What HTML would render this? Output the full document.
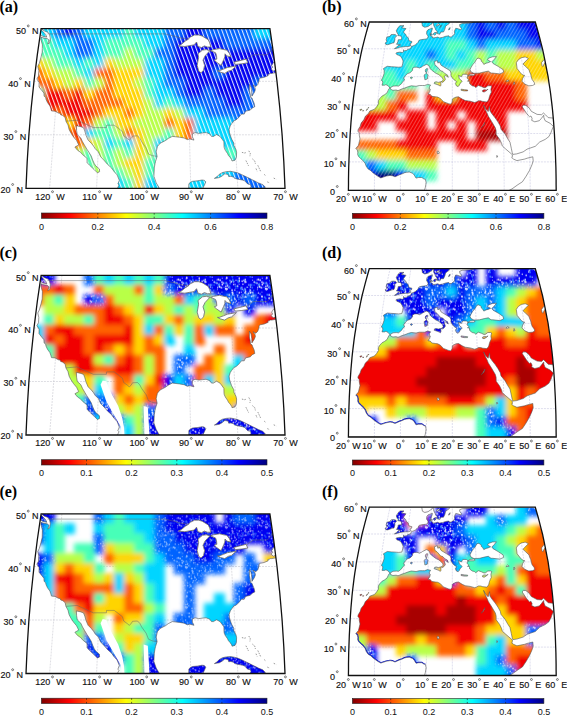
<!DOCTYPE html><html><head><meta charset="utf-8"><style>html,body{margin:0;padding:0;background:#fff;overflow:hidden}svg{display:block}</style></head><body><svg width="567" height="715" viewBox="0 0 567 715"><defs><mask id="mkA" maskUnits="userSpaceOnUse" x="0" y="0" width="567" height="240">
<polygon points="41.1,28.7 269.9,28.7 269.9,28.7 273.7,54.8 277.0,81.3 279.8,108.0 282.1,134.8 283.8,161.5 285.0,188.3 26.0,188.3 26.0,188.3 27.2,161.5 28.9,134.8 31.2,108.0 34.0,81.3 37.3,54.8 41.1,28.7" fill="#fff"/>
<polygon points="16.8,25.6 40.4,25.6 41.5,28.7 44.1,30.8 48.1,32.4 49.5,34.5 50.3,38.1 49.7,42.8 47.8,43.9 49.1,40.2 47.2,38.6 43.9,38.1 41.1,37.1 41.0,39.7 42.4,44.9 42.3,48.3 42.2,52.2 41.1,56.9 39.3,63.3 37.8,66.3 38.8,70.7 38.5,76.0 36.9,79.0 39.1,82.4 39.0,86.9 41.7,90.4 43.9,93.0 44.1,96.2 45.7,97.6 46.0,99.4 47.5,102.6 49.9,105.9 50.8,108.5 51.5,110.9 55.0,111.2 58.4,113.1 60.2,113.3 60.6,114.7 62.8,115.5 65.2,117.6 65.7,120.3 66.0,121.4 68.0,124.9 69.1,129.4 70.7,132.6 73.5,136.9 76.6,140.6 78.7,144.9 74.9,147.1 77.6,150.3 80.7,152.4 82.5,154.6 87.0,158.3 87.1,162.6 89.6,165.3 94.2,169.6 97.4,172.8 99.6,171.7 99.4,169.0 95.7,165.8 94.3,163.7 92.6,159.9 91.3,156.2 88.7,151.9 86.9,149.2 84.7,145.5 82.5,141.7 80.8,138.0 77.3,134.8 76.6,130.5 76.4,125.7 80.9,126.7 83.6,127.8 84.8,131.0 86.0,135.3 88.1,140.1 91.3,143.3 93.5,146.0 95.2,148.7 98.4,151.9 100.6,156.7 104.2,160.5 107.4,164.2 111.6,168.0 113.8,171.2 117.1,174.9 119.3,180.3 117.9,184.0 119.0,185.1 117.4,188.3 118.3,191.5 -2.4,191.5" fill="#000"/>
<polygon points="160.7,191.5 158.8,187.2 156.2,182.9 153.9,176.3 154.3,168.0 155.0,163.7 155.5,161.5 157.1,156.4 156.2,151.9 157.4,146.5 160.1,143.3 165.7,140.4 168.2,138.5 172.3,136.4 179.5,137.2 184.1,138.0 187.3,139.6 189.9,139.0 194.0,140.1 192.4,136.9 192.3,134.0 195.0,132.6 198.7,133.4 202.8,132.9 206.1,132.6 209.8,134.0 211.5,136.4 213.5,136.4 216.5,134.5 220.0,136.4 222.2,139.3 223.9,141.7 224.0,146.5 224.3,148.1 225.3,150.3 227.5,153.5 228.5,155.6 230.0,157.2 231.7,159.7 232.0,161.0 235.0,160.2 235.6,158.9 236.4,157.2 236.6,152.4 236.0,149.7 233.9,145.5 233.8,143.1 231.6,139.0 230.1,134.8 229.5,132.6 229.1,129.4 230.3,125.7 231.6,123.8 233.9,120.8 235.9,120.0 238.7,117.6 241.5,114.1 244.2,114.1 245.6,111.2 250.3,110.1 252.2,108.0 254.8,106.7 254.1,103.2 252.7,100.0 252.0,98.1 250.5,97.3 250.2,94.1 249.4,90.4 249.4,84.5 251.0,87.2 251.8,92.0 251.9,96.2 254.3,92.5 255.4,89.8 255.0,87.7 253.0,85.0 255.8,86.6 257.8,84.5 259.0,80.8 259.1,78.9 260.3,78.1 264.2,77.3 268.2,75.6 267.8,74.4 269.7,73.9 270.3,73.4 271.6,73.4 273.1,73.1 275.1,72.8 276.1,72.6 275.0,70.4 273.3,71.0 271.1,68.9 272.6,67.3 271.7,65.4 273.7,62.2 275.3,61.2 278.6,60.1 289.8,191.5" fill="#000"/>
<polygon points="29.4,24.6 39.3,24.6 40.2,28.7 43.1,31.8 45.7,34.5 46.8,37.1 42.9,36.3 39.1,33.9 34.5,30.8 30.6,26.7" fill="#fff"/>
<polygon points="188.0,191.5 188.7,188.3 188.9,183.7 190.7,182.1 192.6,181.3 197.8,180.8 202.0,180.0 204.3,180.3 205.8,181.9 204.4,185.1 202.8,188.3 202.6,191.5" fill="#fff"/>
<polygon points="214.4,178.4 216.9,176.8 219.2,174.4 222.5,172.5 226.2,171.7 230.4,171.3 234.2,172.0 237.5,172.8 241.2,174.4 244.6,176.0 248.9,178.1 252.7,180.0 256.5,181.9 258.4,182.9 262.7,184.6 265.4,187.2 263.8,188.0 260.5,188.8 254.4,188.8 248.8,189.2 251.0,186.7 250.5,184.6 247.7,184.0 244.7,180.8 242.4,180.0 238.1,179.2 234.8,178.4 233.4,177.1 231.0,176.3 228.7,176.5 228.1,174.4 224.8,173.8 222.1,176.0 219.3,177.6" fill="#fff"/>
<polygon points="178.5,45.9 181.4,44.4 185.1,41.2 187.6,39.7 190.4,37.1 194.5,35.0 198.7,35.0 202.1,36.0 208.2,39.7 209.7,42.8 210.8,47.0 207.4,47.0 204.4,45.9 201.5,47.5 198.0,46.5 197.0,43.3 196.5,42.0 194.1,44.9 189.1,45.7 184.8,46.5" fill="#000"/>
<polygon points="209.8,50.7 206.3,49.6 202.5,50.1 198.0,53.8 198.6,57.5 197.2,65.4 198.8,71.2 201.0,72.8 203.5,70.2 204.6,65.4 203.0,60.1 205.0,55.9 207.4,53.3" fill="#000"/>
<polygon points="210.6,50.7 213.6,49.6 219.5,48.6 223.8,49.6 226.8,50.1 229.3,53.3 230.9,56.9 226.9,55.9 225.0,53.8 224.8,56.9 223.7,59.6 221.1,65.4 216.6,62.2 214.3,60.1 216.8,59.1 216.5,55.4 215.5,52.7" fill="#000"/>
<polygon points="217.5,70.7 220.7,72.3 224.7,73.4 228.1,71.2 231.5,70.2 236.4,65.9 232.1,66.7 227.4,67.5 223.5,69.1 219.3,70.7" fill="#000"/>
<polygon points="235.4,64.4 233.9,62.2 239.8,60.7 246.1,59.1 247.8,62.8 241.8,63.8" fill="#000"/>
</mask><mask id="mkB" maskUnits="userSpaceOnUse" x="0" y="0" width="567" height="240">
<polygon points="369.3,22.0 535.3,22.0 535.3,22.0 536.8,27.3 538.3,32.6 539.7,37.9 541.1,43.4 542.5,48.8 543.7,54.4 544.8,59.9 545.9,65.5 547.0,71.1 548.1,76.7 548.9,82.4 549.8,88.0 550.6,93.7 551.3,99.4 552.0,105.1 552.6,110.8 553.1,116.4 553.6,122.1 554.0,127.8 554.4,133.5 554.7,139.2 555.0,144.8 555.3,150.5 555.5,156.2 555.7,161.9 555.9,167.6 556.0,173.3 556.1,178.9 556.1,184.6 556.2,190.3 348.4,190.3 348.4,190.3 348.5,184.6 348.5,178.9 348.6,173.3 348.7,167.6 348.9,161.9 349.1,156.2 349.3,150.5 349.6,144.8 349.9,139.2 350.2,133.5 350.6,127.8 351.0,122.1 351.5,116.4 352.0,110.8 352.6,105.1 353.3,99.4 354.0,93.7 354.8,88.0 355.7,82.4 356.5,76.7 357.6,71.1 358.7,65.5 359.8,59.9 360.9,54.4 362.1,48.8 363.5,43.4 364.9,37.9 366.3,32.6 367.8,27.3 369.3,22.0" fill="#fff"/>
<polygon points="335.4,190.3 359.9,19.5 421.3,19.5 421.3,21.0 421.8,22.5 422.2,24.6 422.4,26.0 424.8,27.3 428.1,26.5 430.3,24.9 432.1,23.6 433.0,22.3 433.5,24.1 433.8,25.7 435.1,28.1 435.7,29.9 437.1,31.3 437.2,33.6 439.8,34.3 440.2,33.4 440.9,32.0 443.5,32.0 444.9,29.1 445.6,26.2 447.3,24.9 449.2,23.6 449.4,22.0 449.0,20.5 447.2,19.5 455.0,19.5 455.4,20.7 456.4,22.0 459.6,21.7 462.7,21.5 466.7,20.7 470.9,21.5 473.5,22.3 470.0,23.1 465.8,23.3 462.1,23.6 459.6,24.6 459.9,26.5 461.4,28.3 461.0,29.9 457.6,28.6 455.7,28.3 454.4,31.3 454.7,33.4 453.6,35.2 452.3,36.0 451.4,36.9 449.5,36.9 448.8,35.8 445.6,36.3 442.5,37.4 439.6,37.9 437.7,37.1 435.0,37.7 432.4,37.9 432.7,36.9 430.6,35.8 430.2,33.9 431.5,32.0 431.6,31.0 432.1,29.9 432.4,28.1 428.0,29.7 426.8,31.3 426.6,33.9 427.6,35.5 428.1,36.6 427.6,38.2 426.2,39.0 423.8,39.3 421.6,39.6 419.3,40.1 418.7,40.9 418.1,42.3 417.0,43.4 415.5,44.7 414.4,45.3 412.9,46.0 411.6,46.2 410.6,48.5 407.6,49.6 406.4,50.5 404.5,50.7 403.5,49.8 403.4,52.0 402.3,52.6 400.0,52.1 396.6,52.7 395.9,53.2 396.8,54.6 398.5,55.2 400.7,56.3 402.0,58.5 403.1,61.0 402.7,63.8 401.8,66.9 398.5,67.2 396.4,67.0 391.5,66.7 387.3,66.3 385.6,67.2 383.4,68.6 384.2,70.5 384.1,73.6 383.1,76.7 381.3,80.4 382.6,81.0 382.7,82.7 382.0,85.2 384.6,85.2 385.9,84.6 388.2,85.8 389.9,88.0 389.6,88.3 389.1,88.6 388.2,90.3 387.0,92.9 384.4,94.8 382.1,96.0 379.8,98.5 378.4,100.8 378.5,103.9 376.6,106.8 374.4,109.3 369.8,111.0 368.3,113.6 365.4,116.2 363.8,119.8 361.2,123.0 360.1,126.4 358.1,129.8 357.9,131.2 359.2,132.9 359.3,135.2 360.0,138.9 358.9,143.4 358.4,145.4 355.8,148.4 357.3,150.0 357.8,152.2 357.7,154.5 358.6,156.5 360.9,158.8 362.9,160.5 365.1,163.3 366.2,166.2 368.1,169.0 371.0,170.7 372.5,172.4 377.6,176.1 380.8,177.9 386.2,176.1 390.1,175.4 392.6,175.8 395.0,176.8 399.7,174.7 402.3,173.8 404.6,172.7 406.7,172.3 409.3,172.0 412.6,173.3 414.2,175.0 416.0,178.1 418.6,177.5 421.9,177.5 423.8,178.9 425.3,179.2 426.1,182.3 425.8,184.6 425.3,187.5 424.8,189.2 424.2,190.3 424.0,190.3" fill="#000"/>
<polygon points="389.9,88.0 393.0,86.1 396.4,85.9 398.6,86.1 401.7,83.5 402.8,81.5 404.6,80.1 403.6,78.1 405.7,75.3 407.6,73.6 410.0,72.8 412.6,70.3 412.5,68.3 414.7,67.2 416.6,67.2 418.0,67.4 419.4,68.0 421.8,66.9 422.5,66.3 426.4,64.4 428.4,65.2 429.5,66.6 430.2,68.6 431.5,70.0 434.0,71.9 435.9,73.3 438.5,74.5 440.8,76.2 442.5,78.1 443.2,79.8 441.8,81.7 442.4,82.4 444.1,81.2 445.3,79.5 445.1,78.4 444.2,76.4 445.6,75.4 447.5,76.7 448.3,77.3 447.4,74.9 444.9,73.6 442.8,71.4 440.7,70.8 437.0,66.6 435.0,65.2 434.6,62.7 434.4,61.6 436.8,60.7 437.8,60.9 437.4,61.8 438.1,63.2 439.3,61.8 441.1,65.2 443.8,66.9 447.8,69.3 450.2,70.8 451.0,73.1 450.9,75.3 452.3,77.8 454.0,79.8 456.6,81.5 455.4,83.5 456.4,85.8 458.1,86.6 459.3,85.2 460.0,83.5 461.2,82.5 462.2,81.2 459.3,78.7 458.5,75.3 461.4,76.7 462.8,74.2 466.4,74.3 468.1,75.6 466.9,78.1 468.9,79.8 467.5,81.2 469.4,81.2 469.7,83.8 472.2,85.8 474.4,86.3 475.7,87.5 478.3,85.5 481.5,86.6 484.0,87.8 485.7,87.5 487.8,85.8 490.7,85.8 491.7,86.3 491.1,88.3 490.9,89.5 491.3,92.3 490.4,94.0 489.5,96.3 489.3,97.1 488.8,99.1 488.0,100.8 486.6,101.9 482.8,101.5 480.6,100.8 478.3,100.8 476.9,101.7 474.7,102.5 470.2,101.2 465.2,100.5 462.2,99.1 458.5,96.8 456.0,97.1 453.0,98.5 452.4,99.1 452.1,102.2 450.6,104.2 448.6,103.7 443.4,101.7 440.4,98.5 437.7,97.1 435.5,96.8 431.8,96.3 430.2,94.3 428.0,94.0 429.7,91.7 430.3,89.2 429.4,88.6 429.4,86.9 430.6,85.1 428.3,84.6 427.6,84.4 424.6,85.5 422.7,85.5 419.3,85.5 416.1,86.3 411.3,85.8 408.5,86.6 404.0,88.3 402.0,88.9 399.5,90.0 398.0,90.6 396.1,90.0 392.9,90.3 390.5,89.2 390.4,88.3" fill="#000"/>
<polygon points="473.9,73.3 471.0,71.9 470.0,69.7 470.9,67.7 472.5,64.9 474.9,62.1 477.0,58.5 478.8,58.2 481.2,59.6 481.3,61.3 482.5,62.1 483.8,64.4 486.1,63.2 488.1,62.7 490.6,61.6 487.5,59.9 488.5,58.2 492.5,56.8 496.4,56.6 494.3,59.3 491.8,61.8 493.1,63.5 498.5,66.6 503.1,69.7 503.6,72.2 499.9,73.9 492.7,73.1 491.0,73.1 488.3,71.1 484.3,71.9 479.6,73.1 476.1,73.3" fill="#000"/>
<polygon points="473.7,73.9 470.2,74.2 468.3,75.3 467.8,75.9 469.7,75.6 473.3,75.6 475.2,74.7" fill="#000"/>
<polygon points="524.7,57.1 521.3,57.7 518.2,59.9 516.3,62.7 516.9,66.9 517.1,68.6 521.3,73.9 524.0,75.6 524.6,75.3 522.6,78.4 522.0,81.2 524.7,84.1 528.8,85.8 532.4,85.5 534.7,84.4 534.2,82.4 532.1,79.5 531.3,77.0 530.7,74.2 529.6,71.9 529.0,69.7 525.7,66.6 523.0,64.1 524.8,62.1 528.4,58.5 525.6,57.1" fill="#000"/>
<polygon points="545.6,58.0 543.7,59.9 541.5,62.7 542.0,65.5 542.9,66.6 544.2,63.8 546.3,61.3" fill="#000"/>
<polygon points="483.6,105.2 485.1,109.3 487.0,113.0 488.3,116.2 491.8,121.8 495.3,127.8 496.1,130.6 496.2,134.6 499.6,139.2 501.6,143.4 502.3,146.0 505.8,149.1 510.8,153.4 512.4,154.8 512.2,157.3 511.7,157.6 513.5,159.1 516.9,160.6 524.6,159.1 527.2,158.2 532.8,156.8 533.2,160.8 532.0,164.7 529.5,170.4 526.2,176.1 522.4,181.8 518.0,184.6 512.0,188.9 509.4,190.3 509.2,190.3 571.8,190.3 568.5,118.4 557.1,118.4 553.3,118.1 548.2,117.6 545.4,114.7 543.5,113.0 541.6,114.7 537.1,114.4 531.3,111.3 529.3,108.2 525.9,105.4 523.4,105.1 522.2,106.8 523.9,109.3 526.7,113.6 528.4,115.6 529.5,116.7 530.9,116.0 532.1,118.4 531.7,120.4 534.8,121.8 539.3,120.7 541.4,118.4 543.7,115.3 543.9,117.6 545.1,120.7 550.1,123.3 553.4,126.4 551.6,130.6 551.2,132.1 548.9,136.6 545.2,139.4 539.7,142.0 535.3,146.3 527.2,149.1 523.1,151.9 516.7,153.9 512.8,154.4 512.2,152.5 511.3,148.3 510.0,142.3 507.6,138.6 504.9,133.8 501.0,129.2 500.3,126.1 497.9,121.8 495.2,117.9 492.0,113.9 489.9,110.8 489.6,106.5 488.4,110.8 488.1,111.6 485.6,109.1" fill="#000"/>
<polygon points="404.0,25.7 399.8,25.7 397.6,28.3 396.3,30.7 397.2,33.1 398.2,34.4 397.8,35.5 401.0,36.0 401.6,37.7 401.6,39.6 398.2,39.8 398.0,41.2 397.3,43.1 396.4,44.2 398.9,44.5 400.6,45.0 398.2,45.5 396.6,47.2 394.4,48.7 397.9,48.0 399.8,47.2 403.0,46.9 405.7,46.6 408.2,46.6 410.7,45.8 410.8,45.0 409.8,43.9 411.5,43.1 411.9,41.5 409.1,40.8 408.6,39.3 408.2,37.7 406.4,36.3 405.6,34.2 403.7,32.6 403.6,31.8 404.4,30.7 406.0,28.6 403.2,28.1 401.6,27.6 404.0,25.7" fill="#fff"/>
<polygon points="393.2,34.4 391.0,34.7 390.1,36.3 386.9,37.1 386.2,39.6 386.9,41.7 385.1,43.1 385.9,44.5 387.7,44.7 390.0,43.9 392.4,43.1 394.0,42.8 394.9,39.8 394.8,37.9 396.6,36.0 395.6,34.7" fill="#fff"/>
<polygon points="436.4,32.3 436.3,33.4 435.4,34.7 434.3,35.2 433.1,33.9 434.2,32.8" fill="#fff"/>
<polygon points="431.6,33.6 432.4,35.0 430.8,35.2 430.3,34.2" fill="#fff"/>
<polygon points="450.2,27.6 449.7,29.4 448.5,29.9 449.3,28.1" fill="#fff"/>
<polygon points="359.9,109.6 360.3,110.5 361.6,109.9 361.7,109.1" fill="#fff"/>
<polygon points="362.8,110.2 363.0,111.3 363.6,110.5" fill="#fff"/>
<polygon points="367.2,108.8 366.3,110.5 367.4,109.6" fill="#fff"/>
<polygon points="368.6,107.3 367.8,108.2 368.8,107.9" fill="#fff"/>
<polygon points="427.3,68.3 427.5,69.4 426.6,72.8 425.7,72.2 425.3,70.8 425.6,69.4" fill="#fff"/>
<polygon points="426.6,73.2 427.9,75.3 427.3,79.0 424.9,79.8 424.5,77.0 424.1,75.0 425.6,73.9" fill="#fff"/>
<polygon points="441.7,81.5 440.9,82.7 440.9,85.2 440.4,86.1 438.2,84.9 434.1,83.5 434.7,82.1 436.4,81.8 438.3,82.4" fill="#fff"/>
<polygon points="461.1,89.2 461.1,90.3 464.1,90.9 467.5,90.9 467.7,90.0 464.5,89.7" fill="#fff"/>
<polygon points="488.0,89.2 486.6,90.6 484.2,92.0 482.7,91.7 482.4,90.6 484.1,89.7 486.5,90.0" fill="#fff"/>
<polygon points="411.8,77.0 412.5,77.8 411.5,78.7 410.1,77.8" fill="#fff"/>
<polygon points="438.1,23.6 439.7,24.6 436.7,26.2 436.6,25.2" fill="#000"/>
<polygon points="441.4,24.9 439.8,27.8 440.7,27.0" fill="#000"/>
<polygon points="485.0,122.4 482.8,126.4 481.3,127.8 483.8,125.5" fill="#000"/>
<polygon points="507.6,79.8 505.9,81.5 509.2,81.0" fill="#000"/>
<polygon points="514.1,81.8 513.6,84.4 515.0,83.8" fill="#000"/>
<polygon points="496.9,155.4 496.7,157.3 497.7,156.8" fill="#000"/>
<polygon points="437.1,151.4 437.6,153.9 439.4,153.1 438.4,151.1" fill="#000"/>
<polygon points="473.9,20.0 475.1,22.0 478.2,21.2 476.9,19.5" fill="#000"/>
</mask><clipPath id="cfA"><polygon points="41.1,28.7 269.9,28.7 269.9,28.7 273.7,54.8 277.0,81.3 279.8,108.0 282.1,134.8 283.8,161.5 285.0,188.3 26.0,188.3 26.0,188.3 27.2,161.5 28.9,134.8 31.2,108.0 34.0,81.3 37.3,54.8 41.1,28.7"/></clipPath><clipPath id="cfB"><polygon points="369.3,22.0 535.3,22.0 535.3,22.0 536.8,27.3 538.3,32.6 539.7,37.9 541.1,43.4 542.5,48.8 543.7,54.4 544.8,59.9 545.9,65.5 547.0,71.1 548.1,76.7 548.9,82.4 549.8,88.0 550.6,93.7 551.3,99.4 552.0,105.1 552.6,110.8 553.1,116.4 553.6,122.1 554.0,127.8 554.4,133.5 554.7,139.2 555.0,144.8 555.3,150.5 555.5,156.2 555.7,161.9 555.9,167.6 556.0,173.3 556.1,178.9 556.1,184.6 556.2,190.3 348.4,190.3 348.4,190.3 348.5,184.6 348.5,178.9 348.6,173.3 348.7,167.6 348.9,161.9 349.1,156.2 349.3,150.5 349.6,144.8 349.9,139.2 350.2,133.5 350.6,127.8 351.0,122.1 351.5,116.4 352.0,110.8 352.6,105.1 353.3,99.4 354.0,93.7 354.8,88.0 355.7,82.4 356.5,76.7 357.6,71.1 358.7,65.5 359.8,59.9 360.9,54.4 362.1,48.8 363.5,43.4 364.9,37.9 366.3,32.6 367.8,27.3 369.3,22.0"/></clipPath><filter id="bl" x="-5%" y="-5%" width="110%" height="110%"><feGaussianBlur stdDeviation="2.5"/></filter><pattern id="stA" patternUnits="userSpaceOnUse" width="3.8" height="3.8" patternTransform="rotate(-20)"><rect x="0" y="0" width="1.1" height="3.8" fill="#fff"/></pattern><pattern id="stB" patternUnits="userSpaceOnUse" width="3" height="3" patternTransform="rotate(30)"><rect x="0" y="0" width="0.9" height="3" fill="#fff"/></pattern><pattern id="spk" patternUnits="userSpaceOnUse" width="40" height="40"><circle cx="12.95" cy="6.03" r="0.83" fill="#fff"/><circle cx="2.90" cy="21.44" r="0.68" fill="#fff"/><circle cx="2.32" cy="20.30" r="0.52" fill="#fff"/><circle cx="17.35" cy="2.79" r="0.55" fill="#fff"/><circle cx="16.98" cy="33.07" r="0.56" fill="#fff"/><circle cx="8.93" cy="25.10" r="0.97" fill="#fff"/><circle cx="23.08" cy="15.87" r="0.99" fill="#fff"/><circle cx="1.86" cy="34.34" r="0.64" fill="#fff"/><circle cx="5.77" cy="4.71" r="0.65" fill="#fff"/><circle cx="32.65" cy="7.23" r="0.79" fill="#fff"/><circle cx="25.56" cy="14.90" r="0.77" fill="#fff"/><circle cx="2.51" cy="2.38" r="0.60" fill="#fff"/><circle cx="27.22" cy="17.10" r="0.66" fill="#fff"/><circle cx="23.42" cy="18.13" r="0.65" fill="#fff"/><circle cx="31.78" cy="27.96" r="0.62" fill="#fff"/><circle cx="22.98" cy="21.01" r="0.94" fill="#fff"/><circle cx="29.18" cy="11.52" r="0.99" fill="#fff"/><circle cx="4.72" cy="16.72" r="0.88" fill="#fff"/><circle cx="6.08" cy="19.56" r="0.52" fill="#fff"/><circle cx="26.73" cy="30.58" r="0.79" fill="#fff"/><circle cx="35.02" cy="12.55" r="0.85" fill="#fff"/><circle cx="23.77" cy="23.20" r="0.73" fill="#fff"/><circle cx="33.60" cy="37.79" r="0.74" fill="#fff"/><circle cx="26.57" cy="2.43" r="0.85" fill="#fff"/><circle cx="25.89" cy="39.72" r="0.91" fill="#fff"/><circle cx="11.38" cy="15.43" r="0.83" fill="#fff"/><circle cx="0.90" cy="18.47" r="0.58" fill="#fff"/><circle cx="4.68" cy="2.36" r="0.88" fill="#fff"/><circle cx="5.17" cy="9.90" r="0.70" fill="#fff"/><circle cx="34.86" cy="3.22" r="0.72" fill="#fff"/><circle cx="21.98" cy="35.34" r="0.91" fill="#fff"/><circle cx="34.56" cy="11.14" r="0.71" fill="#fff"/><circle cx="14.35" cy="35.37" r="0.98" fill="#fff"/><circle cx="6.04" cy="7.05" r="0.62" fill="#fff"/><circle cx="9.33" cy="19.40" r="0.79" fill="#fff"/><circle cx="10.51" cy="0.16" r="0.71" fill="#fff"/><circle cx="14.77" cy="22.65" r="0.98" fill="#fff"/><circle cx="27.62" cy="20.62" r="0.81" fill="#fff"/><circle cx="27.05" cy="2.16" r="0.95" fill="#fff"/><circle cx="31.20" cy="34.98" r="0.90" fill="#fff"/><circle cx="15.70" cy="15.96" r="0.55" fill="#fff"/><circle cx="25.37" cy="2.49" r="0.53" fill="#fff"/><circle cx="8.35" cy="6.49" r="0.67" fill="#fff"/><circle cx="2.10" cy="0.01" r="0.58" fill="#fff"/><circle cx="4.06" cy="14.54" r="0.51" fill="#fff"/><circle cx="34.97" cy="24.56" r="0.57" fill="#fff"/><circle cx="10.09" cy="13.90" r="0.68" fill="#fff"/><circle cx="4.91" cy="33.96" r="1.00" fill="#fff"/><circle cx="18.64" cy="19.35" r="0.54" fill="#fff"/><circle cx="4.09" cy="13.71" r="0.63" fill="#fff"/><circle cx="33.15" cy="6.46" r="0.51" fill="#fff"/><circle cx="38.04" cy="21.13" r="0.57" fill="#fff"/><circle cx="21.73" cy="1.08" r="0.76" fill="#fff"/><circle cx="39.14" cy="34.53" r="0.85" fill="#fff"/><circle cx="10.44" cy="14.67" r="0.58" fill="#fff"/><circle cx="30.88" cy="21.30" r="0.89" fill="#fff"/><circle cx="13.19" cy="8.92" r="0.91" fill="#fff"/><circle cx="39.40" cy="34.11" r="0.90" fill="#fff"/><circle cx="32.73" cy="29.59" r="0.61" fill="#fff"/><circle cx="20.71" cy="14.22" r="0.51" fill="#fff"/><circle cx="1.12" cy="11.18" r="0.63" fill="#fff"/><circle cx="27.70" cy="38.26" r="0.72" fill="#fff"/><circle cx="37.48" cy="39.52" r="0.98" fill="#fff"/><circle cx="14.59" cy="8.82" r="0.61" fill="#fff"/><circle cx="7.87" cy="8.17" r="0.81" fill="#fff"/><circle cx="36.01" cy="33.62" r="0.74" fill="#fff"/><circle cx="26.12" cy="31.99" r="0.54" fill="#fff"/><circle cx="26.42" cy="36.39" r="0.89" fill="#fff"/><circle cx="30.01" cy="19.12" r="0.59" fill="#fff"/><circle cx="31.57" cy="13.30" r="0.90" fill="#fff"/><circle cx="38.87" cy="15.83" r="0.70" fill="#fff"/><circle cx="37.87" cy="28.99" r="0.59" fill="#fff"/><circle cx="5.08" cy="6.05" r="0.95" fill="#fff"/><circle cx="32.26" cy="5.85" r="0.91" fill="#fff"/><circle cx="39.21" cy="26.29" r="0.68" fill="#fff"/><circle cx="21.95" cy="5.24" r="0.51" fill="#fff"/><circle cx="38.84" cy="25.99" r="0.76" fill="#fff"/><circle cx="37.34" cy="17.35" r="0.94" fill="#fff"/><circle cx="33.05" cy="8.44" r="0.63" fill="#fff"/><circle cx="11.72" cy="9.62" r="0.79" fill="#fff"/><circle cx="10.37" cy="16.76" r="0.57" fill="#fff"/><circle cx="36.40" cy="14.15" r="0.73" fill="#fff"/><circle cx="23.33" cy="36.17" r="0.71" fill="#fff"/><circle cx="36.71" cy="20.07" r="0.77" fill="#fff"/><circle cx="20.94" cy="0.75" r="0.72" fill="#fff"/><circle cx="7.32" cy="0.16" r="0.90" fill="#fff"/><circle cx="6.89" cy="18.94" r="0.86" fill="#fff"/><circle cx="22.26" cy="13.04" r="0.76" fill="#fff"/><circle cx="22.22" cy="31.37" r="0.55" fill="#fff"/><circle cx="22.41" cy="9.94" r="0.64" fill="#fff"/><circle cx="30.89" cy="20.31" r="0.78" fill="#fff"/><circle cx="30.40" cy="36.50" r="0.72" fill="#fff"/><circle cx="24.50" cy="20.22" r="0.76" fill="#fff"/><circle cx="27.71" cy="18.09" r="0.77" fill="#fff"/><circle cx="19.12" cy="37.66" r="0.85" fill="#fff"/><circle cx="35.06" cy="37.69" r="0.63" fill="#fff"/><circle cx="22.38" cy="37.73" r="0.92" fill="#fff"/><circle cx="5.49" cy="4.86" r="0.72" fill="#fff"/><circle cx="2.90" cy="9.63" r="0.54" fill="#fff"/><circle cx="26.78" cy="31.36" r="0.95" fill="#fff"/><circle cx="6.18" cy="28.64" r="0.83" fill="#fff"/><circle cx="5.72" cy="35.31" r="0.98" fill="#fff"/><circle cx="8.78" cy="38.10" r="0.70" fill="#fff"/><circle cx="19.49" cy="39.59" r="0.92" fill="#fff"/><circle cx="6.46" cy="17.26" r="0.76" fill="#fff"/><circle cx="13.56" cy="7.83" r="0.66" fill="#fff"/><circle cx="28.89" cy="0.78" r="0.78" fill="#fff"/><circle cx="17.62" cy="0.72" r="0.67" fill="#fff"/><circle cx="24.96" cy="20.49" r="0.53" fill="#fff"/><circle cx="39.40" cy="31.53" r="0.99" fill="#fff"/><circle cx="4.19" cy="10.62" r="0.52" fill="#fff"/><circle cx="31.16" cy="10.82" r="0.56" fill="#fff"/><circle cx="16.89" cy="36.46" r="0.91" fill="#fff"/><circle cx="10.34" cy="5.97" r="0.96" fill="#fff"/><circle cx="22.82" cy="28.02" r="0.54" fill="#fff"/><circle cx="2.30" cy="27.53" r="0.71" fill="#fff"/><circle cx="2.90" cy="37.53" r="0.82" fill="#fff"/><circle cx="32.07" cy="3.35" r="0.93" fill="#fff"/><circle cx="2.66" cy="34.51" r="0.73" fill="#fff"/><circle cx="13.57" cy="22.12" r="0.96" fill="#fff"/><circle cx="10.71" cy="5.17" r="0.76" fill="#fff"/><circle cx="9.54" cy="4.38" r="0.58" fill="#fff"/><circle cx="2.02" cy="8.07" r="0.66" fill="#fff"/><circle cx="12.20" cy="30.38" r="0.64" fill="#fff"/><circle cx="20.00" cy="7.12" r="0.67" fill="#fff"/><circle cx="0.73" cy="10.02" r="0.51" fill="#fff"/><circle cx="29.32" cy="22.04" r="0.59" fill="#fff"/><circle cx="18.99" cy="37.39" r="0.55" fill="#fff"/><circle cx="32.76" cy="17.29" r="0.75" fill="#fff"/><circle cx="33.38" cy="15.72" r="0.75" fill="#fff"/><circle cx="27.51" cy="39.30" r="0.67" fill="#fff"/><circle cx="33.29" cy="28.27" r="0.82" fill="#fff"/><circle cx="16.19" cy="13.90" r="0.53" fill="#fff"/><circle cx="5.19" cy="2.83" r="0.87" fill="#fff"/><circle cx="10.22" cy="6.53" r="0.54" fill="#fff"/><circle cx="33.65" cy="34.82" r="0.84" fill="#fff"/><circle cx="11.28" cy="9.69" r="0.65" fill="#fff"/><circle cx="18.38" cy="6.30" r="0.72" fill="#fff"/><circle cx="10.53" cy="38.47" r="0.99" fill="#fff"/><circle cx="21.88" cy="9.78" r="0.98" fill="#fff"/><circle cx="12.38" cy="14.26" r="0.50" fill="#fff"/><circle cx="15.27" cy="18.99" r="0.75" fill="#fff"/><circle cx="8.04" cy="20.19" r="0.50" fill="#fff"/><circle cx="10.57" cy="3.59" r="0.70" fill="#fff"/><circle cx="1.67" cy="0.90" r="0.65" fill="#fff"/><circle cx="9.31" cy="23.42" r="0.76" fill="#fff"/><circle cx="30.02" cy="26.30" r="0.86" fill="#fff"/><circle cx="35.16" cy="15.58" r="0.66" fill="#fff"/><circle cx="39.39" cy="5.98" r="0.86" fill="#fff"/><circle cx="25.73" cy="1.75" r="0.92" fill="#fff"/><circle cx="35.68" cy="25.09" r="0.87" fill="#fff"/><circle cx="32.49" cy="5.57" r="0.76" fill="#fff"/><circle cx="20.17" cy="33.40" r="0.90" fill="#fff"/><circle cx="33.06" cy="23.36" r="0.95" fill="#fff"/><circle cx="27.32" cy="27.73" r="0.61" fill="#fff"/><circle cx="1.25" cy="5.32" r="0.68" fill="#fff"/><circle cx="4.20" cy="33.43" r="0.78" fill="#fff"/><circle cx="25.11" cy="25.05" r="0.84" fill="#fff"/><circle cx="19.57" cy="0.13" r="0.90" fill="#fff"/><circle cx="29.93" cy="20.12" r="0.77" fill="#fff"/><circle cx="26.37" cy="2.64" r="0.87" fill="#fff"/><circle cx="10.09" cy="2.98" r="0.63" fill="#fff"/><circle cx="29.17" cy="8.21" r="0.87" fill="#fff"/><circle cx="39.03" cy="19.76" r="0.69" fill="#fff"/><circle cx="19.16" cy="27.35" r="0.88" fill="#fff"/><circle cx="24.68" cy="25.71" r="0.54" fill="#fff"/><circle cx="5.90" cy="10.16" r="0.87" fill="#fff"/><circle cx="12.18" cy="22.71" r="0.51" fill="#fff"/><circle cx="2.43" cy="10.75" r="0.84" fill="#fff"/><circle cx="27.69" cy="27.03" r="0.65" fill="#fff"/><circle cx="20.66" cy="18.59" r="0.73" fill="#fff"/><circle cx="4.74" cy="35.75" r="0.60" fill="#fff"/><circle cx="39.13" cy="37.45" r="0.51" fill="#fff"/><circle cx="18.36" cy="32.80" r="0.98" fill="#fff"/><circle cx="17.98" cy="10.75" r="0.60" fill="#fff"/><circle cx="37.82" cy="8.43" r="0.79" fill="#fff"/><circle cx="5.67" cy="20.96" r="0.98" fill="#fff"/><circle cx="5.30" cy="32.81" r="0.75" fill="#fff"/><circle cx="35.47" cy="28.13" r="0.62" fill="#fff"/><circle cx="35.91" cy="19.45" r="0.51" fill="#fff"/><circle cx="0.14" cy="19.67" r="0.73" fill="#fff"/><circle cx="12.08" cy="5.63" r="0.67" fill="#fff"/><circle cx="12.64" cy="33.61" r="0.50" fill="#fff"/><circle cx="30.03" cy="33.56" r="0.56" fill="#fff"/><circle cx="37.06" cy="28.52" r="0.95" fill="#fff"/><circle cx="11.59" cy="14.89" r="0.70" fill="#fff"/><circle cx="39.95" cy="23.57" r="0.68" fill="#fff"/><circle cx="17.12" cy="11.01" r="0.52" fill="#fff"/><circle cx="4.07" cy="33.39" r="0.64" fill="#fff"/><circle cx="37.42" cy="9.97" r="0.63" fill="#fff"/><circle cx="20.44" cy="7.59" r="0.79" fill="#3a8cff"/><circle cx="38.25" cy="35.37" r="1.01" fill="#3a8cff"/><circle cx="25.24" cy="36.54" r="1.07" fill="#3a8cff"/><circle cx="21.97" cy="28.78" r="0.62" fill="#3a8cff"/><circle cx="29.29" cy="18.03" r="0.98" fill="#3a8cff"/><circle cx="25.78" cy="11.45" r="0.62" fill="#3a8cff"/><circle cx="37.07" cy="5.09" r="0.84" fill="#3a8cff"/><circle cx="13.75" cy="11.91" r="0.97" fill="#3a8cff"/><circle cx="39.05" cy="10.41" r="0.93" fill="#3a8cff"/><circle cx="12.03" cy="22.29" r="0.80" fill="#3a8cff"/><circle cx="6.69" cy="6.47" r="0.70" fill="#3a8cff"/><circle cx="36.24" cy="19.88" r="0.71" fill="#3a8cff"/><circle cx="36.25" cy="39.86" r="0.82" fill="#3a8cff"/><circle cx="5.58" cy="7.70" r="0.65" fill="#3a8cff"/><circle cx="13.68" cy="3.64" r="0.72" fill="#3a8cff"/><circle cx="10.33" cy="22.78" r="1.04" fill="#3a8cff"/><circle cx="29.99" cy="16.51" r="0.81" fill="#3a8cff"/><circle cx="20.97" cy="15.07" r="0.77" fill="#3a8cff"/><circle cx="2.48" cy="11.10" r="1.08" fill="#3a8cff"/><circle cx="5.03" cy="20.14" r="0.91" fill="#3a8cff"/><circle cx="34.51" cy="8.64" r="0.74" fill="#3a8cff"/><circle cx="9.94" cy="15.99" r="0.82" fill="#3a8cff"/><circle cx="38.16" cy="33.95" r="1.04" fill="#3a8cff"/><circle cx="0.87" cy="1.29" r="0.95" fill="#3a8cff"/><circle cx="35.83" cy="18.93" r="0.89" fill="#3a8cff"/><circle cx="0.01" cy="15.66" r="1.06" fill="#3a8cff"/><circle cx="33.02" cy="34.22" r="1.09" fill="#3a8cff"/><circle cx="9.94" cy="4.36" r="0.68" fill="#3a8cff"/><circle cx="20.89" cy="27.28" r="1.07" fill="#3a8cff"/><circle cx="28.87" cy="25.89" r="0.98" fill="#3a8cff"/><circle cx="18.29" cy="22.06" r="0.62" fill="#3a8cff"/><circle cx="31.29" cy="9.30" r="1.06" fill="#3a8cff"/><circle cx="25.82" cy="12.15" r="0.66" fill="#3a8cff"/><circle cx="10.07" cy="25.45" r="0.95" fill="#3a8cff"/><circle cx="4.49" cy="2.81" r="0.86" fill="#3a8cff"/><circle cx="23.32" cy="15.52" r="0.71" fill="#3a8cff"/><circle cx="24.04" cy="0.42" r="0.75" fill="#3a8cff"/><circle cx="18.43" cy="38.36" r="0.92" fill="#3a8cff"/><circle cx="35.35" cy="19.01" r="0.72" fill="#3a8cff"/><circle cx="9.88" cy="38.42" r="0.95" fill="#3a8cff"/><circle cx="12.30" cy="0.87" r="0.85" fill="#3a8cff"/><circle cx="26.98" cy="16.80" r="0.73" fill="#3a8cff"/><circle cx="26.69" cy="37.01" r="0.71" fill="#3a8cff"/><circle cx="1.36" cy="13.52" r="0.81" fill="#3a8cff"/><circle cx="27.30" cy="7.92" r="1.00" fill="#3a8cff"/><circle cx="29.57" cy="20.20" r="0.70" fill="#3a8cff"/><circle cx="38.79" cy="12.47" r="1.01" fill="#3a8cff"/><circle cx="9.23" cy="8.86" r="0.98" fill="#3a8cff"/><circle cx="11.80" cy="38.08" r="0.85" fill="#3a8cff"/><circle cx="7.49" cy="8.93" r="0.81" fill="#3a8cff"/><circle cx="26.61" cy="37.95" r="0.67" fill="#3a8cff"/><circle cx="15.74" cy="8.52" r="1.09" fill="#3a8cff"/><circle cx="5.68" cy="2.07" r="0.63" fill="#3a8cff"/><circle cx="15.73" cy="35.93" r="1.04" fill="#3a8cff"/><circle cx="29.31" cy="39.90" r="1.07" fill="#3a8cff"/><circle cx="13.17" cy="7.42" r="1.07" fill="#3a8cff"/><circle cx="29.85" cy="1.28" r="0.93" fill="#3a8cff"/><circle cx="15.14" cy="14.96" r="0.77" fill="#3a8cff"/><circle cx="6.77" cy="0.11" r="0.74" fill="#3a8cff"/><circle cx="14.06" cy="38.22" r="0.66" fill="#3a8cff"/><circle cx="38.57" cy="8.30" r="0.78" fill="#3a8cff"/><circle cx="32.86" cy="32.88" r="0.82" fill="#3a8cff"/><circle cx="1.97" cy="18.94" r="0.79" fill="#3a8cff"/><circle cx="36.78" cy="7.72" r="0.78" fill="#3a8cff"/><circle cx="35.88" cy="1.21" r="0.81" fill="#3a8cff"/><circle cx="32.47" cy="30.67" r="0.62" fill="#3a8cff"/><circle cx="1.39" cy="2.50" r="1.06" fill="#3a8cff"/><circle cx="10.28" cy="29.89" r="1.05" fill="#3a8cff"/><circle cx="13.56" cy="10.89" r="1.08" fill="#3a8cff"/><circle cx="24.68" cy="10.49" r="0.96" fill="#3a8cff"/><circle cx="12.66" cy="11.03" r="0.60" fill="#3a8cff"/><circle cx="30.23" cy="36.66" r="0.92" fill="#3a8cff"/><circle cx="37.73" cy="0.97" r="0.72" fill="#3a8cff"/><circle cx="19.01" cy="38.27" r="1.08" fill="#3a8cff"/><circle cx="15.46" cy="10.04" r="0.81" fill="#3a8cff"/><circle cx="19.74" cy="37.12" r="0.69" fill="#3a8cff"/><circle cx="32.10" cy="29.54" r="1.01" fill="#3a8cff"/><circle cx="30.91" cy="24.29" r="0.76" fill="#3a8cff"/><circle cx="12.78" cy="14.47" r="0.99" fill="#3a8cff"/><circle cx="3.16" cy="7.89" r="0.98" fill="#3a8cff"/><circle cx="9.89" cy="2.59" r="0.62" fill="#3a8cff"/><circle cx="22.10" cy="13.03" r="1.09" fill="#3a8cff"/><circle cx="35.34" cy="39.51" r="0.73" fill="#3a8cff"/><circle cx="3.36" cy="3.86" r="0.85" fill="#3a8cff"/><circle cx="28.39" cy="17.88" r="0.72" fill="#3a8cff"/><circle cx="16.67" cy="24.81" r="0.94" fill="#3a8cff"/><circle cx="29.92" cy="33.88" r="0.93" fill="#3a8cff"/><circle cx="4.85" cy="33.63" r="0.75" fill="#3a8cff"/><circle cx="22.68" cy="14.92" r="0.97" fill="#3a8cff"/><circle cx="7.97" cy="9.90" r="0.72" fill="#3a8cff"/></pattern><filter id="bl1" x="-20%" y="-20%" width="140%" height="140%"><feGaussianBlur stdDeviation="0.7"/></filter></defs><rect width="567" height="715" fill="#fff"/>
<g transform="translate(0,0.0)">
<text x="-0.6" y="11.6" font-size="16" font-weight="bold" font-family="Liberation Serif, serif" fill="#000">(a)</text>
<line x1="61.9" y1="28.7" x2="49.6" y2="188.3" stroke="#c8c8d0" stroke-width="0.6" stroke-dasharray="2,1"/>
<line x1="103.5" y1="28.7" x2="96.6" y2="188.3" stroke="#c8c8d0" stroke-width="0.6" stroke-dasharray="2,1"/>
<line x1="145.1" y1="28.7" x2="143.7" y2="188.3" stroke="#c8c8d0" stroke-width="0.6" stroke-dasharray="2,1"/>
<line x1="186.7" y1="28.7" x2="190.8" y2="188.3" stroke="#c8c8d0" stroke-width="0.6" stroke-dasharray="2,1"/>
<line x1="228.3" y1="28.7" x2="237.9" y2="188.3" stroke="#c8c8d0" stroke-width="0.6" stroke-dasharray="2,1"/>
<line x1="34.0" y1="81.3" x2="277.0" y2="81.3" stroke="#c8c8d0" stroke-width="0.6" stroke-dasharray="2,1"/>
<line x1="28.9" y1="134.8" x2="282.1" y2="134.8" stroke="#c8c8d0" stroke-width="0.6" stroke-dasharray="2,1"/>
<g clip-path="url(#cfA)"><g mask="url(#mkA)">
<g filter="url(#bl)"><rect x="4" y="8" width="11" height="11" fill="#00d5ff"/>
<rect x="14" y="8" width="11" height="11" fill="#00d5ff"/>
<rect x="24" y="8" width="11" height="11" fill="#00d5ff"/>
<rect x="34" y="8" width="11" height="11" fill="#00d5ff"/>
<rect x="44" y="8" width="11" height="11" fill="#00d5ff"/>
<rect x="54" y="8" width="11" height="11" fill="#0063ff"/>
<rect x="64" y="8" width="11" height="11" fill="#0000f1"/>
<rect x="74" y="8" width="11" height="11" fill="#0063ff"/>
<rect x="84" y="8" width="11" height="11" fill="#00d5ff"/>
<rect x="94" y="8" width="11" height="11" fill="#00d5ff"/>
<rect x="104" y="8" width="11" height="11" fill="#00d5ff"/>
<rect x="114" y="8" width="11" height="11" fill="#00d5ff"/>
<rect x="124" y="8" width="11" height="11" fill="#47ffb8"/>
<rect x="134" y="8" width="11" height="11" fill="#00d5ff"/>
<rect x="144" y="8" width="11" height="11" fill="#00d5ff"/>
<rect x="154" y="8" width="11" height="11" fill="#00d5ff"/>
<rect x="164" y="8" width="11" height="11" fill="#0063ff"/>
<rect x="174" y="8" width="11" height="11" fill="#0063ff"/>
<rect x="184" y="8" width="11" height="11" fill="#0000f1"/>
<rect x="194" y="8" width="11" height="11" fill="#0000f1"/>
<rect x="204" y="8" width="11" height="11" fill="#0063ff"/>
<rect x="214" y="8" width="11" height="11" fill="#0063ff"/>
<rect x="224" y="8" width="11" height="11" fill="#0063ff"/>
<rect x="234" y="8" width="11" height="11" fill="#0063ff"/>
<rect x="244" y="8" width="11" height="11" fill="#0063ff"/>
<rect x="254" y="8" width="11" height="11" fill="#00d5ff"/>
<rect x="264" y="8" width="11" height="11" fill="#00d5ff"/>
<rect x="274" y="8" width="11" height="11" fill="#00d5ff"/>
<rect x="284" y="8" width="11" height="11" fill="#00d5ff"/>
<rect x="294" y="8" width="11" height="11" fill="#00d5ff"/>
<rect x="304" y="8" width="11" height="11" fill="#00d5ff"/>
<rect x="4" y="18" width="11" height="11" fill="#00d5ff"/>
<rect x="14" y="18" width="11" height="11" fill="#00d5ff"/>
<rect x="24" y="18" width="11" height="11" fill="#00d5ff"/>
<rect x="34" y="18" width="11" height="11" fill="#00d5ff"/>
<rect x="44" y="18" width="11" height="11" fill="#00d5ff"/>
<rect x="54" y="18" width="11" height="11" fill="#0063ff"/>
<rect x="64" y="18" width="11" height="11" fill="#0000f1"/>
<rect x="74" y="18" width="11" height="11" fill="#0063ff"/>
<rect x="84" y="18" width="11" height="11" fill="#00d5ff"/>
<rect x="94" y="18" width="11" height="11" fill="#00d5ff"/>
<rect x="104" y="18" width="11" height="11" fill="#00d5ff"/>
<rect x="114" y="18" width="11" height="11" fill="#00d5ff"/>
<rect x="124" y="18" width="11" height="11" fill="#47ffb8"/>
<rect x="134" y="18" width="11" height="11" fill="#00d5ff"/>
<rect x="144" y="18" width="11" height="11" fill="#00d5ff"/>
<rect x="154" y="18" width="11" height="11" fill="#00d5ff"/>
<rect x="164" y="18" width="11" height="11" fill="#0063ff"/>
<rect x="174" y="18" width="11" height="11" fill="#0063ff"/>
<rect x="184" y="18" width="11" height="11" fill="#0000f1"/>
<rect x="194" y="18" width="11" height="11" fill="#0000f1"/>
<rect x="204" y="18" width="11" height="11" fill="#0063ff"/>
<rect x="214" y="18" width="11" height="11" fill="#0063ff"/>
<rect x="224" y="18" width="11" height="11" fill="#0063ff"/>
<rect x="234" y="18" width="11" height="11" fill="#0063ff"/>
<rect x="244" y="18" width="11" height="11" fill="#0063ff"/>
<rect x="254" y="18" width="11" height="11" fill="#00d5ff"/>
<rect x="264" y="18" width="11" height="11" fill="#00d5ff"/>
<rect x="274" y="18" width="11" height="11" fill="#00d5ff"/>
<rect x="284" y="18" width="11" height="11" fill="#00d5ff"/>
<rect x="294" y="18" width="11" height="11" fill="#00d5ff"/>
<rect x="304" y="18" width="11" height="11" fill="#00d5ff"/>
<rect x="4" y="28" width="11" height="11" fill="#00d5ff"/>
<rect x="14" y="28" width="11" height="11" fill="#00d5ff"/>
<rect x="24" y="28" width="11" height="11" fill="#00d5ff"/>
<rect x="34" y="28" width="11" height="11" fill="#00d5ff"/>
<rect x="44" y="28" width="11" height="11" fill="#00d5ff"/>
<rect x="54" y="28" width="11" height="11" fill="#0063ff"/>
<rect x="64" y="28" width="11" height="11" fill="#0000f1"/>
<rect x="74" y="28" width="11" height="11" fill="#0063ff"/>
<rect x="84" y="28" width="11" height="11" fill="#00d5ff"/>
<rect x="94" y="28" width="11" height="11" fill="#00d5ff"/>
<rect x="104" y="28" width="11" height="11" fill="#00d5ff"/>
<rect x="114" y="28" width="11" height="11" fill="#00d5ff"/>
<rect x="124" y="28" width="11" height="11" fill="#47ffb8"/>
<rect x="134" y="28" width="11" height="11" fill="#00d5ff"/>
<rect x="144" y="28" width="11" height="11" fill="#00d5ff"/>
<rect x="154" y="28" width="11" height="11" fill="#00d5ff"/>
<rect x="164" y="28" width="11" height="11" fill="#0063ff"/>
<rect x="174" y="28" width="11" height="11" fill="#0063ff"/>
<rect x="184" y="28" width="11" height="11" fill="#0000f1"/>
<rect x="194" y="28" width="11" height="11" fill="#0000f1"/>
<rect x="204" y="28" width="11" height="11" fill="#0063ff"/>
<rect x="214" y="28" width="11" height="11" fill="#0063ff"/>
<rect x="224" y="28" width="11" height="11" fill="#0063ff"/>
<rect x="234" y="28" width="11" height="11" fill="#0063ff"/>
<rect x="244" y="28" width="11" height="11" fill="#0063ff"/>
<rect x="254" y="28" width="11" height="11" fill="#00d5ff"/>
<rect x="264" y="28" width="11" height="11" fill="#00d5ff"/>
<rect x="274" y="28" width="11" height="11" fill="#00d5ff"/>
<rect x="284" y="28" width="11" height="11" fill="#00d5ff"/>
<rect x="294" y="28" width="11" height="11" fill="#00d5ff"/>
<rect x="304" y="28" width="11" height="11" fill="#00d5ff"/>
<rect x="4" y="38" width="11" height="11" fill="#47ffb8"/>
<rect x="14" y="38" width="11" height="11" fill="#47ffb8"/>
<rect x="24" y="38" width="11" height="11" fill="#47ffb8"/>
<rect x="34" y="38" width="11" height="11" fill="#47ffb8"/>
<rect x="44" y="38" width="11" height="11" fill="#47ffb8"/>
<rect x="54" y="38" width="11" height="11" fill="#00d5ff"/>
<rect x="64" y="38" width="11" height="11" fill="#00d5ff"/>
<rect x="74" y="38" width="11" height="11" fill="#0063ff"/>
<rect x="84" y="38" width="11" height="11" fill="#0063ff"/>
<rect x="94" y="38" width="11" height="11" fill="#00d5ff"/>
<rect x="104" y="38" width="11" height="11" fill="#47ffb8"/>
<rect x="114" y="38" width="11" height="11" fill="#47ffb8"/>
<rect x="124" y="38" width="11" height="11" fill="#47ffb8"/>
<rect x="134" y="38" width="11" height="11" fill="#47ffb8"/>
<rect x="144" y="38" width="11" height="11" fill="#00d5ff"/>
<rect x="154" y="38" width="11" height="11" fill="#00d5ff"/>
<rect x="164" y="38" width="11" height="11" fill="#0063ff"/>
<rect x="174" y="38" width="11" height="11" fill="#0000f1"/>
<rect x="184" y="38" width="11" height="11" fill="#0000f1"/>
<rect x="194" y="38" width="11" height="11" fill="#0000f1"/>
<rect x="204" y="38" width="11" height="11" fill="#0000f1"/>
<rect x="214" y="38" width="11" height="11" fill="#0000f1"/>
<rect x="224" y="38" width="11" height="11" fill="#0063ff"/>
<rect x="234" y="38" width="11" height="11" fill="#0063ff"/>
<rect x="244" y="38" width="11" height="11" fill="#0063ff"/>
<rect x="254" y="38" width="11" height="11" fill="#0063ff"/>
<rect x="264" y="38" width="11" height="11" fill="#0063ff"/>
<rect x="274" y="38" width="11" height="11" fill="#0063ff"/>
<rect x="284" y="38" width="11" height="11" fill="#0063ff"/>
<rect x="294" y="38" width="11" height="11" fill="#0063ff"/>
<rect x="304" y="38" width="11" height="11" fill="#0063ff"/>
<rect x="4" y="48" width="11" height="11" fill="#47ffb8"/>
<rect x="14" y="48" width="11" height="11" fill="#47ffb8"/>
<rect x="24" y="48" width="11" height="11" fill="#47ffb8"/>
<rect x="34" y="48" width="11" height="11" fill="#47ffb8"/>
<rect x="44" y="48" width="11" height="11" fill="#47ffb8"/>
<rect x="54" y="48" width="11" height="11" fill="#47ffb8"/>
<rect x="64" y="48" width="11" height="11" fill="#00d5ff"/>
<rect x="74" y="48" width="11" height="11" fill="#0063ff"/>
<rect x="84" y="48" width="11" height="11" fill="#0063ff"/>
<rect x="94" y="48" width="11" height="11" fill="#00d5ff"/>
<rect x="104" y="48" width="11" height="11" fill="#47ffb8"/>
<rect x="114" y="48" width="11" height="11" fill="#47ffb8"/>
<rect x="124" y="48" width="11" height="11" fill="#b8ff47"/>
<rect x="134" y="48" width="11" height="11" fill="#47ffb8"/>
<rect x="144" y="48" width="11" height="11" fill="#47ffb8"/>
<rect x="154" y="48" width="11" height="11" fill="#0063ff"/>
<rect x="164" y="48" width="11" height="11" fill="#0063ff"/>
<rect x="174" y="48" width="11" height="11" fill="#0000f1"/>
<rect x="184" y="48" width="11" height="11" fill="#0000f1"/>
<rect x="194" y="48" width="11" height="11" fill="#0000f1"/>
<rect x="204" y="48" width="11" height="11" fill="#0000f1"/>
<rect x="214" y="48" width="11" height="11" fill="#0000f1"/>
<rect x="224" y="48" width="11" height="11" fill="#0000f1"/>
<rect x="234" y="48" width="11" height="11" fill="#0000f1"/>
<rect x="244" y="48" width="11" height="11" fill="#0000f1"/>
<rect x="254" y="48" width="11" height="11" fill="#0000f1"/>
<rect x="264" y="48" width="11" height="11" fill="#0000f1"/>
<rect x="274" y="48" width="11" height="11" fill="#0000f1"/>
<rect x="284" y="48" width="11" height="11" fill="#0000f1"/>
<rect x="294" y="48" width="11" height="11" fill="#0000f1"/>
<rect x="304" y="48" width="11" height="11" fill="#0000f1"/>
<rect x="4" y="58" width="11" height="11" fill="#ffd400"/>
<rect x="14" y="58" width="11" height="11" fill="#ffd400"/>
<rect x="24" y="58" width="11" height="11" fill="#ffd400"/>
<rect x="34" y="58" width="11" height="11" fill="#ffd400"/>
<rect x="44" y="58" width="11" height="11" fill="#b8ff47"/>
<rect x="54" y="58" width="11" height="11" fill="#47ffb8"/>
<rect x="64" y="58" width="11" height="11" fill="#47ffb8"/>
<rect x="74" y="58" width="11" height="11" fill="#00d5ff"/>
<rect x="84" y="58" width="11" height="11" fill="#47ffb8"/>
<rect x="94" y="58" width="11" height="11" fill="#00d5ff"/>
<rect x="104" y="58" width="11" height="11" fill="#ffd400"/>
<rect x="114" y="58" width="11" height="11" fill="#b8ff47"/>
<rect x="124" y="58" width="11" height="11" fill="#b8ff47"/>
<rect x="134" y="58" width="11" height="11" fill="#b8ff47"/>
<rect x="144" y="58" width="11" height="11" fill="#00d5ff"/>
<rect x="154" y="58" width="11" height="11" fill="#00d5ff"/>
<rect x="164" y="58" width="11" height="11" fill="#0063ff"/>
<rect x="174" y="58" width="11" height="11" fill="#0000f1"/>
<rect x="184" y="58" width="11" height="11" fill="#0000f1"/>
<rect x="194" y="58" width="11" height="11" fill="#0000f1"/>
<rect x="204" y="58" width="11" height="11" fill="#0000f1"/>
<rect x="214" y="58" width="11" height="11" fill="#0000f1"/>
<rect x="224" y="58" width="11" height="11" fill="#0000f1"/>
<rect x="234" y="58" width="11" height="11" fill="#0000f1"/>
<rect x="244" y="58" width="11" height="11" fill="#0000f1"/>
<rect x="254" y="58" width="11" height="11" fill="#0000f1"/>
<rect x="264" y="58" width="11" height="11" fill="#0000f1"/>
<rect x="274" y="58" width="11" height="11" fill="#0000f1"/>
<rect x="284" y="58" width="11" height="11" fill="#0000f1"/>
<rect x="294" y="58" width="11" height="11" fill="#0000f1"/>
<rect x="304" y="58" width="11" height="11" fill="#0000f1"/>
<rect x="4" y="68" width="11" height="11" fill="#ff6300"/>
<rect x="14" y="68" width="11" height="11" fill="#ff6300"/>
<rect x="24" y="68" width="11" height="11" fill="#ff6300"/>
<rect x="34" y="68" width="11" height="11" fill="#ff6300"/>
<rect x="44" y="68" width="11" height="11" fill="#ffd400"/>
<rect x="54" y="68" width="11" height="11" fill="#b8ff47"/>
<rect x="64" y="68" width="11" height="11" fill="#b8ff47"/>
<rect x="74" y="68" width="11" height="11" fill="#47ffb8"/>
<rect x="84" y="68" width="11" height="11" fill="#00d5ff"/>
<rect x="94" y="68" width="11" height="11" fill="#ff6300"/>
<rect x="104" y="68" width="11" height="11" fill="#ff6300"/>
<rect x="114" y="68" width="11" height="11" fill="#ffd400"/>
<rect x="124" y="68" width="11" height="11" fill="#ffd400"/>
<rect x="134" y="68" width="11" height="11" fill="#ffd400"/>
<rect x="144" y="68" width="11" height="11" fill="#00d5ff"/>
<rect x="154" y="68" width="11" height="11" fill="#00d5ff"/>
<rect x="164" y="68" width="11" height="11" fill="#0063ff"/>
<rect x="174" y="68" width="11" height="11" fill="#0000f1"/>
<rect x="184" y="68" width="11" height="11" fill="#0000f1"/>
<rect x="194" y="68" width="11" height="11" fill="#0000f1"/>
<rect x="204" y="68" width="11" height="11" fill="#0000f1"/>
<rect x="214" y="68" width="11" height="11" fill="#0063ff"/>
<rect x="224" y="68" width="11" height="11" fill="#0000f1"/>
<rect x="234" y="68" width="11" height="11" fill="#0000f1"/>
<rect x="244" y="68" width="11" height="11" fill="#0000f1"/>
<rect x="254" y="68" width="11" height="11" fill="#0000f1"/>
<rect x="264" y="68" width="11" height="11" fill="#0000f1"/>
<rect x="274" y="68" width="11" height="11" fill="#0000f1"/>
<rect x="284" y="68" width="11" height="11" fill="#0000f1"/>
<rect x="294" y="68" width="11" height="11" fill="#0000f1"/>
<rect x="304" y="68" width="11" height="11" fill="#0000f1"/>
<rect x="4" y="78" width="11" height="11" fill="#ff6300"/>
<rect x="14" y="78" width="11" height="11" fill="#ff6300"/>
<rect x="24" y="78" width="11" height="11" fill="#ff6300"/>
<rect x="34" y="78" width="11" height="11" fill="#ff6300"/>
<rect x="44" y="78" width="11" height="11" fill="#ff6300"/>
<rect x="54" y="78" width="11" height="11" fill="#ffd400"/>
<rect x="64" y="78" width="11" height="11" fill="#b8ff47"/>
<rect x="74" y="78" width="11" height="11" fill="#ffd400"/>
<rect x="84" y="78" width="11" height="11" fill="#47ffb8"/>
<rect x="94" y="78" width="11" height="11" fill="#b8ff47"/>
<rect x="104" y="78" width="11" height="11" fill="#ff6300"/>
<rect x="114" y="78" width="11" height="11" fill="#ffd400"/>
<rect x="124" y="78" width="11" height="11" fill="#ffd400"/>
<rect x="134" y="78" width="11" height="11" fill="#b8ff47"/>
<rect x="144" y="78" width="11" height="11" fill="#47ffb8"/>
<rect x="154" y="78" width="11" height="11" fill="#00d5ff"/>
<rect x="164" y="78" width="11" height="11" fill="#0063ff"/>
<rect x="174" y="78" width="11" height="11" fill="#0063ff"/>
<rect x="184" y="78" width="11" height="11" fill="#0000f1"/>
<rect x="194" y="78" width="11" height="11" fill="#0000f1"/>
<rect x="204" y="78" width="11" height="11" fill="#0000f1"/>
<rect x="214" y="78" width="11" height="11" fill="#0000f1"/>
<rect x="224" y="78" width="11" height="11" fill="#0000f1"/>
<rect x="234" y="78" width="11" height="11" fill="#0000f1"/>
<rect x="244" y="78" width="11" height="11" fill="#0000f1"/>
<rect x="254" y="78" width="11" height="11" fill="#0063ff"/>
<rect x="264" y="78" width="11" height="11" fill="#0000f1"/>
<rect x="274" y="78" width="11" height="11" fill="#0000f1"/>
<rect x="284" y="78" width="11" height="11" fill="#0000f1"/>
<rect x="294" y="78" width="11" height="11" fill="#0000f1"/>
<rect x="304" y="78" width="11" height="11" fill="#0000f1"/>
<rect x="4" y="88" width="11" height="11" fill="#47ffb8"/>
<rect x="14" y="88" width="11" height="11" fill="#47ffb8"/>
<rect x="24" y="88" width="11" height="11" fill="#47ffb8"/>
<rect x="34" y="88" width="11" height="11" fill="#47ffb8"/>
<rect x="44" y="88" width="11" height="11" fill="#f10000"/>
<rect x="54" y="88" width="11" height="11" fill="#f10000"/>
<rect x="64" y="88" width="11" height="11" fill="#ff6300"/>
<rect x="74" y="88" width="11" height="11" fill="#f10000"/>
<rect x="84" y="88" width="11" height="11" fill="#ffd400"/>
<rect x="94" y="88" width="11" height="11" fill="#ff6300"/>
<rect x="104" y="88" width="11" height="11" fill="#ff6300"/>
<rect x="114" y="88" width="11" height="11" fill="#ffd400"/>
<rect x="124" y="88" width="11" height="11" fill="#ffd400"/>
<rect x="134" y="88" width="11" height="11" fill="#ffd400"/>
<rect x="144" y="88" width="11" height="11" fill="#47ffb8"/>
<rect x="154" y="88" width="11" height="11" fill="#00d5ff"/>
<rect x="164" y="88" width="11" height="11" fill="#00d5ff"/>
<rect x="174" y="88" width="11" height="11" fill="#0063ff"/>
<rect x="184" y="88" width="11" height="11" fill="#0000f1"/>
<rect x="194" y="88" width="11" height="11" fill="#0000f1"/>
<rect x="204" y="88" width="11" height="11" fill="#0063ff"/>
<rect x="214" y="88" width="11" height="11" fill="#0000f1"/>
<rect x="224" y="88" width="11" height="11" fill="#0000f1"/>
<rect x="234" y="88" width="11" height="11" fill="#0000f1"/>
<rect x="244" y="88" width="11" height="11" fill="#0063ff"/>
<rect x="254" y="88" width="11" height="11" fill="#0063ff"/>
<rect x="264" y="88" width="11" height="11" fill="#0000f1"/>
<rect x="274" y="88" width="11" height="11" fill="#0000f1"/>
<rect x="284" y="88" width="11" height="11" fill="#0000f1"/>
<rect x="294" y="88" width="11" height="11" fill="#0000f1"/>
<rect x="304" y="88" width="11" height="11" fill="#0000f1"/>
<rect x="4" y="98" width="11" height="11" fill="#b8ff47"/>
<rect x="14" y="98" width="11" height="11" fill="#b8ff47"/>
<rect x="24" y="98" width="11" height="11" fill="#b8ff47"/>
<rect x="34" y="98" width="11" height="11" fill="#b8ff47"/>
<rect x="44" y="98" width="11" height="11" fill="#f10000"/>
<rect x="54" y="98" width="11" height="11" fill="#f10000"/>
<rect x="64" y="98" width="11" height="11" fill="#f10000"/>
<rect x="74" y="98" width="11" height="11" fill="#f10000"/>
<rect x="84" y="98" width="11" height="11" fill="#ff6300"/>
<rect x="94" y="98" width="11" height="11" fill="#ff6300"/>
<rect x="104" y="98" width="11" height="11" fill="#ff6300"/>
<rect x="114" y="98" width="11" height="11" fill="#ff6300"/>
<rect x="124" y="98" width="11" height="11" fill="#ffd400"/>
<rect x="134" y="98" width="11" height="11" fill="#ffd400"/>
<rect x="144" y="98" width="11" height="11" fill="#b8ff47"/>
<rect x="154" y="98" width="11" height="11" fill="#00d5ff"/>
<rect x="164" y="98" width="11" height="11" fill="#47ffb8"/>
<rect x="174" y="98" width="11" height="11" fill="#00d5ff"/>
<rect x="184" y="98" width="11" height="11" fill="#0063ff"/>
<rect x="194" y="98" width="11" height="11" fill="#0063ff"/>
<rect x="204" y="98" width="11" height="11" fill="#0063ff"/>
<rect x="214" y="98" width="11" height="11" fill="#0063ff"/>
<rect x="224" y="98" width="11" height="11" fill="#0000f1"/>
<rect x="234" y="98" width="11" height="11" fill="#0000f1"/>
<rect x="244" y="98" width="11" height="11" fill="#0063ff"/>
<rect x="254" y="98" width="11" height="11" fill="#0063ff"/>
<rect x="264" y="98" width="11" height="11" fill="#0063ff"/>
<rect x="274" y="98" width="11" height="11" fill="#0063ff"/>
<rect x="284" y="98" width="11" height="11" fill="#0063ff"/>
<rect x="294" y="98" width="11" height="11" fill="#0063ff"/>
<rect x="304" y="98" width="11" height="11" fill="#0063ff"/>
<rect x="4" y="108" width="11" height="11" fill="#b8ff47"/>
<rect x="14" y="108" width="11" height="11" fill="#b8ff47"/>
<rect x="24" y="108" width="11" height="11" fill="#b8ff47"/>
<rect x="34" y="108" width="11" height="11" fill="#b8ff47"/>
<rect x="44" y="108" width="11" height="11" fill="#f10000"/>
<rect x="54" y="108" width="11" height="11" fill="#ff6300"/>
<rect x="64" y="108" width="11" height="11" fill="#f10000"/>
<rect x="74" y="108" width="11" height="11" fill="#f10000"/>
<rect x="84" y="108" width="11" height="11" fill="#f10000"/>
<rect x="94" y="108" width="11" height="11" fill="#ff6300"/>
<rect x="104" y="108" width="11" height="11" fill="#ffd400"/>
<rect x="114" y="108" width="11" height="11" fill="#ffd400"/>
<rect x="124" y="108" width="11" height="11" fill="#ff6300"/>
<rect x="134" y="108" width="11" height="11" fill="#ffd400"/>
<rect x="144" y="108" width="11" height="11" fill="#b8ff47"/>
<rect x="154" y="108" width="11" height="11" fill="#b8ff47"/>
<rect x="164" y="108" width="11" height="11" fill="#ffd400"/>
<rect x="174" y="108" width="11" height="11" fill="#b8ff47"/>
<rect x="184" y="108" width="11" height="11" fill="#00d5ff"/>
<rect x="194" y="108" width="11" height="11" fill="#00d5ff"/>
<rect x="204" y="108" width="11" height="11" fill="#0063ff"/>
<rect x="214" y="108" width="11" height="11" fill="#0063ff"/>
<rect x="224" y="108" width="11" height="11" fill="#0063ff"/>
<rect x="234" y="108" width="11" height="11" fill="#0063ff"/>
<rect x="244" y="108" width="11" height="11" fill="#0063ff"/>
<rect x="254" y="108" width="11" height="11" fill="#0063ff"/>
<rect x="264" y="108" width="11" height="11" fill="#0063ff"/>
<rect x="274" y="108" width="11" height="11" fill="#0063ff"/>
<rect x="284" y="108" width="11" height="11" fill="#0063ff"/>
<rect x="294" y="108" width="11" height="11" fill="#0063ff"/>
<rect x="304" y="108" width="11" height="11" fill="#0063ff"/>
<rect x="4" y="118" width="11" height="11" fill="#b8ff47"/>
<rect x="14" y="118" width="11" height="11" fill="#b8ff47"/>
<rect x="24" y="118" width="11" height="11" fill="#b8ff47"/>
<rect x="34" y="118" width="11" height="11" fill="#b8ff47"/>
<rect x="44" y="118" width="11" height="11" fill="#f10000"/>
<rect x="54" y="118" width="11" height="11" fill="#ff6300"/>
<rect x="64" y="118" width="11" height="11" fill="#ffd400"/>
<rect x="74" y="118" width="11" height="11" fill="#f10000"/>
<rect x="84" y="118" width="11" height="11" fill="#ff6300"/>
<rect x="94" y="118" width="11" height="11" fill="#b8ff47"/>
<rect x="104" y="118" width="11" height="11" fill="#47ffb8"/>
<rect x="114" y="118" width="11" height="11" fill="#ffd400"/>
<rect x="124" y="118" width="11" height="11" fill="#ffd400"/>
<rect x="134" y="118" width="11" height="11" fill="#b8ff47"/>
<rect x="144" y="118" width="11" height="11" fill="#b8ff47"/>
<rect x="154" y="118" width="11" height="11" fill="#b8ff47"/>
<rect x="164" y="118" width="11" height="11" fill="#ff6300"/>
<rect x="174" y="118" width="11" height="11" fill="#ffd400"/>
<rect x="184" y="118" width="11" height="11" fill="#ff6300"/>
<rect x="194" y="118" width="11" height="11" fill="#00d5ff"/>
<rect x="204" y="118" width="11" height="11" fill="#00d5ff"/>
<rect x="214" y="118" width="11" height="11" fill="#00d5ff"/>
<rect x="224" y="118" width="11" height="11" fill="#00d5ff"/>
<rect x="234" y="118" width="11" height="11" fill="#0063ff"/>
<rect x="244" y="118" width="11" height="11" fill="#0063ff"/>
<rect x="254" y="118" width="11" height="11" fill="#0063ff"/>
<rect x="264" y="118" width="11" height="11" fill="#0063ff"/>
<rect x="274" y="118" width="11" height="11" fill="#0063ff"/>
<rect x="284" y="118" width="11" height="11" fill="#0063ff"/>
<rect x="294" y="118" width="11" height="11" fill="#0063ff"/>
<rect x="304" y="118" width="11" height="11" fill="#0063ff"/>
<rect x="4" y="128" width="11" height="11" fill="#b8ff47"/>
<rect x="14" y="128" width="11" height="11" fill="#b8ff47"/>
<rect x="24" y="128" width="11" height="11" fill="#b8ff47"/>
<rect x="34" y="128" width="11" height="11" fill="#b8ff47"/>
<rect x="44" y="128" width="11" height="11" fill="#ff6300"/>
<rect x="54" y="128" width="11" height="11" fill="#ff6300"/>
<rect x="64" y="128" width="11" height="11" fill="#ff6300"/>
<rect x="74" y="128" width="11" height="11" fill="#f10000"/>
<rect x="84" y="128" width="11" height="11" fill="#00d5ff"/>
<rect x="94" y="128" width="11" height="11" fill="#47ffb8"/>
<rect x="104" y="128" width="11" height="11" fill="#47ffb8"/>
<rect x="114" y="128" width="11" height="11" fill="#b8ff47"/>
<rect x="124" y="128" width="11" height="11" fill="#ff6300"/>
<rect x="134" y="128" width="11" height="11" fill="#ffd400"/>
<rect x="144" y="128" width="11" height="11" fill="#b8ff47"/>
<rect x="154" y="128" width="11" height="11" fill="#b8ff47"/>
<rect x="164" y="128" width="11" height="11" fill="#47ffb8"/>
<rect x="174" y="128" width="11" height="11" fill="#ffd400"/>
<rect x="184" y="128" width="11" height="11" fill="#ff6300"/>
<rect x="194" y="128" width="11" height="11" fill="#00d5ff"/>
<rect x="204" y="128" width="11" height="11" fill="#00d5ff"/>
<rect x="214" y="128" width="11" height="11" fill="#00d5ff"/>
<rect x="224" y="128" width="11" height="11" fill="#00d5ff"/>
<rect x="234" y="128" width="11" height="11" fill="#00d5ff"/>
<rect x="244" y="128" width="11" height="11" fill="#00d5ff"/>
<rect x="254" y="128" width="11" height="11" fill="#00d5ff"/>
<rect x="264" y="128" width="11" height="11" fill="#00d5ff"/>
<rect x="274" y="128" width="11" height="11" fill="#00d5ff"/>
<rect x="284" y="128" width="11" height="11" fill="#00d5ff"/>
<rect x="294" y="128" width="11" height="11" fill="#00d5ff"/>
<rect x="304" y="128" width="11" height="11" fill="#00d5ff"/>
<rect x="4" y="138" width="11" height="11" fill="#ff6300"/>
<rect x="14" y="138" width="11" height="11" fill="#ff6300"/>
<rect x="24" y="138" width="11" height="11" fill="#ff6300"/>
<rect x="34" y="138" width="11" height="11" fill="#ff6300"/>
<rect x="44" y="138" width="11" height="11" fill="#ff6300"/>
<rect x="54" y="138" width="11" height="11" fill="#ff6300"/>
<rect x="64" y="138" width="11" height="11" fill="#ff6300"/>
<rect x="74" y="138" width="11" height="11" fill="#ff6300"/>
<rect x="84" y="138" width="11" height="11" fill="#ffd400"/>
<rect x="94" y="138" width="11" height="11" fill="#b8ff47"/>
<rect x="104" y="138" width="11" height="11" fill="#00d5ff"/>
<rect x="114" y="138" width="11" height="11" fill="#47ffb8"/>
<rect x="124" y="138" width="11" height="11" fill="#00d5ff"/>
<rect x="134" y="138" width="11" height="11" fill="#ffd400"/>
<rect x="144" y="138" width="11" height="11" fill="#b8ff47"/>
<rect x="154" y="138" width="11" height="11" fill="#00d5ff"/>
<rect x="164" y="138" width="11" height="11" fill="#47ffb8"/>
<rect x="174" y="138" width="11" height="11" fill="#ffd400"/>
<rect x="184" y="138" width="11" height="11" fill="#ff6300"/>
<rect x="194" y="138" width="11" height="11" fill="#00d5ff"/>
<rect x="204" y="138" width="11" height="11" fill="#00d5ff"/>
<rect x="214" y="138" width="11" height="11" fill="#00d5ff"/>
<rect x="224" y="138" width="11" height="11" fill="#00d5ff"/>
<rect x="234" y="138" width="11" height="11" fill="#00d5ff"/>
<rect x="244" y="138" width="11" height="11" fill="#00d5ff"/>
<rect x="254" y="138" width="11" height="11" fill="#00d5ff"/>
<rect x="264" y="138" width="11" height="11" fill="#00d5ff"/>
<rect x="274" y="138" width="11" height="11" fill="#00d5ff"/>
<rect x="284" y="138" width="11" height="11" fill="#00d5ff"/>
<rect x="294" y="138" width="11" height="11" fill="#00d5ff"/>
<rect x="304" y="138" width="11" height="11" fill="#00d5ff"/>
<rect x="4" y="148" width="11" height="11" fill="#ff6300"/>
<rect x="14" y="148" width="11" height="11" fill="#ff6300"/>
<rect x="24" y="148" width="11" height="11" fill="#ff6300"/>
<rect x="34" y="148" width="11" height="11" fill="#ff6300"/>
<rect x="44" y="148" width="11" height="11" fill="#ff6300"/>
<rect x="54" y="148" width="11" height="11" fill="#ff6300"/>
<rect x="64" y="148" width="11" height="11" fill="#ff6300"/>
<rect x="74" y="148" width="11" height="11" fill="#b8ff47"/>
<rect x="84" y="148" width="11" height="11" fill="#47ffb8"/>
<rect x="94" y="148" width="11" height="11" fill="#b8ff47"/>
<rect x="104" y="148" width="11" height="11" fill="#47ffb8"/>
<rect x="114" y="148" width="11" height="11" fill="#b8ff47"/>
<rect x="124" y="148" width="11" height="11" fill="#47ffb8"/>
<rect x="134" y="148" width="11" height="11" fill="#ffd400"/>
<rect x="144" y="148" width="11" height="11" fill="#b8ff47"/>
<rect x="154" y="148" width="11" height="11" fill="#00d5ff"/>
<rect x="164" y="148" width="11" height="11" fill="#47ffb8"/>
<rect x="174" y="148" width="11" height="11" fill="#ffd400"/>
<rect x="184" y="148" width="11" height="11" fill="#ff6300"/>
<rect x="194" y="148" width="11" height="11" fill="#00d5ff"/>
<rect x="204" y="148" width="11" height="11" fill="#00d5ff"/>
<rect x="214" y="148" width="11" height="11" fill="#00d5ff"/>
<rect x="224" y="148" width="11" height="11" fill="#47ffb8"/>
<rect x="234" y="148" width="11" height="11" fill="#47ffb8"/>
<rect x="244" y="148" width="11" height="11" fill="#47ffb8"/>
<rect x="254" y="148" width="11" height="11" fill="#47ffb8"/>
<rect x="264" y="148" width="11" height="11" fill="#47ffb8"/>
<rect x="274" y="148" width="11" height="11" fill="#47ffb8"/>
<rect x="284" y="148" width="11" height="11" fill="#47ffb8"/>
<rect x="294" y="148" width="11" height="11" fill="#47ffb8"/>
<rect x="304" y="148" width="11" height="11" fill="#47ffb8"/>
<rect x="4" y="158" width="11" height="11" fill="#ff6300"/>
<rect x="14" y="158" width="11" height="11" fill="#ff6300"/>
<rect x="24" y="158" width="11" height="11" fill="#ff6300"/>
<rect x="34" y="158" width="11" height="11" fill="#ff6300"/>
<rect x="44" y="158" width="11" height="11" fill="#ff6300"/>
<rect x="54" y="158" width="11" height="11" fill="#ff6300"/>
<rect x="64" y="158" width="11" height="11" fill="#ff6300"/>
<rect x="74" y="158" width="11" height="11" fill="#b8ff47"/>
<rect x="84" y="158" width="11" height="11" fill="#47ffb8"/>
<rect x="94" y="158" width="11" height="11" fill="#b8ff47"/>
<rect x="104" y="158" width="11" height="11" fill="#47ffb8"/>
<rect x="114" y="158" width="11" height="11" fill="#b8ff47"/>
<rect x="124" y="158" width="11" height="11" fill="#ffd400"/>
<rect x="134" y="158" width="11" height="11" fill="#ffd400"/>
<rect x="144" y="158" width="11" height="11" fill="#47ffb8"/>
<rect x="154" y="158" width="11" height="11" fill="#47ffb8"/>
<rect x="164" y="158" width="11" height="11" fill="#47ffb8"/>
<rect x="174" y="158" width="11" height="11" fill="#ffd400"/>
<rect x="184" y="158" width="11" height="11" fill="#00d5ff"/>
<rect x="194" y="158" width="11" height="11" fill="#00d5ff"/>
<rect x="204" y="158" width="11" height="11" fill="#00d5ff"/>
<rect x="214" y="158" width="11" height="11" fill="#00d5ff"/>
<rect x="224" y="158" width="11" height="11" fill="#47ffb8"/>
<rect x="234" y="158" width="11" height="11" fill="#0063ff"/>
<rect x="244" y="158" width="11" height="11" fill="#0063ff"/>
<rect x="254" y="158" width="11" height="11" fill="#0063ff"/>
<rect x="264" y="158" width="11" height="11" fill="#0063ff"/>
<rect x="274" y="158" width="11" height="11" fill="#0063ff"/>
<rect x="284" y="158" width="11" height="11" fill="#0063ff"/>
<rect x="294" y="158" width="11" height="11" fill="#0063ff"/>
<rect x="304" y="158" width="11" height="11" fill="#0063ff"/>
<rect x="4" y="168" width="11" height="11" fill="#ff6300"/>
<rect x="14" y="168" width="11" height="11" fill="#ff6300"/>
<rect x="24" y="168" width="11" height="11" fill="#ff6300"/>
<rect x="34" y="168" width="11" height="11" fill="#ff6300"/>
<rect x="44" y="168" width="11" height="11" fill="#ff6300"/>
<rect x="54" y="168" width="11" height="11" fill="#ff6300"/>
<rect x="64" y="168" width="11" height="11" fill="#ff6300"/>
<rect x="74" y="168" width="11" height="11" fill="#b8ff47"/>
<rect x="84" y="168" width="11" height="11" fill="#47ffb8"/>
<rect x="94" y="168" width="11" height="11" fill="#b8ff47"/>
<rect x="104" y="168" width="11" height="11" fill="#47ffb8"/>
<rect x="114" y="168" width="11" height="11" fill="#47ffb8"/>
<rect x="124" y="168" width="11" height="11" fill="#b8ff47"/>
<rect x="134" y="168" width="11" height="11" fill="#ffd400"/>
<rect x="144" y="168" width="11" height="11" fill="#47ffb8"/>
<rect x="154" y="168" width="11" height="11" fill="#47ffb8"/>
<rect x="164" y="168" width="11" height="11" fill="#47ffb8"/>
<rect x="174" y="168" width="11" height="11" fill="#00d5ff"/>
<rect x="184" y="168" width="11" height="11" fill="#00d5ff"/>
<rect x="194" y="168" width="11" height="11" fill="#00d5ff"/>
<rect x="204" y="168" width="11" height="11" fill="#00d5ff"/>
<rect x="214" y="168" width="11" height="11" fill="#00d5ff"/>
<rect x="224" y="168" width="11" height="11" fill="#00d5ff"/>
<rect x="234" y="168" width="11" height="11" fill="#0063ff"/>
<rect x="244" y="168" width="11" height="11" fill="#0063ff"/>
<rect x="254" y="168" width="11" height="11" fill="#0063ff"/>
<rect x="264" y="168" width="11" height="11" fill="#0063ff"/>
<rect x="274" y="168" width="11" height="11" fill="#0063ff"/>
<rect x="284" y="168" width="11" height="11" fill="#0063ff"/>
<rect x="294" y="168" width="11" height="11" fill="#0063ff"/>
<rect x="304" y="168" width="11" height="11" fill="#0063ff"/>
<rect x="4" y="178" width="11" height="11" fill="#ff6300"/>
<rect x="14" y="178" width="11" height="11" fill="#ff6300"/>
<rect x="24" y="178" width="11" height="11" fill="#ff6300"/>
<rect x="34" y="178" width="11" height="11" fill="#ff6300"/>
<rect x="44" y="178" width="11" height="11" fill="#ff6300"/>
<rect x="54" y="178" width="11" height="11" fill="#ff6300"/>
<rect x="64" y="178" width="11" height="11" fill="#ff6300"/>
<rect x="74" y="178" width="11" height="11" fill="#b8ff47"/>
<rect x="84" y="178" width="11" height="11" fill="#47ffb8"/>
<rect x="94" y="178" width="11" height="11" fill="#b8ff47"/>
<rect x="104" y="178" width="11" height="11" fill="#00d5ff"/>
<rect x="114" y="178" width="11" height="11" fill="#00d5ff"/>
<rect x="124" y="178" width="11" height="11" fill="#47ffb8"/>
<rect x="134" y="178" width="11" height="11" fill="#ffd400"/>
<rect x="144" y="178" width="11" height="11" fill="#00d5ff"/>
<rect x="154" y="178" width="11" height="11" fill="#00d5ff"/>
<rect x="164" y="178" width="11" height="11" fill="#00d5ff"/>
<rect x="174" y="178" width="11" height="11" fill="#00d5ff"/>
<rect x="184" y="178" width="11" height="11" fill="#00d5ff"/>
<rect x="194" y="178" width="11" height="11" fill="#00d5ff"/>
<rect x="204" y="178" width="11" height="11" fill="#00d5ff"/>
<rect x="214" y="178" width="11" height="11" fill="#00d5ff"/>
<rect x="224" y="178" width="11" height="11" fill="#0063ff"/>
<rect x="234" y="178" width="11" height="11" fill="#0063ff"/>
<rect x="244" y="178" width="11" height="11" fill="#0063ff"/>
<rect x="254" y="178" width="11" height="11" fill="#0063ff"/>
<rect x="264" y="178" width="11" height="11" fill="#0063ff"/>
<rect x="274" y="178" width="11" height="11" fill="#0063ff"/>
<rect x="284" y="178" width="11" height="11" fill="#0063ff"/>
<rect x="294" y="178" width="11" height="11" fill="#0063ff"/>
<rect x="304" y="178" width="11" height="11" fill="#0063ff"/>
<rect x="4" y="188" width="11" height="11" fill="#ff6300"/>
<rect x="14" y="188" width="11" height="11" fill="#ff6300"/>
<rect x="24" y="188" width="11" height="11" fill="#ff6300"/>
<rect x="34" y="188" width="11" height="11" fill="#ff6300"/>
<rect x="44" y="188" width="11" height="11" fill="#ff6300"/>
<rect x="54" y="188" width="11" height="11" fill="#ff6300"/>
<rect x="64" y="188" width="11" height="11" fill="#ff6300"/>
<rect x="74" y="188" width="11" height="11" fill="#b8ff47"/>
<rect x="84" y="188" width="11" height="11" fill="#47ffb8"/>
<rect x="94" y="188" width="11" height="11" fill="#b8ff47"/>
<rect x="104" y="188" width="11" height="11" fill="#00d5ff"/>
<rect x="114" y="188" width="11" height="11" fill="#00d5ff"/>
<rect x="124" y="188" width="11" height="11" fill="#47ffb8"/>
<rect x="134" y="188" width="11" height="11" fill="#ffd400"/>
<rect x="144" y="188" width="11" height="11" fill="#00d5ff"/>
<rect x="154" y="188" width="11" height="11" fill="#00d5ff"/>
<rect x="164" y="188" width="11" height="11" fill="#00d5ff"/>
<rect x="174" y="188" width="11" height="11" fill="#00d5ff"/>
<rect x="184" y="188" width="11" height="11" fill="#00d5ff"/>
<rect x="194" y="188" width="11" height="11" fill="#00d5ff"/>
<rect x="204" y="188" width="11" height="11" fill="#00d5ff"/>
<rect x="214" y="188" width="11" height="11" fill="#00d5ff"/>
<rect x="224" y="188" width="11" height="11" fill="#0063ff"/>
<rect x="234" y="188" width="11" height="11" fill="#0063ff"/>
<rect x="244" y="188" width="11" height="11" fill="#0063ff"/>
<rect x="254" y="188" width="11" height="11" fill="#0063ff"/>
<rect x="264" y="188" width="11" height="11" fill="#0063ff"/>
<rect x="274" y="188" width="11" height="11" fill="#0063ff"/>
<rect x="284" y="188" width="11" height="11" fill="#0063ff"/>
<rect x="294" y="188" width="11" height="11" fill="#0063ff"/>
<rect x="304" y="188" width="11" height="11" fill="#0063ff"/>
<rect x="4" y="198" width="11" height="11" fill="#ff6300"/>
<rect x="14" y="198" width="11" height="11" fill="#ff6300"/>
<rect x="24" y="198" width="11" height="11" fill="#ff6300"/>
<rect x="34" y="198" width="11" height="11" fill="#ff6300"/>
<rect x="44" y="198" width="11" height="11" fill="#ff6300"/>
<rect x="54" y="198" width="11" height="11" fill="#ff6300"/>
<rect x="64" y="198" width="11" height="11" fill="#ff6300"/>
<rect x="74" y="198" width="11" height="11" fill="#b8ff47"/>
<rect x="84" y="198" width="11" height="11" fill="#47ffb8"/>
<rect x="94" y="198" width="11" height="11" fill="#b8ff47"/>
<rect x="104" y="198" width="11" height="11" fill="#00d5ff"/>
<rect x="114" y="198" width="11" height="11" fill="#00d5ff"/>
<rect x="124" y="198" width="11" height="11" fill="#47ffb8"/>
<rect x="134" y="198" width="11" height="11" fill="#ffd400"/>
<rect x="144" y="198" width="11" height="11" fill="#00d5ff"/>
<rect x="154" y="198" width="11" height="11" fill="#00d5ff"/>
<rect x="164" y="198" width="11" height="11" fill="#00d5ff"/>
<rect x="174" y="198" width="11" height="11" fill="#00d5ff"/>
<rect x="184" y="198" width="11" height="11" fill="#00d5ff"/>
<rect x="194" y="198" width="11" height="11" fill="#00d5ff"/>
<rect x="204" y="198" width="11" height="11" fill="#00d5ff"/>
<rect x="214" y="198" width="11" height="11" fill="#00d5ff"/>
<rect x="224" y="198" width="11" height="11" fill="#0063ff"/>
<rect x="234" y="198" width="11" height="11" fill="#0063ff"/>
<rect x="244" y="198" width="11" height="11" fill="#0063ff"/>
<rect x="254" y="198" width="11" height="11" fill="#0063ff"/>
<rect x="264" y="198" width="11" height="11" fill="#0063ff"/>
<rect x="274" y="198" width="11" height="11" fill="#0063ff"/>
<rect x="284" y="198" width="11" height="11" fill="#0063ff"/>
<rect x="294" y="198" width="11" height="11" fill="#0063ff"/>
<rect x="304" y="198" width="11" height="11" fill="#0063ff"/>
<rect x="4" y="208" width="11" height="11" fill="#ff6300"/>
<rect x="14" y="208" width="11" height="11" fill="#ff6300"/>
<rect x="24" y="208" width="11" height="11" fill="#ff6300"/>
<rect x="34" y="208" width="11" height="11" fill="#ff6300"/>
<rect x="44" y="208" width="11" height="11" fill="#ff6300"/>
<rect x="54" y="208" width="11" height="11" fill="#ff6300"/>
<rect x="64" y="208" width="11" height="11" fill="#ff6300"/>
<rect x="74" y="208" width="11" height="11" fill="#b8ff47"/>
<rect x="84" y="208" width="11" height="11" fill="#47ffb8"/>
<rect x="94" y="208" width="11" height="11" fill="#b8ff47"/>
<rect x="104" y="208" width="11" height="11" fill="#00d5ff"/>
<rect x="114" y="208" width="11" height="11" fill="#00d5ff"/>
<rect x="124" y="208" width="11" height="11" fill="#47ffb8"/>
<rect x="134" y="208" width="11" height="11" fill="#ffd400"/>
<rect x="144" y="208" width="11" height="11" fill="#00d5ff"/>
<rect x="154" y="208" width="11" height="11" fill="#00d5ff"/>
<rect x="164" y="208" width="11" height="11" fill="#00d5ff"/>
<rect x="174" y="208" width="11" height="11" fill="#00d5ff"/>
<rect x="184" y="208" width="11" height="11" fill="#00d5ff"/>
<rect x="194" y="208" width="11" height="11" fill="#00d5ff"/>
<rect x="204" y="208" width="11" height="11" fill="#00d5ff"/>
<rect x="214" y="208" width="11" height="11" fill="#00d5ff"/>
<rect x="224" y="208" width="11" height="11" fill="#0063ff"/>
<rect x="234" y="208" width="11" height="11" fill="#0063ff"/>
<rect x="244" y="208" width="11" height="11" fill="#0063ff"/>
<rect x="254" y="208" width="11" height="11" fill="#0063ff"/>
<rect x="264" y="208" width="11" height="11" fill="#0063ff"/>
<rect x="274" y="208" width="11" height="11" fill="#0063ff"/>
<rect x="284" y="208" width="11" height="11" fill="#0063ff"/>
<rect x="294" y="208" width="11" height="11" fill="#0063ff"/>
<rect x="304" y="208" width="11" height="11" fill="#0063ff"/></g>
<rect x="20" y="20" width="280" height="180" fill="url(#stA)" opacity="0.85"/>
</g></g>
<g clip-path="url(#cfA)" fill="none" stroke="#555" stroke-width="0.6" stroke-linejoin="round">
<polygon points="16.8,25.6 40.4,25.6 41.5,28.7 44.1,30.8 48.1,32.4 49.5,34.5 50.3,38.1 49.7,42.8 47.8,43.9 49.1,40.2 47.2,38.6 43.9,38.1 41.1,37.1 41.0,39.7 42.4,44.9 42.3,48.3 42.2,52.2 41.1,56.9 39.3,63.3 37.8,66.3 38.8,70.7 38.5,76.0 36.9,79.0 39.1,82.4 39.0,86.9 41.7,90.4 43.9,93.0 44.1,96.2 45.7,97.6 46.0,99.4 47.5,102.6 49.9,105.9 50.8,108.5 51.5,110.9 55.0,111.2 58.4,113.1 60.2,113.3 60.6,114.7 62.8,115.5 65.2,117.6 65.7,120.3 66.0,121.4 68.0,124.9 69.1,129.4 70.7,132.6 73.5,136.9 76.6,140.6 78.7,144.9 74.9,147.1 77.6,150.3 80.7,152.4 82.5,154.6 87.0,158.3 87.1,162.6 89.6,165.3 94.2,169.6 97.4,172.8 99.6,171.7 99.4,169.0 95.7,165.8 94.3,163.7 92.6,159.9 91.3,156.2 88.7,151.9 86.9,149.2 84.7,145.5 82.5,141.7 80.8,138.0 77.3,134.8 76.6,130.5 76.4,125.7 80.9,126.7 83.6,127.8 84.8,131.0 86.0,135.3 88.1,140.1 91.3,143.3 93.5,146.0 95.2,148.7 98.4,151.9 100.6,156.7 104.2,160.5 107.4,164.2 111.6,168.0 113.8,171.2 117.1,174.9 119.3,180.3 117.9,184.0 119.0,185.1 117.4,188.3 118.3,191.5 -2.4,191.5"/>
<polygon points="160.7,191.5 158.8,187.2 156.2,182.9 153.9,176.3 154.3,168.0 155.0,163.7 155.5,161.5 157.1,156.4 156.2,151.9 157.4,146.5 160.1,143.3 165.7,140.4 168.2,138.5 172.3,136.4 179.5,137.2 184.1,138.0 187.3,139.6 189.9,139.0 194.0,140.1 192.4,136.9 192.3,134.0 195.0,132.6 198.7,133.4 202.8,132.9 206.1,132.6 209.8,134.0 211.5,136.4 213.5,136.4 216.5,134.5 220.0,136.4 222.2,139.3 223.9,141.7 224.0,146.5 224.3,148.1 225.3,150.3 227.5,153.5 228.5,155.6 230.0,157.2 231.7,159.7 232.0,161.0 235.0,160.2 235.6,158.9 236.4,157.2 236.6,152.4 236.0,149.7 233.9,145.5 233.8,143.1 231.6,139.0 230.1,134.8 229.5,132.6 229.1,129.4 230.3,125.7 231.6,123.8 233.9,120.8 235.9,120.0 238.7,117.6 241.5,114.1 244.2,114.1 245.6,111.2 250.3,110.1 252.2,108.0 254.8,106.7 254.1,103.2 252.7,100.0 252.0,98.1 250.5,97.3 250.2,94.1 249.4,90.4 249.4,84.5 251.0,87.2 251.8,92.0 251.9,96.2 254.3,92.5 255.4,89.8 255.0,87.7 253.0,85.0 255.8,86.6 257.8,84.5 259.0,80.8 259.1,78.9 260.3,78.1 264.2,77.3 268.2,75.6 267.8,74.4 269.7,73.9 270.3,73.4 271.6,73.4 273.1,73.1 275.1,72.8 276.1,72.6 275.0,70.4 273.3,71.0 271.1,68.9 272.6,67.3 271.7,65.4 273.7,62.2 275.3,61.2 278.6,60.1 289.8,191.5"/>
<polygon points="29.4,24.6 39.3,24.6 40.2,28.7 43.1,31.8 45.7,34.5 46.8,37.1 42.9,36.3 39.1,33.9 34.5,30.8 30.6,26.7"/>
<polygon points="188.0,191.5 188.7,188.3 188.9,183.7 190.7,182.1 192.6,181.3 197.8,180.8 202.0,180.0 204.3,180.3 205.8,181.9 204.4,185.1 202.8,188.3 202.6,191.5"/>
<polygon points="214.4,178.4 216.9,176.8 219.2,174.4 222.5,172.5 226.2,171.7 230.4,171.3 234.2,172.0 237.5,172.8 241.2,174.4 244.6,176.0 248.9,178.1 252.7,180.0 256.5,181.9 258.4,182.9 262.7,184.6 265.4,187.2 263.8,188.0 260.5,188.8 254.4,188.8 248.8,189.2 251.0,186.7 250.5,184.6 247.7,184.0 244.7,180.8 242.4,180.0 238.1,179.2 234.8,178.4 233.4,177.1 231.0,176.3 228.7,176.5 228.1,174.4 224.8,173.8 222.1,176.0 219.3,177.6"/>
<polygon points="178.5,45.9 181.4,44.4 185.1,41.2 187.6,39.7 190.4,37.1 194.5,35.0 198.7,35.0 202.1,36.0 208.2,39.7 209.7,42.8 210.8,47.0 207.4,47.0 204.4,45.9 201.5,47.5 198.0,46.5 197.0,43.3 196.5,42.0 194.1,44.9 189.1,45.7 184.8,46.5" fill="#fff" stroke="#666" stroke-width="0.8"/>
<polygon points="209.8,50.7 206.3,49.6 202.5,50.1 198.0,53.8 198.6,57.5 197.2,65.4 198.8,71.2 201.0,72.8 203.5,70.2 204.6,65.4 203.0,60.1 205.0,55.9 207.4,53.3" fill="#fff" stroke="#666" stroke-width="0.8"/>
<polygon points="210.6,50.7 213.6,49.6 219.5,48.6 223.8,49.6 226.8,50.1 229.3,53.3 230.9,56.9 226.9,55.9 225.0,53.8 224.8,56.9 223.7,59.6 221.1,65.4 216.6,62.2 214.3,60.1 216.8,59.1 216.5,55.4 215.5,52.7" fill="#fff" stroke="#666" stroke-width="0.8"/>
<polygon points="217.5,70.7 220.7,72.3 224.7,73.4 228.1,71.2 231.5,70.2 236.4,65.9 232.1,66.7 227.4,67.5 223.5,69.1 219.3,70.7" fill="#fff" stroke="#666" stroke-width="0.8"/>
<polygon points="235.4,64.4 233.9,62.2 239.8,60.7 246.1,59.1 247.8,62.8 241.8,63.8" fill="#fff" stroke="#666" stroke-width="0.8"/>
<polyline points="66.0,121.2 77.0,120.2 93.3,127.6 106.4,127.6 106.5,125.2 114.2,125.2 118.4,128.3 122.4,131.5 123.7,135.8 127.4,138.5 129.2,140.1 131.1,138.5 132.5,136.1 137.5,135.8 139.8,138.2 141.6,141.7 146.2,148.1 148.5,154.0 152.2,155.6 157.1,156.4" stroke="#666" stroke-width="0.5"/>
<polyline points="47.5,33.9 165.3,33.9 171.0,35.5 174.4,36.0 178.6,37.6 188.8,39.2" stroke="#666" stroke-width="0.5"/>
<polyline points="246.6,59.6 250.2,56.9 253.5,54.8 267.2,54.8 268.7,53.3 271.3,50.7 272.2,47.5 275.2,42.3" stroke="#666" stroke-width="0.5"/>
<polyline points="241.9,152.4 244.7,153.0 246.5,152.4" stroke-dasharray="1.5,1"/>
<polyline points="248.8,150.8 250.3,153.5 249.9,156.2" stroke-dasharray="1.5,1"/>
<polyline points="245.9,160.5 247.5,163.7 248.5,165.8" stroke-dasharray="1.5,1"/>
<polyline points="252.4,158.9 254.8,161.0 255.4,163.7" stroke-dasharray="1.5,1"/>
<polyline points="257.8,165.3 259.3,168.5 260.8,171.7" stroke-dasharray="1.5,1"/>
<polyline points="256.0,168.5 257.1,171.2" stroke-dasharray="1.5,1"/>
<polyline points="264.2,174.4 266.1,176.0" stroke-dasharray="1.5,1"/>
<polyline points="267.3,181.9 269.7,182.9" stroke-dasharray="1.5,1"/>
<polyline points="273.7,178.1 276.1,179.2" stroke-dasharray="1.5,1"/>
<polyline points="228.6,194.7 231.9,192.0" stroke-dasharray="1.5,1"/>
</g>
<polygon points="41.1,28.7 269.9,28.7 269.9,28.7 273.7,54.8 277.0,81.3 279.8,108.0 282.1,134.8 283.8,161.5 285.0,188.3 26.0,188.3 26.0,188.3 27.2,161.5 28.9,134.8 31.2,108.0 34.0,81.3 37.3,54.8 41.1,28.7" fill="none" stroke="#111" stroke-width="1.3"/>
<text x="15.99" y="34.01" font-size="9" font-family="Liberation Sans, sans-serif" fill="#111" stroke="#111" stroke-width="0.15">50</text><circle cx="28.25" cy="25.91" r="0.95" fill="none" stroke="#444" stroke-width="0.7"/><text x="32.10" y="34.01" font-size="9" font-family="Liberation Sans, sans-serif" fill="#111" stroke="#111" stroke-width="0.15">N</text>
<text x="8.19" y="86.70" font-size="9" font-family="Liberation Sans, sans-serif" fill="#111" stroke="#111" stroke-width="0.15">40</text><circle cx="20.45" cy="78.60" r="0.95" fill="none" stroke="#444" stroke-width="0.7"/><text x="24.30" y="86.70" font-size="9" font-family="Liberation Sans, sans-serif" fill="#111" stroke="#111" stroke-width="0.15">N</text>
<text x="3.59" y="139.66" font-size="9" font-family="Liberation Sans, sans-serif" fill="#111" stroke="#111" stroke-width="0.15">30</text><circle cx="15.85" cy="131.56" r="0.95" fill="none" stroke="#444" stroke-width="0.7"/><text x="19.70" y="139.66" font-size="9" font-family="Liberation Sans, sans-serif" fill="#111" stroke="#111" stroke-width="0.15">N</text>
<text x="0.39" y="192.60" font-size="9" font-family="Liberation Sans, sans-serif" fill="#111" stroke="#111" stroke-width="0.15">20</text><circle cx="12.65" cy="184.50" r="0.95" fill="none" stroke="#444" stroke-width="0.7"/><text x="16.50" y="192.60" font-size="9" font-family="Liberation Sans, sans-serif" fill="#111" stroke="#111" stroke-width="0.15">N</text>
<text x="35.25" y="199.80" font-size="9" font-family="Liberation Sans, sans-serif" fill="#111" stroke="#111" stroke-width="0.15">120</text><circle cx="52.51" cy="191.70" r="0.95" fill="none" stroke="#444" stroke-width="0.7"/><text x="56.36" y="199.80" font-size="9" font-family="Liberation Sans, sans-serif" fill="#111" stroke="#111" stroke-width="0.15">W</text>
<text x="82.34" y="199.80" font-size="9" font-family="Liberation Sans, sans-serif" fill="#111" stroke="#111" stroke-width="0.15">110</text><circle cx="99.60" cy="191.70" r="0.95" fill="none" stroke="#444" stroke-width="0.7"/><text x="103.45" y="199.80" font-size="9" font-family="Liberation Sans, sans-serif" fill="#111" stroke="#111" stroke-width="0.15">W</text>
<text x="129.42" y="199.80" font-size="9" font-family="Liberation Sans, sans-serif" fill="#111" stroke="#111" stroke-width="0.15">100</text><circle cx="146.69" cy="191.70" r="0.95" fill="none" stroke="#444" stroke-width="0.7"/><text x="150.54" y="199.80" font-size="9" font-family="Liberation Sans, sans-serif" fill="#111" stroke="#111" stroke-width="0.15">W</text>
<text x="179.01" y="199.80" font-size="9" font-family="Liberation Sans, sans-serif" fill="#111" stroke="#111" stroke-width="0.15">90</text><circle cx="191.27" cy="191.70" r="0.95" fill="none" stroke="#444" stroke-width="0.7"/><text x="195.12" y="199.80" font-size="9" font-family="Liberation Sans, sans-serif" fill="#111" stroke="#111" stroke-width="0.15">W</text>
<text x="226.10" y="199.80" font-size="9" font-family="Liberation Sans, sans-serif" fill="#111" stroke="#111" stroke-width="0.15">80</text><circle cx="238.36" cy="191.70" r="0.95" fill="none" stroke="#444" stroke-width="0.7"/><text x="242.21" y="199.80" font-size="9" font-family="Liberation Sans, sans-serif" fill="#111" stroke="#111" stroke-width="0.15">W</text>
<text x="273.19" y="199.80" font-size="9" font-family="Liberation Sans, sans-serif" fill="#111" stroke="#111" stroke-width="0.15">70</text><circle cx="285.44" cy="191.70" r="0.95" fill="none" stroke="#444" stroke-width="0.7"/><text x="289.30" y="199.80" font-size="9" font-family="Liberation Sans, sans-serif" fill="#111" stroke="#111" stroke-width="0.15">W</text>
<defs><linearGradient id="cbA0" x1="0" x2="1" y1="0" y2="0"><stop offset="0.000" stop-color="#800000"/><stop offset="0.031" stop-color="#9f0000"/><stop offset="0.062" stop-color="#bf0000"/><stop offset="0.094" stop-color="#df0000"/><stop offset="0.125" stop-color="#ff0000"/><stop offset="0.156" stop-color="#ff2000"/><stop offset="0.188" stop-color="#ff4000"/><stop offset="0.219" stop-color="#ff6000"/><stop offset="0.250" stop-color="#ff8000"/><stop offset="0.281" stop-color="#ff9f00"/><stop offset="0.312" stop-color="#ffbf00"/><stop offset="0.344" stop-color="#ffdf00"/><stop offset="0.375" stop-color="#ffff00"/><stop offset="0.406" stop-color="#dfff20"/><stop offset="0.438" stop-color="#bfff40"/><stop offset="0.469" stop-color="#9fff60"/><stop offset="0.500" stop-color="#80ff80"/><stop offset="0.531" stop-color="#60ff9f"/><stop offset="0.562" stop-color="#40ffbf"/><stop offset="0.594" stop-color="#20ffdf"/><stop offset="0.625" stop-color="#00ffff"/><stop offset="0.656" stop-color="#00dfff"/><stop offset="0.688" stop-color="#00bfff"/><stop offset="0.719" stop-color="#009fff"/><stop offset="0.750" stop-color="#0080ff"/><stop offset="0.781" stop-color="#0060ff"/><stop offset="0.812" stop-color="#0040ff"/><stop offset="0.844" stop-color="#0020ff"/><stop offset="0.875" stop-color="#0000ff"/><stop offset="0.906" stop-color="#0000df"/><stop offset="0.938" stop-color="#0000bf"/><stop offset="0.969" stop-color="#00009f"/><stop offset="1.000" stop-color="#000080"/></linearGradient></defs>
<rect x="41.4" y="213.0" width="225.6" height="5.3" fill="url(#cbA0)" stroke="#222" stroke-width="0.6"/>
<text x="41.4" y="229.5" text-anchor="middle" font-size="9" font-family="Liberation Sans, sans-serif" fill="#111">0</text>
<line x1="97.8" x2="97.8" y1="213.0" y2="214.6" stroke="#222" stroke-width="0.7"/>
<line x1="97.8" x2="97.8" y1="216.7" y2="218.3" stroke="#222" stroke-width="0.7"/>
<text x="97.8" y="229.5" text-anchor="middle" font-size="9" font-family="Liberation Sans, sans-serif" fill="#111">0.2</text>
<line x1="154.2" x2="154.2" y1="213.0" y2="214.6" stroke="#222" stroke-width="0.7"/>
<line x1="154.2" x2="154.2" y1="216.7" y2="218.3" stroke="#222" stroke-width="0.7"/>
<text x="154.2" y="229.5" text-anchor="middle" font-size="9" font-family="Liberation Sans, sans-serif" fill="#111">0.4</text>
<line x1="210.6" x2="210.6" y1="213.0" y2="214.6" stroke="#222" stroke-width="0.7"/>
<line x1="210.6" x2="210.6" y1="216.7" y2="218.3" stroke="#222" stroke-width="0.7"/>
<text x="210.6" y="229.5" text-anchor="middle" font-size="9" font-family="Liberation Sans, sans-serif" fill="#111">0.6</text>
<text x="267.0" y="229.5" text-anchor="middle" font-size="9" font-family="Liberation Sans, sans-serif" fill="#111">0.8</text>
</g>
<g transform="translate(0,0.0)">
<text x="322.0" y="11.6" font-size="16" font-weight="bold" font-family="Liberation Serif, serif" fill="#000">(b)</text>
<polyline points="374.4,190.3 374.4,184.6 374.5,178.9 374.5,173.3 374.6,167.6 374.7,161.9 374.9,156.2 375.1,150.5 375.3,144.8 375.5,139.2 375.8,133.5 376.0,127.8 376.3,122.1 376.7,116.4 377.1,110.8 377.5,105.1 378.0,99.4 378.6,93.7 379.2,88.0 379.8,82.4 380.5,76.7 381.3,71.1 382.1,65.5 382.9,59.9 383.8,54.4 384.7,48.8 385.7,43.4 386.7,37.9 387.8,32.6 388.9,27.3 390.1,22.0" fill="none" stroke="#c8c8e0" stroke-width="0.6" stroke-dasharray="2,1"/>
<polyline points="400.4,190.3 400.4,184.6 400.4,178.9 400.5,173.3 400.5,167.6 400.6,161.9 400.7,156.2 400.8,150.5 401.0,144.8 401.1,139.2 401.3,133.5 401.5,127.8 401.7,122.1 401.9,116.4 402.2,110.8 402.4,105.1 402.8,99.4 403.1,93.7 403.5,88.0 404.0,82.4 404.4,76.7 405.0,71.1 405.5,65.5 406.0,59.9 406.6,54.4 407.2,48.8 407.9,43.4 408.6,37.9 409.3,32.6 410.1,27.3 410.8,22.0" fill="none" stroke="#c8c8e0" stroke-width="0.6" stroke-dasharray="2,1"/>
<polyline points="426.3,190.3 426.3,184.6 426.4,178.9 426.4,173.3 426.4,167.6 426.4,161.9 426.5,156.2 426.6,150.5 426.6,144.8 426.7,139.2 426.8,133.5 426.9,127.8 427.0,122.1 427.1,116.4 427.2,110.8 427.4,105.1 427.5,99.4 427.7,93.7 427.9,88.0 428.1,82.4 428.4,76.7 428.6,71.1 428.9,65.5 429.2,59.9 429.5,54.4 429.8,48.8 430.1,43.4 430.4,37.9 430.8,32.6 431.2,27.3 431.6,22.0" fill="none" stroke="#c8c8e0" stroke-width="0.6" stroke-dasharray="2,1"/>
<polyline points="452.3,190.3 452.3,184.6 452.3,178.9 452.3,173.3 452.3,167.6 452.3,161.9 452.3,156.2 452.3,150.5 452.3,144.8 452.3,139.2 452.3,133.5 452.3,127.8 452.3,122.1 452.3,116.4 452.3,110.8 452.3,105.1 452.3,99.4 452.3,93.7 452.3,88.0 452.3,82.4 452.3,76.7 452.3,71.1 452.3,65.5 452.3,59.9 452.3,54.4 452.3,48.8 452.3,43.4 452.3,37.9 452.3,32.6 452.3,27.3 452.3,22.0" fill="none" stroke="#c8c8e0" stroke-width="0.6" stroke-dasharray="2,1"/>
<polyline points="478.3,190.3 478.3,184.6 478.2,178.9 478.2,173.3 478.2,167.6 478.2,161.9 478.1,156.2 478.0,150.5 478.0,144.8 477.9,139.2 477.8,133.5 477.7,127.8 477.6,122.1 477.5,116.4 477.4,110.8 477.2,105.1 477.1,99.4 476.9,93.7 476.7,88.0 476.5,82.4 476.2,76.7 476.0,71.1 475.7,65.5 475.4,59.9 475.1,54.4 474.8,48.8 474.5,43.4 474.2,37.9 473.8,32.6 473.4,27.3 473.0,22.0" fill="none" stroke="#c8c8e0" stroke-width="0.6" stroke-dasharray="2,1"/>
<polyline points="504.2,190.3 504.2,184.6 504.2,178.9 504.1,173.3 504.1,167.6 504.0,161.9 503.9,156.2 503.8,150.5 503.6,144.8 503.5,139.2 503.3,133.5 503.1,127.8 502.9,122.1 502.7,116.4 502.4,110.8 502.2,105.1 501.8,99.4 501.5,93.7 501.1,88.0 500.6,82.4 500.2,76.7 499.6,71.1 499.1,65.5 498.6,59.9 498.0,54.4 497.4,48.8 496.7,43.4 496.0,37.9 495.3,32.6 494.5,27.3 493.8,22.0" fill="none" stroke="#c8c8e0" stroke-width="0.6" stroke-dasharray="2,1"/>
<polyline points="530.2,190.3 530.2,184.6 530.1,178.9 530.1,173.3 530.0,167.6 529.9,161.9 529.7,156.2 529.5,150.5 529.3,144.8 529.1,139.2 528.8,133.5 528.6,127.8 528.3,122.1 527.9,116.4 527.5,110.8 527.1,105.1 526.6,99.4 526.0,93.7 525.4,88.0 524.8,82.4 524.1,76.7 523.3,71.1 522.5,65.5 521.7,59.9 520.8,54.4 519.9,48.8 518.9,43.4 517.9,37.9 516.8,32.6 515.7,27.3 514.5,22.0" fill="none" stroke="#c8c8e0" stroke-width="0.6" stroke-dasharray="2,1"/>
<line x1="348.9" y1="161.9" x2="555.7" y2="161.9" stroke="#c8c8e0" stroke-width="0.6" stroke-dasharray="2,1"/>
<line x1="350.2" y1="133.5" x2="554.4" y2="133.5" stroke="#c8c8e0" stroke-width="0.6" stroke-dasharray="2,1"/>
<line x1="352.6" y1="105.1" x2="552.0" y2="105.1" stroke="#c8c8e0" stroke-width="0.6" stroke-dasharray="2,1"/>
<line x1="356.5" y1="76.7" x2="548.1" y2="76.7" stroke="#c8c8e0" stroke-width="0.6" stroke-dasharray="2,1"/>
<line x1="362.1" y1="48.8" x2="542.5" y2="48.8" stroke="#c8c8e0" stroke-width="0.6" stroke-dasharray="2,1"/>
<g clip-path="url(#cfB)"><g mask="url(#mkB)">
<g filter="url(#bl)"><rect x="326" y="0" width="11" height="11" fill="#00d5ff"/>
<rect x="336" y="0" width="11" height="11" fill="#00d5ff"/>
<rect x="346" y="0" width="11" height="11" fill="#00d5ff"/>
<rect x="356" y="0" width="11" height="11" fill="#00d5ff"/>
<rect x="366" y="0" width="11" height="11" fill="#00d5ff"/>
<rect x="376" y="0" width="11" height="11" fill="#00d5ff"/>
<rect x="386" y="0" width="11" height="11" fill="#00d5ff"/>
<rect x="396" y="0" width="11" height="11" fill="#00d5ff"/>
<rect x="406" y="0" width="11" height="11" fill="#00d5ff"/>
<rect x="416" y="0" width="11" height="11" fill="#00d5ff"/>
<rect x="426" y="0" width="11" height="11" fill="#00d5ff"/>
<rect x="436" y="0" width="11" height="11" fill="#00d5ff"/>
<rect x="446" y="0" width="11" height="11" fill="#00d5ff"/>
<rect x="456" y="0" width="11" height="11" fill="#00d5ff"/>
<rect x="466" y="0" width="11" height="11" fill="#0063ff"/>
<rect x="476" y="0" width="11" height="11" fill="#0000f1"/>
<rect x="486" y="0" width="11" height="11" fill="#0063ff"/>
<rect x="496" y="0" width="11" height="11" fill="#0000f1"/>
<rect x="506" y="0" width="11" height="11" fill="#0063ff"/>
<rect x="516" y="0" width="11" height="11" fill="#0000f1"/>
<rect x="526" y="0" width="11" height="11" fill="#0000f1"/>
<rect x="536" y="0" width="11" height="11" fill="#0000f1"/>
<rect x="546" y="0" width="11" height="11" fill="#0000f1"/>
<rect x="556" y="0" width="11" height="11" fill="#0000f1"/>
<rect x="566" y="0" width="11" height="11" fill="#0000f1"/>
<rect x="576" y="0" width="11" height="11" fill="#0000f1"/>
<rect x="326" y="10" width="11" height="11" fill="#00d5ff"/>
<rect x="336" y="10" width="11" height="11" fill="#00d5ff"/>
<rect x="346" y="10" width="11" height="11" fill="#00d5ff"/>
<rect x="356" y="10" width="11" height="11" fill="#00d5ff"/>
<rect x="366" y="10" width="11" height="11" fill="#00d5ff"/>
<rect x="376" y="10" width="11" height="11" fill="#00d5ff"/>
<rect x="386" y="10" width="11" height="11" fill="#00d5ff"/>
<rect x="396" y="10" width="11" height="11" fill="#00d5ff"/>
<rect x="406" y="10" width="11" height="11" fill="#00d5ff"/>
<rect x="416" y="10" width="11" height="11" fill="#00d5ff"/>
<rect x="426" y="10" width="11" height="11" fill="#00d5ff"/>
<rect x="436" y="10" width="11" height="11" fill="#00d5ff"/>
<rect x="446" y="10" width="11" height="11" fill="#00d5ff"/>
<rect x="456" y="10" width="11" height="11" fill="#00d5ff"/>
<rect x="466" y="10" width="11" height="11" fill="#0063ff"/>
<rect x="476" y="10" width="11" height="11" fill="#0000f1"/>
<rect x="486" y="10" width="11" height="11" fill="#0063ff"/>
<rect x="496" y="10" width="11" height="11" fill="#0000f1"/>
<rect x="506" y="10" width="11" height="11" fill="#0063ff"/>
<rect x="516" y="10" width="11" height="11" fill="#0000f1"/>
<rect x="526" y="10" width="11" height="11" fill="#0000f1"/>
<rect x="536" y="10" width="11" height="11" fill="#0000f1"/>
<rect x="546" y="10" width="11" height="11" fill="#0000f1"/>
<rect x="556" y="10" width="11" height="11" fill="#0000f1"/>
<rect x="566" y="10" width="11" height="11" fill="#0000f1"/>
<rect x="576" y="10" width="11" height="11" fill="#0000f1"/>
<rect x="326" y="20" width="11" height="11" fill="#00d5ff"/>
<rect x="336" y="20" width="11" height="11" fill="#00d5ff"/>
<rect x="346" y="20" width="11" height="11" fill="#00d5ff"/>
<rect x="356" y="20" width="11" height="11" fill="#00d5ff"/>
<rect x="366" y="20" width="11" height="11" fill="#00d5ff"/>
<rect x="376" y="20" width="11" height="11" fill="#00d5ff"/>
<rect x="386" y="20" width="11" height="11" fill="#00d5ff"/>
<rect x="396" y="20" width="11" height="11" fill="#00d5ff"/>
<rect x="406" y="20" width="11" height="11" fill="#00d5ff"/>
<rect x="416" y="20" width="11" height="11" fill="#00d5ff"/>
<rect x="426" y="20" width="11" height="11" fill="#00d5ff"/>
<rect x="436" y="20" width="11" height="11" fill="#00d5ff"/>
<rect x="446" y="20" width="11" height="11" fill="#00d5ff"/>
<rect x="456" y="20" width="11" height="11" fill="#00d5ff"/>
<rect x="466" y="20" width="11" height="11" fill="#0063ff"/>
<rect x="476" y="20" width="11" height="11" fill="#0000f1"/>
<rect x="486" y="20" width="11" height="11" fill="#0063ff"/>
<rect x="496" y="20" width="11" height="11" fill="#0000f1"/>
<rect x="506" y="20" width="11" height="11" fill="#0063ff"/>
<rect x="516" y="20" width="11" height="11" fill="#0000f1"/>
<rect x="526" y="20" width="11" height="11" fill="#0000f1"/>
<rect x="536" y="20" width="11" height="11" fill="#0000f1"/>
<rect x="546" y="20" width="11" height="11" fill="#0000f1"/>
<rect x="556" y="20" width="11" height="11" fill="#0000f1"/>
<rect x="566" y="20" width="11" height="11" fill="#0000f1"/>
<rect x="576" y="20" width="11" height="11" fill="#0000f1"/>
<rect x="326" y="30" width="11" height="11" fill="#00d5ff"/>
<rect x="336" y="30" width="11" height="11" fill="#00d5ff"/>
<rect x="346" y="30" width="11" height="11" fill="#00d5ff"/>
<rect x="356" y="30" width="11" height="11" fill="#00d5ff"/>
<rect x="366" y="30" width="11" height="11" fill="#00d5ff"/>
<rect x="376" y="30" width="11" height="11" fill="#00d5ff"/>
<rect x="386" y="30" width="11" height="11" fill="#00d5ff"/>
<rect x="396" y="30" width="11" height="11" fill="#00d5ff"/>
<rect x="406" y="30" width="11" height="11" fill="#00d5ff"/>
<rect x="416" y="30" width="11" height="11" fill="#00d5ff"/>
<rect x="426" y="30" width="11" height="11" fill="#00d5ff"/>
<rect x="436" y="30" width="11" height="11" fill="#00d5ff"/>
<rect x="446" y="30" width="11" height="11" fill="#00d5ff"/>
<rect x="456" y="30" width="11" height="11" fill="#00d5ff"/>
<rect x="466" y="30" width="11" height="11" fill="#0063ff"/>
<rect x="476" y="30" width="11" height="11" fill="#0000f1"/>
<rect x="486" y="30" width="11" height="11" fill="#0000f1"/>
<rect x="496" y="30" width="11" height="11" fill="#0063ff"/>
<rect x="506" y="30" width="11" height="11" fill="#0063ff"/>
<rect x="516" y="30" width="11" height="11" fill="#0063ff"/>
<rect x="526" y="30" width="11" height="11" fill="#0000f1"/>
<rect x="536" y="30" width="11" height="11" fill="#0000f1"/>
<rect x="546" y="30" width="11" height="11" fill="#0000f1"/>
<rect x="556" y="30" width="11" height="11" fill="#0000f1"/>
<rect x="566" y="30" width="11" height="11" fill="#0000f1"/>
<rect x="576" y="30" width="11" height="11" fill="#0000f1"/>
<rect x="326" y="40" width="11" height="11" fill="#00d5ff"/>
<rect x="336" y="40" width="11" height="11" fill="#00d5ff"/>
<rect x="346" y="40" width="11" height="11" fill="#00d5ff"/>
<rect x="356" y="40" width="11" height="11" fill="#00d5ff"/>
<rect x="366" y="40" width="11" height="11" fill="#00d5ff"/>
<rect x="376" y="40" width="11" height="11" fill="#00d5ff"/>
<rect x="386" y="40" width="11" height="11" fill="#00d5ff"/>
<rect x="396" y="40" width="11" height="11" fill="#00d5ff"/>
<rect x="406" y="40" width="11" height="11" fill="#00d5ff"/>
<rect x="416" y="40" width="11" height="11" fill="#00d5ff"/>
<rect x="426" y="40" width="11" height="11" fill="#00d5ff"/>
<rect x="436" y="40" width="11" height="11" fill="#00d5ff"/>
<rect x="446" y="40" width="11" height="11" fill="#47ffb8"/>
<rect x="456" y="40" width="11" height="11" fill="#47ffb8"/>
<rect x="466" y="40" width="11" height="11" fill="#00d5ff"/>
<rect x="476" y="40" width="11" height="11" fill="#0063ff"/>
<rect x="486" y="40" width="11" height="11" fill="#00d5ff"/>
<rect x="496" y="40" width="11" height="11" fill="#00d5ff"/>
<rect x="506" y="40" width="11" height="11" fill="#00d5ff"/>
<rect x="516" y="40" width="11" height="11" fill="#0063ff"/>
<rect x="526" y="40" width="11" height="11" fill="#0063ff"/>
<rect x="536" y="40" width="11" height="11" fill="#0000f1"/>
<rect x="546" y="40" width="11" height="11" fill="#0000f1"/>
<rect x="556" y="40" width="11" height="11" fill="#0000f1"/>
<rect x="566" y="40" width="11" height="11" fill="#0000f1"/>
<rect x="576" y="40" width="11" height="11" fill="#0000f1"/>
<rect x="326" y="50" width="11" height="11" fill="#00d5ff"/>
<rect x="336" y="50" width="11" height="11" fill="#00d5ff"/>
<rect x="346" y="50" width="11" height="11" fill="#00d5ff"/>
<rect x="356" y="50" width="11" height="11" fill="#00d5ff"/>
<rect x="366" y="50" width="11" height="11" fill="#00d5ff"/>
<rect x="376" y="50" width="11" height="11" fill="#00d5ff"/>
<rect x="386" y="50" width="11" height="11" fill="#00d5ff"/>
<rect x="396" y="50" width="11" height="11" fill="#00d5ff"/>
<rect x="406" y="50" width="11" height="11" fill="#00d5ff"/>
<rect x="416" y="50" width="11" height="11" fill="#00d5ff"/>
<rect x="426" y="50" width="11" height="11" fill="#0063ff"/>
<rect x="436" y="50" width="11" height="11" fill="#00d5ff"/>
<rect x="446" y="50" width="11" height="11" fill="#47ffb8"/>
<rect x="456" y="50" width="11" height="11" fill="#00d5ff"/>
<rect x="466" y="50" width="11" height="11" fill="#47ffb8"/>
<rect x="476" y="50" width="11" height="11" fill="#b8ff47"/>
<rect x="486" y="50" width="11" height="11" fill="#47ffb8"/>
<rect x="496" y="50" width="11" height="11" fill="#b8ff47"/>
<rect x="506" y="50" width="11" height="11" fill="#b8ff47"/>
<rect x="516" y="50" width="11" height="11" fill="#ffd400"/>
<rect x="526" y="50" width="11" height="11" fill="#ffd400"/>
<rect x="536" y="50" width="11" height="11" fill="#b8ff47"/>
<rect x="546" y="50" width="11" height="11" fill="#b8ff47"/>
<rect x="556" y="50" width="11" height="11" fill="#b8ff47"/>
<rect x="566" y="50" width="11" height="11" fill="#b8ff47"/>
<rect x="576" y="50" width="11" height="11" fill="#b8ff47"/>
<rect x="326" y="60" width="11" height="11" fill="#00d5ff"/>
<rect x="336" y="60" width="11" height="11" fill="#00d5ff"/>
<rect x="346" y="60" width="11" height="11" fill="#00d5ff"/>
<rect x="356" y="60" width="11" height="11" fill="#00d5ff"/>
<rect x="366" y="60" width="11" height="11" fill="#00d5ff"/>
<rect x="376" y="60" width="11" height="11" fill="#00d5ff"/>
<rect x="386" y="60" width="11" height="11" fill="#00d5ff"/>
<rect x="396" y="60" width="11" height="11" fill="#00d5ff"/>
<rect x="406" y="60" width="11" height="11" fill="#47ffb8"/>
<rect x="416" y="60" width="11" height="11" fill="#00d5ff"/>
<rect x="426" y="60" width="11" height="11" fill="#47ffb8"/>
<rect x="436" y="60" width="11" height="11" fill="#00d5ff"/>
<rect x="446" y="60" width="11" height="11" fill="#00d5ff"/>
<rect x="456" y="60" width="11" height="11" fill="#47ffb8"/>
<rect x="466" y="60" width="11" height="11" fill="#47ffb8"/>
<rect x="476" y="60" width="11" height="11" fill="#b8ff47"/>
<rect x="486" y="60" width="11" height="11" fill="#47ffb8"/>
<rect x="496" y="60" width="11" height="11" fill="#b8ff47"/>
<rect x="506" y="60" width="11" height="11" fill="#b8ff47"/>
<rect x="516" y="60" width="11" height="11" fill="#ffd400"/>
<rect x="526" y="60" width="11" height="11" fill="#ffd400"/>
<rect x="536" y="60" width="11" height="11" fill="#ffd400"/>
<rect x="546" y="60" width="11" height="11" fill="#ffd400"/>
<rect x="556" y="60" width="11" height="11" fill="#ffd400"/>
<rect x="566" y="60" width="11" height="11" fill="#ffd400"/>
<rect x="576" y="60" width="11" height="11" fill="#ffd400"/>
<rect x="326" y="70" width="11" height="11" fill="#47ffb8"/>
<rect x="336" y="70" width="11" height="11" fill="#47ffb8"/>
<rect x="346" y="70" width="11" height="11" fill="#47ffb8"/>
<rect x="356" y="70" width="11" height="11" fill="#47ffb8"/>
<rect x="366" y="70" width="11" height="11" fill="#47ffb8"/>
<rect x="376" y="70" width="11" height="11" fill="#47ffb8"/>
<rect x="386" y="70" width="11" height="11" fill="#47ffb8"/>
<rect x="396" y="70" width="11" height="11" fill="#00d5ff"/>
<rect x="406" y="70" width="11" height="11" fill="#47ffb8"/>
<rect x="416" y="70" width="11" height="11" fill="#00d5ff"/>
<rect x="426" y="70" width="11" height="11" fill="#47ffb8"/>
<rect x="436" y="70" width="11" height="11" fill="#b8ff47"/>
<rect x="446" y="70" width="11" height="11" fill="#b8ff47"/>
<rect x="456" y="70" width="11" height="11" fill="#b8ff47"/>
<rect x="466" y="70" width="11" height="11" fill="#f10000"/>
<rect x="476" y="70" width="11" height="11" fill="#f10000"/>
<rect x="486" y="70" width="11" height="11" fill="#ff6300"/>
<rect x="496" y="70" width="11" height="11" fill="#ff6300"/>
<rect x="506" y="70" width="11" height="11" fill="#ffd400"/>
<rect x="516" y="70" width="11" height="11" fill="#ffd400"/>
<rect x="526" y="70" width="11" height="11" fill="#ffd400"/>
<rect x="536" y="70" width="11" height="11" fill="#ffd400"/>
<rect x="546" y="70" width="11" height="11" fill="#ffd400"/>
<rect x="556" y="70" width="11" height="11" fill="#ffd400"/>
<rect x="566" y="70" width="11" height="11" fill="#ffd400"/>
<rect x="576" y="70" width="11" height="11" fill="#ffd400"/>
<rect x="326" y="80" width="11" height="11" fill="#47ffb8"/>
<rect x="336" y="80" width="11" height="11" fill="#47ffb8"/>
<rect x="346" y="80" width="11" height="11" fill="#47ffb8"/>
<rect x="356" y="80" width="11" height="11" fill="#47ffb8"/>
<rect x="366" y="80" width="11" height="11" fill="#47ffb8"/>
<rect x="376" y="80" width="11" height="11" fill="#47ffb8"/>
<rect x="386" y="80" width="11" height="11" fill="#47ffb8"/>
<rect x="396" y="80" width="11" height="11" fill="#47ffb8"/>
<rect x="406" y="80" width="11" height="11" fill="#47ffb8"/>
<rect x="416" y="80" width="11" height="11" fill="none"/>
<rect x="426" y="80" width="11" height="11" fill="#47ffb8"/>
<rect x="436" y="80" width="11" height="11" fill="#ffd400"/>
<rect x="446" y="80" width="11" height="11" fill="#b8ff47"/>
<rect x="456" y="80" width="11" height="11" fill="#b8ff47"/>
<rect x="466" y="80" width="11" height="11" fill="#f10000"/>
<rect x="476" y="80" width="11" height="11" fill="#f10000"/>
<rect x="486" y="80" width="11" height="11" fill="#f10000"/>
<rect x="496" y="80" width="11" height="11" fill="#f10000"/>
<rect x="506" y="80" width="11" height="11" fill="#f10000"/>
<rect x="516" y="80" width="11" height="11" fill="#ff6300"/>
<rect x="526" y="80" width="11" height="11" fill="none"/>
<rect x="536" y="80" width="11" height="11" fill="none"/>
<rect x="546" y="80" width="11" height="11" fill="none"/>
<rect x="556" y="80" width="11" height="11" fill="none"/>
<rect x="566" y="80" width="11" height="11" fill="none"/>
<rect x="576" y="80" width="11" height="11" fill="none"/>
<rect x="326" y="90" width="11" height="11" fill="#b8ff47"/>
<rect x="336" y="90" width="11" height="11" fill="#b8ff47"/>
<rect x="346" y="90" width="11" height="11" fill="#b8ff47"/>
<rect x="356" y="90" width="11" height="11" fill="#b8ff47"/>
<rect x="366" y="90" width="11" height="11" fill="#b8ff47"/>
<rect x="376" y="90" width="11" height="11" fill="#b8ff47"/>
<rect x="386" y="90" width="11" height="11" fill="#47ffb8"/>
<rect x="396" y="90" width="11" height="11" fill="#ff6300"/>
<rect x="406" y="90" width="11" height="11" fill="#ff6300"/>
<rect x="416" y="90" width="11" height="11" fill="none"/>
<rect x="426" y="90" width="11" height="11" fill="#f10000"/>
<rect x="436" y="90" width="11" height="11" fill="#ffd400"/>
<rect x="446" y="90" width="11" height="11" fill="#b8ff47"/>
<rect x="456" y="90" width="11" height="11" fill="#f10000"/>
<rect x="466" y="90" width="11" height="11" fill="#f10000"/>
<rect x="476" y="90" width="11" height="11" fill="#f10000"/>
<rect x="486" y="90" width="11" height="11" fill="#f10000"/>
<rect x="496" y="90" width="11" height="11" fill="#f10000"/>
<rect x="506" y="90" width="11" height="11" fill="#f10000"/>
<rect x="516" y="90" width="11" height="11" fill="#ff6300"/>
<rect x="526" y="90" width="11" height="11" fill="none"/>
<rect x="536" y="90" width="11" height="11" fill="none"/>
<rect x="546" y="90" width="11" height="11" fill="none"/>
<rect x="556" y="90" width="11" height="11" fill="none"/>
<rect x="566" y="90" width="11" height="11" fill="none"/>
<rect x="576" y="90" width="11" height="11" fill="none"/>
<rect x="326" y="100" width="11" height="11" fill="#b8ff47"/>
<rect x="336" y="100" width="11" height="11" fill="#b8ff47"/>
<rect x="346" y="100" width="11" height="11" fill="#b8ff47"/>
<rect x="356" y="100" width="11" height="11" fill="#b8ff47"/>
<rect x="366" y="100" width="11" height="11" fill="#b8ff47"/>
<rect x="376" y="100" width="11" height="11" fill="#b8ff47"/>
<rect x="386" y="100" width="11" height="11" fill="#ff6300"/>
<rect x="396" y="100" width="11" height="11" fill="#f10000"/>
<rect x="406" y="100" width="11" height="11" fill="none"/>
<rect x="416" y="100" width="11" height="11" fill="none"/>
<rect x="426" y="100" width="11" height="11" fill="#f10000"/>
<rect x="436" y="100" width="11" height="11" fill="#f10000"/>
<rect x="446" y="100" width="11" height="11" fill="#f10000"/>
<rect x="456" y="100" width="11" height="11" fill="#f10000"/>
<rect x="466" y="100" width="11" height="11" fill="#f10000"/>
<rect x="476" y="100" width="11" height="11" fill="#f10000"/>
<rect x="486" y="100" width="11" height="11" fill="#f10000"/>
<rect x="496" y="100" width="11" height="11" fill="#f10000"/>
<rect x="506" y="100" width="11" height="11" fill="#f10000"/>
<rect x="516" y="100" width="11" height="11" fill="#f10000"/>
<rect x="526" y="100" width="11" height="11" fill="none"/>
<rect x="536" y="100" width="11" height="11" fill="none"/>
<rect x="546" y="100" width="11" height="11" fill="none"/>
<rect x="556" y="100" width="11" height="11" fill="none"/>
<rect x="566" y="100" width="11" height="11" fill="none"/>
<rect x="576" y="100" width="11" height="11" fill="none"/>
<rect x="326" y="110" width="11" height="11" fill="#f10000"/>
<rect x="336" y="110" width="11" height="11" fill="#f10000"/>
<rect x="346" y="110" width="11" height="11" fill="#f10000"/>
<rect x="356" y="110" width="11" height="11" fill="#f10000"/>
<rect x="366" y="110" width="11" height="11" fill="#f10000"/>
<rect x="376" y="110" width="11" height="11" fill="#f10000"/>
<rect x="386" y="110" width="11" height="11" fill="#f10000"/>
<rect x="396" y="110" width="11" height="11" fill="none"/>
<rect x="406" y="110" width="11" height="11" fill="#f10000"/>
<rect x="416" y="110" width="11" height="11" fill="#f10000"/>
<rect x="426" y="110" width="11" height="11" fill="none"/>
<rect x="436" y="110" width="11" height="11" fill="#f10000"/>
<rect x="446" y="110" width="11" height="11" fill="#f10000"/>
<rect x="456" y="110" width="11" height="11" fill="none"/>
<rect x="466" y="110" width="11" height="11" fill="#f10000"/>
<rect x="476" y="110" width="11" height="11" fill="#f10000"/>
<rect x="486" y="110" width="11" height="11" fill="#f10000"/>
<rect x="496" y="110" width="11" height="11" fill="#f10000"/>
<rect x="506" y="110" width="11" height="11" fill="none"/>
<rect x="516" y="110" width="11" height="11" fill="none"/>
<rect x="526" y="110" width="11" height="11" fill="none"/>
<rect x="536" y="110" width="11" height="11" fill="none"/>
<rect x="546" y="110" width="11" height="11" fill="none"/>
<rect x="556" y="110" width="11" height="11" fill="none"/>
<rect x="566" y="110" width="11" height="11" fill="none"/>
<rect x="576" y="110" width="11" height="11" fill="none"/>
<rect x="326" y="120" width="11" height="11" fill="#f10000"/>
<rect x="336" y="120" width="11" height="11" fill="#f10000"/>
<rect x="346" y="120" width="11" height="11" fill="#f10000"/>
<rect x="356" y="120" width="11" height="11" fill="#f10000"/>
<rect x="366" y="120" width="11" height="11" fill="#f10000"/>
<rect x="376" y="120" width="11" height="11" fill="none"/>
<rect x="386" y="120" width="11" height="11" fill="none"/>
<rect x="396" y="120" width="11" height="11" fill="#f10000"/>
<rect x="406" y="120" width="11" height="11" fill="#f10000"/>
<rect x="416" y="120" width="11" height="11" fill="#f10000"/>
<rect x="426" y="120" width="11" height="11" fill="none"/>
<rect x="436" y="120" width="11" height="11" fill="#f10000"/>
<rect x="446" y="120" width="11" height="11" fill="none"/>
<rect x="456" y="120" width="11" height="11" fill="#f10000"/>
<rect x="466" y="120" width="11" height="11" fill="none"/>
<rect x="476" y="120" width="11" height="11" fill="#f10000"/>
<rect x="486" y="120" width="11" height="11" fill="#f10000"/>
<rect x="496" y="120" width="11" height="11" fill="#f10000"/>
<rect x="506" y="120" width="11" height="11" fill="none"/>
<rect x="516" y="120" width="11" height="11" fill="none"/>
<rect x="526" y="120" width="11" height="11" fill="none"/>
<rect x="536" y="120" width="11" height="11" fill="none"/>
<rect x="546" y="120" width="11" height="11" fill="none"/>
<rect x="556" y="120" width="11" height="11" fill="none"/>
<rect x="566" y="120" width="11" height="11" fill="none"/>
<rect x="576" y="120" width="11" height="11" fill="none"/>
<rect x="326" y="130" width="11" height="11" fill="none"/>
<rect x="336" y="130" width="11" height="11" fill="none"/>
<rect x="346" y="130" width="11" height="11" fill="none"/>
<rect x="356" y="130" width="11" height="11" fill="none"/>
<rect x="366" y="130" width="11" height="11" fill="none"/>
<rect x="376" y="130" width="11" height="11" fill="none"/>
<rect x="386" y="130" width="11" height="11" fill="none"/>
<rect x="396" y="130" width="11" height="11" fill="none"/>
<rect x="406" y="130" width="11" height="11" fill="#f10000"/>
<rect x="416" y="130" width="11" height="11" fill="#f10000"/>
<rect x="426" y="130" width="11" height="11" fill="#f10000"/>
<rect x="436" y="130" width="11" height="11" fill="#f10000"/>
<rect x="446" y="130" width="11" height="11" fill="#f10000"/>
<rect x="456" y="130" width="11" height="11" fill="#f10000"/>
<rect x="466" y="130" width="11" height="11" fill="none"/>
<rect x="476" y="130" width="11" height="11" fill="#a80000"/>
<rect x="486" y="130" width="11" height="11" fill="#a80000"/>
<rect x="496" y="130" width="11" height="11" fill="#a80000"/>
<rect x="506" y="130" width="11" height="11" fill="none"/>
<rect x="516" y="130" width="11" height="11" fill="none"/>
<rect x="526" y="130" width="11" height="11" fill="none"/>
<rect x="536" y="130" width="11" height="11" fill="none"/>
<rect x="546" y="130" width="11" height="11" fill="none"/>
<rect x="556" y="130" width="11" height="11" fill="none"/>
<rect x="566" y="130" width="11" height="11" fill="none"/>
<rect x="576" y="130" width="11" height="11" fill="none"/>
<rect x="326" y="140" width="11" height="11" fill="#ff6300"/>
<rect x="336" y="140" width="11" height="11" fill="#ff6300"/>
<rect x="346" y="140" width="11" height="11" fill="#ff6300"/>
<rect x="356" y="140" width="11" height="11" fill="#ff6300"/>
<rect x="366" y="140" width="11" height="11" fill="#ff6300"/>
<rect x="376" y="140" width="11" height="11" fill="#ff6300"/>
<rect x="386" y="140" width="11" height="11" fill="#ff6300"/>
<rect x="396" y="140" width="11" height="11" fill="#f10000"/>
<rect x="406" y="140" width="11" height="11" fill="#f10000"/>
<rect x="416" y="140" width="11" height="11" fill="#f10000"/>
<rect x="426" y="140" width="11" height="11" fill="#f10000"/>
<rect x="436" y="140" width="11" height="11" fill="none"/>
<rect x="446" y="140" width="11" height="11" fill="none"/>
<rect x="456" y="140" width="11" height="11" fill="#f10000"/>
<rect x="466" y="140" width="11" height="11" fill="#f10000"/>
<rect x="476" y="140" width="11" height="11" fill="#f10000"/>
<rect x="486" y="140" width="11" height="11" fill="none"/>
<rect x="496" y="140" width="11" height="11" fill="none"/>
<rect x="506" y="140" width="11" height="11" fill="none"/>
<rect x="516" y="140" width="11" height="11" fill="none"/>
<rect x="526" y="140" width="11" height="11" fill="none"/>
<rect x="536" y="140" width="11" height="11" fill="none"/>
<rect x="546" y="140" width="11" height="11" fill="none"/>
<rect x="556" y="140" width="11" height="11" fill="none"/>
<rect x="566" y="140" width="11" height="11" fill="none"/>
<rect x="576" y="140" width="11" height="11" fill="none"/>
<rect x="326" y="150" width="11" height="11" fill="#47ffb8"/>
<rect x="336" y="150" width="11" height="11" fill="#47ffb8"/>
<rect x="346" y="150" width="11" height="11" fill="#47ffb8"/>
<rect x="356" y="150" width="11" height="11" fill="#47ffb8"/>
<rect x="366" y="150" width="11" height="11" fill="#b8ff47"/>
<rect x="376" y="150" width="11" height="11" fill="#ffd400"/>
<rect x="386" y="150" width="11" height="11" fill="#ffd400"/>
<rect x="396" y="150" width="11" height="11" fill="#ffd400"/>
<rect x="406" y="150" width="11" height="11" fill="#ff6300"/>
<rect x="416" y="150" width="11" height="11" fill="#ff6300"/>
<rect x="426" y="150" width="11" height="11" fill="#ff6300"/>
<rect x="436" y="150" width="11" height="11" fill="none"/>
<rect x="446" y="150" width="11" height="11" fill="none"/>
<rect x="456" y="150" width="11" height="11" fill="none"/>
<rect x="466" y="150" width="11" height="11" fill="none"/>
<rect x="476" y="150" width="11" height="11" fill="none"/>
<rect x="486" y="150" width="11" height="11" fill="none"/>
<rect x="496" y="150" width="11" height="11" fill="none"/>
<rect x="506" y="150" width="11" height="11" fill="none"/>
<rect x="516" y="150" width="11" height="11" fill="none"/>
<rect x="526" y="150" width="11" height="11" fill="none"/>
<rect x="536" y="150" width="11" height="11" fill="none"/>
<rect x="546" y="150" width="11" height="11" fill="none"/>
<rect x="556" y="150" width="11" height="11" fill="none"/>
<rect x="566" y="150" width="11" height="11" fill="none"/>
<rect x="576" y="150" width="11" height="11" fill="none"/>
<rect x="326" y="160" width="11" height="11" fill="#00d5ff"/>
<rect x="336" y="160" width="11" height="11" fill="#00d5ff"/>
<rect x="346" y="160" width="11" height="11" fill="#00d5ff"/>
<rect x="356" y="160" width="11" height="11" fill="#00d5ff"/>
<rect x="366" y="160" width="11" height="11" fill="#0063ff"/>
<rect x="376" y="160" width="11" height="11" fill="#00d5ff"/>
<rect x="386" y="160" width="11" height="11" fill="#47ffb8"/>
<rect x="396" y="160" width="11" height="11" fill="#47ffb8"/>
<rect x="406" y="160" width="11" height="11" fill="#b8ff47"/>
<rect x="416" y="160" width="11" height="11" fill="#b8ff47"/>
<rect x="426" y="160" width="11" height="11" fill="#b8ff47"/>
<rect x="436" y="160" width="11" height="11" fill="none"/>
<rect x="446" y="160" width="11" height="11" fill="none"/>
<rect x="456" y="160" width="11" height="11" fill="none"/>
<rect x="466" y="160" width="11" height="11" fill="none"/>
<rect x="476" y="160" width="11" height="11" fill="none"/>
<rect x="486" y="160" width="11" height="11" fill="none"/>
<rect x="496" y="160" width="11" height="11" fill="none"/>
<rect x="506" y="160" width="11" height="11" fill="none"/>
<rect x="516" y="160" width="11" height="11" fill="none"/>
<rect x="526" y="160" width="11" height="11" fill="none"/>
<rect x="536" y="160" width="11" height="11" fill="none"/>
<rect x="546" y="160" width="11" height="11" fill="none"/>
<rect x="556" y="160" width="11" height="11" fill="none"/>
<rect x="566" y="160" width="11" height="11" fill="none"/>
<rect x="576" y="160" width="11" height="11" fill="none"/>
<rect x="326" y="170" width="11" height="11" fill="#00d5ff"/>
<rect x="336" y="170" width="11" height="11" fill="#00d5ff"/>
<rect x="346" y="170" width="11" height="11" fill="#00d5ff"/>
<rect x="356" y="170" width="11" height="11" fill="#00d5ff"/>
<rect x="366" y="170" width="11" height="11" fill="#0000f1"/>
<rect x="376" y="170" width="11" height="11" fill="#000080"/>
<rect x="386" y="170" width="11" height="11" fill="#000080"/>
<rect x="396" y="170" width="11" height="11" fill="#0000f1"/>
<rect x="406" y="170" width="11" height="11" fill="#00d5ff"/>
<rect x="416" y="170" width="11" height="11" fill="#00d5ff"/>
<rect x="426" y="170" width="11" height="11" fill="#47ffb8"/>
<rect x="436" y="170" width="11" height="11" fill="none"/>
<rect x="446" y="170" width="11" height="11" fill="none"/>
<rect x="456" y="170" width="11" height="11" fill="none"/>
<rect x="466" y="170" width="11" height="11" fill="none"/>
<rect x="476" y="170" width="11" height="11" fill="none"/>
<rect x="486" y="170" width="11" height="11" fill="none"/>
<rect x="496" y="170" width="11" height="11" fill="none"/>
<rect x="506" y="170" width="11" height="11" fill="none"/>
<rect x="516" y="170" width="11" height="11" fill="none"/>
<rect x="526" y="170" width="11" height="11" fill="none"/>
<rect x="536" y="170" width="11" height="11" fill="none"/>
<rect x="546" y="170" width="11" height="11" fill="none"/>
<rect x="556" y="170" width="11" height="11" fill="none"/>
<rect x="566" y="170" width="11" height="11" fill="none"/>
<rect x="576" y="170" width="11" height="11" fill="none"/>
<rect x="326" y="180" width="11" height="11" fill="#00d5ff"/>
<rect x="336" y="180" width="11" height="11" fill="#00d5ff"/>
<rect x="346" y="180" width="11" height="11" fill="#00d5ff"/>
<rect x="356" y="180" width="11" height="11" fill="#00d5ff"/>
<rect x="366" y="180" width="11" height="11" fill="#0000f1"/>
<rect x="376" y="180" width="11" height="11" fill="#000080"/>
<rect x="386" y="180" width="11" height="11" fill="#000080"/>
<rect x="396" y="180" width="11" height="11" fill="#0000f1"/>
<rect x="406" y="180" width="11" height="11" fill="none"/>
<rect x="416" y="180" width="11" height="11" fill="none"/>
<rect x="426" y="180" width="11" height="11" fill="none"/>
<rect x="436" y="180" width="11" height="11" fill="none"/>
<rect x="446" y="180" width="11" height="11" fill="none"/>
<rect x="456" y="180" width="11" height="11" fill="none"/>
<rect x="466" y="180" width="11" height="11" fill="none"/>
<rect x="476" y="180" width="11" height="11" fill="none"/>
<rect x="486" y="180" width="11" height="11" fill="none"/>
<rect x="496" y="180" width="11" height="11" fill="none"/>
<rect x="506" y="180" width="11" height="11" fill="none"/>
<rect x="516" y="180" width="11" height="11" fill="none"/>
<rect x="526" y="180" width="11" height="11" fill="none"/>
<rect x="536" y="180" width="11" height="11" fill="none"/>
<rect x="546" y="180" width="11" height="11" fill="none"/>
<rect x="556" y="180" width="11" height="11" fill="none"/>
<rect x="566" y="180" width="11" height="11" fill="none"/>
<rect x="576" y="180" width="11" height="11" fill="none"/>
<rect x="326" y="190" width="11" height="11" fill="#00d5ff"/>
<rect x="336" y="190" width="11" height="11" fill="#00d5ff"/>
<rect x="346" y="190" width="11" height="11" fill="#00d5ff"/>
<rect x="356" y="190" width="11" height="11" fill="#00d5ff"/>
<rect x="366" y="190" width="11" height="11" fill="#0000f1"/>
<rect x="376" y="190" width="11" height="11" fill="#000080"/>
<rect x="386" y="190" width="11" height="11" fill="#000080"/>
<rect x="396" y="190" width="11" height="11" fill="none"/>
<rect x="406" y="190" width="11" height="11" fill="none"/>
<rect x="416" y="190" width="11" height="11" fill="none"/>
<rect x="426" y="190" width="11" height="11" fill="none"/>
<rect x="436" y="190" width="11" height="11" fill="none"/>
<rect x="446" y="190" width="11" height="11" fill="none"/>
<rect x="456" y="190" width="11" height="11" fill="none"/>
<rect x="466" y="190" width="11" height="11" fill="none"/>
<rect x="476" y="190" width="11" height="11" fill="none"/>
<rect x="486" y="190" width="11" height="11" fill="none"/>
<rect x="496" y="190" width="11" height="11" fill="none"/>
<rect x="506" y="190" width="11" height="11" fill="none"/>
<rect x="516" y="190" width="11" height="11" fill="none"/>
<rect x="526" y="190" width="11" height="11" fill="none"/>
<rect x="536" y="190" width="11" height="11" fill="none"/>
<rect x="546" y="190" width="11" height="11" fill="none"/>
<rect x="556" y="190" width="11" height="11" fill="none"/>
<rect x="566" y="190" width="11" height="11" fill="none"/>
<rect x="576" y="190" width="11" height="11" fill="none"/>
<rect x="326" y="200" width="11" height="11" fill="#00d5ff"/>
<rect x="336" y="200" width="11" height="11" fill="#00d5ff"/>
<rect x="346" y="200" width="11" height="11" fill="#00d5ff"/>
<rect x="356" y="200" width="11" height="11" fill="#00d5ff"/>
<rect x="366" y="200" width="11" height="11" fill="#0000f1"/>
<rect x="376" y="200" width="11" height="11" fill="#000080"/>
<rect x="386" y="200" width="11" height="11" fill="#000080"/>
<rect x="396" y="200" width="11" height="11" fill="none"/>
<rect x="406" y="200" width="11" height="11" fill="none"/>
<rect x="416" y="200" width="11" height="11" fill="none"/>
<rect x="426" y="200" width="11" height="11" fill="none"/>
<rect x="436" y="200" width="11" height="11" fill="none"/>
<rect x="446" y="200" width="11" height="11" fill="none"/>
<rect x="456" y="200" width="11" height="11" fill="none"/>
<rect x="466" y="200" width="11" height="11" fill="none"/>
<rect x="476" y="200" width="11" height="11" fill="none"/>
<rect x="486" y="200" width="11" height="11" fill="none"/>
<rect x="496" y="200" width="11" height="11" fill="none"/>
<rect x="506" y="200" width="11" height="11" fill="none"/>
<rect x="516" y="200" width="11" height="11" fill="none"/>
<rect x="526" y="200" width="11" height="11" fill="none"/>
<rect x="536" y="200" width="11" height="11" fill="none"/>
<rect x="546" y="200" width="11" height="11" fill="none"/>
<rect x="556" y="200" width="11" height="11" fill="none"/>
<rect x="566" y="200" width="11" height="11" fill="none"/>
<rect x="576" y="200" width="11" height="11" fill="none"/>
<rect x="326" y="210" width="11" height="11" fill="#00d5ff"/>
<rect x="336" y="210" width="11" height="11" fill="#00d5ff"/>
<rect x="346" y="210" width="11" height="11" fill="#00d5ff"/>
<rect x="356" y="210" width="11" height="11" fill="#00d5ff"/>
<rect x="366" y="210" width="11" height="11" fill="#0000f1"/>
<rect x="376" y="210" width="11" height="11" fill="#000080"/>
<rect x="386" y="210" width="11" height="11" fill="#000080"/>
<rect x="396" y="210" width="11" height="11" fill="none"/>
<rect x="406" y="210" width="11" height="11" fill="none"/>
<rect x="416" y="210" width="11" height="11" fill="none"/>
<rect x="426" y="210" width="11" height="11" fill="none"/>
<rect x="436" y="210" width="11" height="11" fill="none"/>
<rect x="446" y="210" width="11" height="11" fill="none"/>
<rect x="456" y="210" width="11" height="11" fill="none"/>
<rect x="466" y="210" width="11" height="11" fill="none"/>
<rect x="476" y="210" width="11" height="11" fill="none"/>
<rect x="486" y="210" width="11" height="11" fill="none"/>
<rect x="496" y="210" width="11" height="11" fill="none"/>
<rect x="506" y="210" width="11" height="11" fill="none"/>
<rect x="516" y="210" width="11" height="11" fill="none"/>
<rect x="526" y="210" width="11" height="11" fill="none"/>
<rect x="536" y="210" width="11" height="11" fill="none"/>
<rect x="546" y="210" width="11" height="11" fill="none"/>
<rect x="556" y="210" width="11" height="11" fill="none"/>
<rect x="566" y="210" width="11" height="11" fill="none"/>
<rect x="576" y="210" width="11" height="11" fill="none"/></g>
<rect x="340" y="15" width="227" height="185" fill="url(#stB)" opacity="0.30"/>
</g></g>
<g clip-path="url(#cfB)" fill="none" stroke="#555" stroke-width="0.6" stroke-linejoin="round">
<polygon points="335.4,190.3 359.9,19.5 421.3,19.5 421.3,21.0 421.8,22.5 422.2,24.6 422.4,26.0 424.8,27.3 428.1,26.5 430.3,24.9 432.1,23.6 433.0,22.3 433.5,24.1 433.8,25.7 435.1,28.1 435.7,29.9 437.1,31.3 437.2,33.6 439.8,34.3 440.2,33.4 440.9,32.0 443.5,32.0 444.9,29.1 445.6,26.2 447.3,24.9 449.2,23.6 449.4,22.0 449.0,20.5 447.2,19.5 455.0,19.5 455.4,20.7 456.4,22.0 459.6,21.7 462.7,21.5 466.7,20.7 470.9,21.5 473.5,22.3 470.0,23.1 465.8,23.3 462.1,23.6 459.6,24.6 459.9,26.5 461.4,28.3 461.0,29.9 457.6,28.6 455.7,28.3 454.4,31.3 454.7,33.4 453.6,35.2 452.3,36.0 451.4,36.9 449.5,36.9 448.8,35.8 445.6,36.3 442.5,37.4 439.6,37.9 437.7,37.1 435.0,37.7 432.4,37.9 432.7,36.9 430.6,35.8 430.2,33.9 431.5,32.0 431.6,31.0 432.1,29.9 432.4,28.1 428.0,29.7 426.8,31.3 426.6,33.9 427.6,35.5 428.1,36.6 427.6,38.2 426.2,39.0 423.8,39.3 421.6,39.6 419.3,40.1 418.7,40.9 418.1,42.3 417.0,43.4 415.5,44.7 414.4,45.3 412.9,46.0 411.6,46.2 410.6,48.5 407.6,49.6 406.4,50.5 404.5,50.7 403.5,49.8 403.4,52.0 402.3,52.6 400.0,52.1 396.6,52.7 395.9,53.2 396.8,54.6 398.5,55.2 400.7,56.3 402.0,58.5 403.1,61.0 402.7,63.8 401.8,66.9 398.5,67.2 396.4,67.0 391.5,66.7 387.3,66.3 385.6,67.2 383.4,68.6 384.2,70.5 384.1,73.6 383.1,76.7 381.3,80.4 382.6,81.0 382.7,82.7 382.0,85.2 384.6,85.2 385.9,84.6 388.2,85.8 389.9,88.0 389.6,88.3 389.1,88.6 388.2,90.3 387.0,92.9 384.4,94.8 382.1,96.0 379.8,98.5 378.4,100.8 378.5,103.9 376.6,106.8 374.4,109.3 369.8,111.0 368.3,113.6 365.4,116.2 363.8,119.8 361.2,123.0 360.1,126.4 358.1,129.8 357.9,131.2 359.2,132.9 359.3,135.2 360.0,138.9 358.9,143.4 358.4,145.4 355.8,148.4 357.3,150.0 357.8,152.2 357.7,154.5 358.6,156.5 360.9,158.8 362.9,160.5 365.1,163.3 366.2,166.2 368.1,169.0 371.0,170.7 372.5,172.4 377.6,176.1 380.8,177.9 386.2,176.1 390.1,175.4 392.6,175.8 395.0,176.8 399.7,174.7 402.3,173.8 404.6,172.7 406.7,172.3 409.3,172.0 412.6,173.3 414.2,175.0 416.0,178.1 418.6,177.5 421.9,177.5 423.8,178.9 425.3,179.2 426.1,182.3 425.8,184.6 425.3,187.5 424.8,189.2 424.2,190.3 424.0,190.3"/>
<polygon points="389.9,88.0 393.0,86.1 396.4,85.9 398.6,86.1 401.7,83.5 402.8,81.5 404.6,80.1 403.6,78.1 405.7,75.3 407.6,73.6 410.0,72.8 412.6,70.3 412.5,68.3 414.7,67.2 416.6,67.2 418.0,67.4 419.4,68.0 421.8,66.9 422.5,66.3 426.4,64.4 428.4,65.2 429.5,66.6 430.2,68.6 431.5,70.0 434.0,71.9 435.9,73.3 438.5,74.5 440.8,76.2 442.5,78.1 443.2,79.8 441.8,81.7 442.4,82.4 444.1,81.2 445.3,79.5 445.1,78.4 444.2,76.4 445.6,75.4 447.5,76.7 448.3,77.3 447.4,74.9 444.9,73.6 442.8,71.4 440.7,70.8 437.0,66.6 435.0,65.2 434.6,62.7 434.4,61.6 436.8,60.7 437.8,60.9 437.4,61.8 438.1,63.2 439.3,61.8 441.1,65.2 443.8,66.9 447.8,69.3 450.2,70.8 451.0,73.1 450.9,75.3 452.3,77.8 454.0,79.8 456.6,81.5 455.4,83.5 456.4,85.8 458.1,86.6 459.3,85.2 460.0,83.5 461.2,82.5 462.2,81.2 459.3,78.7 458.5,75.3 461.4,76.7 462.8,74.2 466.4,74.3 468.1,75.6 466.9,78.1 468.9,79.8 467.5,81.2 469.4,81.2 469.7,83.8 472.2,85.8 474.4,86.3 475.7,87.5 478.3,85.5 481.5,86.6 484.0,87.8 485.7,87.5 487.8,85.8 490.7,85.8 491.7,86.3 491.1,88.3 490.9,89.5 491.3,92.3 490.4,94.0 489.5,96.3 489.3,97.1 488.8,99.1 488.0,100.8 486.6,101.9 482.8,101.5 480.6,100.8 478.3,100.8 476.9,101.7 474.7,102.5 470.2,101.2 465.2,100.5 462.2,99.1 458.5,96.8 456.0,97.1 453.0,98.5 452.4,99.1 452.1,102.2 450.6,104.2 448.6,103.7 443.4,101.7 440.4,98.5 437.7,97.1 435.5,96.8 431.8,96.3 430.2,94.3 428.0,94.0 429.7,91.7 430.3,89.2 429.4,88.6 429.4,86.9 430.6,85.1 428.3,84.6 427.6,84.4 424.6,85.5 422.7,85.5 419.3,85.5 416.1,86.3 411.3,85.8 408.5,86.6 404.0,88.3 402.0,88.9 399.5,90.0 398.0,90.6 396.1,90.0 392.9,90.3 390.5,89.2 390.4,88.3"/>
<polygon points="473.9,73.3 471.0,71.9 470.0,69.7 470.9,67.7 472.5,64.9 474.9,62.1 477.0,58.5 478.8,58.2 481.2,59.6 481.3,61.3 482.5,62.1 483.8,64.4 486.1,63.2 488.1,62.7 490.6,61.6 487.5,59.9 488.5,58.2 492.5,56.8 496.4,56.6 494.3,59.3 491.8,61.8 493.1,63.5 498.5,66.6 503.1,69.7 503.6,72.2 499.9,73.9 492.7,73.1 491.0,73.1 488.3,71.1 484.3,71.9 479.6,73.1 476.1,73.3"/>
<polygon points="473.7,73.9 470.2,74.2 468.3,75.3 467.8,75.9 469.7,75.6 473.3,75.6 475.2,74.7"/>
<polygon points="524.7,57.1 521.3,57.7 518.2,59.9 516.3,62.7 516.9,66.9 517.1,68.6 521.3,73.9 524.0,75.6 524.6,75.3 522.6,78.4 522.0,81.2 524.7,84.1 528.8,85.8 532.4,85.5 534.7,84.4 534.2,82.4 532.1,79.5 531.3,77.0 530.7,74.2 529.6,71.9 529.0,69.7 525.7,66.6 523.0,64.1 524.8,62.1 528.4,58.5 525.6,57.1"/>
<polygon points="545.6,58.0 543.7,59.9 541.5,62.7 542.0,65.5 542.9,66.6 544.2,63.8 546.3,61.3"/>
<polygon points="483.6,105.2 485.1,109.3 487.0,113.0 488.3,116.2 491.8,121.8 495.3,127.8 496.1,130.6 496.2,134.6 499.6,139.2 501.6,143.4 502.3,146.0 505.8,149.1 510.8,153.4 512.4,154.8 512.2,157.3 511.7,157.6 513.5,159.1 516.9,160.6 524.6,159.1 527.2,158.2 532.8,156.8 533.2,160.8 532.0,164.7 529.5,170.4 526.2,176.1 522.4,181.8 518.0,184.6 512.0,188.9 509.4,190.3 509.2,190.3 571.8,190.3 568.5,118.4 557.1,118.4 553.3,118.1 548.2,117.6 545.4,114.7 543.5,113.0 541.6,114.7 537.1,114.4 531.3,111.3 529.3,108.2 525.9,105.4 523.4,105.1 522.2,106.8 523.9,109.3 526.7,113.6 528.4,115.6 529.5,116.7 530.9,116.0 532.1,118.4 531.7,120.4 534.8,121.8 539.3,120.7 541.4,118.4 543.7,115.3 543.9,117.6 545.1,120.7 550.1,123.3 553.4,126.4 551.6,130.6 551.2,132.1 548.9,136.6 545.2,139.4 539.7,142.0 535.3,146.3 527.2,149.1 523.1,151.9 516.7,153.9 512.8,154.4 512.2,152.5 511.3,148.3 510.0,142.3 507.6,138.6 504.9,133.8 501.0,129.2 500.3,126.1 497.9,121.8 495.2,117.9 492.0,113.9 489.9,110.8 489.6,106.5 488.4,110.8 488.1,111.6 485.6,109.1"/>
<polygon points="404.0,25.7 399.8,25.7 397.6,28.3 396.3,30.7 397.2,33.1 398.2,34.4 397.8,35.5 401.0,36.0 401.6,37.7 401.6,39.6 398.2,39.8 398.0,41.2 397.3,43.1 396.4,44.2 398.9,44.5 400.6,45.0 398.2,45.5 396.6,47.2 394.4,48.7 397.9,48.0 399.8,47.2 403.0,46.9 405.7,46.6 408.2,46.6 410.7,45.8 410.8,45.0 409.8,43.9 411.5,43.1 411.9,41.5 409.1,40.8 408.6,39.3 408.2,37.7 406.4,36.3 405.6,34.2 403.7,32.6 403.6,31.8 404.4,30.7 406.0,28.6 403.2,28.1 401.6,27.6 404.0,25.7"/>
<polygon points="393.2,34.4 391.0,34.7 390.1,36.3 386.9,37.1 386.2,39.6 386.9,41.7 385.1,43.1 385.9,44.5 387.7,44.7 390.0,43.9 392.4,43.1 394.0,42.8 394.9,39.8 394.8,37.9 396.6,36.0 395.6,34.7"/>
<polygon points="436.4,32.3 436.3,33.4 435.4,34.7 434.3,35.2 433.1,33.9 434.2,32.8"/>
<polygon points="431.6,33.6 432.4,35.0 430.8,35.2 430.3,34.2"/>
<polygon points="450.2,27.6 449.7,29.4 448.5,29.9 449.3,28.1"/>
<polygon points="359.9,109.6 360.3,110.5 361.6,109.9 361.7,109.1"/>
<polygon points="362.8,110.2 363.0,111.3 363.6,110.5"/>
<polygon points="367.2,108.8 366.3,110.5 367.4,109.6"/>
<polygon points="368.6,107.3 367.8,108.2 368.8,107.9"/>
<polygon points="427.3,68.3 427.5,69.4 426.6,72.8 425.7,72.2 425.3,70.8 425.6,69.4"/>
<polygon points="426.6,73.2 427.9,75.3 427.3,79.0 424.9,79.8 424.5,77.0 424.1,75.0 425.6,73.9"/>
<polygon points="441.7,81.5 440.9,82.7 440.9,85.2 440.4,86.1 438.2,84.9 434.1,83.5 434.7,82.1 436.4,81.8 438.3,82.4"/>
<polygon points="461.1,89.2 461.1,90.3 464.1,90.9 467.5,90.9 467.7,90.0 464.5,89.7"/>
<polygon points="488.0,89.2 486.6,90.6 484.2,92.0 482.7,91.7 482.4,90.6 484.1,89.7 486.5,90.0"/>
<polygon points="411.8,77.0 412.5,77.8 411.5,78.7 410.1,77.8"/>
<polygon points="438.1,23.6 439.7,24.6 436.7,26.2 436.6,25.2"/>
<polygon points="441.4,24.9 439.8,27.8 440.7,27.0"/>
<polygon points="485.0,122.4 482.8,126.4 481.3,127.8 483.8,125.5"/>
<polygon points="507.6,79.8 505.9,81.5 509.2,81.0"/>
<polygon points="514.1,81.8 513.6,84.4 515.0,83.8"/>
<polygon points="496.9,155.4 496.7,157.3 497.7,156.8"/>
<polygon points="437.1,151.4 437.6,153.9 439.4,153.1 438.4,151.1"/>
<polygon points="473.9,20.0 475.1,22.0 478.2,21.2 476.9,19.5"/>
</g>
<polygon points="369.3,22.0 535.3,22.0 535.3,22.0 536.8,27.3 538.3,32.6 539.7,37.9 541.1,43.4 542.5,48.8 543.7,54.4 544.8,59.9 545.9,65.5 547.0,71.1 548.1,76.7 548.9,82.4 549.8,88.0 550.6,93.7 551.3,99.4 552.0,105.1 552.6,110.8 553.1,116.4 553.6,122.1 554.0,127.8 554.4,133.5 554.7,139.2 555.0,144.8 555.3,150.5 555.5,156.2 555.7,161.9 555.9,167.6 556.0,173.3 556.1,178.9 556.1,184.6 556.2,190.3 348.4,190.3 348.4,190.3 348.5,184.6 348.5,178.9 348.6,173.3 348.7,167.6 348.9,161.9 349.1,156.2 349.3,150.5 349.6,144.8 349.9,139.2 350.2,133.5 350.6,127.8 351.0,122.1 351.5,116.4 352.0,110.8 352.6,105.1 353.3,99.4 354.0,93.7 354.8,88.0 355.7,82.4 356.5,76.7 357.6,71.1 358.7,65.5 359.8,59.9 360.9,54.4 362.1,48.8 363.5,43.4 364.9,37.9 366.3,32.6 367.8,27.3 369.3,22.0" fill="none" stroke="#111" stroke-width="1.3"/>
<text x="344.12" y="27.00" font-size="9" font-family="Liberation Sans, sans-serif" fill="#111" stroke="#111" stroke-width="0.15">60</text><circle cx="356.38" cy="18.90" r="0.95" fill="none" stroke="#444" stroke-width="0.7"/><text x="360.23" y="27.00" font-size="9" font-family="Liberation Sans, sans-serif" fill="#111" stroke="#111" stroke-width="0.15">N</text>
<text x="336.92" y="53.81" font-size="9" font-family="Liberation Sans, sans-serif" fill="#111" stroke="#111" stroke-width="0.15">50</text><circle cx="349.18" cy="45.71" r="0.95" fill="none" stroke="#444" stroke-width="0.7"/><text x="353.03" y="53.81" font-size="9" font-family="Liberation Sans, sans-serif" fill="#111" stroke="#111" stroke-width="0.15">N</text>
<text x="331.34" y="81.71" font-size="9" font-family="Liberation Sans, sans-serif" fill="#111" stroke="#111" stroke-width="0.15">40</text><circle cx="343.60" cy="73.61" r="0.95" fill="none" stroke="#444" stroke-width="0.7"/><text x="347.45" y="81.71" font-size="9" font-family="Liberation Sans, sans-serif" fill="#111" stroke="#111" stroke-width="0.15">N</text>
<text x="327.35" y="110.07" font-size="9" font-family="Liberation Sans, sans-serif" fill="#111" stroke="#111" stroke-width="0.15">30</text><circle cx="339.61" cy="101.97" r="0.95" fill="none" stroke="#444" stroke-width="0.7"/><text x="343.46" y="110.07" font-size="9" font-family="Liberation Sans, sans-serif" fill="#111" stroke="#111" stroke-width="0.15">N</text>
<text x="325.04" y="138.48" font-size="9" font-family="Liberation Sans, sans-serif" fill="#111" stroke="#111" stroke-width="0.15">20</text><circle cx="337.30" cy="130.38" r="0.95" fill="none" stroke="#444" stroke-width="0.7"/><text x="341.15" y="138.48" font-size="9" font-family="Liberation Sans, sans-serif" fill="#111" stroke="#111" stroke-width="0.15">N</text>
<text x="323.67" y="166.89" font-size="9" font-family="Liberation Sans, sans-serif" fill="#111" stroke="#111" stroke-width="0.15">10</text><circle cx="335.93" cy="158.79" r="0.95" fill="none" stroke="#444" stroke-width="0.7"/><text x="339.78" y="166.89" font-size="9" font-family="Liberation Sans, sans-serif" fill="#111" stroke="#111" stroke-width="0.15">N</text>
<text x="330.00" y="194.60" font-size="9" font-family="Liberation Sans, sans-serif" fill="#111" stroke="#111" stroke-width="0.15">0</text><circle cx="337.25" cy="186.50" r="0.95" fill="none" stroke="#444" stroke-width="0.7"/>
<text x="336.10" y="202.40" font-size="9" font-family="Liberation Sans, sans-serif" fill="#111" stroke="#111" stroke-width="0.15">20</text><circle cx="348.35" cy="194.30" r="0.95" fill="none" stroke="#444" stroke-width="0.7"/><text x="352.21" y="202.40" font-size="9" font-family="Liberation Sans, sans-serif" fill="#111" stroke="#111" stroke-width="0.15">W</text>
<text x="362.07" y="202.40" font-size="9" font-family="Liberation Sans, sans-serif" fill="#111" stroke="#111" stroke-width="0.15">10</text><circle cx="374.33" cy="194.30" r="0.95" fill="none" stroke="#444" stroke-width="0.7"/><text x="378.18" y="202.40" font-size="9" font-family="Liberation Sans, sans-serif" fill="#111" stroke="#111" stroke-width="0.15">W</text>
<text x="396.05" y="202.40" font-size="9" font-family="Liberation Sans, sans-serif" fill="#111" stroke="#111" stroke-width="0.15">0</text><circle cx="403.30" cy="194.30" r="0.95" fill="none" stroke="#444" stroke-width="0.7"/>
<text x="415.27" y="202.40" font-size="9" font-family="Liberation Sans, sans-serif" fill="#111" stroke="#111" stroke-width="0.15">10</text><circle cx="427.53" cy="194.30" r="0.95" fill="none" stroke="#444" stroke-width="0.7"/><text x="431.38" y="202.40" font-size="9" font-family="Liberation Sans, sans-serif" fill="#111" stroke="#111" stroke-width="0.15">E</text>
<text x="441.24" y="202.40" font-size="9" font-family="Liberation Sans, sans-serif" fill="#111" stroke="#111" stroke-width="0.15">20</text><circle cx="453.50" cy="194.30" r="0.95" fill="none" stroke="#444" stroke-width="0.7"/><text x="457.35" y="202.40" font-size="9" font-family="Liberation Sans, sans-serif" fill="#111" stroke="#111" stroke-width="0.15">E</text>
<text x="467.22" y="202.40" font-size="9" font-family="Liberation Sans, sans-serif" fill="#111" stroke="#111" stroke-width="0.15">30</text><circle cx="479.48" cy="194.30" r="0.95" fill="none" stroke="#444" stroke-width="0.7"/><text x="483.33" y="202.40" font-size="9" font-family="Liberation Sans, sans-serif" fill="#111" stroke="#111" stroke-width="0.15">E</text>
<text x="493.19" y="202.40" font-size="9" font-family="Liberation Sans, sans-serif" fill="#111" stroke="#111" stroke-width="0.15">40</text><circle cx="505.45" cy="194.30" r="0.95" fill="none" stroke="#444" stroke-width="0.7"/><text x="509.30" y="202.40" font-size="9" font-family="Liberation Sans, sans-serif" fill="#111" stroke="#111" stroke-width="0.15">E</text>
<text x="519.17" y="202.40" font-size="9" font-family="Liberation Sans, sans-serif" fill="#111" stroke="#111" stroke-width="0.15">50</text><circle cx="531.43" cy="194.30" r="0.95" fill="none" stroke="#444" stroke-width="0.7"/><text x="535.28" y="202.40" font-size="9" font-family="Liberation Sans, sans-serif" fill="#111" stroke="#111" stroke-width="0.15">E</text>
<text x="545.14" y="202.40" font-size="9" font-family="Liberation Sans, sans-serif" fill="#111" stroke="#111" stroke-width="0.15">60</text><circle cx="557.40" cy="194.30" r="0.95" fill="none" stroke="#444" stroke-width="0.7"/><text x="561.25" y="202.40" font-size="9" font-family="Liberation Sans, sans-serif" fill="#111" stroke="#111" stroke-width="0.15">E</text>
<defs><linearGradient id="cbB0" x1="0" x2="1" y1="0" y2="0"><stop offset="0.000" stop-color="#800000"/><stop offset="0.031" stop-color="#9f0000"/><stop offset="0.062" stop-color="#bf0000"/><stop offset="0.094" stop-color="#df0000"/><stop offset="0.125" stop-color="#ff0000"/><stop offset="0.156" stop-color="#ff2000"/><stop offset="0.188" stop-color="#ff4000"/><stop offset="0.219" stop-color="#ff6000"/><stop offset="0.250" stop-color="#ff8000"/><stop offset="0.281" stop-color="#ff9f00"/><stop offset="0.312" stop-color="#ffbf00"/><stop offset="0.344" stop-color="#ffdf00"/><stop offset="0.375" stop-color="#ffff00"/><stop offset="0.406" stop-color="#dfff20"/><stop offset="0.438" stop-color="#bfff40"/><stop offset="0.469" stop-color="#9fff60"/><stop offset="0.500" stop-color="#80ff80"/><stop offset="0.531" stop-color="#60ff9f"/><stop offset="0.562" stop-color="#40ffbf"/><stop offset="0.594" stop-color="#20ffdf"/><stop offset="0.625" stop-color="#00ffff"/><stop offset="0.656" stop-color="#00dfff"/><stop offset="0.688" stop-color="#00bfff"/><stop offset="0.719" stop-color="#009fff"/><stop offset="0.750" stop-color="#0080ff"/><stop offset="0.781" stop-color="#0060ff"/><stop offset="0.812" stop-color="#0040ff"/><stop offset="0.844" stop-color="#0020ff"/><stop offset="0.875" stop-color="#0000ff"/><stop offset="0.906" stop-color="#0000df"/><stop offset="0.938" stop-color="#0000bf"/><stop offset="0.969" stop-color="#00009f"/><stop offset="1.000" stop-color="#000080"/></linearGradient></defs>
<rect x="352.4" y="213.3" width="191.5" height="5.0" fill="url(#cbB0)" stroke="#222" stroke-width="0.6"/>
<text x="352.4" y="229.5" text-anchor="middle" font-size="9" font-family="Liberation Sans, sans-serif" fill="#111">0</text>
<line x1="400.3" x2="400.3" y1="213.3" y2="214.9" stroke="#222" stroke-width="0.7"/>
<line x1="400.3" x2="400.3" y1="216.7" y2="218.3" stroke="#222" stroke-width="0.7"/>
<text x="400.3" y="229.5" text-anchor="middle" font-size="9" font-family="Liberation Sans, sans-serif" fill="#111">0.2</text>
<line x1="448.1" x2="448.1" y1="213.3" y2="214.9" stroke="#222" stroke-width="0.7"/>
<line x1="448.1" x2="448.1" y1="216.7" y2="218.3" stroke="#222" stroke-width="0.7"/>
<text x="448.1" y="229.5" text-anchor="middle" font-size="9" font-family="Liberation Sans, sans-serif" fill="#111">0.4</text>
<line x1="496.0" x2="496.0" y1="213.3" y2="214.9" stroke="#222" stroke-width="0.7"/>
<line x1="496.0" x2="496.0" y1="216.7" y2="218.3" stroke="#222" stroke-width="0.7"/>
<text x="496.0" y="229.5" text-anchor="middle" font-size="9" font-family="Liberation Sans, sans-serif" fill="#111">0.6</text>
<text x="543.9" y="229.5" text-anchor="middle" font-size="9" font-family="Liberation Sans, sans-serif" fill="#111">0.8</text>
</g>
<g transform="translate(0,246.7)">
<text x="-0.6" y="11.6" font-size="16" font-weight="bold" font-family="Liberation Serif, serif" fill="#000">(c)</text>
<line x1="61.9" y1="28.7" x2="49.6" y2="188.3" stroke="#c8c8d0" stroke-width="0.6" stroke-dasharray="2,1"/>
<line x1="103.5" y1="28.7" x2="96.6" y2="188.3" stroke="#c8c8d0" stroke-width="0.6" stroke-dasharray="2,1"/>
<line x1="145.1" y1="28.7" x2="143.7" y2="188.3" stroke="#c8c8d0" stroke-width="0.6" stroke-dasharray="2,1"/>
<line x1="186.7" y1="28.7" x2="190.8" y2="188.3" stroke="#c8c8d0" stroke-width="0.6" stroke-dasharray="2,1"/>
<line x1="228.3" y1="28.7" x2="237.9" y2="188.3" stroke="#c8c8d0" stroke-width="0.6" stroke-dasharray="2,1"/>
<line x1="34.0" y1="81.3" x2="277.0" y2="81.3" stroke="#c8c8d0" stroke-width="0.6" stroke-dasharray="2,1"/>
<line x1="28.9" y1="134.8" x2="282.1" y2="134.8" stroke="#c8c8d0" stroke-width="0.6" stroke-dasharray="2,1"/>
<g clip-path="url(#cfA)"><g mask="url(#mkA)">
<g filter="url(#bl)"><rect x="4" y="8" width="11" height="11" fill="#0000f1"/>
<rect x="14" y="8" width="11" height="11" fill="#0000f1"/>
<rect x="24" y="8" width="11" height="11" fill="#0000f1"/>
<rect x="34" y="8" width="11" height="11" fill="#0000f1"/>
<rect x="44" y="8" width="11" height="11" fill="#0000f1"/>
<rect x="54" y="8" width="11" height="11" fill="none"/>
<rect x="64" y="8" width="11" height="11" fill="none"/>
<rect x="74" y="8" width="11" height="11" fill="none"/>
<rect x="84" y="8" width="11" height="11" fill="#0063ff"/>
<rect x="94" y="8" width="11" height="11" fill="#47ffb8"/>
<rect x="104" y="8" width="11" height="11" fill="#00d5ff"/>
<rect x="114" y="8" width="11" height="11" fill="#47ffb8"/>
<rect x="124" y="8" width="11" height="11" fill="#00d5ff"/>
<rect x="134" y="8" width="11" height="11" fill="#47ffb8"/>
<rect x="144" y="8" width="11" height="11" fill="#00d5ff"/>
<rect x="154" y="8" width="11" height="11" fill="#47ffb8"/>
<rect x="164" y="8" width="11" height="11" fill="#0000f1"/>
<rect x="174" y="8" width="11" height="11" fill="#0000f1"/>
<rect x="184" y="8" width="11" height="11" fill="#0000f1"/>
<rect x="194" y="8" width="11" height="11" fill="#0000f1"/>
<rect x="204" y="8" width="11" height="11" fill="#0000f1"/>
<rect x="214" y="8" width="11" height="11" fill="#0000f1"/>
<rect x="224" y="8" width="11" height="11" fill="#0000f1"/>
<rect x="234" y="8" width="11" height="11" fill="#0000f1"/>
<rect x="244" y="8" width="11" height="11" fill="#0000f1"/>
<rect x="254" y="8" width="11" height="11" fill="#0000f1"/>
<rect x="264" y="8" width="11" height="11" fill="#0000f1"/>
<rect x="274" y="8" width="11" height="11" fill="#0000f1"/>
<rect x="284" y="8" width="11" height="11" fill="#0000f1"/>
<rect x="294" y="8" width="11" height="11" fill="#0000f1"/>
<rect x="304" y="8" width="11" height="11" fill="#0000f1"/>
<rect x="4" y="18" width="11" height="11" fill="#0000f1"/>
<rect x="14" y="18" width="11" height="11" fill="#0000f1"/>
<rect x="24" y="18" width="11" height="11" fill="#0000f1"/>
<rect x="34" y="18" width="11" height="11" fill="#0000f1"/>
<rect x="44" y="18" width="11" height="11" fill="#0000f1"/>
<rect x="54" y="18" width="11" height="11" fill="none"/>
<rect x="64" y="18" width="11" height="11" fill="none"/>
<rect x="74" y="18" width="11" height="11" fill="none"/>
<rect x="84" y="18" width="11" height="11" fill="#0063ff"/>
<rect x="94" y="18" width="11" height="11" fill="#47ffb8"/>
<rect x="104" y="18" width="11" height="11" fill="#00d5ff"/>
<rect x="114" y="18" width="11" height="11" fill="#47ffb8"/>
<rect x="124" y="18" width="11" height="11" fill="#00d5ff"/>
<rect x="134" y="18" width="11" height="11" fill="#47ffb8"/>
<rect x="144" y="18" width="11" height="11" fill="#00d5ff"/>
<rect x="154" y="18" width="11" height="11" fill="#47ffb8"/>
<rect x="164" y="18" width="11" height="11" fill="#0000f1"/>
<rect x="174" y="18" width="11" height="11" fill="#0000f1"/>
<rect x="184" y="18" width="11" height="11" fill="#0000f1"/>
<rect x="194" y="18" width="11" height="11" fill="#0000f1"/>
<rect x="204" y="18" width="11" height="11" fill="#0000f1"/>
<rect x="214" y="18" width="11" height="11" fill="#0000f1"/>
<rect x="224" y="18" width="11" height="11" fill="#0000f1"/>
<rect x="234" y="18" width="11" height="11" fill="#0000f1"/>
<rect x="244" y="18" width="11" height="11" fill="#0000f1"/>
<rect x="254" y="18" width="11" height="11" fill="#0000f1"/>
<rect x="264" y="18" width="11" height="11" fill="#0000f1"/>
<rect x="274" y="18" width="11" height="11" fill="#0000f1"/>
<rect x="284" y="18" width="11" height="11" fill="#0000f1"/>
<rect x="294" y="18" width="11" height="11" fill="#0000f1"/>
<rect x="304" y="18" width="11" height="11" fill="#0000f1"/>
<rect x="4" y="28" width="11" height="11" fill="#0000f1"/>
<rect x="14" y="28" width="11" height="11" fill="#0000f1"/>
<rect x="24" y="28" width="11" height="11" fill="#0000f1"/>
<rect x="34" y="28" width="11" height="11" fill="#0000f1"/>
<rect x="44" y="28" width="11" height="11" fill="#0000f1"/>
<rect x="54" y="28" width="11" height="11" fill="none"/>
<rect x="64" y="28" width="11" height="11" fill="none"/>
<rect x="74" y="28" width="11" height="11" fill="none"/>
<rect x="84" y="28" width="11" height="11" fill="#0063ff"/>
<rect x="94" y="28" width="11" height="11" fill="#47ffb8"/>
<rect x="104" y="28" width="11" height="11" fill="#00d5ff"/>
<rect x="114" y="28" width="11" height="11" fill="#47ffb8"/>
<rect x="124" y="28" width="11" height="11" fill="#00d5ff"/>
<rect x="134" y="28" width="11" height="11" fill="#47ffb8"/>
<rect x="144" y="28" width="11" height="11" fill="#00d5ff"/>
<rect x="154" y="28" width="11" height="11" fill="#47ffb8"/>
<rect x="164" y="28" width="11" height="11" fill="#0000f1"/>
<rect x="174" y="28" width="11" height="11" fill="#0000f1"/>
<rect x="184" y="28" width="11" height="11" fill="#0000f1"/>
<rect x="194" y="28" width="11" height="11" fill="#0000f1"/>
<rect x="204" y="28" width="11" height="11" fill="#0000f1"/>
<rect x="214" y="28" width="11" height="11" fill="#0000f1"/>
<rect x="224" y="28" width="11" height="11" fill="#0000f1"/>
<rect x="234" y="28" width="11" height="11" fill="#0000f1"/>
<rect x="244" y="28" width="11" height="11" fill="#0000f1"/>
<rect x="254" y="28" width="11" height="11" fill="#0000f1"/>
<rect x="264" y="28" width="11" height="11" fill="#0000f1"/>
<rect x="274" y="28" width="11" height="11" fill="#0000f1"/>
<rect x="284" y="28" width="11" height="11" fill="#0000f1"/>
<rect x="294" y="28" width="11" height="11" fill="#0000f1"/>
<rect x="304" y="28" width="11" height="11" fill="#0000f1"/>
<rect x="4" y="38" width="11" height="11" fill="#ff6300"/>
<rect x="14" y="38" width="11" height="11" fill="#ff6300"/>
<rect x="24" y="38" width="11" height="11" fill="#ff6300"/>
<rect x="34" y="38" width="11" height="11" fill="#ff6300"/>
<rect x="44" y="38" width="11" height="11" fill="#ff6300"/>
<rect x="54" y="38" width="11" height="11" fill="#f10000"/>
<rect x="64" y="38" width="11" height="11" fill="#ff6300"/>
<rect x="74" y="38" width="11" height="11" fill="none"/>
<rect x="84" y="38" width="11" height="11" fill="none"/>
<rect x="94" y="38" width="11" height="11" fill="#ff6300"/>
<rect x="104" y="38" width="11" height="11" fill="#b8ff47"/>
<rect x="114" y="38" width="11" height="11" fill="#b8ff47"/>
<rect x="124" y="38" width="11" height="11" fill="#b8ff47"/>
<rect x="134" y="38" width="11" height="11" fill="#ff6300"/>
<rect x="144" y="38" width="11" height="11" fill="#47ffb8"/>
<rect x="154" y="38" width="11" height="11" fill="#ffd400"/>
<rect x="164" y="38" width="11" height="11" fill="#0063ff"/>
<rect x="174" y="38" width="11" height="11" fill="#0000f1"/>
<rect x="184" y="38" width="11" height="11" fill="#0000f1"/>
<rect x="194" y="38" width="11" height="11" fill="#0000f1"/>
<rect x="204" y="38" width="11" height="11" fill="#0000f1"/>
<rect x="214" y="38" width="11" height="11" fill="#0000f1"/>
<rect x="224" y="38" width="11" height="11" fill="#0000f1"/>
<rect x="234" y="38" width="11" height="11" fill="#0000f1"/>
<rect x="244" y="38" width="11" height="11" fill="#0000f1"/>
<rect x="254" y="38" width="11" height="11" fill="#0000f1"/>
<rect x="264" y="38" width="11" height="11" fill="#0000f1"/>
<rect x="274" y="38" width="11" height="11" fill="#0000f1"/>
<rect x="284" y="38" width="11" height="11" fill="#0000f1"/>
<rect x="294" y="38" width="11" height="11" fill="#0000f1"/>
<rect x="304" y="38" width="11" height="11" fill="#0000f1"/>
<rect x="4" y="48" width="11" height="11" fill="#ff6300"/>
<rect x="14" y="48" width="11" height="11" fill="#ff6300"/>
<rect x="24" y="48" width="11" height="11" fill="#ff6300"/>
<rect x="34" y="48" width="11" height="11" fill="#ff6300"/>
<rect x="44" y="48" width="11" height="11" fill="#b8ff47"/>
<rect x="54" y="48" width="11" height="11" fill="#47ffb8"/>
<rect x="64" y="48" width="11" height="11" fill="#ffd400"/>
<rect x="74" y="48" width="11" height="11" fill="none"/>
<rect x="84" y="48" width="11" height="11" fill="#0000f1"/>
<rect x="94" y="48" width="11" height="11" fill="#0063ff"/>
<rect x="104" y="48" width="11" height="11" fill="#ff6300"/>
<rect x="114" y="48" width="11" height="11" fill="#b8ff47"/>
<rect x="124" y="48" width="11" height="11" fill="#b8ff47"/>
<rect x="134" y="48" width="11" height="11" fill="#b8ff47"/>
<rect x="144" y="48" width="11" height="11" fill="#47ffb8"/>
<rect x="154" y="48" width="11" height="11" fill="#b8ff47"/>
<rect x="164" y="48" width="11" height="11" fill="#b8ff47"/>
<rect x="174" y="48" width="11" height="11" fill="#ff6300"/>
<rect x="184" y="48" width="11" height="11" fill="#00d5ff"/>
<rect x="194" y="48" width="11" height="11" fill="#47ffb8"/>
<rect x="204" y="48" width="11" height="11" fill="#b8ff47"/>
<rect x="214" y="48" width="11" height="11" fill="#0000f1"/>
<rect x="224" y="48" width="11" height="11" fill="#0063ff"/>
<rect x="234" y="48" width="11" height="11" fill="#0000f1"/>
<rect x="244" y="48" width="11" height="11" fill="#0063ff"/>
<rect x="254" y="48" width="11" height="11" fill="#0000f1"/>
<rect x="264" y="48" width="11" height="11" fill="#0000f1"/>
<rect x="274" y="48" width="11" height="11" fill="#0000f1"/>
<rect x="284" y="48" width="11" height="11" fill="#0000f1"/>
<rect x="294" y="48" width="11" height="11" fill="#0000f1"/>
<rect x="304" y="48" width="11" height="11" fill="#0000f1"/>
<rect x="4" y="58" width="11" height="11" fill="none"/>
<rect x="14" y="58" width="11" height="11" fill="none"/>
<rect x="24" y="58" width="11" height="11" fill="none"/>
<rect x="34" y="58" width="11" height="11" fill="none"/>
<rect x="44" y="58" width="11" height="11" fill="#b8ff47"/>
<rect x="54" y="58" width="11" height="11" fill="#b8ff47"/>
<rect x="64" y="58" width="11" height="11" fill="#ffd400"/>
<rect x="74" y="58" width="11" height="11" fill="#ff6300"/>
<rect x="84" y="58" width="11" height="11" fill="#ff6300"/>
<rect x="94" y="58" width="11" height="11" fill="#ff6300"/>
<rect x="104" y="58" width="11" height="11" fill="#f10000"/>
<rect x="114" y="58" width="11" height="11" fill="#ff6300"/>
<rect x="124" y="58" width="11" height="11" fill="#ffd400"/>
<rect x="134" y="58" width="11" height="11" fill="#b8ff47"/>
<rect x="144" y="58" width="11" height="11" fill="#f10000"/>
<rect x="154" y="58" width="11" height="11" fill="#ffd400"/>
<rect x="164" y="58" width="11" height="11" fill="#b8ff47"/>
<rect x="174" y="58" width="11" height="11" fill="#47ffb8"/>
<rect x="184" y="58" width="11" height="11" fill="#b8ff47"/>
<rect x="194" y="58" width="11" height="11" fill="#47ffb8"/>
<rect x="204" y="58" width="11" height="11" fill="#b8ff47"/>
<rect x="214" y="58" width="11" height="11" fill="#b8ff47"/>
<rect x="224" y="58" width="11" height="11" fill="#0000f1"/>
<rect x="234" y="58" width="11" height="11" fill="none"/>
<rect x="244" y="58" width="11" height="11" fill="#0000f1"/>
<rect x="254" y="58" width="11" height="11" fill="none"/>
<rect x="264" y="58" width="11" height="11" fill="none"/>
<rect x="274" y="58" width="11" height="11" fill="none"/>
<rect x="284" y="58" width="11" height="11" fill="none"/>
<rect x="294" y="58" width="11" height="11" fill="none"/>
<rect x="304" y="58" width="11" height="11" fill="none"/>
<rect x="4" y="68" width="11" height="11" fill="none"/>
<rect x="14" y="68" width="11" height="11" fill="none"/>
<rect x="24" y="68" width="11" height="11" fill="none"/>
<rect x="34" y="68" width="11" height="11" fill="none"/>
<rect x="44" y="68" width="11" height="11" fill="#47ffb8"/>
<rect x="54" y="68" width="11" height="11" fill="#ffd400"/>
<rect x="64" y="68" width="11" height="11" fill="#b8ff47"/>
<rect x="74" y="68" width="11" height="11" fill="#b8ff47"/>
<rect x="84" y="68" width="11" height="11" fill="#47ffb8"/>
<rect x="94" y="68" width="11" height="11" fill="#ff6300"/>
<rect x="104" y="68" width="11" height="11" fill="#f10000"/>
<rect x="114" y="68" width="11" height="11" fill="#f10000"/>
<rect x="124" y="68" width="11" height="11" fill="#ff6300"/>
<rect x="134" y="68" width="11" height="11" fill="#ffd400"/>
<rect x="144" y="68" width="11" height="11" fill="#47ffb8"/>
<rect x="154" y="68" width="11" height="11" fill="#47ffb8"/>
<rect x="164" y="68" width="11" height="11" fill="#ffd400"/>
<rect x="174" y="68" width="11" height="11" fill="#ff6300"/>
<rect x="184" y="68" width="11" height="11" fill="#b8ff47"/>
<rect x="194" y="68" width="11" height="11" fill="#ffd400"/>
<rect x="204" y="68" width="11" height="11" fill="#ffd400"/>
<rect x="214" y="68" width="11" height="11" fill="#b8ff47"/>
<rect x="224" y="68" width="11" height="11" fill="#ffd400"/>
<rect x="234" y="68" width="11" height="11" fill="none"/>
<rect x="244" y="68" width="11" height="11" fill="none"/>
<rect x="254" y="68" width="11" height="11" fill="#ff6300"/>
<rect x="264" y="68" width="11" height="11" fill="#f10000"/>
<rect x="274" y="68" width="11" height="11" fill="#f10000"/>
<rect x="284" y="68" width="11" height="11" fill="#f10000"/>
<rect x="294" y="68" width="11" height="11" fill="#f10000"/>
<rect x="304" y="68" width="11" height="11" fill="#f10000"/>
<rect x="4" y="78" width="11" height="11" fill="#00d5ff"/>
<rect x="14" y="78" width="11" height="11" fill="#00d5ff"/>
<rect x="24" y="78" width="11" height="11" fill="#00d5ff"/>
<rect x="34" y="78" width="11" height="11" fill="#00d5ff"/>
<rect x="44" y="78" width="11" height="11" fill="#ff6300"/>
<rect x="54" y="78" width="11" height="11" fill="#f10000"/>
<rect x="64" y="78" width="11" height="11" fill="#f10000"/>
<rect x="74" y="78" width="11" height="11" fill="#ff6300"/>
<rect x="84" y="78" width="11" height="11" fill="#ff6300"/>
<rect x="94" y="78" width="11" height="11" fill="#ff6300"/>
<rect x="104" y="78" width="11" height="11" fill="#ff6300"/>
<rect x="114" y="78" width="11" height="11" fill="#ff6300"/>
<rect x="124" y="78" width="11" height="11" fill="#f10000"/>
<rect x="134" y="78" width="11" height="11" fill="#ffd400"/>
<rect x="144" y="78" width="11" height="11" fill="#00d5ff"/>
<rect x="154" y="78" width="11" height="11" fill="#ff6300"/>
<rect x="164" y="78" width="11" height="11" fill="#47ffb8"/>
<rect x="174" y="78" width="11" height="11" fill="#ffd400"/>
<rect x="184" y="78" width="11" height="11" fill="#47ffb8"/>
<rect x="194" y="78" width="11" height="11" fill="#ff6300"/>
<rect x="204" y="78" width="11" height="11" fill="#00d5ff"/>
<rect x="214" y="78" width="11" height="11" fill="#ff6300"/>
<rect x="224" y="78" width="11" height="11" fill="#ff6300"/>
<rect x="234" y="78" width="11" height="11" fill="none"/>
<rect x="244" y="78" width="11" height="11" fill="#ff6300"/>
<rect x="254" y="78" width="11" height="11" fill="#ff6300"/>
<rect x="264" y="78" width="11" height="11" fill="#f10000"/>
<rect x="274" y="78" width="11" height="11" fill="#f10000"/>
<rect x="284" y="78" width="11" height="11" fill="#f10000"/>
<rect x="294" y="78" width="11" height="11" fill="#f10000"/>
<rect x="304" y="78" width="11" height="11" fill="#f10000"/>
<rect x="4" y="88" width="11" height="11" fill="#00d5ff"/>
<rect x="14" y="88" width="11" height="11" fill="#00d5ff"/>
<rect x="24" y="88" width="11" height="11" fill="#00d5ff"/>
<rect x="34" y="88" width="11" height="11" fill="#00d5ff"/>
<rect x="44" y="88" width="11" height="11" fill="#f10000"/>
<rect x="54" y="88" width="11" height="11" fill="#ff6300"/>
<rect x="64" y="88" width="11" height="11" fill="#f10000"/>
<rect x="74" y="88" width="11" height="11" fill="#f10000"/>
<rect x="84" y="88" width="11" height="11" fill="#ff6300"/>
<rect x="94" y="88" width="11" height="11" fill="#f10000"/>
<rect x="104" y="88" width="11" height="11" fill="#f10000"/>
<rect x="114" y="88" width="11" height="11" fill="#f10000"/>
<rect x="124" y="88" width="11" height="11" fill="#f10000"/>
<rect x="134" y="88" width="11" height="11" fill="#ffd400"/>
<rect x="144" y="88" width="11" height="11" fill="#ff6300"/>
<rect x="154" y="88" width="11" height="11" fill="#ffd400"/>
<rect x="164" y="88" width="11" height="11" fill="#00d5ff"/>
<rect x="174" y="88" width="11" height="11" fill="none"/>
<rect x="184" y="88" width="11" height="11" fill="#47ffb8"/>
<rect x="194" y="88" width="11" height="11" fill="#ff6300"/>
<rect x="204" y="88" width="11" height="11" fill="none"/>
<rect x="214" y="88" width="11" height="11" fill="none"/>
<rect x="224" y="88" width="11" height="11" fill="none"/>
<rect x="234" y="88" width="11" height="11" fill="#ff6300"/>
<rect x="244" y="88" width="11" height="11" fill="#f10000"/>
<rect x="254" y="88" width="11" height="11" fill="#ff6300"/>
<rect x="264" y="88" width="11" height="11" fill="#f10000"/>
<rect x="274" y="88" width="11" height="11" fill="#f10000"/>
<rect x="284" y="88" width="11" height="11" fill="#f10000"/>
<rect x="294" y="88" width="11" height="11" fill="#f10000"/>
<rect x="304" y="88" width="11" height="11" fill="#f10000"/>
<rect x="4" y="98" width="11" height="11" fill="#47ffb8"/>
<rect x="14" y="98" width="11" height="11" fill="#47ffb8"/>
<rect x="24" y="98" width="11" height="11" fill="#47ffb8"/>
<rect x="34" y="98" width="11" height="11" fill="#47ffb8"/>
<rect x="44" y="98" width="11" height="11" fill="#47ffb8"/>
<rect x="54" y="98" width="11" height="11" fill="#f10000"/>
<rect x="64" y="98" width="11" height="11" fill="#f10000"/>
<rect x="74" y="98" width="11" height="11" fill="#f10000"/>
<rect x="84" y="98" width="11" height="11" fill="#ff6300"/>
<rect x="94" y="98" width="11" height="11" fill="#f10000"/>
<rect x="104" y="98" width="11" height="11" fill="#ff6300"/>
<rect x="114" y="98" width="11" height="11" fill="#ffd400"/>
<rect x="124" y="98" width="11" height="11" fill="#ff6300"/>
<rect x="134" y="98" width="11" height="11" fill="#ffd400"/>
<rect x="144" y="98" width="11" height="11" fill="#ff6300"/>
<rect x="154" y="98" width="11" height="11" fill="#ff6300"/>
<rect x="164" y="98" width="11" height="11" fill="none"/>
<rect x="174" y="98" width="11" height="11" fill="none"/>
<rect x="184" y="98" width="11" height="11" fill="#00d5ff"/>
<rect x="194" y="98" width="11" height="11" fill="none"/>
<rect x="204" y="98" width="11" height="11" fill="none"/>
<rect x="214" y="98" width="11" height="11" fill="#ff6300"/>
<rect x="224" y="98" width="11" height="11" fill="none"/>
<rect x="234" y="98" width="11" height="11" fill="#ff6300"/>
<rect x="244" y="98" width="11" height="11" fill="#ff6300"/>
<rect x="254" y="98" width="11" height="11" fill="#ff6300"/>
<rect x="264" y="98" width="11" height="11" fill="#ff6300"/>
<rect x="274" y="98" width="11" height="11" fill="#ff6300"/>
<rect x="284" y="98" width="11" height="11" fill="#ff6300"/>
<rect x="294" y="98" width="11" height="11" fill="#ff6300"/>
<rect x="304" y="98" width="11" height="11" fill="#ff6300"/>
<rect x="4" y="108" width="11" height="11" fill="#47ffb8"/>
<rect x="14" y="108" width="11" height="11" fill="#47ffb8"/>
<rect x="24" y="108" width="11" height="11" fill="#47ffb8"/>
<rect x="34" y="108" width="11" height="11" fill="#47ffb8"/>
<rect x="44" y="108" width="11" height="11" fill="#47ffb8"/>
<rect x="54" y="108" width="11" height="11" fill="#f10000"/>
<rect x="64" y="108" width="11" height="11" fill="#f10000"/>
<rect x="74" y="108" width="11" height="11" fill="#f10000"/>
<rect x="84" y="108" width="11" height="11" fill="#f10000"/>
<rect x="94" y="108" width="11" height="11" fill="#b8ff47"/>
<rect x="104" y="108" width="11" height="11" fill="#47ffb8"/>
<rect x="114" y="108" width="11" height="11" fill="#ff6300"/>
<rect x="124" y="108" width="11" height="11" fill="#f10000"/>
<rect x="134" y="108" width="11" height="11" fill="#ff6300"/>
<rect x="144" y="108" width="11" height="11" fill="#b8ff47"/>
<rect x="154" y="108" width="11" height="11" fill="#ff6300"/>
<rect x="164" y="108" width="11" height="11" fill="none"/>
<rect x="174" y="108" width="11" height="11" fill="#0063ff"/>
<rect x="184" y="108" width="11" height="11" fill="#0063ff"/>
<rect x="194" y="108" width="11" height="11" fill="none"/>
<rect x="204" y="108" width="11" height="11" fill="#ff6300"/>
<rect x="214" y="108" width="11" height="11" fill="#ffd400"/>
<rect x="224" y="108" width="11" height="11" fill="none"/>
<rect x="234" y="108" width="11" height="11" fill="#00d5ff"/>
<rect x="244" y="108" width="11" height="11" fill="#ff6300"/>
<rect x="254" y="108" width="11" height="11" fill="#ff6300"/>
<rect x="264" y="108" width="11" height="11" fill="#ff6300"/>
<rect x="274" y="108" width="11" height="11" fill="#ff6300"/>
<rect x="284" y="108" width="11" height="11" fill="#ff6300"/>
<rect x="294" y="108" width="11" height="11" fill="#ff6300"/>
<rect x="304" y="108" width="11" height="11" fill="#ff6300"/>
<rect x="4" y="118" width="11" height="11" fill="#47ffb8"/>
<rect x="14" y="118" width="11" height="11" fill="#47ffb8"/>
<rect x="24" y="118" width="11" height="11" fill="#47ffb8"/>
<rect x="34" y="118" width="11" height="11" fill="#47ffb8"/>
<rect x="44" y="118" width="11" height="11" fill="#47ffb8"/>
<rect x="54" y="118" width="11" height="11" fill="#f10000"/>
<rect x="64" y="118" width="11" height="11" fill="#b8ff47"/>
<rect x="74" y="118" width="11" height="11" fill="#f10000"/>
<rect x="84" y="118" width="11" height="11" fill="#f10000"/>
<rect x="94" y="118" width="11" height="11" fill="#ff6300"/>
<rect x="104" y="118" width="11" height="11" fill="#ff6300"/>
<rect x="114" y="118" width="11" height="11" fill="#f10000"/>
<rect x="124" y="118" width="11" height="11" fill="#f10000"/>
<rect x="134" y="118" width="11" height="11" fill="#ff6300"/>
<rect x="144" y="118" width="11" height="11" fill="#b8ff47"/>
<rect x="154" y="118" width="11" height="11" fill="#ff6300"/>
<rect x="164" y="118" width="11" height="11" fill="none"/>
<rect x="174" y="118" width="11" height="11" fill="#0063ff"/>
<rect x="184" y="118" width="11" height="11" fill="none"/>
<rect x="194" y="118" width="11" height="11" fill="#ff6300"/>
<rect x="204" y="118" width="11" height="11" fill="#ff6300"/>
<rect x="214" y="118" width="11" height="11" fill="#ffd400"/>
<rect x="224" y="118" width="11" height="11" fill="#47ffb8"/>
<rect x="234" y="118" width="11" height="11" fill="#00d5ff"/>
<rect x="244" y="118" width="11" height="11" fill="#ff6300"/>
<rect x="254" y="118" width="11" height="11" fill="#ff6300"/>
<rect x="264" y="118" width="11" height="11" fill="#ff6300"/>
<rect x="274" y="118" width="11" height="11" fill="#ff6300"/>
<rect x="284" y="118" width="11" height="11" fill="#ff6300"/>
<rect x="294" y="118" width="11" height="11" fill="#ff6300"/>
<rect x="304" y="118" width="11" height="11" fill="#ff6300"/>
<rect x="4" y="128" width="11" height="11" fill="#b8ff47"/>
<rect x="14" y="128" width="11" height="11" fill="#b8ff47"/>
<rect x="24" y="128" width="11" height="11" fill="#b8ff47"/>
<rect x="34" y="128" width="11" height="11" fill="#b8ff47"/>
<rect x="44" y="128" width="11" height="11" fill="#b8ff47"/>
<rect x="54" y="128" width="11" height="11" fill="#b8ff47"/>
<rect x="64" y="128" width="11" height="11" fill="#b8ff47"/>
<rect x="74" y="128" width="11" height="11" fill="#b8ff47"/>
<rect x="84" y="128" width="11" height="11" fill="#ffd400"/>
<rect x="94" y="128" width="11" height="11" fill="#47ffb8"/>
<rect x="104" y="128" width="11" height="11" fill="none"/>
<rect x="114" y="128" width="11" height="11" fill="#ff6300"/>
<rect x="124" y="128" width="11" height="11" fill="#ff6300"/>
<rect x="134" y="128" width="11" height="11" fill="#47ffb8"/>
<rect x="144" y="128" width="11" height="11" fill="#ffd400"/>
<rect x="154" y="128" width="11" height="11" fill="#f10000"/>
<rect x="164" y="128" width="11" height="11" fill="#0000f1"/>
<rect x="174" y="128" width="11" height="11" fill="#00d5ff"/>
<rect x="184" y="128" width="11" height="11" fill="#0063ff"/>
<rect x="194" y="128" width="11" height="11" fill="#ff6300"/>
<rect x="204" y="128" width="11" height="11" fill="#00d5ff"/>
<rect x="214" y="128" width="11" height="11" fill="#ffd400"/>
<rect x="224" y="128" width="11" height="11" fill="#00d5ff"/>
<rect x="234" y="128" width="11" height="11" fill="#00d5ff"/>
<rect x="244" y="128" width="11" height="11" fill="#00d5ff"/>
<rect x="254" y="128" width="11" height="11" fill="#00d5ff"/>
<rect x="264" y="128" width="11" height="11" fill="#00d5ff"/>
<rect x="274" y="128" width="11" height="11" fill="#00d5ff"/>
<rect x="284" y="128" width="11" height="11" fill="#00d5ff"/>
<rect x="294" y="128" width="11" height="11" fill="#00d5ff"/>
<rect x="304" y="128" width="11" height="11" fill="#00d5ff"/>
<rect x="4" y="138" width="11" height="11" fill="#b8ff47"/>
<rect x="14" y="138" width="11" height="11" fill="#b8ff47"/>
<rect x="24" y="138" width="11" height="11" fill="#b8ff47"/>
<rect x="34" y="138" width="11" height="11" fill="#b8ff47"/>
<rect x="44" y="138" width="11" height="11" fill="#b8ff47"/>
<rect x="54" y="138" width="11" height="11" fill="#b8ff47"/>
<rect x="64" y="138" width="11" height="11" fill="#b8ff47"/>
<rect x="74" y="138" width="11" height="11" fill="#b8ff47"/>
<rect x="84" y="138" width="11" height="11" fill="#ffd400"/>
<rect x="94" y="138" width="11" height="11" fill="#00d5ff"/>
<rect x="104" y="138" width="11" height="11" fill="none"/>
<rect x="114" y="138" width="11" height="11" fill="#ff6300"/>
<rect x="124" y="138" width="11" height="11" fill="#ffd400"/>
<rect x="134" y="138" width="11" height="11" fill="#b8ff47"/>
<rect x="144" y="138" width="11" height="11" fill="#ff6300"/>
<rect x="154" y="138" width="11" height="11" fill="#ff6300"/>
<rect x="164" y="138" width="11" height="11" fill="#0000f1"/>
<rect x="174" y="138" width="11" height="11" fill="#00d5ff"/>
<rect x="184" y="138" width="11" height="11" fill="#0063ff"/>
<rect x="194" y="138" width="11" height="11" fill="#ff6300"/>
<rect x="204" y="138" width="11" height="11" fill="#00d5ff"/>
<rect x="214" y="138" width="11" height="11" fill="#ffd400"/>
<rect x="224" y="138" width="11" height="11" fill="#b8ff47"/>
<rect x="234" y="138" width="11" height="11" fill="#b8ff47"/>
<rect x="244" y="138" width="11" height="11" fill="#b8ff47"/>
<rect x="254" y="138" width="11" height="11" fill="#b8ff47"/>
<rect x="264" y="138" width="11" height="11" fill="#b8ff47"/>
<rect x="274" y="138" width="11" height="11" fill="#b8ff47"/>
<rect x="284" y="138" width="11" height="11" fill="#b8ff47"/>
<rect x="294" y="138" width="11" height="11" fill="#b8ff47"/>
<rect x="304" y="138" width="11" height="11" fill="#b8ff47"/>
<rect x="4" y="148" width="11" height="11" fill="#47ffb8"/>
<rect x="14" y="148" width="11" height="11" fill="#47ffb8"/>
<rect x="24" y="148" width="11" height="11" fill="#47ffb8"/>
<rect x="34" y="148" width="11" height="11" fill="#47ffb8"/>
<rect x="44" y="148" width="11" height="11" fill="#47ffb8"/>
<rect x="54" y="148" width="11" height="11" fill="#47ffb8"/>
<rect x="64" y="148" width="11" height="11" fill="#47ffb8"/>
<rect x="74" y="148" width="11" height="11" fill="#47ffb8"/>
<rect x="84" y="148" width="11" height="11" fill="#0063ff"/>
<rect x="94" y="148" width="11" height="11" fill="#0063ff"/>
<rect x="104" y="148" width="11" height="11" fill="#0063ff"/>
<rect x="114" y="148" width="11" height="11" fill="#ffd400"/>
<rect x="124" y="148" width="11" height="11" fill="#ff6300"/>
<rect x="134" y="148" width="11" height="11" fill="#ffd400"/>
<rect x="144" y="148" width="11" height="11" fill="#ff6300"/>
<rect x="154" y="148" width="11" height="11" fill="#ff6300"/>
<rect x="164" y="148" width="11" height="11" fill="#0000f1"/>
<rect x="174" y="148" width="11" height="11" fill="#00d5ff"/>
<rect x="184" y="148" width="11" height="11" fill="#0063ff"/>
<rect x="194" y="148" width="11" height="11" fill="#47ffb8"/>
<rect x="204" y="148" width="11" height="11" fill="#47ffb8"/>
<rect x="214" y="148" width="11" height="11" fill="#47ffb8"/>
<rect x="224" y="148" width="11" height="11" fill="#ffd400"/>
<rect x="234" y="148" width="11" height="11" fill="#ffd400"/>
<rect x="244" y="148" width="11" height="11" fill="#ffd400"/>
<rect x="254" y="148" width="11" height="11" fill="#ffd400"/>
<rect x="264" y="148" width="11" height="11" fill="#ffd400"/>
<rect x="274" y="148" width="11" height="11" fill="#ffd400"/>
<rect x="284" y="148" width="11" height="11" fill="#ffd400"/>
<rect x="294" y="148" width="11" height="11" fill="#ffd400"/>
<rect x="304" y="148" width="11" height="11" fill="#ffd400"/>
<rect x="4" y="158" width="11" height="11" fill="#47ffb8"/>
<rect x="14" y="158" width="11" height="11" fill="#47ffb8"/>
<rect x="24" y="158" width="11" height="11" fill="#47ffb8"/>
<rect x="34" y="158" width="11" height="11" fill="#47ffb8"/>
<rect x="44" y="158" width="11" height="11" fill="#47ffb8"/>
<rect x="54" y="158" width="11" height="11" fill="#47ffb8"/>
<rect x="64" y="158" width="11" height="11" fill="#47ffb8"/>
<rect x="74" y="158" width="11" height="11" fill="#47ffb8"/>
<rect x="84" y="158" width="11" height="11" fill="#0000f1"/>
<rect x="94" y="158" width="11" height="11" fill="#0063ff"/>
<rect x="104" y="158" width="11" height="11" fill="#0000f1"/>
<rect x="114" y="158" width="11" height="11" fill="#b8ff47"/>
<rect x="124" y="158" width="11" height="11" fill="#ffd400"/>
<rect x="134" y="158" width="11" height="11" fill="#b8ff47"/>
<rect x="144" y="158" width="11" height="11" fill="#0063ff"/>
<rect x="154" y="158" width="11" height="11" fill="#0063ff"/>
<rect x="164" y="158" width="11" height="11" fill="#0063ff"/>
<rect x="174" y="158" width="11" height="11" fill="#00d5ff"/>
<rect x="184" y="158" width="11" height="11" fill="#0000f1"/>
<rect x="194" y="158" width="11" height="11" fill="#0000f1"/>
<rect x="204" y="158" width="11" height="11" fill="#47ffb8"/>
<rect x="214" y="158" width="11" height="11" fill="#47ffb8"/>
<rect x="224" y="158" width="11" height="11" fill="#ffd400"/>
<rect x="234" y="158" width="11" height="11" fill="#0000f1"/>
<rect x="244" y="158" width="11" height="11" fill="#0000f1"/>
<rect x="254" y="158" width="11" height="11" fill="#0000f1"/>
<rect x="264" y="158" width="11" height="11" fill="#0000f1"/>
<rect x="274" y="158" width="11" height="11" fill="#0000f1"/>
<rect x="284" y="158" width="11" height="11" fill="#0000f1"/>
<rect x="294" y="158" width="11" height="11" fill="#0000f1"/>
<rect x="304" y="158" width="11" height="11" fill="#0000f1"/>
<rect x="4" y="168" width="11" height="11" fill="#47ffb8"/>
<rect x="14" y="168" width="11" height="11" fill="#47ffb8"/>
<rect x="24" y="168" width="11" height="11" fill="#47ffb8"/>
<rect x="34" y="168" width="11" height="11" fill="#47ffb8"/>
<rect x="44" y="168" width="11" height="11" fill="#47ffb8"/>
<rect x="54" y="168" width="11" height="11" fill="#47ffb8"/>
<rect x="64" y="168" width="11" height="11" fill="#47ffb8"/>
<rect x="74" y="168" width="11" height="11" fill="#47ffb8"/>
<rect x="84" y="168" width="11" height="11" fill="#0000f1"/>
<rect x="94" y="168" width="11" height="11" fill="#00d5ff"/>
<rect x="104" y="168" width="11" height="11" fill="#0000f1"/>
<rect x="114" y="168" width="11" height="11" fill="#0000f1"/>
<rect x="124" y="168" width="11" height="11" fill="#47ffb8"/>
<rect x="134" y="168" width="11" height="11" fill="#b8ff47"/>
<rect x="144" y="168" width="11" height="11" fill="#0000f1"/>
<rect x="154" y="168" width="11" height="11" fill="#0000f1"/>
<rect x="164" y="168" width="11" height="11" fill="#0000f1"/>
<rect x="174" y="168" width="11" height="11" fill="#0000f1"/>
<rect x="184" y="168" width="11" height="11" fill="#0000f1"/>
<rect x="194" y="168" width="11" height="11" fill="#0000f1"/>
<rect x="204" y="168" width="11" height="11" fill="#0000f1"/>
<rect x="214" y="168" width="11" height="11" fill="#0000f1"/>
<rect x="224" y="168" width="11" height="11" fill="#0000f1"/>
<rect x="234" y="168" width="11" height="11" fill="#0000f1"/>
<rect x="244" y="168" width="11" height="11" fill="#0000f1"/>
<rect x="254" y="168" width="11" height="11" fill="#0000f1"/>
<rect x="264" y="168" width="11" height="11" fill="#0000f1"/>
<rect x="274" y="168" width="11" height="11" fill="#0000f1"/>
<rect x="284" y="168" width="11" height="11" fill="#0000f1"/>
<rect x="294" y="168" width="11" height="11" fill="#0000f1"/>
<rect x="304" y="168" width="11" height="11" fill="#0000f1"/>
<rect x="4" y="178" width="11" height="11" fill="#47ffb8"/>
<rect x="14" y="178" width="11" height="11" fill="#47ffb8"/>
<rect x="24" y="178" width="11" height="11" fill="#47ffb8"/>
<rect x="34" y="178" width="11" height="11" fill="#47ffb8"/>
<rect x="44" y="178" width="11" height="11" fill="#47ffb8"/>
<rect x="54" y="178" width="11" height="11" fill="#47ffb8"/>
<rect x="64" y="178" width="11" height="11" fill="#47ffb8"/>
<rect x="74" y="178" width="11" height="11" fill="#47ffb8"/>
<rect x="84" y="178" width="11" height="11" fill="#0000f1"/>
<rect x="94" y="178" width="11" height="11" fill="#00d5ff"/>
<rect x="104" y="178" width="11" height="11" fill="none"/>
<rect x="114" y="178" width="11" height="11" fill="none"/>
<rect x="124" y="178" width="11" height="11" fill="#00d5ff"/>
<rect x="134" y="178" width="11" height="11" fill="#b8ff47"/>
<rect x="144" y="178" width="11" height="11" fill="#0000f1"/>
<rect x="154" y="178" width="11" height="11" fill="#0000f1"/>
<rect x="164" y="178" width="11" height="11" fill="#0000f1"/>
<rect x="174" y="178" width="11" height="11" fill="#0000f1"/>
<rect x="184" y="178" width="11" height="11" fill="#0000f1"/>
<rect x="194" y="178" width="11" height="11" fill="#0000f1"/>
<rect x="204" y="178" width="11" height="11" fill="#0000f1"/>
<rect x="214" y="178" width="11" height="11" fill="#0000f1"/>
<rect x="224" y="178" width="11" height="11" fill="#0000f1"/>
<rect x="234" y="178" width="11" height="11" fill="#0000f1"/>
<rect x="244" y="178" width="11" height="11" fill="#0000f1"/>
<rect x="254" y="178" width="11" height="11" fill="#0000f1"/>
<rect x="264" y="178" width="11" height="11" fill="#0000f1"/>
<rect x="274" y="178" width="11" height="11" fill="#0000f1"/>
<rect x="284" y="178" width="11" height="11" fill="#0000f1"/>
<rect x="294" y="178" width="11" height="11" fill="#0000f1"/>
<rect x="304" y="178" width="11" height="11" fill="#0000f1"/>
<rect x="4" y="188" width="11" height="11" fill="#47ffb8"/>
<rect x="14" y="188" width="11" height="11" fill="#47ffb8"/>
<rect x="24" y="188" width="11" height="11" fill="#47ffb8"/>
<rect x="34" y="188" width="11" height="11" fill="#47ffb8"/>
<rect x="44" y="188" width="11" height="11" fill="#47ffb8"/>
<rect x="54" y="188" width="11" height="11" fill="#47ffb8"/>
<rect x="64" y="188" width="11" height="11" fill="#47ffb8"/>
<rect x="74" y="188" width="11" height="11" fill="#47ffb8"/>
<rect x="84" y="188" width="11" height="11" fill="#0000f1"/>
<rect x="94" y="188" width="11" height="11" fill="#00d5ff"/>
<rect x="104" y="188" width="11" height="11" fill="none"/>
<rect x="114" y="188" width="11" height="11" fill="none"/>
<rect x="124" y="188" width="11" height="11" fill="#00d5ff"/>
<rect x="134" y="188" width="11" height="11" fill="#b8ff47"/>
<rect x="144" y="188" width="11" height="11" fill="#0000f1"/>
<rect x="154" y="188" width="11" height="11" fill="#0000f1"/>
<rect x="164" y="188" width="11" height="11" fill="#0000f1"/>
<rect x="174" y="188" width="11" height="11" fill="#0000f1"/>
<rect x="184" y="188" width="11" height="11" fill="#0000f1"/>
<rect x="194" y="188" width="11" height="11" fill="#0000f1"/>
<rect x="204" y="188" width="11" height="11" fill="#0000f1"/>
<rect x="214" y="188" width="11" height="11" fill="#0000f1"/>
<rect x="224" y="188" width="11" height="11" fill="#0000f1"/>
<rect x="234" y="188" width="11" height="11" fill="#0000f1"/>
<rect x="244" y="188" width="11" height="11" fill="#0000f1"/>
<rect x="254" y="188" width="11" height="11" fill="#0000f1"/>
<rect x="264" y="188" width="11" height="11" fill="#0000f1"/>
<rect x="274" y="188" width="11" height="11" fill="#0000f1"/>
<rect x="284" y="188" width="11" height="11" fill="#0000f1"/>
<rect x="294" y="188" width="11" height="11" fill="#0000f1"/>
<rect x="304" y="188" width="11" height="11" fill="#0000f1"/>
<rect x="4" y="198" width="11" height="11" fill="#47ffb8"/>
<rect x="14" y="198" width="11" height="11" fill="#47ffb8"/>
<rect x="24" y="198" width="11" height="11" fill="#47ffb8"/>
<rect x="34" y="198" width="11" height="11" fill="#47ffb8"/>
<rect x="44" y="198" width="11" height="11" fill="#47ffb8"/>
<rect x="54" y="198" width="11" height="11" fill="#47ffb8"/>
<rect x="64" y="198" width="11" height="11" fill="#47ffb8"/>
<rect x="74" y="198" width="11" height="11" fill="#47ffb8"/>
<rect x="84" y="198" width="11" height="11" fill="#0000f1"/>
<rect x="94" y="198" width="11" height="11" fill="#00d5ff"/>
<rect x="104" y="198" width="11" height="11" fill="none"/>
<rect x="114" y="198" width="11" height="11" fill="none"/>
<rect x="124" y="198" width="11" height="11" fill="#00d5ff"/>
<rect x="134" y="198" width="11" height="11" fill="#b8ff47"/>
<rect x="144" y="198" width="11" height="11" fill="#0000f1"/>
<rect x="154" y="198" width="11" height="11" fill="#0000f1"/>
<rect x="164" y="198" width="11" height="11" fill="#0000f1"/>
<rect x="174" y="198" width="11" height="11" fill="#0000f1"/>
<rect x="184" y="198" width="11" height="11" fill="#0000f1"/>
<rect x="194" y="198" width="11" height="11" fill="#0000f1"/>
<rect x="204" y="198" width="11" height="11" fill="#0000f1"/>
<rect x="214" y="198" width="11" height="11" fill="#0000f1"/>
<rect x="224" y="198" width="11" height="11" fill="#0000f1"/>
<rect x="234" y="198" width="11" height="11" fill="#0000f1"/>
<rect x="244" y="198" width="11" height="11" fill="#0000f1"/>
<rect x="254" y="198" width="11" height="11" fill="#0000f1"/>
<rect x="264" y="198" width="11" height="11" fill="#0000f1"/>
<rect x="274" y="198" width="11" height="11" fill="#0000f1"/>
<rect x="284" y="198" width="11" height="11" fill="#0000f1"/>
<rect x="294" y="198" width="11" height="11" fill="#0000f1"/>
<rect x="304" y="198" width="11" height="11" fill="#0000f1"/>
<rect x="4" y="208" width="11" height="11" fill="#47ffb8"/>
<rect x="14" y="208" width="11" height="11" fill="#47ffb8"/>
<rect x="24" y="208" width="11" height="11" fill="#47ffb8"/>
<rect x="34" y="208" width="11" height="11" fill="#47ffb8"/>
<rect x="44" y="208" width="11" height="11" fill="#47ffb8"/>
<rect x="54" y="208" width="11" height="11" fill="#47ffb8"/>
<rect x="64" y="208" width="11" height="11" fill="#47ffb8"/>
<rect x="74" y="208" width="11" height="11" fill="#47ffb8"/>
<rect x="84" y="208" width="11" height="11" fill="#0000f1"/>
<rect x="94" y="208" width="11" height="11" fill="#00d5ff"/>
<rect x="104" y="208" width="11" height="11" fill="none"/>
<rect x="114" y="208" width="11" height="11" fill="none"/>
<rect x="124" y="208" width="11" height="11" fill="#00d5ff"/>
<rect x="134" y="208" width="11" height="11" fill="#b8ff47"/>
<rect x="144" y="208" width="11" height="11" fill="#0000f1"/>
<rect x="154" y="208" width="11" height="11" fill="#0000f1"/>
<rect x="164" y="208" width="11" height="11" fill="#0000f1"/>
<rect x="174" y="208" width="11" height="11" fill="#0000f1"/>
<rect x="184" y="208" width="11" height="11" fill="#0000f1"/>
<rect x="194" y="208" width="11" height="11" fill="#0000f1"/>
<rect x="204" y="208" width="11" height="11" fill="#0000f1"/>
<rect x="214" y="208" width="11" height="11" fill="#0000f1"/>
<rect x="224" y="208" width="11" height="11" fill="#0000f1"/>
<rect x="234" y="208" width="11" height="11" fill="#0000f1"/>
<rect x="244" y="208" width="11" height="11" fill="#0000f1"/>
<rect x="254" y="208" width="11" height="11" fill="#0000f1"/>
<rect x="264" y="208" width="11" height="11" fill="#0000f1"/>
<rect x="274" y="208" width="11" height="11" fill="#0000f1"/>
<rect x="284" y="208" width="11" height="11" fill="#0000f1"/>
<rect x="294" y="208" width="11" height="11" fill="#0000f1"/>
<rect x="304" y="208" width="11" height="11" fill="#0000f1"/></g>
<mask id="spA1" maskUnits="userSpaceOnUse" x="0" y="0" width="567" height="240"><g filter="url(#bl)"><rect x="24" y="28" width="10" height="10" fill="#fff"/><rect x="34" y="28" width="10" height="10" fill="#fff"/><rect x="44" y="28" width="10" height="10" fill="#fff"/><rect x="84" y="28" width="10" height="10" fill="#fff"/><rect x="164" y="28" width="10" height="10" fill="#fff"/><rect x="174" y="28" width="10" height="10" fill="#fff"/><rect x="184" y="28" width="10" height="10" fill="#fff"/><rect x="194" y="28" width="10" height="10" fill="#fff"/><rect x="204" y="28" width="10" height="10" fill="#fff"/><rect x="214" y="28" width="10" height="10" fill="#fff"/><rect x="224" y="28" width="10" height="10" fill="#fff"/><rect x="234" y="28" width="10" height="10" fill="#fff"/><rect x="244" y="28" width="10" height="10" fill="#fff"/><rect x="254" y="28" width="10" height="10" fill="#fff"/><rect x="264" y="28" width="10" height="10" fill="#fff"/><rect x="274" y="28" width="10" height="10" fill="#fff"/><rect x="284" y="28" width="10" height="10" fill="#fff"/><rect x="164" y="38" width="10" height="10" fill="#fff"/><rect x="174" y="38" width="10" height="10" fill="#fff"/><rect x="184" y="38" width="10" height="10" fill="#fff"/><rect x="194" y="38" width="10" height="10" fill="#fff"/><rect x="204" y="38" width="10" height="10" fill="#fff"/><rect x="214" y="38" width="10" height="10" fill="#fff"/><rect x="224" y="38" width="10" height="10" fill="#fff"/><rect x="234" y="38" width="10" height="10" fill="#fff"/><rect x="244" y="38" width="10" height="10" fill="#fff"/><rect x="254" y="38" width="10" height="10" fill="#fff"/><rect x="264" y="38" width="10" height="10" fill="#fff"/><rect x="274" y="38" width="10" height="10" fill="#fff"/><rect x="284" y="38" width="10" height="10" fill="#fff"/><rect x="84" y="48" width="10" height="10" fill="#fff"/><rect x="94" y="48" width="10" height="10" fill="#fff"/><rect x="214" y="48" width="10" height="10" fill="#fff"/><rect x="224" y="48" width="10" height="10" fill="#fff"/><rect x="234" y="48" width="10" height="10" fill="#fff"/><rect x="244" y="48" width="10" height="10" fill="#fff"/><rect x="254" y="48" width="10" height="10" fill="#fff"/><rect x="264" y="48" width="10" height="10" fill="#fff"/><rect x="274" y="48" width="10" height="10" fill="#fff"/><rect x="284" y="48" width="10" height="10" fill="#fff"/><rect x="224" y="58" width="10" height="10" fill="#fff"/><rect x="244" y="58" width="10" height="10" fill="#fff"/><rect x="174" y="108" width="10" height="10" fill="#fff"/><rect x="184" y="108" width="10" height="10" fill="#fff"/><rect x="174" y="118" width="10" height="10" fill="#fff"/><rect x="164" y="128" width="10" height="10" fill="#fff"/><rect x="184" y="128" width="10" height="10" fill="#fff"/><rect x="164" y="138" width="10" height="10" fill="#fff"/><rect x="184" y="138" width="10" height="10" fill="#fff"/><rect x="84" y="148" width="10" height="10" fill="#fff"/><rect x="94" y="148" width="10" height="10" fill="#fff"/><rect x="104" y="148" width="10" height="10" fill="#fff"/><rect x="164" y="148" width="10" height="10" fill="#fff"/><rect x="184" y="148" width="10" height="10" fill="#fff"/><rect x="84" y="158" width="10" height="10" fill="#fff"/><rect x="94" y="158" width="10" height="10" fill="#fff"/><rect x="104" y="158" width="10" height="10" fill="#fff"/><rect x="144" y="158" width="10" height="10" fill="#fff"/><rect x="154" y="158" width="10" height="10" fill="#fff"/><rect x="164" y="158" width="10" height="10" fill="#fff"/><rect x="184" y="158" width="10" height="10" fill="#fff"/><rect x="194" y="158" width="10" height="10" fill="#fff"/><rect x="234" y="158" width="10" height="10" fill="#fff"/><rect x="244" y="158" width="10" height="10" fill="#fff"/><rect x="254" y="158" width="10" height="10" fill="#fff"/><rect x="264" y="158" width="10" height="10" fill="#fff"/><rect x="274" y="158" width="10" height="10" fill="#fff"/><rect x="284" y="158" width="10" height="10" fill="#fff"/><rect x="84" y="168" width="10" height="10" fill="#fff"/><rect x="104" y="168" width="10" height="10" fill="#fff"/><rect x="114" y="168" width="10" height="10" fill="#fff"/><rect x="144" y="168" width="10" height="10" fill="#fff"/><rect x="154" y="168" width="10" height="10" fill="#fff"/><rect x="164" y="168" width="10" height="10" fill="#fff"/><rect x="174" y="168" width="10" height="10" fill="#fff"/><rect x="184" y="168" width="10" height="10" fill="#fff"/><rect x="194" y="168" width="10" height="10" fill="#fff"/><rect x="204" y="168" width="10" height="10" fill="#fff"/><rect x="214" y="168" width="10" height="10" fill="#fff"/><rect x="224" y="168" width="10" height="10" fill="#fff"/><rect x="234" y="168" width="10" height="10" fill="#fff"/><rect x="244" y="168" width="10" height="10" fill="#fff"/><rect x="254" y="168" width="10" height="10" fill="#fff"/><rect x="264" y="168" width="10" height="10" fill="#fff"/><rect x="274" y="168" width="10" height="10" fill="#fff"/><rect x="284" y="168" width="10" height="10" fill="#fff"/><rect x="84" y="178" width="10" height="10" fill="#fff"/><rect x="144" y="178" width="10" height="10" fill="#fff"/><rect x="154" y="178" width="10" height="10" fill="#fff"/><rect x="164" y="178" width="10" height="10" fill="#fff"/><rect x="174" y="178" width="10" height="10" fill="#fff"/><rect x="184" y="178" width="10" height="10" fill="#fff"/><rect x="194" y="178" width="10" height="10" fill="#fff"/><rect x="204" y="178" width="10" height="10" fill="#fff"/><rect x="214" y="178" width="10" height="10" fill="#fff"/><rect x="224" y="178" width="10" height="10" fill="#fff"/><rect x="234" y="178" width="10" height="10" fill="#fff"/><rect x="244" y="178" width="10" height="10" fill="#fff"/><rect x="254" y="178" width="10" height="10" fill="#fff"/><rect x="264" y="178" width="10" height="10" fill="#fff"/><rect x="274" y="178" width="10" height="10" fill="#fff"/><rect x="284" y="178" width="10" height="10" fill="#fff"/><rect x="84" y="188" width="10" height="10" fill="#fff"/><rect x="144" y="188" width="10" height="10" fill="#fff"/><rect x="154" y="188" width="10" height="10" fill="#fff"/><rect x="164" y="188" width="10" height="10" fill="#fff"/><rect x="174" y="188" width="10" height="10" fill="#fff"/><rect x="184" y="188" width="10" height="10" fill="#fff"/><rect x="194" y="188" width="10" height="10" fill="#fff"/><rect x="204" y="188" width="10" height="10" fill="#fff"/><rect x="214" y="188" width="10" height="10" fill="#fff"/><rect x="224" y="188" width="10" height="10" fill="#fff"/><rect x="234" y="188" width="10" height="10" fill="#fff"/><rect x="244" y="188" width="10" height="10" fill="#fff"/><rect x="254" y="188" width="10" height="10" fill="#fff"/><rect x="264" y="188" width="10" height="10" fill="#fff"/><rect x="274" y="188" width="10" height="10" fill="#fff"/><rect x="284" y="188" width="10" height="10" fill="#fff"/></g></mask><rect x="4" y="8" width="310" height="210" fill="url(#spk)" mask="url(#spA1)" opacity="0.90"/>
<polygon points="102.7,133.8 106.2,134.5 111.2,146.5 118.2,159.2 122.4,171.9 123.9,180.4 124.5,190.0 121.5,190.0 121.0,180.4 116.0,171.9 106.5,155.0 100.6,138.0" fill="#fff" filter="url(#bl1)"/>
<polygon points="143.6,159.2 147.8,160.6 149.2,183.2 149.5,190.0 144.5,190.0 144.3,183.2" fill="#fff" filter="url(#bl1)"/>
</g></g>
<g clip-path="url(#cfA)" fill="none" stroke="#555" stroke-width="0.6" stroke-linejoin="round">
<polygon points="16.8,25.6 40.4,25.6 41.5,28.7 44.1,30.8 48.1,32.4 49.5,34.5 50.3,38.1 49.7,42.8 47.8,43.9 49.1,40.2 47.2,38.6 43.9,38.1 41.1,37.1 41.0,39.7 42.4,44.9 42.3,48.3 42.2,52.2 41.1,56.9 39.3,63.3 37.8,66.3 38.8,70.7 38.5,76.0 36.9,79.0 39.1,82.4 39.0,86.9 41.7,90.4 43.9,93.0 44.1,96.2 45.7,97.6 46.0,99.4 47.5,102.6 49.9,105.9 50.8,108.5 51.5,110.9 55.0,111.2 58.4,113.1 60.2,113.3 60.6,114.7 62.8,115.5 65.2,117.6 65.7,120.3 66.0,121.4 68.0,124.9 69.1,129.4 70.7,132.6 73.5,136.9 76.6,140.6 78.7,144.9 74.9,147.1 77.6,150.3 80.7,152.4 82.5,154.6 87.0,158.3 87.1,162.6 89.6,165.3 94.2,169.6 97.4,172.8 99.6,171.7 99.4,169.0 95.7,165.8 94.3,163.7 92.6,159.9 91.3,156.2 88.7,151.9 86.9,149.2 84.7,145.5 82.5,141.7 80.8,138.0 77.3,134.8 76.6,130.5 76.4,125.7 80.9,126.7 83.6,127.8 84.8,131.0 86.0,135.3 88.1,140.1 91.3,143.3 93.5,146.0 95.2,148.7 98.4,151.9 100.6,156.7 104.2,160.5 107.4,164.2 111.6,168.0 113.8,171.2 117.1,174.9 119.3,180.3 117.9,184.0 119.0,185.1 117.4,188.3 118.3,191.5 -2.4,191.5"/>
<polygon points="160.7,191.5 158.8,187.2 156.2,182.9 153.9,176.3 154.3,168.0 155.0,163.7 155.5,161.5 157.1,156.4 156.2,151.9 157.4,146.5 160.1,143.3 165.7,140.4 168.2,138.5 172.3,136.4 179.5,137.2 184.1,138.0 187.3,139.6 189.9,139.0 194.0,140.1 192.4,136.9 192.3,134.0 195.0,132.6 198.7,133.4 202.8,132.9 206.1,132.6 209.8,134.0 211.5,136.4 213.5,136.4 216.5,134.5 220.0,136.4 222.2,139.3 223.9,141.7 224.0,146.5 224.3,148.1 225.3,150.3 227.5,153.5 228.5,155.6 230.0,157.2 231.7,159.7 232.0,161.0 235.0,160.2 235.6,158.9 236.4,157.2 236.6,152.4 236.0,149.7 233.9,145.5 233.8,143.1 231.6,139.0 230.1,134.8 229.5,132.6 229.1,129.4 230.3,125.7 231.6,123.8 233.9,120.8 235.9,120.0 238.7,117.6 241.5,114.1 244.2,114.1 245.6,111.2 250.3,110.1 252.2,108.0 254.8,106.7 254.1,103.2 252.7,100.0 252.0,98.1 250.5,97.3 250.2,94.1 249.4,90.4 249.4,84.5 251.0,87.2 251.8,92.0 251.9,96.2 254.3,92.5 255.4,89.8 255.0,87.7 253.0,85.0 255.8,86.6 257.8,84.5 259.0,80.8 259.1,78.9 260.3,78.1 264.2,77.3 268.2,75.6 267.8,74.4 269.7,73.9 270.3,73.4 271.6,73.4 273.1,73.1 275.1,72.8 276.1,72.6 275.0,70.4 273.3,71.0 271.1,68.9 272.6,67.3 271.7,65.4 273.7,62.2 275.3,61.2 278.6,60.1 289.8,191.5"/>
<polygon points="29.4,24.6 39.3,24.6 40.2,28.7 43.1,31.8 45.7,34.5 46.8,37.1 42.9,36.3 39.1,33.9 34.5,30.8 30.6,26.7"/>
<polygon points="188.0,191.5 188.7,188.3 188.9,183.7 190.7,182.1 192.6,181.3 197.8,180.8 202.0,180.0 204.3,180.3 205.8,181.9 204.4,185.1 202.8,188.3 202.6,191.5"/>
<polygon points="214.4,178.4 216.9,176.8 219.2,174.4 222.5,172.5 226.2,171.7 230.4,171.3 234.2,172.0 237.5,172.8 241.2,174.4 244.6,176.0 248.9,178.1 252.7,180.0 256.5,181.9 258.4,182.9 262.7,184.6 265.4,187.2 263.8,188.0 260.5,188.8 254.4,188.8 248.8,189.2 251.0,186.7 250.5,184.6 247.7,184.0 244.7,180.8 242.4,180.0 238.1,179.2 234.8,178.4 233.4,177.1 231.0,176.3 228.7,176.5 228.1,174.4 224.8,173.8 222.1,176.0 219.3,177.6"/>
<polygon points="178.5,45.9 181.4,44.4 185.1,41.2 187.6,39.7 190.4,37.1 194.5,35.0 198.7,35.0 202.1,36.0 208.2,39.7 209.7,42.8 210.8,47.0 207.4,47.0 204.4,45.9 201.5,47.5 198.0,46.5 197.0,43.3 196.5,42.0 194.1,44.9 189.1,45.7 184.8,46.5" fill="#fff" stroke="#666" stroke-width="0.8"/>
<polygon points="209.8,50.7 206.3,49.6 202.5,50.1 198.0,53.8 198.6,57.5 197.2,65.4 198.8,71.2 201.0,72.8 203.5,70.2 204.6,65.4 203.0,60.1 205.0,55.9 207.4,53.3" fill="#fff" stroke="#666" stroke-width="0.8"/>
<polygon points="210.6,50.7 213.6,49.6 219.5,48.6 223.8,49.6 226.8,50.1 229.3,53.3 230.9,56.9 226.9,55.9 225.0,53.8 224.8,56.9 223.7,59.6 221.1,65.4 216.6,62.2 214.3,60.1 216.8,59.1 216.5,55.4 215.5,52.7" fill="#fff" stroke="#666" stroke-width="0.8"/>
<polygon points="217.5,70.7 220.7,72.3 224.7,73.4 228.1,71.2 231.5,70.2 236.4,65.9 232.1,66.7 227.4,67.5 223.5,69.1 219.3,70.7" fill="#fff" stroke="#666" stroke-width="0.8"/>
<polygon points="235.4,64.4 233.9,62.2 239.8,60.7 246.1,59.1 247.8,62.8 241.8,63.8" fill="#fff" stroke="#666" stroke-width="0.8"/>
<polyline points="66.0,121.2 77.0,120.2 93.3,127.6 106.4,127.6 106.5,125.2 114.2,125.2 118.4,128.3 122.4,131.5 123.7,135.8 127.4,138.5 129.2,140.1 131.1,138.5 132.5,136.1 137.5,135.8 139.8,138.2 141.6,141.7 146.2,148.1 148.5,154.0 152.2,155.6 157.1,156.4" stroke="#666" stroke-width="0.5"/>
<polyline points="47.5,33.9 165.3,33.9 171.0,35.5 174.4,36.0 178.6,37.6 188.8,39.2" stroke="#666" stroke-width="0.5"/>
<polyline points="246.6,59.6 250.2,56.9 253.5,54.8 267.2,54.8 268.7,53.3 271.3,50.7 272.2,47.5 275.2,42.3" stroke="#666" stroke-width="0.5"/>
<polyline points="241.9,152.4 244.7,153.0 246.5,152.4" stroke-dasharray="1.5,1"/>
<polyline points="248.8,150.8 250.3,153.5 249.9,156.2" stroke-dasharray="1.5,1"/>
<polyline points="245.9,160.5 247.5,163.7 248.5,165.8" stroke-dasharray="1.5,1"/>
<polyline points="252.4,158.9 254.8,161.0 255.4,163.7" stroke-dasharray="1.5,1"/>
<polyline points="257.8,165.3 259.3,168.5 260.8,171.7" stroke-dasharray="1.5,1"/>
<polyline points="256.0,168.5 257.1,171.2" stroke-dasharray="1.5,1"/>
<polyline points="264.2,174.4 266.1,176.0" stroke-dasharray="1.5,1"/>
<polyline points="267.3,181.9 269.7,182.9" stroke-dasharray="1.5,1"/>
<polyline points="273.7,178.1 276.1,179.2" stroke-dasharray="1.5,1"/>
<polyline points="228.6,194.7 231.9,192.0" stroke-dasharray="1.5,1"/>
</g>
<polygon points="41.1,28.7 269.9,28.7 269.9,28.7 273.7,54.8 277.0,81.3 279.8,108.0 282.1,134.8 283.8,161.5 285.0,188.3 26.0,188.3 26.0,188.3 27.2,161.5 28.9,134.8 31.2,108.0 34.0,81.3 37.3,54.8 41.1,28.7" fill="none" stroke="#111" stroke-width="1.3"/>
<text x="15.99" y="34.01" font-size="9" font-family="Liberation Sans, sans-serif" fill="#111" stroke="#111" stroke-width="0.15">50</text><circle cx="28.25" cy="25.91" r="0.95" fill="none" stroke="#444" stroke-width="0.7"/><text x="32.10" y="34.01" font-size="9" font-family="Liberation Sans, sans-serif" fill="#111" stroke="#111" stroke-width="0.15">N</text>
<text x="8.19" y="86.70" font-size="9" font-family="Liberation Sans, sans-serif" fill="#111" stroke="#111" stroke-width="0.15">40</text><circle cx="20.45" cy="78.60" r="0.95" fill="none" stroke="#444" stroke-width="0.7"/><text x="24.30" y="86.70" font-size="9" font-family="Liberation Sans, sans-serif" fill="#111" stroke="#111" stroke-width="0.15">N</text>
<text x="3.59" y="139.66" font-size="9" font-family="Liberation Sans, sans-serif" fill="#111" stroke="#111" stroke-width="0.15">30</text><circle cx="15.85" cy="131.56" r="0.95" fill="none" stroke="#444" stroke-width="0.7"/><text x="19.70" y="139.66" font-size="9" font-family="Liberation Sans, sans-serif" fill="#111" stroke="#111" stroke-width="0.15">N</text>
<text x="0.39" y="192.60" font-size="9" font-family="Liberation Sans, sans-serif" fill="#111" stroke="#111" stroke-width="0.15">20</text><circle cx="12.65" cy="184.50" r="0.95" fill="none" stroke="#444" stroke-width="0.7"/><text x="16.50" y="192.60" font-size="9" font-family="Liberation Sans, sans-serif" fill="#111" stroke="#111" stroke-width="0.15">N</text>
<text x="35.25" y="199.80" font-size="9" font-family="Liberation Sans, sans-serif" fill="#111" stroke="#111" stroke-width="0.15">120</text><circle cx="52.51" cy="191.70" r="0.95" fill="none" stroke="#444" stroke-width="0.7"/><text x="56.36" y="199.80" font-size="9" font-family="Liberation Sans, sans-serif" fill="#111" stroke="#111" stroke-width="0.15">W</text>
<text x="82.34" y="199.80" font-size="9" font-family="Liberation Sans, sans-serif" fill="#111" stroke="#111" stroke-width="0.15">110</text><circle cx="99.60" cy="191.70" r="0.95" fill="none" stroke="#444" stroke-width="0.7"/><text x="103.45" y="199.80" font-size="9" font-family="Liberation Sans, sans-serif" fill="#111" stroke="#111" stroke-width="0.15">W</text>
<text x="129.42" y="199.80" font-size="9" font-family="Liberation Sans, sans-serif" fill="#111" stroke="#111" stroke-width="0.15">100</text><circle cx="146.69" cy="191.70" r="0.95" fill="none" stroke="#444" stroke-width="0.7"/><text x="150.54" y="199.80" font-size="9" font-family="Liberation Sans, sans-serif" fill="#111" stroke="#111" stroke-width="0.15">W</text>
<text x="179.01" y="199.80" font-size="9" font-family="Liberation Sans, sans-serif" fill="#111" stroke="#111" stroke-width="0.15">90</text><circle cx="191.27" cy="191.70" r="0.95" fill="none" stroke="#444" stroke-width="0.7"/><text x="195.12" y="199.80" font-size="9" font-family="Liberation Sans, sans-serif" fill="#111" stroke="#111" stroke-width="0.15">W</text>
<text x="226.10" y="199.80" font-size="9" font-family="Liberation Sans, sans-serif" fill="#111" stroke="#111" stroke-width="0.15">80</text><circle cx="238.36" cy="191.70" r="0.95" fill="none" stroke="#444" stroke-width="0.7"/><text x="242.21" y="199.80" font-size="9" font-family="Liberation Sans, sans-serif" fill="#111" stroke="#111" stroke-width="0.15">W</text>
<text x="273.19" y="199.80" font-size="9" font-family="Liberation Sans, sans-serif" fill="#111" stroke="#111" stroke-width="0.15">70</text><circle cx="285.44" cy="191.70" r="0.95" fill="none" stroke="#444" stroke-width="0.7"/><text x="289.30" y="199.80" font-size="9" font-family="Liberation Sans, sans-serif" fill="#111" stroke="#111" stroke-width="0.15">W</text>
<defs><linearGradient id="cbA1" x1="0" x2="1" y1="0" y2="0"><stop offset="0.000" stop-color="#800000"/><stop offset="0.031" stop-color="#9f0000"/><stop offset="0.062" stop-color="#bf0000"/><stop offset="0.094" stop-color="#df0000"/><stop offset="0.125" stop-color="#ff0000"/><stop offset="0.156" stop-color="#ff2000"/><stop offset="0.188" stop-color="#ff4000"/><stop offset="0.219" stop-color="#ff6000"/><stop offset="0.250" stop-color="#ff8000"/><stop offset="0.281" stop-color="#ff9f00"/><stop offset="0.312" stop-color="#ffbf00"/><stop offset="0.344" stop-color="#ffdf00"/><stop offset="0.375" stop-color="#ffff00"/><stop offset="0.406" stop-color="#dfff20"/><stop offset="0.438" stop-color="#bfff40"/><stop offset="0.469" stop-color="#9fff60"/><stop offset="0.500" stop-color="#80ff80"/><stop offset="0.531" stop-color="#60ff9f"/><stop offset="0.562" stop-color="#40ffbf"/><stop offset="0.594" stop-color="#20ffdf"/><stop offset="0.625" stop-color="#00ffff"/><stop offset="0.656" stop-color="#00dfff"/><stop offset="0.688" stop-color="#00bfff"/><stop offset="0.719" stop-color="#009fff"/><stop offset="0.750" stop-color="#0080ff"/><stop offset="0.781" stop-color="#0060ff"/><stop offset="0.812" stop-color="#0040ff"/><stop offset="0.844" stop-color="#0020ff"/><stop offset="0.875" stop-color="#0000ff"/><stop offset="0.906" stop-color="#0000df"/><stop offset="0.938" stop-color="#0000bf"/><stop offset="0.969" stop-color="#00009f"/><stop offset="1.000" stop-color="#000080"/></linearGradient></defs>
<rect x="41.4" y="213.0" width="225.6" height="5.3" fill="url(#cbA1)" stroke="#222" stroke-width="0.6"/>
<text x="41.4" y="229.5" text-anchor="middle" font-size="9" font-family="Liberation Sans, sans-serif" fill="#111">0</text>
<line x1="86.5" x2="86.5" y1="213.0" y2="214.6" stroke="#222" stroke-width="0.7"/>
<line x1="86.5" x2="86.5" y1="216.7" y2="218.3" stroke="#222" stroke-width="0.7"/>
<text x="86.5" y="229.5" text-anchor="middle" font-size="9" font-family="Liberation Sans, sans-serif" fill="#111">0.1</text>
<line x1="131.6" x2="131.6" y1="213.0" y2="214.6" stroke="#222" stroke-width="0.7"/>
<line x1="131.6" x2="131.6" y1="216.7" y2="218.3" stroke="#222" stroke-width="0.7"/>
<text x="131.6" y="229.5" text-anchor="middle" font-size="9" font-family="Liberation Sans, sans-serif" fill="#111">0.2</text>
<line x1="176.8" x2="176.8" y1="213.0" y2="214.6" stroke="#222" stroke-width="0.7"/>
<line x1="176.8" x2="176.8" y1="216.7" y2="218.3" stroke="#222" stroke-width="0.7"/>
<text x="176.8" y="229.5" text-anchor="middle" font-size="9" font-family="Liberation Sans, sans-serif" fill="#111">0.3</text>
<line x1="221.9" x2="221.9" y1="213.0" y2="214.6" stroke="#222" stroke-width="0.7"/>
<line x1="221.9" x2="221.9" y1="216.7" y2="218.3" stroke="#222" stroke-width="0.7"/>
<text x="221.9" y="229.5" text-anchor="middle" font-size="9" font-family="Liberation Sans, sans-serif" fill="#111">0.4</text>
<text x="267.0" y="229.5" text-anchor="middle" font-size="9" font-family="Liberation Sans, sans-serif" fill="#111">0.5</text>
</g>
<g transform="translate(0,246.7)">
<text x="322.0" y="11.6" font-size="16" font-weight="bold" font-family="Liberation Serif, serif" fill="#000">(d)</text>
<polyline points="374.4,190.3 374.4,184.6 374.5,178.9 374.5,173.3 374.6,167.6 374.7,161.9 374.9,156.2 375.1,150.5 375.3,144.8 375.5,139.2 375.8,133.5 376.0,127.8 376.3,122.1 376.7,116.4 377.1,110.8 377.5,105.1 378.0,99.4 378.6,93.7 379.2,88.0 379.8,82.4 380.5,76.7 381.3,71.1 382.1,65.5 382.9,59.9 383.8,54.4 384.7,48.8 385.7,43.4 386.7,37.9 387.8,32.6 388.9,27.3 390.1,22.0" fill="none" stroke="#c8c8e0" stroke-width="0.6" stroke-dasharray="2,1"/>
<polyline points="400.4,190.3 400.4,184.6 400.4,178.9 400.5,173.3 400.5,167.6 400.6,161.9 400.7,156.2 400.8,150.5 401.0,144.8 401.1,139.2 401.3,133.5 401.5,127.8 401.7,122.1 401.9,116.4 402.2,110.8 402.4,105.1 402.8,99.4 403.1,93.7 403.5,88.0 404.0,82.4 404.4,76.7 405.0,71.1 405.5,65.5 406.0,59.9 406.6,54.4 407.2,48.8 407.9,43.4 408.6,37.9 409.3,32.6 410.1,27.3 410.8,22.0" fill="none" stroke="#c8c8e0" stroke-width="0.6" stroke-dasharray="2,1"/>
<polyline points="426.3,190.3 426.3,184.6 426.4,178.9 426.4,173.3 426.4,167.6 426.4,161.9 426.5,156.2 426.6,150.5 426.6,144.8 426.7,139.2 426.8,133.5 426.9,127.8 427.0,122.1 427.1,116.4 427.2,110.8 427.4,105.1 427.5,99.4 427.7,93.7 427.9,88.0 428.1,82.4 428.4,76.7 428.6,71.1 428.9,65.5 429.2,59.9 429.5,54.4 429.8,48.8 430.1,43.4 430.4,37.9 430.8,32.6 431.2,27.3 431.6,22.0" fill="none" stroke="#c8c8e0" stroke-width="0.6" stroke-dasharray="2,1"/>
<polyline points="452.3,190.3 452.3,184.6 452.3,178.9 452.3,173.3 452.3,167.6 452.3,161.9 452.3,156.2 452.3,150.5 452.3,144.8 452.3,139.2 452.3,133.5 452.3,127.8 452.3,122.1 452.3,116.4 452.3,110.8 452.3,105.1 452.3,99.4 452.3,93.7 452.3,88.0 452.3,82.4 452.3,76.7 452.3,71.1 452.3,65.5 452.3,59.9 452.3,54.4 452.3,48.8 452.3,43.4 452.3,37.9 452.3,32.6 452.3,27.3 452.3,22.0" fill="none" stroke="#c8c8e0" stroke-width="0.6" stroke-dasharray="2,1"/>
<polyline points="478.3,190.3 478.3,184.6 478.2,178.9 478.2,173.3 478.2,167.6 478.2,161.9 478.1,156.2 478.0,150.5 478.0,144.8 477.9,139.2 477.8,133.5 477.7,127.8 477.6,122.1 477.5,116.4 477.4,110.8 477.2,105.1 477.1,99.4 476.9,93.7 476.7,88.0 476.5,82.4 476.2,76.7 476.0,71.1 475.7,65.5 475.4,59.9 475.1,54.4 474.8,48.8 474.5,43.4 474.2,37.9 473.8,32.6 473.4,27.3 473.0,22.0" fill="none" stroke="#c8c8e0" stroke-width="0.6" stroke-dasharray="2,1"/>
<polyline points="504.2,190.3 504.2,184.6 504.2,178.9 504.1,173.3 504.1,167.6 504.0,161.9 503.9,156.2 503.8,150.5 503.6,144.8 503.5,139.2 503.3,133.5 503.1,127.8 502.9,122.1 502.7,116.4 502.4,110.8 502.2,105.1 501.8,99.4 501.5,93.7 501.1,88.0 500.6,82.4 500.2,76.7 499.6,71.1 499.1,65.5 498.6,59.9 498.0,54.4 497.4,48.8 496.7,43.4 496.0,37.9 495.3,32.6 494.5,27.3 493.8,22.0" fill="none" stroke="#c8c8e0" stroke-width="0.6" stroke-dasharray="2,1"/>
<polyline points="530.2,190.3 530.2,184.6 530.1,178.9 530.1,173.3 530.0,167.6 529.9,161.9 529.7,156.2 529.5,150.5 529.3,144.8 529.1,139.2 528.8,133.5 528.6,127.8 528.3,122.1 527.9,116.4 527.5,110.8 527.1,105.1 526.6,99.4 526.0,93.7 525.4,88.0 524.8,82.4 524.1,76.7 523.3,71.1 522.5,65.5 521.7,59.9 520.8,54.4 519.9,48.8 518.9,43.4 517.9,37.9 516.8,32.6 515.7,27.3 514.5,22.0" fill="none" stroke="#c8c8e0" stroke-width="0.6" stroke-dasharray="2,1"/>
<line x1="348.9" y1="161.9" x2="555.7" y2="161.9" stroke="#c8c8e0" stroke-width="0.6" stroke-dasharray="2,1"/>
<line x1="350.2" y1="133.5" x2="554.4" y2="133.5" stroke="#c8c8e0" stroke-width="0.6" stroke-dasharray="2,1"/>
<line x1="352.6" y1="105.1" x2="552.0" y2="105.1" stroke="#c8c8e0" stroke-width="0.6" stroke-dasharray="2,1"/>
<line x1="356.5" y1="76.7" x2="548.1" y2="76.7" stroke="#c8c8e0" stroke-width="0.6" stroke-dasharray="2,1"/>
<line x1="362.1" y1="48.8" x2="542.5" y2="48.8" stroke="#c8c8e0" stroke-width="0.6" stroke-dasharray="2,1"/>
<g clip-path="url(#cfB)"><g mask="url(#mkB)">
<g filter="url(#bl)"><rect x="326" y="0" width="11" height="11" fill="#0000f1"/>
<rect x="336" y="0" width="11" height="11" fill="#0000f1"/>
<rect x="346" y="0" width="11" height="11" fill="#0000f1"/>
<rect x="356" y="0" width="11" height="11" fill="#0000f1"/>
<rect x="366" y="0" width="11" height="11" fill="#0000f1"/>
<rect x="376" y="0" width="11" height="11" fill="#0000f1"/>
<rect x="386" y="0" width="11" height="11" fill="#0000f1"/>
<rect x="396" y="0" width="11" height="11" fill="#0000f1"/>
<rect x="406" y="0" width="11" height="11" fill="#0000f1"/>
<rect x="416" y="0" width="11" height="11" fill="#0000f1"/>
<rect x="426" y="0" width="11" height="11" fill="#0000f1"/>
<rect x="436" y="0" width="11" height="11" fill="#0000f1"/>
<rect x="446" y="0" width="11" height="11" fill="#0000f1"/>
<rect x="456" y="0" width="11" height="11" fill="none"/>
<rect x="466" y="0" width="11" height="11" fill="#0000f1"/>
<rect x="476" y="0" width="11" height="11" fill="none"/>
<rect x="486" y="0" width="11" height="11" fill="#0000f1"/>
<rect x="496" y="0" width="11" height="11" fill="none"/>
<rect x="506" y="0" width="11" height="11" fill="none"/>
<rect x="516" y="0" width="11" height="11" fill="#0000f1"/>
<rect x="526" y="0" width="11" height="11" fill="#0000f1"/>
<rect x="536" y="0" width="11" height="11" fill="#0000f1"/>
<rect x="546" y="0" width="11" height="11" fill="#0000f1"/>
<rect x="556" y="0" width="11" height="11" fill="#0000f1"/>
<rect x="566" y="0" width="11" height="11" fill="#0000f1"/>
<rect x="576" y="0" width="11" height="11" fill="#0000f1"/>
<rect x="326" y="10" width="11" height="11" fill="#0000f1"/>
<rect x="336" y="10" width="11" height="11" fill="#0000f1"/>
<rect x="346" y="10" width="11" height="11" fill="#0000f1"/>
<rect x="356" y="10" width="11" height="11" fill="#0000f1"/>
<rect x="366" y="10" width="11" height="11" fill="#0000f1"/>
<rect x="376" y="10" width="11" height="11" fill="#0000f1"/>
<rect x="386" y="10" width="11" height="11" fill="#0000f1"/>
<rect x="396" y="10" width="11" height="11" fill="#0000f1"/>
<rect x="406" y="10" width="11" height="11" fill="#0000f1"/>
<rect x="416" y="10" width="11" height="11" fill="#0000f1"/>
<rect x="426" y="10" width="11" height="11" fill="#0000f1"/>
<rect x="436" y="10" width="11" height="11" fill="#0000f1"/>
<rect x="446" y="10" width="11" height="11" fill="#0000f1"/>
<rect x="456" y="10" width="11" height="11" fill="none"/>
<rect x="466" y="10" width="11" height="11" fill="#0000f1"/>
<rect x="476" y="10" width="11" height="11" fill="none"/>
<rect x="486" y="10" width="11" height="11" fill="#0000f1"/>
<rect x="496" y="10" width="11" height="11" fill="none"/>
<rect x="506" y="10" width="11" height="11" fill="none"/>
<rect x="516" y="10" width="11" height="11" fill="#0000f1"/>
<rect x="526" y="10" width="11" height="11" fill="#0000f1"/>
<rect x="536" y="10" width="11" height="11" fill="#0000f1"/>
<rect x="546" y="10" width="11" height="11" fill="#0000f1"/>
<rect x="556" y="10" width="11" height="11" fill="#0000f1"/>
<rect x="566" y="10" width="11" height="11" fill="#0000f1"/>
<rect x="576" y="10" width="11" height="11" fill="#0000f1"/>
<rect x="326" y="20" width="11" height="11" fill="#0000f1"/>
<rect x="336" y="20" width="11" height="11" fill="#0000f1"/>
<rect x="346" y="20" width="11" height="11" fill="#0000f1"/>
<rect x="356" y="20" width="11" height="11" fill="#0000f1"/>
<rect x="366" y="20" width="11" height="11" fill="#0000f1"/>
<rect x="376" y="20" width="11" height="11" fill="#0000f1"/>
<rect x="386" y="20" width="11" height="11" fill="#0000f1"/>
<rect x="396" y="20" width="11" height="11" fill="#0000f1"/>
<rect x="406" y="20" width="11" height="11" fill="#0000f1"/>
<rect x="416" y="20" width="11" height="11" fill="#0000f1"/>
<rect x="426" y="20" width="11" height="11" fill="#0000f1"/>
<rect x="436" y="20" width="11" height="11" fill="#0000f1"/>
<rect x="446" y="20" width="11" height="11" fill="#0000f1"/>
<rect x="456" y="20" width="11" height="11" fill="none"/>
<rect x="466" y="20" width="11" height="11" fill="#0000f1"/>
<rect x="476" y="20" width="11" height="11" fill="none"/>
<rect x="486" y="20" width="11" height="11" fill="#0000f1"/>
<rect x="496" y="20" width="11" height="11" fill="none"/>
<rect x="506" y="20" width="11" height="11" fill="none"/>
<rect x="516" y="20" width="11" height="11" fill="#0000f1"/>
<rect x="526" y="20" width="11" height="11" fill="#0000f1"/>
<rect x="536" y="20" width="11" height="11" fill="#0000f1"/>
<rect x="546" y="20" width="11" height="11" fill="#0000f1"/>
<rect x="556" y="20" width="11" height="11" fill="#0000f1"/>
<rect x="566" y="20" width="11" height="11" fill="#0000f1"/>
<rect x="576" y="20" width="11" height="11" fill="#0000f1"/>
<rect x="326" y="30" width="11" height="11" fill="#0000f1"/>
<rect x="336" y="30" width="11" height="11" fill="#0000f1"/>
<rect x="346" y="30" width="11" height="11" fill="#0000f1"/>
<rect x="356" y="30" width="11" height="11" fill="#0000f1"/>
<rect x="366" y="30" width="11" height="11" fill="#0000f1"/>
<rect x="376" y="30" width="11" height="11" fill="#0000f1"/>
<rect x="386" y="30" width="11" height="11" fill="#0000f1"/>
<rect x="396" y="30" width="11" height="11" fill="#0000f1"/>
<rect x="406" y="30" width="11" height="11" fill="#0063ff"/>
<rect x="416" y="30" width="11" height="11" fill="#0063ff"/>
<rect x="426" y="30" width="11" height="11" fill="#0000f1"/>
<rect x="436" y="30" width="11" height="11" fill="#0000f1"/>
<rect x="446" y="30" width="11" height="11" fill="#0063ff"/>
<rect x="456" y="30" width="11" height="11" fill="#0000f1"/>
<rect x="466" y="30" width="11" height="11" fill="#0000f1"/>
<rect x="476" y="30" width="11" height="11" fill="none"/>
<rect x="486" y="30" width="11" height="11" fill="#0000f1"/>
<rect x="496" y="30" width="11" height="11" fill="#0000f1"/>
<rect x="506" y="30" width="11" height="11" fill="#0000f1"/>
<rect x="516" y="30" width="11" height="11" fill="#0000f1"/>
<rect x="526" y="30" width="11" height="11" fill="#0000f1"/>
<rect x="536" y="30" width="11" height="11" fill="none"/>
<rect x="546" y="30" width="11" height="11" fill="none"/>
<rect x="556" y="30" width="11" height="11" fill="none"/>
<rect x="566" y="30" width="11" height="11" fill="none"/>
<rect x="576" y="30" width="11" height="11" fill="none"/>
<rect x="326" y="40" width="11" height="11" fill="#0000f1"/>
<rect x="336" y="40" width="11" height="11" fill="#0000f1"/>
<rect x="346" y="40" width="11" height="11" fill="#0000f1"/>
<rect x="356" y="40" width="11" height="11" fill="#0000f1"/>
<rect x="366" y="40" width="11" height="11" fill="#0000f1"/>
<rect x="376" y="40" width="11" height="11" fill="#0000f1"/>
<rect x="386" y="40" width="11" height="11" fill="#0000f1"/>
<rect x="396" y="40" width="11" height="11" fill="#0000f1"/>
<rect x="406" y="40" width="11" height="11" fill="#0000f1"/>
<rect x="416" y="40" width="11" height="11" fill="#0000f1"/>
<rect x="426" y="40" width="11" height="11" fill="#0063ff"/>
<rect x="436" y="40" width="11" height="11" fill="#0063ff"/>
<rect x="446" y="40" width="11" height="11" fill="#00d5ff"/>
<rect x="456" y="40" width="11" height="11" fill="#0000f1"/>
<rect x="466" y="40" width="11" height="11" fill="#0063ff"/>
<rect x="476" y="40" width="11" height="11" fill="#0063ff"/>
<rect x="486" y="40" width="11" height="11" fill="#0063ff"/>
<rect x="496" y="40" width="11" height="11" fill="#00d5ff"/>
<rect x="506" y="40" width="11" height="11" fill="#47ffb8"/>
<rect x="516" y="40" width="11" height="11" fill="#b8ff47"/>
<rect x="526" y="40" width="11" height="11" fill="#ffd400"/>
<rect x="536" y="40" width="11" height="11" fill="#ff6300"/>
<rect x="546" y="40" width="11" height="11" fill="#ff6300"/>
<rect x="556" y="40" width="11" height="11" fill="#ff6300"/>
<rect x="566" y="40" width="11" height="11" fill="#ff6300"/>
<rect x="576" y="40" width="11" height="11" fill="#ff6300"/>
<rect x="326" y="50" width="11" height="11" fill="#0000f1"/>
<rect x="336" y="50" width="11" height="11" fill="#0000f1"/>
<rect x="346" y="50" width="11" height="11" fill="#0000f1"/>
<rect x="356" y="50" width="11" height="11" fill="#0000f1"/>
<rect x="366" y="50" width="11" height="11" fill="#0000f1"/>
<rect x="376" y="50" width="11" height="11" fill="#0000f1"/>
<rect x="386" y="50" width="11" height="11" fill="#0000f1"/>
<rect x="396" y="50" width="11" height="11" fill="#0000f1"/>
<rect x="406" y="50" width="11" height="11" fill="#0000f1"/>
<rect x="416" y="50" width="11" height="11" fill="#0000f1"/>
<rect x="426" y="50" width="11" height="11" fill="#0063ff"/>
<rect x="436" y="50" width="11" height="11" fill="#0000f1"/>
<rect x="446" y="50" width="11" height="11" fill="#0000f1"/>
<rect x="456" y="50" width="11" height="11" fill="#0000f1"/>
<rect x="466" y="50" width="11" height="11" fill="#0063ff"/>
<rect x="476" y="50" width="11" height="11" fill="#00d5ff"/>
<rect x="486" y="50" width="11" height="11" fill="#0063ff"/>
<rect x="496" y="50" width="11" height="11" fill="#00d5ff"/>
<rect x="506" y="50" width="11" height="11" fill="#b8ff47"/>
<rect x="516" y="50" width="11" height="11" fill="#ffd400"/>
<rect x="526" y="50" width="11" height="11" fill="#ff6300"/>
<rect x="536" y="50" width="11" height="11" fill="#ff6300"/>
<rect x="546" y="50" width="11" height="11" fill="#ff6300"/>
<rect x="556" y="50" width="11" height="11" fill="#ff6300"/>
<rect x="566" y="50" width="11" height="11" fill="#ff6300"/>
<rect x="576" y="50" width="11" height="11" fill="#ff6300"/>
<rect x="326" y="60" width="11" height="11" fill="#0063ff"/>
<rect x="336" y="60" width="11" height="11" fill="#0063ff"/>
<rect x="346" y="60" width="11" height="11" fill="#0063ff"/>
<rect x="356" y="60" width="11" height="11" fill="#0063ff"/>
<rect x="366" y="60" width="11" height="11" fill="#0063ff"/>
<rect x="376" y="60" width="11" height="11" fill="#0063ff"/>
<rect x="386" y="60" width="11" height="11" fill="#0063ff"/>
<rect x="396" y="60" width="11" height="11" fill="none"/>
<rect x="406" y="60" width="11" height="11" fill="#0000f1"/>
<rect x="416" y="60" width="11" height="11" fill="#0000f1"/>
<rect x="426" y="60" width="11" height="11" fill="#0000f1"/>
<rect x="436" y="60" width="11" height="11" fill="none"/>
<rect x="446" y="60" width="11" height="11" fill="#0000f1"/>
<rect x="456" y="60" width="11" height="11" fill="#0000f1"/>
<rect x="466" y="60" width="11" height="11" fill="#0063ff"/>
<rect x="476" y="60" width="11" height="11" fill="#00d5ff"/>
<rect x="486" y="60" width="11" height="11" fill="#0063ff"/>
<rect x="496" y="60" width="11" height="11" fill="#00d5ff"/>
<rect x="506" y="60" width="11" height="11" fill="#b8ff47"/>
<rect x="516" y="60" width="11" height="11" fill="#ffd400"/>
<rect x="526" y="60" width="11" height="11" fill="#ff6300"/>
<rect x="536" y="60" width="11" height="11" fill="#ff6300"/>
<rect x="546" y="60" width="11" height="11" fill="#ff6300"/>
<rect x="556" y="60" width="11" height="11" fill="#ff6300"/>
<rect x="566" y="60" width="11" height="11" fill="#ff6300"/>
<rect x="576" y="60" width="11" height="11" fill="#ff6300"/>
<rect x="326" y="70" width="11" height="11" fill="#00d5ff"/>
<rect x="336" y="70" width="11" height="11" fill="#00d5ff"/>
<rect x="346" y="70" width="11" height="11" fill="#00d5ff"/>
<rect x="356" y="70" width="11" height="11" fill="#00d5ff"/>
<rect x="366" y="70" width="11" height="11" fill="#00d5ff"/>
<rect x="376" y="70" width="11" height="11" fill="#00d5ff"/>
<rect x="386" y="70" width="11" height="11" fill="#00d5ff"/>
<rect x="396" y="70" width="11" height="11" fill="#47ffb8"/>
<rect x="406" y="70" width="11" height="11" fill="#0000f1"/>
<rect x="416" y="70" width="11" height="11" fill="#0000f1"/>
<rect x="426" y="70" width="11" height="11" fill="#0000f1"/>
<rect x="436" y="70" width="11" height="11" fill="#0000f1"/>
<rect x="446" y="70" width="11" height="11" fill="#0000f1"/>
<rect x="456" y="70" width="11" height="11" fill="#0063ff"/>
<rect x="466" y="70" width="11" height="11" fill="#00d5ff"/>
<rect x="476" y="70" width="11" height="11" fill="#47ffb8"/>
<rect x="486" y="70" width="11" height="11" fill="#47ffb8"/>
<rect x="496" y="70" width="11" height="11" fill="#00d5ff"/>
<rect x="506" y="70" width="11" height="11" fill="#00d5ff"/>
<rect x="516" y="70" width="11" height="11" fill="#00d5ff"/>
<rect x="526" y="70" width="11" height="11" fill="#ff6300"/>
<rect x="536" y="70" width="11" height="11" fill="#ff6300"/>
<rect x="546" y="70" width="11" height="11" fill="#ff6300"/>
<rect x="556" y="70" width="11" height="11" fill="#ff6300"/>
<rect x="566" y="70" width="11" height="11" fill="#ff6300"/>
<rect x="576" y="70" width="11" height="11" fill="#ff6300"/>
<rect x="326" y="80" width="11" height="11" fill="#00d5ff"/>
<rect x="336" y="80" width="11" height="11" fill="#00d5ff"/>
<rect x="346" y="80" width="11" height="11" fill="#00d5ff"/>
<rect x="356" y="80" width="11" height="11" fill="#00d5ff"/>
<rect x="366" y="80" width="11" height="11" fill="#00d5ff"/>
<rect x="376" y="80" width="11" height="11" fill="#00d5ff"/>
<rect x="386" y="80" width="11" height="11" fill="#00d5ff"/>
<rect x="396" y="80" width="11" height="11" fill="#00d5ff"/>
<rect x="406" y="80" width="11" height="11" fill="#00d5ff"/>
<rect x="416" y="80" width="11" height="11" fill="#ff6300"/>
<rect x="426" y="80" width="11" height="11" fill="#0000f1"/>
<rect x="436" y="80" width="11" height="11" fill="#0000f1"/>
<rect x="446" y="80" width="11" height="11" fill="none"/>
<rect x="456" y="80" width="11" height="11" fill="#0063ff"/>
<rect x="466" y="80" width="11" height="11" fill="#47ffb8"/>
<rect x="476" y="80" width="11" height="11" fill="#47ffb8"/>
<rect x="486" y="80" width="11" height="11" fill="#ffd400"/>
<rect x="496" y="80" width="11" height="11" fill="#ff6300"/>
<rect x="506" y="80" width="11" height="11" fill="#ffd400"/>
<rect x="516" y="80" width="11" height="11" fill="#b8ff47"/>
<rect x="526" y="80" width="11" height="11" fill="#f10000"/>
<rect x="536" y="80" width="11" height="11" fill="#ff6300"/>
<rect x="546" y="80" width="11" height="11" fill="#ff6300"/>
<rect x="556" y="80" width="11" height="11" fill="#ff6300"/>
<rect x="566" y="80" width="11" height="11" fill="#ff6300"/>
<rect x="576" y="80" width="11" height="11" fill="#ff6300"/>
<rect x="326" y="90" width="11" height="11" fill="#b8ff47"/>
<rect x="336" y="90" width="11" height="11" fill="#b8ff47"/>
<rect x="346" y="90" width="11" height="11" fill="#b8ff47"/>
<rect x="356" y="90" width="11" height="11" fill="#b8ff47"/>
<rect x="366" y="90" width="11" height="11" fill="#b8ff47"/>
<rect x="376" y="90" width="11" height="11" fill="#b8ff47"/>
<rect x="386" y="90" width="11" height="11" fill="#b8ff47"/>
<rect x="396" y="90" width="11" height="11" fill="#ff6300"/>
<rect x="406" y="90" width="11" height="11" fill="#ff6300"/>
<rect x="416" y="90" width="11" height="11" fill="#ff6300"/>
<rect x="426" y="90" width="11" height="11" fill="#ffd400"/>
<rect x="436" y="90" width="11" height="11" fill="#ff6300"/>
<rect x="446" y="90" width="11" height="11" fill="none"/>
<rect x="456" y="90" width="11" height="11" fill="#f10000"/>
<rect x="466" y="90" width="11" height="11" fill="#47ffb8"/>
<rect x="476" y="90" width="11" height="11" fill="#ff6300"/>
<rect x="486" y="90" width="11" height="11" fill="#f10000"/>
<rect x="496" y="90" width="11" height="11" fill="#f10000"/>
<rect x="506" y="90" width="11" height="11" fill="#ff6300"/>
<rect x="516" y="90" width="11" height="11" fill="#ff6300"/>
<rect x="526" y="90" width="11" height="11" fill="#f10000"/>
<rect x="536" y="90" width="11" height="11" fill="#f10000"/>
<rect x="546" y="90" width="11" height="11" fill="#f10000"/>
<rect x="556" y="90" width="11" height="11" fill="#f10000"/>
<rect x="566" y="90" width="11" height="11" fill="#f10000"/>
<rect x="576" y="90" width="11" height="11" fill="#f10000"/>
<rect x="326" y="100" width="11" height="11" fill="#f10000"/>
<rect x="336" y="100" width="11" height="11" fill="#f10000"/>
<rect x="346" y="100" width="11" height="11" fill="#f10000"/>
<rect x="356" y="100" width="11" height="11" fill="#f10000"/>
<rect x="366" y="100" width="11" height="11" fill="#ffd400"/>
<rect x="376" y="100" width="11" height="11" fill="#ffd400"/>
<rect x="386" y="100" width="11" height="11" fill="#f10000"/>
<rect x="396" y="100" width="11" height="11" fill="#f10000"/>
<rect x="406" y="100" width="11" height="11" fill="#f10000"/>
<rect x="416" y="100" width="11" height="11" fill="#f10000"/>
<rect x="426" y="100" width="11" height="11" fill="#f10000"/>
<rect x="436" y="100" width="11" height="11" fill="#f10000"/>
<rect x="446" y="100" width="11" height="11" fill="#f10000"/>
<rect x="456" y="100" width="11" height="11" fill="#f10000"/>
<rect x="466" y="100" width="11" height="11" fill="#f10000"/>
<rect x="476" y="100" width="11" height="11" fill="#f10000"/>
<rect x="486" y="100" width="11" height="11" fill="#f10000"/>
<rect x="496" y="100" width="11" height="11" fill="#f10000"/>
<rect x="506" y="100" width="11" height="11" fill="#f10000"/>
<rect x="516" y="100" width="11" height="11" fill="#f10000"/>
<rect x="526" y="100" width="11" height="11" fill="#f10000"/>
<rect x="536" y="100" width="11" height="11" fill="#f10000"/>
<rect x="546" y="100" width="11" height="11" fill="#f10000"/>
<rect x="556" y="100" width="11" height="11" fill="#f10000"/>
<rect x="566" y="100" width="11" height="11" fill="#f10000"/>
<rect x="576" y="100" width="11" height="11" fill="#f10000"/>
<rect x="326" y="110" width="11" height="11" fill="#f10000"/>
<rect x="336" y="110" width="11" height="11" fill="#f10000"/>
<rect x="346" y="110" width="11" height="11" fill="#f10000"/>
<rect x="356" y="110" width="11" height="11" fill="#f10000"/>
<rect x="366" y="110" width="11" height="11" fill="#f10000"/>
<rect x="376" y="110" width="11" height="11" fill="#f10000"/>
<rect x="386" y="110" width="11" height="11" fill="#f10000"/>
<rect x="396" y="110" width="11" height="11" fill="#f10000"/>
<rect x="406" y="110" width="11" height="11" fill="#f10000"/>
<rect x="416" y="110" width="11" height="11" fill="#f10000"/>
<rect x="426" y="110" width="11" height="11" fill="#f10000"/>
<rect x="436" y="110" width="11" height="11" fill="#a80000"/>
<rect x="446" y="110" width="11" height="11" fill="#a80000"/>
<rect x="456" y="110" width="11" height="11" fill="#a80000"/>
<rect x="466" y="110" width="11" height="11" fill="#a80000"/>
<rect x="476" y="110" width="11" height="11" fill="#f10000"/>
<rect x="486" y="110" width="11" height="11" fill="#f10000"/>
<rect x="496" y="110" width="11" height="11" fill="#f10000"/>
<rect x="506" y="110" width="11" height="11" fill="#f10000"/>
<rect x="516" y="110" width="11" height="11" fill="#a80000"/>
<rect x="526" y="110" width="11" height="11" fill="#f10000"/>
<rect x="536" y="110" width="11" height="11" fill="#f10000"/>
<rect x="546" y="110" width="11" height="11" fill="#f10000"/>
<rect x="556" y="110" width="11" height="11" fill="#f10000"/>
<rect x="566" y="110" width="11" height="11" fill="#f10000"/>
<rect x="576" y="110" width="11" height="11" fill="#f10000"/>
<rect x="326" y="120" width="11" height="11" fill="#f10000"/>
<rect x="336" y="120" width="11" height="11" fill="#f10000"/>
<rect x="346" y="120" width="11" height="11" fill="#f10000"/>
<rect x="356" y="120" width="11" height="11" fill="#f10000"/>
<rect x="366" y="120" width="11" height="11" fill="#f10000"/>
<rect x="376" y="120" width="11" height="11" fill="#f10000"/>
<rect x="386" y="120" width="11" height="11" fill="#f10000"/>
<rect x="396" y="120" width="11" height="11" fill="#f10000"/>
<rect x="406" y="120" width="11" height="11" fill="#f10000"/>
<rect x="416" y="120" width="11" height="11" fill="#f10000"/>
<rect x="426" y="120" width="11" height="11" fill="#a80000"/>
<rect x="436" y="120" width="11" height="11" fill="#a80000"/>
<rect x="446" y="120" width="11" height="11" fill="#a80000"/>
<rect x="456" y="120" width="11" height="11" fill="#a80000"/>
<rect x="466" y="120" width="11" height="11" fill="#a80000"/>
<rect x="476" y="120" width="11" height="11" fill="#a80000"/>
<rect x="486" y="120" width="11" height="11" fill="#f10000"/>
<rect x="496" y="120" width="11" height="11" fill="#f10000"/>
<rect x="506" y="120" width="11" height="11" fill="#f10000"/>
<rect x="516" y="120" width="11" height="11" fill="#a80000"/>
<rect x="526" y="120" width="11" height="11" fill="#a80000"/>
<rect x="536" y="120" width="11" height="11" fill="#f10000"/>
<rect x="546" y="120" width="11" height="11" fill="#f10000"/>
<rect x="556" y="120" width="11" height="11" fill="#f10000"/>
<rect x="566" y="120" width="11" height="11" fill="#f10000"/>
<rect x="576" y="120" width="11" height="11" fill="#f10000"/>
<rect x="326" y="130" width="11" height="11" fill="#f10000"/>
<rect x="336" y="130" width="11" height="11" fill="#f10000"/>
<rect x="346" y="130" width="11" height="11" fill="#f10000"/>
<rect x="356" y="130" width="11" height="11" fill="#f10000"/>
<rect x="366" y="130" width="11" height="11" fill="#f10000"/>
<rect x="376" y="130" width="11" height="11" fill="#f10000"/>
<rect x="386" y="130" width="11" height="11" fill="#f10000"/>
<rect x="396" y="130" width="11" height="11" fill="#f10000"/>
<rect x="406" y="130" width="11" height="11" fill="#f10000"/>
<rect x="416" y="130" width="11" height="11" fill="#a80000"/>
<rect x="426" y="130" width="11" height="11" fill="#a80000"/>
<rect x="436" y="130" width="11" height="11" fill="#a80000"/>
<rect x="446" y="130" width="11" height="11" fill="#a80000"/>
<rect x="456" y="130" width="11" height="11" fill="#a80000"/>
<rect x="466" y="130" width="11" height="11" fill="#a80000"/>
<rect x="476" y="130" width="11" height="11" fill="#a80000"/>
<rect x="486" y="130" width="11" height="11" fill="#f10000"/>
<rect x="496" y="130" width="11" height="11" fill="#f10000"/>
<rect x="506" y="130" width="11" height="11" fill="#ff6300"/>
<rect x="516" y="130" width="11" height="11" fill="#a80000"/>
<rect x="526" y="130" width="11" height="11" fill="#a80000"/>
<rect x="536" y="130" width="11" height="11" fill="#f10000"/>
<rect x="546" y="130" width="11" height="11" fill="#f10000"/>
<rect x="556" y="130" width="11" height="11" fill="#f10000"/>
<rect x="566" y="130" width="11" height="11" fill="#f10000"/>
<rect x="576" y="130" width="11" height="11" fill="#f10000"/>
<rect x="326" y="140" width="11" height="11" fill="#ff6300"/>
<rect x="336" y="140" width="11" height="11" fill="#ff6300"/>
<rect x="346" y="140" width="11" height="11" fill="#ff6300"/>
<rect x="356" y="140" width="11" height="11" fill="#ff6300"/>
<rect x="366" y="140" width="11" height="11" fill="#f10000"/>
<rect x="376" y="140" width="11" height="11" fill="#f10000"/>
<rect x="386" y="140" width="11" height="11" fill="#f10000"/>
<rect x="396" y="140" width="11" height="11" fill="#f10000"/>
<rect x="406" y="140" width="11" height="11" fill="#f10000"/>
<rect x="416" y="140" width="11" height="11" fill="#f10000"/>
<rect x="426" y="140" width="11" height="11" fill="#a80000"/>
<rect x="436" y="140" width="11" height="11" fill="#a80000"/>
<rect x="446" y="140" width="11" height="11" fill="#a80000"/>
<rect x="456" y="140" width="11" height="11" fill="#a80000"/>
<rect x="466" y="140" width="11" height="11" fill="#a80000"/>
<rect x="476" y="140" width="11" height="11" fill="#f10000"/>
<rect x="486" y="140" width="11" height="11" fill="#f10000"/>
<rect x="496" y="140" width="11" height="11" fill="#f10000"/>
<rect x="506" y="140" width="11" height="11" fill="#ffd400"/>
<rect x="516" y="140" width="11" height="11" fill="#f10000"/>
<rect x="526" y="140" width="11" height="11" fill="#ff6300"/>
<rect x="536" y="140" width="11" height="11" fill="#f10000"/>
<rect x="546" y="140" width="11" height="11" fill="#f10000"/>
<rect x="556" y="140" width="11" height="11" fill="#f10000"/>
<rect x="566" y="140" width="11" height="11" fill="#f10000"/>
<rect x="576" y="140" width="11" height="11" fill="#f10000"/>
<rect x="326" y="150" width="11" height="11" fill="#ffd400"/>
<rect x="336" y="150" width="11" height="11" fill="#ffd400"/>
<rect x="346" y="150" width="11" height="11" fill="#ffd400"/>
<rect x="356" y="150" width="11" height="11" fill="#ffd400"/>
<rect x="366" y="150" width="11" height="11" fill="#ffd400"/>
<rect x="376" y="150" width="11" height="11" fill="#ffd400"/>
<rect x="386" y="150" width="11" height="11" fill="#ff6300"/>
<rect x="396" y="150" width="11" height="11" fill="#ffd400"/>
<rect x="406" y="150" width="11" height="11" fill="#ff6300"/>
<rect x="416" y="150" width="11" height="11" fill="#ff6300"/>
<rect x="426" y="150" width="11" height="11" fill="#ff6300"/>
<rect x="436" y="150" width="11" height="11" fill="#ff6300"/>
<rect x="446" y="150" width="11" height="11" fill="#f10000"/>
<rect x="456" y="150" width="11" height="11" fill="#f10000"/>
<rect x="466" y="150" width="11" height="11" fill="#f10000"/>
<rect x="476" y="150" width="11" height="11" fill="#ff6300"/>
<rect x="486" y="150" width="11" height="11" fill="#b8ff47"/>
<rect x="496" y="150" width="11" height="11" fill="#00d5ff"/>
<rect x="506" y="150" width="11" height="11" fill="#ffd400"/>
<rect x="516" y="150" width="11" height="11" fill="#f10000"/>
<rect x="526" y="150" width="11" height="11" fill="#ff6300"/>
<rect x="536" y="150" width="11" height="11" fill="#f10000"/>
<rect x="546" y="150" width="11" height="11" fill="#f10000"/>
<rect x="556" y="150" width="11" height="11" fill="#f10000"/>
<rect x="566" y="150" width="11" height="11" fill="#f10000"/>
<rect x="576" y="150" width="11" height="11" fill="#f10000"/>
<rect x="326" y="160" width="11" height="11" fill="#ffd400"/>
<rect x="336" y="160" width="11" height="11" fill="#ffd400"/>
<rect x="346" y="160" width="11" height="11" fill="#ffd400"/>
<rect x="356" y="160" width="11" height="11" fill="#ffd400"/>
<rect x="366" y="160" width="11" height="11" fill="none"/>
<rect x="376" y="160" width="11" height="11" fill="none"/>
<rect x="386" y="160" width="11" height="11" fill="#ffd400"/>
<rect x="396" y="160" width="11" height="11" fill="#b8ff47"/>
<rect x="406" y="160" width="11" height="11" fill="#b8ff47"/>
<rect x="416" y="160" width="11" height="11" fill="#b8ff47"/>
<rect x="426" y="160" width="11" height="11" fill="#ffd400"/>
<rect x="436" y="160" width="11" height="11" fill="#ffd400"/>
<rect x="446" y="160" width="11" height="11" fill="#ffd400"/>
<rect x="456" y="160" width="11" height="11" fill="#b8ff47"/>
<rect x="466" y="160" width="11" height="11" fill="#b8ff47"/>
<rect x="476" y="160" width="11" height="11" fill="#47ffb8"/>
<rect x="486" y="160" width="11" height="11" fill="#0063ff"/>
<rect x="496" y="160" width="11" height="11" fill="#00d5ff"/>
<rect x="506" y="160" width="11" height="11" fill="#ffd400"/>
<rect x="516" y="160" width="11" height="11" fill="#ff6300"/>
<rect x="526" y="160" width="11" height="11" fill="#f10000"/>
<rect x="536" y="160" width="11" height="11" fill="#f10000"/>
<rect x="546" y="160" width="11" height="11" fill="#f10000"/>
<rect x="556" y="160" width="11" height="11" fill="#f10000"/>
<rect x="566" y="160" width="11" height="11" fill="#f10000"/>
<rect x="576" y="160" width="11" height="11" fill="#f10000"/>
<rect x="326" y="170" width="11" height="11" fill="#0000f1"/>
<rect x="336" y="170" width="11" height="11" fill="#0000f1"/>
<rect x="346" y="170" width="11" height="11" fill="#0000f1"/>
<rect x="356" y="170" width="11" height="11" fill="#0000f1"/>
<rect x="366" y="170" width="11" height="11" fill="#0000f1"/>
<rect x="376" y="170" width="11" height="11" fill="none"/>
<rect x="386" y="170" width="11" height="11" fill="none"/>
<rect x="396" y="170" width="11" height="11" fill="none"/>
<rect x="406" y="170" width="11" height="11" fill="#0063ff"/>
<rect x="416" y="170" width="11" height="11" fill="none"/>
<rect x="426" y="170" width="11" height="11" fill="none"/>
<rect x="436" y="170" width="11" height="11" fill="none"/>
<rect x="446" y="170" width="11" height="11" fill="none"/>
<rect x="456" y="170" width="11" height="11" fill="none"/>
<rect x="466" y="170" width="11" height="11" fill="none"/>
<rect x="476" y="170" width="11" height="11" fill="#47ffb8"/>
<rect x="486" y="170" width="11" height="11" fill="#0063ff"/>
<rect x="496" y="170" width="11" height="11" fill="#0000f1"/>
<rect x="506" y="170" width="11" height="11" fill="#ff6300"/>
<rect x="516" y="170" width="11" height="11" fill="#ff6300"/>
<rect x="526" y="170" width="11" height="11" fill="#f10000"/>
<rect x="536" y="170" width="11" height="11" fill="#f10000"/>
<rect x="546" y="170" width="11" height="11" fill="#f10000"/>
<rect x="556" y="170" width="11" height="11" fill="#f10000"/>
<rect x="566" y="170" width="11" height="11" fill="#f10000"/>
<rect x="576" y="170" width="11" height="11" fill="#f10000"/>
<rect x="326" y="180" width="11" height="11" fill="#0000f1"/>
<rect x="336" y="180" width="11" height="11" fill="#0000f1"/>
<rect x="346" y="180" width="11" height="11" fill="#0000f1"/>
<rect x="356" y="180" width="11" height="11" fill="#0000f1"/>
<rect x="366" y="180" width="11" height="11" fill="#0000f1"/>
<rect x="376" y="180" width="11" height="11" fill="none"/>
<rect x="386" y="180" width="11" height="11" fill="none"/>
<rect x="396" y="180" width="11" height="11" fill="none"/>
<rect x="406" y="180" width="11" height="11" fill="none"/>
<rect x="416" y="180" width="11" height="11" fill="none"/>
<rect x="426" y="180" width="11" height="11" fill="none"/>
<rect x="436" y="180" width="11" height="11" fill="none"/>
<rect x="446" y="180" width="11" height="11" fill="none"/>
<rect x="456" y="180" width="11" height="11" fill="none"/>
<rect x="466" y="180" width="11" height="11" fill="none"/>
<rect x="476" y="180" width="11" height="11" fill="#47ffb8"/>
<rect x="486" y="180" width="11" height="11" fill="#00d5ff"/>
<rect x="496" y="180" width="11" height="11" fill="#00d5ff"/>
<rect x="506" y="180" width="11" height="11" fill="#0000f1"/>
<rect x="516" y="180" width="11" height="11" fill="#ff6300"/>
<rect x="526" y="180" width="11" height="11" fill="#f10000"/>
<rect x="536" y="180" width="11" height="11" fill="#f10000"/>
<rect x="546" y="180" width="11" height="11" fill="#f10000"/>
<rect x="556" y="180" width="11" height="11" fill="#f10000"/>
<rect x="566" y="180" width="11" height="11" fill="#f10000"/>
<rect x="576" y="180" width="11" height="11" fill="#f10000"/>
<rect x="326" y="190" width="11" height="11" fill="#0000f1"/>
<rect x="336" y="190" width="11" height="11" fill="#0000f1"/>
<rect x="346" y="190" width="11" height="11" fill="#0000f1"/>
<rect x="356" y="190" width="11" height="11" fill="#0000f1"/>
<rect x="366" y="190" width="11" height="11" fill="#0000f1"/>
<rect x="376" y="190" width="11" height="11" fill="none"/>
<rect x="386" y="190" width="11" height="11" fill="none"/>
<rect x="396" y="190" width="11" height="11" fill="none"/>
<rect x="406" y="190" width="11" height="11" fill="none"/>
<rect x="416" y="190" width="11" height="11" fill="none"/>
<rect x="426" y="190" width="11" height="11" fill="none"/>
<rect x="436" y="190" width="11" height="11" fill="none"/>
<rect x="446" y="190" width="11" height="11" fill="none"/>
<rect x="456" y="190" width="11" height="11" fill="none"/>
<rect x="466" y="190" width="11" height="11" fill="none"/>
<rect x="476" y="190" width="11" height="11" fill="#47ffb8"/>
<rect x="486" y="190" width="11" height="11" fill="#00d5ff"/>
<rect x="496" y="190" width="11" height="11" fill="#00d5ff"/>
<rect x="506" y="190" width="11" height="11" fill="#0000f1"/>
<rect x="516" y="190" width="11" height="11" fill="#0000f1"/>
<rect x="526" y="190" width="11" height="11" fill="#0000f1"/>
<rect x="536" y="190" width="11" height="11" fill="#0000f1"/>
<rect x="546" y="190" width="11" height="11" fill="#0000f1"/>
<rect x="556" y="190" width="11" height="11" fill="#0000f1"/>
<rect x="566" y="190" width="11" height="11" fill="#0000f1"/>
<rect x="576" y="190" width="11" height="11" fill="#0000f1"/>
<rect x="326" y="200" width="11" height="11" fill="#0000f1"/>
<rect x="336" y="200" width="11" height="11" fill="#0000f1"/>
<rect x="346" y="200" width="11" height="11" fill="#0000f1"/>
<rect x="356" y="200" width="11" height="11" fill="#0000f1"/>
<rect x="366" y="200" width="11" height="11" fill="#0000f1"/>
<rect x="376" y="200" width="11" height="11" fill="none"/>
<rect x="386" y="200" width="11" height="11" fill="none"/>
<rect x="396" y="200" width="11" height="11" fill="none"/>
<rect x="406" y="200" width="11" height="11" fill="none"/>
<rect x="416" y="200" width="11" height="11" fill="none"/>
<rect x="426" y="200" width="11" height="11" fill="none"/>
<rect x="436" y="200" width="11" height="11" fill="none"/>
<rect x="446" y="200" width="11" height="11" fill="none"/>
<rect x="456" y="200" width="11" height="11" fill="none"/>
<rect x="466" y="200" width="11" height="11" fill="none"/>
<rect x="476" y="200" width="11" height="11" fill="#47ffb8"/>
<rect x="486" y="200" width="11" height="11" fill="#00d5ff"/>
<rect x="496" y="200" width="11" height="11" fill="#00d5ff"/>
<rect x="506" y="200" width="11" height="11" fill="#0000f1"/>
<rect x="516" y="200" width="11" height="11" fill="#0000f1"/>
<rect x="526" y="200" width="11" height="11" fill="#0000f1"/>
<rect x="536" y="200" width="11" height="11" fill="#0000f1"/>
<rect x="546" y="200" width="11" height="11" fill="#0000f1"/>
<rect x="556" y="200" width="11" height="11" fill="#0000f1"/>
<rect x="566" y="200" width="11" height="11" fill="#0000f1"/>
<rect x="576" y="200" width="11" height="11" fill="#0000f1"/>
<rect x="326" y="210" width="11" height="11" fill="#0000f1"/>
<rect x="336" y="210" width="11" height="11" fill="#0000f1"/>
<rect x="346" y="210" width="11" height="11" fill="#0000f1"/>
<rect x="356" y="210" width="11" height="11" fill="#0000f1"/>
<rect x="366" y="210" width="11" height="11" fill="#0000f1"/>
<rect x="376" y="210" width="11" height="11" fill="none"/>
<rect x="386" y="210" width="11" height="11" fill="none"/>
<rect x="396" y="210" width="11" height="11" fill="none"/>
<rect x="406" y="210" width="11" height="11" fill="none"/>
<rect x="416" y="210" width="11" height="11" fill="none"/>
<rect x="426" y="210" width="11" height="11" fill="none"/>
<rect x="436" y="210" width="11" height="11" fill="none"/>
<rect x="446" y="210" width="11" height="11" fill="none"/>
<rect x="456" y="210" width="11" height="11" fill="none"/>
<rect x="466" y="210" width="11" height="11" fill="none"/>
<rect x="476" y="210" width="11" height="11" fill="#47ffb8"/>
<rect x="486" y="210" width="11" height="11" fill="#00d5ff"/>
<rect x="496" y="210" width="11" height="11" fill="#00d5ff"/>
<rect x="506" y="210" width="11" height="11" fill="#0000f1"/>
<rect x="516" y="210" width="11" height="11" fill="#0000f1"/>
<rect x="526" y="210" width="11" height="11" fill="#0000f1"/>
<rect x="536" y="210" width="11" height="11" fill="#0000f1"/>
<rect x="546" y="210" width="11" height="11" fill="#0000f1"/>
<rect x="556" y="210" width="11" height="11" fill="#0000f1"/>
<rect x="566" y="210" width="11" height="11" fill="#0000f1"/>
<rect x="576" y="210" width="11" height="11" fill="#0000f1"/></g>
<mask id="spB1" maskUnits="userSpaceOnUse" x="0" y="0" width="567" height="240"><g filter="url(#bl)"><rect x="346" y="20" width="10" height="10" fill="#fff"/><rect x="356" y="20" width="10" height="10" fill="#fff"/><rect x="366" y="20" width="10" height="10" fill="#fff"/><rect x="376" y="20" width="10" height="10" fill="#fff"/><rect x="386" y="20" width="10" height="10" fill="#fff"/><rect x="396" y="20" width="10" height="10" fill="#fff"/><rect x="406" y="20" width="10" height="10" fill="#fff"/><rect x="416" y="20" width="10" height="10" fill="#fff"/><rect x="426" y="20" width="10" height="10" fill="#fff"/><rect x="436" y="20" width="10" height="10" fill="#fff"/><rect x="446" y="20" width="10" height="10" fill="#fff"/><rect x="466" y="20" width="10" height="10" fill="#fff"/><rect x="486" y="20" width="10" height="10" fill="#fff"/><rect x="516" y="20" width="10" height="10" fill="#fff"/><rect x="526" y="20" width="10" height="10" fill="#fff"/><rect x="536" y="20" width="10" height="10" fill="#fff"/><rect x="546" y="20" width="10" height="10" fill="#fff"/><rect x="556" y="20" width="10" height="10" fill="#fff"/><rect x="346" y="30" width="10" height="10" fill="#fff"/><rect x="356" y="30" width="10" height="10" fill="#fff"/><rect x="366" y="30" width="10" height="10" fill="#fff"/><rect x="376" y="30" width="10" height="10" fill="#fff"/><rect x="386" y="30" width="10" height="10" fill="#fff"/><rect x="396" y="30" width="10" height="10" fill="#fff"/><rect x="406" y="30" width="10" height="10" fill="#fff"/><rect x="416" y="30" width="10" height="10" fill="#fff"/><rect x="426" y="30" width="10" height="10" fill="#fff"/><rect x="436" y="30" width="10" height="10" fill="#fff"/><rect x="446" y="30" width="10" height="10" fill="#fff"/><rect x="456" y="30" width="10" height="10" fill="#fff"/><rect x="466" y="30" width="10" height="10" fill="#fff"/><rect x="486" y="30" width="10" height="10" fill="#fff"/><rect x="496" y="30" width="10" height="10" fill="#fff"/><rect x="506" y="30" width="10" height="10" fill="#fff"/><rect x="516" y="30" width="10" height="10" fill="#fff"/><rect x="526" y="30" width="10" height="10" fill="#fff"/><rect x="346" y="40" width="10" height="10" fill="#fff"/><rect x="356" y="40" width="10" height="10" fill="#fff"/><rect x="366" y="40" width="10" height="10" fill="#fff"/><rect x="376" y="40" width="10" height="10" fill="#fff"/><rect x="386" y="40" width="10" height="10" fill="#fff"/><rect x="396" y="40" width="10" height="10" fill="#fff"/><rect x="406" y="40" width="10" height="10" fill="#fff"/><rect x="416" y="40" width="10" height="10" fill="#fff"/><rect x="426" y="40" width="10" height="10" fill="#fff"/><rect x="436" y="40" width="10" height="10" fill="#fff"/><rect x="456" y="40" width="10" height="10" fill="#fff"/><rect x="466" y="40" width="10" height="10" fill="#fff"/><rect x="476" y="40" width="10" height="10" fill="#fff"/><rect x="486" y="40" width="10" height="10" fill="#fff"/><rect x="346" y="50" width="10" height="10" fill="#fff"/><rect x="356" y="50" width="10" height="10" fill="#fff"/><rect x="366" y="50" width="10" height="10" fill="#fff"/><rect x="376" y="50" width="10" height="10" fill="#fff"/><rect x="386" y="50" width="10" height="10" fill="#fff"/><rect x="396" y="50" width="10" height="10" fill="#fff"/><rect x="406" y="50" width="10" height="10" fill="#fff"/><rect x="416" y="50" width="10" height="10" fill="#fff"/><rect x="426" y="50" width="10" height="10" fill="#fff"/><rect x="436" y="50" width="10" height="10" fill="#fff"/><rect x="446" y="50" width="10" height="10" fill="#fff"/><rect x="456" y="50" width="10" height="10" fill="#fff"/><rect x="466" y="50" width="10" height="10" fill="#fff"/><rect x="486" y="50" width="10" height="10" fill="#fff"/><rect x="346" y="60" width="10" height="10" fill="#fff"/><rect x="356" y="60" width="10" height="10" fill="#fff"/><rect x="366" y="60" width="10" height="10" fill="#fff"/><rect x="376" y="60" width="10" height="10" fill="#fff"/><rect x="386" y="60" width="10" height="10" fill="#fff"/><rect x="406" y="60" width="10" height="10" fill="#fff"/><rect x="416" y="60" width="10" height="10" fill="#fff"/><rect x="426" y="60" width="10" height="10" fill="#fff"/><rect x="446" y="60" width="10" height="10" fill="#fff"/><rect x="456" y="60" width="10" height="10" fill="#fff"/><rect x="466" y="60" width="10" height="10" fill="#fff"/><rect x="486" y="60" width="10" height="10" fill="#fff"/><rect x="406" y="70" width="10" height="10" fill="#fff"/><rect x="416" y="70" width="10" height="10" fill="#fff"/><rect x="426" y="70" width="10" height="10" fill="#fff"/><rect x="436" y="70" width="10" height="10" fill="#fff"/><rect x="446" y="70" width="10" height="10" fill="#fff"/><rect x="456" y="70" width="10" height="10" fill="#fff"/><rect x="426" y="80" width="10" height="10" fill="#fff"/><rect x="436" y="80" width="10" height="10" fill="#fff"/><rect x="456" y="80" width="10" height="10" fill="#fff"/><rect x="486" y="160" width="10" height="10" fill="#fff"/><rect x="346" y="170" width="10" height="10" fill="#fff"/><rect x="356" y="170" width="10" height="10" fill="#fff"/><rect x="366" y="170" width="10" height="10" fill="#fff"/><rect x="406" y="170" width="10" height="10" fill="#fff"/><rect x="486" y="170" width="10" height="10" fill="#fff"/><rect x="496" y="170" width="10" height="10" fill="#fff"/><rect x="346" y="180" width="10" height="10" fill="#fff"/><rect x="356" y="180" width="10" height="10" fill="#fff"/><rect x="366" y="180" width="10" height="10" fill="#fff"/><rect x="506" y="180" width="10" height="10" fill="#fff"/><rect x="346" y="190" width="10" height="10" fill="#fff"/><rect x="356" y="190" width="10" height="10" fill="#fff"/><rect x="366" y="190" width="10" height="10" fill="#fff"/><rect x="506" y="190" width="10" height="10" fill="#fff"/><rect x="516" y="190" width="10" height="10" fill="#fff"/><rect x="526" y="190" width="10" height="10" fill="#fff"/><rect x="536" y="190" width="10" height="10" fill="#fff"/><rect x="546" y="190" width="10" height="10" fill="#fff"/><rect x="556" y="190" width="10" height="10" fill="#fff"/></g></mask><rect x="326" y="0" width="260" height="220" fill="url(#spk)" mask="url(#spB1)" opacity="0.90"/>
<polyline points="355.8,148.4 357.3,150.0 357.8,152.2 357.7,154.5 358.6,156.5 360.9,158.8 362.9,160.5 365.1,163.3 366.2,166.2 368.1,169.0 371.0,170.7 372.5,172.4 377.6,176.1 380.8,177.9 386.2,176.1 390.1,175.4 392.6,175.8 395.0,176.8 399.7,174.7 402.3,173.8 404.6,172.7 406.7,172.3 409.3,172.0 412.6,173.3 414.2,175.0 416.0,178.1 418.6,177.5 421.9,177.5 423.8,178.9 425.3,179.2" fill="none" stroke="#0010e0" stroke-width="1.8" stroke-linejoin="round"/>
</g></g>
<g clip-path="url(#cfB)" fill="none" stroke="#555" stroke-width="0.6" stroke-linejoin="round">
<polygon points="335.4,190.3 359.9,19.5 421.3,19.5 421.3,21.0 421.8,22.5 422.2,24.6 422.4,26.0 424.8,27.3 428.1,26.5 430.3,24.9 432.1,23.6 433.0,22.3 433.5,24.1 433.8,25.7 435.1,28.1 435.7,29.9 437.1,31.3 437.2,33.6 439.8,34.3 440.2,33.4 440.9,32.0 443.5,32.0 444.9,29.1 445.6,26.2 447.3,24.9 449.2,23.6 449.4,22.0 449.0,20.5 447.2,19.5 455.0,19.5 455.4,20.7 456.4,22.0 459.6,21.7 462.7,21.5 466.7,20.7 470.9,21.5 473.5,22.3 470.0,23.1 465.8,23.3 462.1,23.6 459.6,24.6 459.9,26.5 461.4,28.3 461.0,29.9 457.6,28.6 455.7,28.3 454.4,31.3 454.7,33.4 453.6,35.2 452.3,36.0 451.4,36.9 449.5,36.9 448.8,35.8 445.6,36.3 442.5,37.4 439.6,37.9 437.7,37.1 435.0,37.7 432.4,37.9 432.7,36.9 430.6,35.8 430.2,33.9 431.5,32.0 431.6,31.0 432.1,29.9 432.4,28.1 428.0,29.7 426.8,31.3 426.6,33.9 427.6,35.5 428.1,36.6 427.6,38.2 426.2,39.0 423.8,39.3 421.6,39.6 419.3,40.1 418.7,40.9 418.1,42.3 417.0,43.4 415.5,44.7 414.4,45.3 412.9,46.0 411.6,46.2 410.6,48.5 407.6,49.6 406.4,50.5 404.5,50.7 403.5,49.8 403.4,52.0 402.3,52.6 400.0,52.1 396.6,52.7 395.9,53.2 396.8,54.6 398.5,55.2 400.7,56.3 402.0,58.5 403.1,61.0 402.7,63.8 401.8,66.9 398.5,67.2 396.4,67.0 391.5,66.7 387.3,66.3 385.6,67.2 383.4,68.6 384.2,70.5 384.1,73.6 383.1,76.7 381.3,80.4 382.6,81.0 382.7,82.7 382.0,85.2 384.6,85.2 385.9,84.6 388.2,85.8 389.9,88.0 389.6,88.3 389.1,88.6 388.2,90.3 387.0,92.9 384.4,94.8 382.1,96.0 379.8,98.5 378.4,100.8 378.5,103.9 376.6,106.8 374.4,109.3 369.8,111.0 368.3,113.6 365.4,116.2 363.8,119.8 361.2,123.0 360.1,126.4 358.1,129.8 357.9,131.2 359.2,132.9 359.3,135.2 360.0,138.9 358.9,143.4 358.4,145.4 355.8,148.4 357.3,150.0 357.8,152.2 357.7,154.5 358.6,156.5 360.9,158.8 362.9,160.5 365.1,163.3 366.2,166.2 368.1,169.0 371.0,170.7 372.5,172.4 377.6,176.1 380.8,177.9 386.2,176.1 390.1,175.4 392.6,175.8 395.0,176.8 399.7,174.7 402.3,173.8 404.6,172.7 406.7,172.3 409.3,172.0 412.6,173.3 414.2,175.0 416.0,178.1 418.6,177.5 421.9,177.5 423.8,178.9 425.3,179.2 426.1,182.3 425.8,184.6 425.3,187.5 424.8,189.2 424.2,190.3 424.0,190.3"/>
<polygon points="389.9,88.0 393.0,86.1 396.4,85.9 398.6,86.1 401.7,83.5 402.8,81.5 404.6,80.1 403.6,78.1 405.7,75.3 407.6,73.6 410.0,72.8 412.6,70.3 412.5,68.3 414.7,67.2 416.6,67.2 418.0,67.4 419.4,68.0 421.8,66.9 422.5,66.3 426.4,64.4 428.4,65.2 429.5,66.6 430.2,68.6 431.5,70.0 434.0,71.9 435.9,73.3 438.5,74.5 440.8,76.2 442.5,78.1 443.2,79.8 441.8,81.7 442.4,82.4 444.1,81.2 445.3,79.5 445.1,78.4 444.2,76.4 445.6,75.4 447.5,76.7 448.3,77.3 447.4,74.9 444.9,73.6 442.8,71.4 440.7,70.8 437.0,66.6 435.0,65.2 434.6,62.7 434.4,61.6 436.8,60.7 437.8,60.9 437.4,61.8 438.1,63.2 439.3,61.8 441.1,65.2 443.8,66.9 447.8,69.3 450.2,70.8 451.0,73.1 450.9,75.3 452.3,77.8 454.0,79.8 456.6,81.5 455.4,83.5 456.4,85.8 458.1,86.6 459.3,85.2 460.0,83.5 461.2,82.5 462.2,81.2 459.3,78.7 458.5,75.3 461.4,76.7 462.8,74.2 466.4,74.3 468.1,75.6 466.9,78.1 468.9,79.8 467.5,81.2 469.4,81.2 469.7,83.8 472.2,85.8 474.4,86.3 475.7,87.5 478.3,85.5 481.5,86.6 484.0,87.8 485.7,87.5 487.8,85.8 490.7,85.8 491.7,86.3 491.1,88.3 490.9,89.5 491.3,92.3 490.4,94.0 489.5,96.3 489.3,97.1 488.8,99.1 488.0,100.8 486.6,101.9 482.8,101.5 480.6,100.8 478.3,100.8 476.9,101.7 474.7,102.5 470.2,101.2 465.2,100.5 462.2,99.1 458.5,96.8 456.0,97.1 453.0,98.5 452.4,99.1 452.1,102.2 450.6,104.2 448.6,103.7 443.4,101.7 440.4,98.5 437.7,97.1 435.5,96.8 431.8,96.3 430.2,94.3 428.0,94.0 429.7,91.7 430.3,89.2 429.4,88.6 429.4,86.9 430.6,85.1 428.3,84.6 427.6,84.4 424.6,85.5 422.7,85.5 419.3,85.5 416.1,86.3 411.3,85.8 408.5,86.6 404.0,88.3 402.0,88.9 399.5,90.0 398.0,90.6 396.1,90.0 392.9,90.3 390.5,89.2 390.4,88.3"/>
<polygon points="473.9,73.3 471.0,71.9 470.0,69.7 470.9,67.7 472.5,64.9 474.9,62.1 477.0,58.5 478.8,58.2 481.2,59.6 481.3,61.3 482.5,62.1 483.8,64.4 486.1,63.2 488.1,62.7 490.6,61.6 487.5,59.9 488.5,58.2 492.5,56.8 496.4,56.6 494.3,59.3 491.8,61.8 493.1,63.5 498.5,66.6 503.1,69.7 503.6,72.2 499.9,73.9 492.7,73.1 491.0,73.1 488.3,71.1 484.3,71.9 479.6,73.1 476.1,73.3"/>
<polygon points="473.7,73.9 470.2,74.2 468.3,75.3 467.8,75.9 469.7,75.6 473.3,75.6 475.2,74.7"/>
<polygon points="524.7,57.1 521.3,57.7 518.2,59.9 516.3,62.7 516.9,66.9 517.1,68.6 521.3,73.9 524.0,75.6 524.6,75.3 522.6,78.4 522.0,81.2 524.7,84.1 528.8,85.8 532.4,85.5 534.7,84.4 534.2,82.4 532.1,79.5 531.3,77.0 530.7,74.2 529.6,71.9 529.0,69.7 525.7,66.6 523.0,64.1 524.8,62.1 528.4,58.5 525.6,57.1"/>
<polygon points="545.6,58.0 543.7,59.9 541.5,62.7 542.0,65.5 542.9,66.6 544.2,63.8 546.3,61.3"/>
<polygon points="483.6,105.2 485.1,109.3 487.0,113.0 488.3,116.2 491.8,121.8 495.3,127.8 496.1,130.6 496.2,134.6 499.6,139.2 501.6,143.4 502.3,146.0 505.8,149.1 510.8,153.4 512.4,154.8 512.2,157.3 511.7,157.6 513.5,159.1 516.9,160.6 524.6,159.1 527.2,158.2 532.8,156.8 533.2,160.8 532.0,164.7 529.5,170.4 526.2,176.1 522.4,181.8 518.0,184.6 512.0,188.9 509.4,190.3 509.2,190.3 571.8,190.3 568.5,118.4 557.1,118.4 553.3,118.1 548.2,117.6 545.4,114.7 543.5,113.0 541.6,114.7 537.1,114.4 531.3,111.3 529.3,108.2 525.9,105.4 523.4,105.1 522.2,106.8 523.9,109.3 526.7,113.6 528.4,115.6 529.5,116.7 530.9,116.0 532.1,118.4 531.7,120.4 534.8,121.8 539.3,120.7 541.4,118.4 543.7,115.3 543.9,117.6 545.1,120.7 550.1,123.3 553.4,126.4 551.6,130.6 551.2,132.1 548.9,136.6 545.2,139.4 539.7,142.0 535.3,146.3 527.2,149.1 523.1,151.9 516.7,153.9 512.8,154.4 512.2,152.5 511.3,148.3 510.0,142.3 507.6,138.6 504.9,133.8 501.0,129.2 500.3,126.1 497.9,121.8 495.2,117.9 492.0,113.9 489.9,110.8 489.6,106.5 488.4,110.8 488.1,111.6 485.6,109.1"/>
<polygon points="404.0,25.7 399.8,25.7 397.6,28.3 396.3,30.7 397.2,33.1 398.2,34.4 397.8,35.5 401.0,36.0 401.6,37.7 401.6,39.6 398.2,39.8 398.0,41.2 397.3,43.1 396.4,44.2 398.9,44.5 400.6,45.0 398.2,45.5 396.6,47.2 394.4,48.7 397.9,48.0 399.8,47.2 403.0,46.9 405.7,46.6 408.2,46.6 410.7,45.8 410.8,45.0 409.8,43.9 411.5,43.1 411.9,41.5 409.1,40.8 408.6,39.3 408.2,37.7 406.4,36.3 405.6,34.2 403.7,32.6 403.6,31.8 404.4,30.7 406.0,28.6 403.2,28.1 401.6,27.6 404.0,25.7"/>
<polygon points="393.2,34.4 391.0,34.7 390.1,36.3 386.9,37.1 386.2,39.6 386.9,41.7 385.1,43.1 385.9,44.5 387.7,44.7 390.0,43.9 392.4,43.1 394.0,42.8 394.9,39.8 394.8,37.9 396.6,36.0 395.6,34.7"/>
<polygon points="436.4,32.3 436.3,33.4 435.4,34.7 434.3,35.2 433.1,33.9 434.2,32.8"/>
<polygon points="431.6,33.6 432.4,35.0 430.8,35.2 430.3,34.2"/>
<polygon points="450.2,27.6 449.7,29.4 448.5,29.9 449.3,28.1"/>
<polygon points="359.9,109.6 360.3,110.5 361.6,109.9 361.7,109.1"/>
<polygon points="362.8,110.2 363.0,111.3 363.6,110.5"/>
<polygon points="367.2,108.8 366.3,110.5 367.4,109.6"/>
<polygon points="368.6,107.3 367.8,108.2 368.8,107.9"/>
<polygon points="427.3,68.3 427.5,69.4 426.6,72.8 425.7,72.2 425.3,70.8 425.6,69.4"/>
<polygon points="426.6,73.2 427.9,75.3 427.3,79.0 424.9,79.8 424.5,77.0 424.1,75.0 425.6,73.9"/>
<polygon points="441.7,81.5 440.9,82.7 440.9,85.2 440.4,86.1 438.2,84.9 434.1,83.5 434.7,82.1 436.4,81.8 438.3,82.4"/>
<polygon points="461.1,89.2 461.1,90.3 464.1,90.9 467.5,90.9 467.7,90.0 464.5,89.7"/>
<polygon points="488.0,89.2 486.6,90.6 484.2,92.0 482.7,91.7 482.4,90.6 484.1,89.7 486.5,90.0"/>
<polygon points="411.8,77.0 412.5,77.8 411.5,78.7 410.1,77.8"/>
<polygon points="438.1,23.6 439.7,24.6 436.7,26.2 436.6,25.2"/>
<polygon points="441.4,24.9 439.8,27.8 440.7,27.0"/>
<polygon points="485.0,122.4 482.8,126.4 481.3,127.8 483.8,125.5"/>
<polygon points="507.6,79.8 505.9,81.5 509.2,81.0"/>
<polygon points="514.1,81.8 513.6,84.4 515.0,83.8"/>
<polygon points="496.9,155.4 496.7,157.3 497.7,156.8"/>
<polygon points="437.1,151.4 437.6,153.9 439.4,153.1 438.4,151.1"/>
<polygon points="473.9,20.0 475.1,22.0 478.2,21.2 476.9,19.5"/>
</g>
<polygon points="369.3,22.0 535.3,22.0 535.3,22.0 536.8,27.3 538.3,32.6 539.7,37.9 541.1,43.4 542.5,48.8 543.7,54.4 544.8,59.9 545.9,65.5 547.0,71.1 548.1,76.7 548.9,82.4 549.8,88.0 550.6,93.7 551.3,99.4 552.0,105.1 552.6,110.8 553.1,116.4 553.6,122.1 554.0,127.8 554.4,133.5 554.7,139.2 555.0,144.8 555.3,150.5 555.5,156.2 555.7,161.9 555.9,167.6 556.0,173.3 556.1,178.9 556.1,184.6 556.2,190.3 348.4,190.3 348.4,190.3 348.5,184.6 348.5,178.9 348.6,173.3 348.7,167.6 348.9,161.9 349.1,156.2 349.3,150.5 349.6,144.8 349.9,139.2 350.2,133.5 350.6,127.8 351.0,122.1 351.5,116.4 352.0,110.8 352.6,105.1 353.3,99.4 354.0,93.7 354.8,88.0 355.7,82.4 356.5,76.7 357.6,71.1 358.7,65.5 359.8,59.9 360.9,54.4 362.1,48.8 363.5,43.4 364.9,37.9 366.3,32.6 367.8,27.3 369.3,22.0" fill="none" stroke="#111" stroke-width="1.3"/>
<text x="344.12" y="27.00" font-size="9" font-family="Liberation Sans, sans-serif" fill="#111" stroke="#111" stroke-width="0.15">60</text><circle cx="356.38" cy="18.90" r="0.95" fill="none" stroke="#444" stroke-width="0.7"/><text x="360.23" y="27.00" font-size="9" font-family="Liberation Sans, sans-serif" fill="#111" stroke="#111" stroke-width="0.15">N</text>
<text x="336.92" y="53.81" font-size="9" font-family="Liberation Sans, sans-serif" fill="#111" stroke="#111" stroke-width="0.15">50</text><circle cx="349.18" cy="45.71" r="0.95" fill="none" stroke="#444" stroke-width="0.7"/><text x="353.03" y="53.81" font-size="9" font-family="Liberation Sans, sans-serif" fill="#111" stroke="#111" stroke-width="0.15">N</text>
<text x="331.34" y="81.71" font-size="9" font-family="Liberation Sans, sans-serif" fill="#111" stroke="#111" stroke-width="0.15">40</text><circle cx="343.60" cy="73.61" r="0.95" fill="none" stroke="#444" stroke-width="0.7"/><text x="347.45" y="81.71" font-size="9" font-family="Liberation Sans, sans-serif" fill="#111" stroke="#111" stroke-width="0.15">N</text>
<text x="327.35" y="110.07" font-size="9" font-family="Liberation Sans, sans-serif" fill="#111" stroke="#111" stroke-width="0.15">30</text><circle cx="339.61" cy="101.97" r="0.95" fill="none" stroke="#444" stroke-width="0.7"/><text x="343.46" y="110.07" font-size="9" font-family="Liberation Sans, sans-serif" fill="#111" stroke="#111" stroke-width="0.15">N</text>
<text x="325.04" y="138.48" font-size="9" font-family="Liberation Sans, sans-serif" fill="#111" stroke="#111" stroke-width="0.15">20</text><circle cx="337.30" cy="130.38" r="0.95" fill="none" stroke="#444" stroke-width="0.7"/><text x="341.15" y="138.48" font-size="9" font-family="Liberation Sans, sans-serif" fill="#111" stroke="#111" stroke-width="0.15">N</text>
<text x="323.67" y="166.89" font-size="9" font-family="Liberation Sans, sans-serif" fill="#111" stroke="#111" stroke-width="0.15">10</text><circle cx="335.93" cy="158.79" r="0.95" fill="none" stroke="#444" stroke-width="0.7"/><text x="339.78" y="166.89" font-size="9" font-family="Liberation Sans, sans-serif" fill="#111" stroke="#111" stroke-width="0.15">N</text>
<text x="330.00" y="194.60" font-size="9" font-family="Liberation Sans, sans-serif" fill="#111" stroke="#111" stroke-width="0.15">0</text><circle cx="337.25" cy="186.50" r="0.95" fill="none" stroke="#444" stroke-width="0.7"/>
<text x="336.10" y="202.40" font-size="9" font-family="Liberation Sans, sans-serif" fill="#111" stroke="#111" stroke-width="0.15">20</text><circle cx="348.35" cy="194.30" r="0.95" fill="none" stroke="#444" stroke-width="0.7"/><text x="352.21" y="202.40" font-size="9" font-family="Liberation Sans, sans-serif" fill="#111" stroke="#111" stroke-width="0.15">W</text>
<text x="362.07" y="202.40" font-size="9" font-family="Liberation Sans, sans-serif" fill="#111" stroke="#111" stroke-width="0.15">10</text><circle cx="374.33" cy="194.30" r="0.95" fill="none" stroke="#444" stroke-width="0.7"/><text x="378.18" y="202.40" font-size="9" font-family="Liberation Sans, sans-serif" fill="#111" stroke="#111" stroke-width="0.15">W</text>
<text x="396.05" y="202.40" font-size="9" font-family="Liberation Sans, sans-serif" fill="#111" stroke="#111" stroke-width="0.15">0</text><circle cx="403.30" cy="194.30" r="0.95" fill="none" stroke="#444" stroke-width="0.7"/>
<text x="415.27" y="202.40" font-size="9" font-family="Liberation Sans, sans-serif" fill="#111" stroke="#111" stroke-width="0.15">10</text><circle cx="427.53" cy="194.30" r="0.95" fill="none" stroke="#444" stroke-width="0.7"/><text x="431.38" y="202.40" font-size="9" font-family="Liberation Sans, sans-serif" fill="#111" stroke="#111" stroke-width="0.15">E</text>
<text x="441.24" y="202.40" font-size="9" font-family="Liberation Sans, sans-serif" fill="#111" stroke="#111" stroke-width="0.15">20</text><circle cx="453.50" cy="194.30" r="0.95" fill="none" stroke="#444" stroke-width="0.7"/><text x="457.35" y="202.40" font-size="9" font-family="Liberation Sans, sans-serif" fill="#111" stroke="#111" stroke-width="0.15">E</text>
<text x="467.22" y="202.40" font-size="9" font-family="Liberation Sans, sans-serif" fill="#111" stroke="#111" stroke-width="0.15">30</text><circle cx="479.48" cy="194.30" r="0.95" fill="none" stroke="#444" stroke-width="0.7"/><text x="483.33" y="202.40" font-size="9" font-family="Liberation Sans, sans-serif" fill="#111" stroke="#111" stroke-width="0.15">E</text>
<text x="493.19" y="202.40" font-size="9" font-family="Liberation Sans, sans-serif" fill="#111" stroke="#111" stroke-width="0.15">40</text><circle cx="505.45" cy="194.30" r="0.95" fill="none" stroke="#444" stroke-width="0.7"/><text x="509.30" y="202.40" font-size="9" font-family="Liberation Sans, sans-serif" fill="#111" stroke="#111" stroke-width="0.15">E</text>
<text x="519.17" y="202.40" font-size="9" font-family="Liberation Sans, sans-serif" fill="#111" stroke="#111" stroke-width="0.15">50</text><circle cx="531.43" cy="194.30" r="0.95" fill="none" stroke="#444" stroke-width="0.7"/><text x="535.28" y="202.40" font-size="9" font-family="Liberation Sans, sans-serif" fill="#111" stroke="#111" stroke-width="0.15">E</text>
<text x="545.14" y="202.40" font-size="9" font-family="Liberation Sans, sans-serif" fill="#111" stroke="#111" stroke-width="0.15">60</text><circle cx="557.40" cy="194.30" r="0.95" fill="none" stroke="#444" stroke-width="0.7"/><text x="561.25" y="202.40" font-size="9" font-family="Liberation Sans, sans-serif" fill="#111" stroke="#111" stroke-width="0.15">E</text>
<defs><linearGradient id="cbB1" x1="0" x2="1" y1="0" y2="0"><stop offset="0.000" stop-color="#800000"/><stop offset="0.031" stop-color="#9f0000"/><stop offset="0.062" stop-color="#bf0000"/><stop offset="0.094" stop-color="#df0000"/><stop offset="0.125" stop-color="#ff0000"/><stop offset="0.156" stop-color="#ff2000"/><stop offset="0.188" stop-color="#ff4000"/><stop offset="0.219" stop-color="#ff6000"/><stop offset="0.250" stop-color="#ff8000"/><stop offset="0.281" stop-color="#ff9f00"/><stop offset="0.312" stop-color="#ffbf00"/><stop offset="0.344" stop-color="#ffdf00"/><stop offset="0.375" stop-color="#ffff00"/><stop offset="0.406" stop-color="#dfff20"/><stop offset="0.438" stop-color="#bfff40"/><stop offset="0.469" stop-color="#9fff60"/><stop offset="0.500" stop-color="#80ff80"/><stop offset="0.531" stop-color="#60ff9f"/><stop offset="0.562" stop-color="#40ffbf"/><stop offset="0.594" stop-color="#20ffdf"/><stop offset="0.625" stop-color="#00ffff"/><stop offset="0.656" stop-color="#00dfff"/><stop offset="0.688" stop-color="#00bfff"/><stop offset="0.719" stop-color="#009fff"/><stop offset="0.750" stop-color="#0080ff"/><stop offset="0.781" stop-color="#0060ff"/><stop offset="0.812" stop-color="#0040ff"/><stop offset="0.844" stop-color="#0020ff"/><stop offset="0.875" stop-color="#0000ff"/><stop offset="0.906" stop-color="#0000df"/><stop offset="0.938" stop-color="#0000bf"/><stop offset="0.969" stop-color="#00009f"/><stop offset="1.000" stop-color="#000080"/></linearGradient></defs>
<rect x="352.4" y="213.3" width="191.5" height="5.0" fill="url(#cbB1)" stroke="#222" stroke-width="0.6"/>
<text x="352.4" y="229.5" text-anchor="middle" font-size="9" font-family="Liberation Sans, sans-serif" fill="#111">0</text>
<line x1="390.7" x2="390.7" y1="213.3" y2="214.9" stroke="#222" stroke-width="0.7"/>
<line x1="390.7" x2="390.7" y1="216.7" y2="218.3" stroke="#222" stroke-width="0.7"/>
<text x="390.7" y="229.5" text-anchor="middle" font-size="9" font-family="Liberation Sans, sans-serif" fill="#111">0.1</text>
<line x1="429.0" x2="429.0" y1="213.3" y2="214.9" stroke="#222" stroke-width="0.7"/>
<line x1="429.0" x2="429.0" y1="216.7" y2="218.3" stroke="#222" stroke-width="0.7"/>
<text x="429.0" y="229.5" text-anchor="middle" font-size="9" font-family="Liberation Sans, sans-serif" fill="#111">0.2</text>
<line x1="467.3" x2="467.3" y1="213.3" y2="214.9" stroke="#222" stroke-width="0.7"/>
<line x1="467.3" x2="467.3" y1="216.7" y2="218.3" stroke="#222" stroke-width="0.7"/>
<text x="467.3" y="229.5" text-anchor="middle" font-size="9" font-family="Liberation Sans, sans-serif" fill="#111">0.3</text>
<line x1="505.6" x2="505.6" y1="213.3" y2="214.9" stroke="#222" stroke-width="0.7"/>
<line x1="505.6" x2="505.6" y1="216.7" y2="218.3" stroke="#222" stroke-width="0.7"/>
<text x="505.6" y="229.5" text-anchor="middle" font-size="9" font-family="Liberation Sans, sans-serif" fill="#111">0.4</text>
<text x="543.9" y="229.5" text-anchor="middle" font-size="9" font-family="Liberation Sans, sans-serif" fill="#111">0.5</text>
</g>
<g transform="translate(0,485.2)">
<text x="-0.6" y="11.6" font-size="16" font-weight="bold" font-family="Liberation Serif, serif" fill="#000">(e)</text>
<line x1="61.9" y1="28.7" x2="49.6" y2="188.3" stroke="#c8c8d0" stroke-width="0.6" stroke-dasharray="2,1"/>
<line x1="103.5" y1="28.7" x2="96.6" y2="188.3" stroke="#c8c8d0" stroke-width="0.6" stroke-dasharray="2,1"/>
<line x1="145.1" y1="28.7" x2="143.7" y2="188.3" stroke="#c8c8d0" stroke-width="0.6" stroke-dasharray="2,1"/>
<line x1="186.7" y1="28.7" x2="190.8" y2="188.3" stroke="#c8c8d0" stroke-width="0.6" stroke-dasharray="2,1"/>
<line x1="228.3" y1="28.7" x2="237.9" y2="188.3" stroke="#c8c8d0" stroke-width="0.6" stroke-dasharray="2,1"/>
<line x1="34.0" y1="81.3" x2="277.0" y2="81.3" stroke="#c8c8d0" stroke-width="0.6" stroke-dasharray="2,1"/>
<line x1="28.9" y1="134.8" x2="282.1" y2="134.8" stroke="#c8c8d0" stroke-width="0.6" stroke-dasharray="2,1"/>
<g clip-path="url(#cfA)"><g mask="url(#mkA)">
<g filter="url(#bl)"><rect x="4" y="8" width="11" height="11" fill="#0000f1"/>
<rect x="14" y="8" width="11" height="11" fill="#0000f1"/>
<rect x="24" y="8" width="11" height="11" fill="#0000f1"/>
<rect x="34" y="8" width="11" height="11" fill="#0000f1"/>
<rect x="44" y="8" width="11" height="11" fill="#0000f1"/>
<rect x="54" y="8" width="11" height="11" fill="none"/>
<rect x="64" y="8" width="11" height="11" fill="none"/>
<rect x="74" y="8" width="11" height="11" fill="none"/>
<rect x="84" y="8" width="11" height="11" fill="none"/>
<rect x="94" y="8" width="11" height="11" fill="#0063ff"/>
<rect x="104" y="8" width="11" height="11" fill="#00d5ff"/>
<rect x="114" y="8" width="11" height="11" fill="#47ffb8"/>
<rect x="124" y="8" width="11" height="11" fill="#00d5ff"/>
<rect x="134" y="8" width="11" height="11" fill="#00d5ff"/>
<rect x="144" y="8" width="11" height="11" fill="#00d5ff"/>
<rect x="154" y="8" width="11" height="11" fill="#0063ff"/>
<rect x="164" y="8" width="11" height="11" fill="#0000f1"/>
<rect x="174" y="8" width="11" height="11" fill="#0000f1"/>
<rect x="184" y="8" width="11" height="11" fill="#0000f1"/>
<rect x="194" y="8" width="11" height="11" fill="#0000f1"/>
<rect x="204" y="8" width="11" height="11" fill="#0000f1"/>
<rect x="214" y="8" width="11" height="11" fill="none"/>
<rect x="224" y="8" width="11" height="11" fill="#0000f1"/>
<rect x="234" y="8" width="11" height="11" fill="#0063ff"/>
<rect x="244" y="8" width="11" height="11" fill="#0063ff"/>
<rect x="254" y="8" width="11" height="11" fill="#0000f1"/>
<rect x="264" y="8" width="11" height="11" fill="#0000f1"/>
<rect x="274" y="8" width="11" height="11" fill="#0000f1"/>
<rect x="284" y="8" width="11" height="11" fill="#0000f1"/>
<rect x="294" y="8" width="11" height="11" fill="#0000f1"/>
<rect x="304" y="8" width="11" height="11" fill="#0000f1"/>
<rect x="4" y="18" width="11" height="11" fill="#0000f1"/>
<rect x="14" y="18" width="11" height="11" fill="#0000f1"/>
<rect x="24" y="18" width="11" height="11" fill="#0000f1"/>
<rect x="34" y="18" width="11" height="11" fill="#0000f1"/>
<rect x="44" y="18" width="11" height="11" fill="#0000f1"/>
<rect x="54" y="18" width="11" height="11" fill="none"/>
<rect x="64" y="18" width="11" height="11" fill="none"/>
<rect x="74" y="18" width="11" height="11" fill="none"/>
<rect x="84" y="18" width="11" height="11" fill="none"/>
<rect x="94" y="18" width="11" height="11" fill="#0063ff"/>
<rect x="104" y="18" width="11" height="11" fill="#00d5ff"/>
<rect x="114" y="18" width="11" height="11" fill="#47ffb8"/>
<rect x="124" y="18" width="11" height="11" fill="#00d5ff"/>
<rect x="134" y="18" width="11" height="11" fill="#00d5ff"/>
<rect x="144" y="18" width="11" height="11" fill="#00d5ff"/>
<rect x="154" y="18" width="11" height="11" fill="#0063ff"/>
<rect x="164" y="18" width="11" height="11" fill="#0000f1"/>
<rect x="174" y="18" width="11" height="11" fill="#0000f1"/>
<rect x="184" y="18" width="11" height="11" fill="#0000f1"/>
<rect x="194" y="18" width="11" height="11" fill="#0000f1"/>
<rect x="204" y="18" width="11" height="11" fill="#0000f1"/>
<rect x="214" y="18" width="11" height="11" fill="none"/>
<rect x="224" y="18" width="11" height="11" fill="#0000f1"/>
<rect x="234" y="18" width="11" height="11" fill="#0063ff"/>
<rect x="244" y="18" width="11" height="11" fill="#0063ff"/>
<rect x="254" y="18" width="11" height="11" fill="#0000f1"/>
<rect x="264" y="18" width="11" height="11" fill="#0000f1"/>
<rect x="274" y="18" width="11" height="11" fill="#0000f1"/>
<rect x="284" y="18" width="11" height="11" fill="#0000f1"/>
<rect x="294" y="18" width="11" height="11" fill="#0000f1"/>
<rect x="304" y="18" width="11" height="11" fill="#0000f1"/>
<rect x="4" y="28" width="11" height="11" fill="#0000f1"/>
<rect x="14" y="28" width="11" height="11" fill="#0000f1"/>
<rect x="24" y="28" width="11" height="11" fill="#0000f1"/>
<rect x="34" y="28" width="11" height="11" fill="#0000f1"/>
<rect x="44" y="28" width="11" height="11" fill="#0000f1"/>
<rect x="54" y="28" width="11" height="11" fill="none"/>
<rect x="64" y="28" width="11" height="11" fill="none"/>
<rect x="74" y="28" width="11" height="11" fill="none"/>
<rect x="84" y="28" width="11" height="11" fill="none"/>
<rect x="94" y="28" width="11" height="11" fill="#0063ff"/>
<rect x="104" y="28" width="11" height="11" fill="#00d5ff"/>
<rect x="114" y="28" width="11" height="11" fill="#47ffb8"/>
<rect x="124" y="28" width="11" height="11" fill="#00d5ff"/>
<rect x="134" y="28" width="11" height="11" fill="#00d5ff"/>
<rect x="144" y="28" width="11" height="11" fill="#00d5ff"/>
<rect x="154" y="28" width="11" height="11" fill="#0063ff"/>
<rect x="164" y="28" width="11" height="11" fill="#0000f1"/>
<rect x="174" y="28" width="11" height="11" fill="#0000f1"/>
<rect x="184" y="28" width="11" height="11" fill="#0000f1"/>
<rect x="194" y="28" width="11" height="11" fill="#0000f1"/>
<rect x="204" y="28" width="11" height="11" fill="#0000f1"/>
<rect x="214" y="28" width="11" height="11" fill="none"/>
<rect x="224" y="28" width="11" height="11" fill="#0000f1"/>
<rect x="234" y="28" width="11" height="11" fill="#0063ff"/>
<rect x="244" y="28" width="11" height="11" fill="#0063ff"/>
<rect x="254" y="28" width="11" height="11" fill="#0000f1"/>
<rect x="264" y="28" width="11" height="11" fill="#0000f1"/>
<rect x="274" y="28" width="11" height="11" fill="#0000f1"/>
<rect x="284" y="28" width="11" height="11" fill="#0000f1"/>
<rect x="294" y="28" width="11" height="11" fill="#0000f1"/>
<rect x="304" y="28" width="11" height="11" fill="#0000f1"/>
<rect x="4" y="38" width="11" height="11" fill="#0000f1"/>
<rect x="14" y="38" width="11" height="11" fill="#0000f1"/>
<rect x="24" y="38" width="11" height="11" fill="#0000f1"/>
<rect x="34" y="38" width="11" height="11" fill="#0000f1"/>
<rect x="44" y="38" width="11" height="11" fill="#00d5ff"/>
<rect x="54" y="38" width="11" height="11" fill="#47ffb8"/>
<rect x="64" y="38" width="11" height="11" fill="#00d5ff"/>
<rect x="74" y="38" width="11" height="11" fill="none"/>
<rect x="84" y="38" width="11" height="11" fill="none"/>
<rect x="94" y="38" width="11" height="11" fill="#00d5ff"/>
<rect x="104" y="38" width="11" height="11" fill="#47ffb8"/>
<rect x="114" y="38" width="11" height="11" fill="#47ffb8"/>
<rect x="124" y="38" width="11" height="11" fill="#47ffb8"/>
<rect x="134" y="38" width="11" height="11" fill="#00d5ff"/>
<rect x="144" y="38" width="11" height="11" fill="#00d5ff"/>
<rect x="154" y="38" width="11" height="11" fill="#0063ff"/>
<rect x="164" y="38" width="11" height="11" fill="#0000f1"/>
<rect x="174" y="38" width="11" height="11" fill="#0000f1"/>
<rect x="184" y="38" width="11" height="11" fill="#0000f1"/>
<rect x="194" y="38" width="11" height="11" fill="#0000f1"/>
<rect x="204" y="38" width="11" height="11" fill="#0000f1"/>
<rect x="214" y="38" width="11" height="11" fill="#0000f1"/>
<rect x="224" y="38" width="11" height="11" fill="#0000f1"/>
<rect x="234" y="38" width="11" height="11" fill="#0000f1"/>
<rect x="244" y="38" width="11" height="11" fill="#0000f1"/>
<rect x="254" y="38" width="11" height="11" fill="#0000f1"/>
<rect x="264" y="38" width="11" height="11" fill="#0000f1"/>
<rect x="274" y="38" width="11" height="11" fill="#0000f1"/>
<rect x="284" y="38" width="11" height="11" fill="#0000f1"/>
<rect x="294" y="38" width="11" height="11" fill="#0000f1"/>
<rect x="304" y="38" width="11" height="11" fill="#0000f1"/>
<rect x="4" y="48" width="11" height="11" fill="#0000f1"/>
<rect x="14" y="48" width="11" height="11" fill="#0000f1"/>
<rect x="24" y="48" width="11" height="11" fill="#0000f1"/>
<rect x="34" y="48" width="11" height="11" fill="#0000f1"/>
<rect x="44" y="48" width="11" height="11" fill="#00d5ff"/>
<rect x="54" y="48" width="11" height="11" fill="#47ffb8"/>
<rect x="64" y="48" width="11" height="11" fill="none"/>
<rect x="74" y="48" width="11" height="11" fill="none"/>
<rect x="84" y="48" width="11" height="11" fill="none"/>
<rect x="94" y="48" width="11" height="11" fill="#0063ff"/>
<rect x="104" y="48" width="11" height="11" fill="#47ffb8"/>
<rect x="114" y="48" width="11" height="11" fill="#47ffb8"/>
<rect x="124" y="48" width="11" height="11" fill="#47ffb8"/>
<rect x="134" y="48" width="11" height="11" fill="#47ffb8"/>
<rect x="144" y="48" width="11" height="11" fill="#00d5ff"/>
<rect x="154" y="48" width="11" height="11" fill="#0063ff"/>
<rect x="164" y="48" width="11" height="11" fill="#0063ff"/>
<rect x="174" y="48" width="11" height="11" fill="#0000f1"/>
<rect x="184" y="48" width="11" height="11" fill="#0000f1"/>
<rect x="194" y="48" width="11" height="11" fill="#0000f1"/>
<rect x="204" y="48" width="11" height="11" fill="#0000f1"/>
<rect x="214" y="48" width="11" height="11" fill="#0000f1"/>
<rect x="224" y="48" width="11" height="11" fill="#0000f1"/>
<rect x="234" y="48" width="11" height="11" fill="#0000f1"/>
<rect x="244" y="48" width="11" height="11" fill="#0000f1"/>
<rect x="254" y="48" width="11" height="11" fill="#0000f1"/>
<rect x="264" y="48" width="11" height="11" fill="#0000f1"/>
<rect x="274" y="48" width="11" height="11" fill="#0000f1"/>
<rect x="284" y="48" width="11" height="11" fill="#0000f1"/>
<rect x="294" y="48" width="11" height="11" fill="#0000f1"/>
<rect x="304" y="48" width="11" height="11" fill="#0000f1"/>
<rect x="4" y="58" width="11" height="11" fill="none"/>
<rect x="14" y="58" width="11" height="11" fill="none"/>
<rect x="24" y="58" width="11" height="11" fill="none"/>
<rect x="34" y="58" width="11" height="11" fill="none"/>
<rect x="44" y="58" width="11" height="11" fill="#00d5ff"/>
<rect x="54" y="58" width="11" height="11" fill="#47ffb8"/>
<rect x="64" y="58" width="11" height="11" fill="none"/>
<rect x="74" y="58" width="11" height="11" fill="#47ffb8"/>
<rect x="84" y="58" width="11" height="11" fill="#47ffb8"/>
<rect x="94" y="58" width="11" height="11" fill="#0063ff"/>
<rect x="104" y="58" width="11" height="11" fill="#ffd400"/>
<rect x="114" y="58" width="11" height="11" fill="#b8ff47"/>
<rect x="124" y="58" width="11" height="11" fill="#b8ff47"/>
<rect x="134" y="58" width="11" height="11" fill="#47ffb8"/>
<rect x="144" y="58" width="11" height="11" fill="#47ffb8"/>
<rect x="154" y="58" width="11" height="11" fill="#0063ff"/>
<rect x="164" y="58" width="11" height="11" fill="#0063ff"/>
<rect x="174" y="58" width="11" height="11" fill="#0063ff"/>
<rect x="184" y="58" width="11" height="11" fill="#0000f1"/>
<rect x="194" y="58" width="11" height="11" fill="#0000f1"/>
<rect x="204" y="58" width="11" height="11" fill="#0000f1"/>
<rect x="214" y="58" width="11" height="11" fill="#0000f1"/>
<rect x="224" y="58" width="11" height="11" fill="#0000f1"/>
<rect x="234" y="58" width="11" height="11" fill="#0000f1"/>
<rect x="244" y="58" width="11" height="11" fill="none"/>
<rect x="254" y="58" width="11" height="11" fill="none"/>
<rect x="264" y="58" width="11" height="11" fill="#0000f1"/>
<rect x="274" y="58" width="11" height="11" fill="#0000f1"/>
<rect x="284" y="58" width="11" height="11" fill="#0000f1"/>
<rect x="294" y="58" width="11" height="11" fill="#0000f1"/>
<rect x="304" y="58" width="11" height="11" fill="#0000f1"/>
<rect x="4" y="68" width="11" height="11" fill="#0000f1"/>
<rect x="14" y="68" width="11" height="11" fill="#0000f1"/>
<rect x="24" y="68" width="11" height="11" fill="#0000f1"/>
<rect x="34" y="68" width="11" height="11" fill="#0000f1"/>
<rect x="44" y="68" width="11" height="11" fill="#0063ff"/>
<rect x="54" y="68" width="11" height="11" fill="#b8ff47"/>
<rect x="64" y="68" width="11" height="11" fill="#b8ff47"/>
<rect x="74" y="68" width="11" height="11" fill="#b8ff47"/>
<rect x="84" y="68" width="11" height="11" fill="#47ffb8"/>
<rect x="94" y="68" width="11" height="11" fill="none"/>
<rect x="104" y="68" width="11" height="11" fill="#ff6300"/>
<rect x="114" y="68" width="11" height="11" fill="#ffd400"/>
<rect x="124" y="68" width="11" height="11" fill="#ffd400"/>
<rect x="134" y="68" width="11" height="11" fill="#ffd400"/>
<rect x="144" y="68" width="11" height="11" fill="#47ffb8"/>
<rect x="154" y="68" width="11" height="11" fill="#00d5ff"/>
<rect x="164" y="68" width="11" height="11" fill="#0063ff"/>
<rect x="174" y="68" width="11" height="11" fill="#0063ff"/>
<rect x="184" y="68" width="11" height="11" fill="#0063ff"/>
<rect x="194" y="68" width="11" height="11" fill="#0000f1"/>
<rect x="204" y="68" width="11" height="11" fill="#0000f1"/>
<rect x="214" y="68" width="11" height="11" fill="#0063ff"/>
<rect x="224" y="68" width="11" height="11" fill="#0063ff"/>
<rect x="234" y="68" width="11" height="11" fill="none"/>
<rect x="244" y="68" width="11" height="11" fill="#0063ff"/>
<rect x="254" y="68" width="11" height="11" fill="none"/>
<rect x="264" y="68" width="11" height="11" fill="#ffd400"/>
<rect x="274" y="68" width="11" height="11" fill="#ffd400"/>
<rect x="284" y="68" width="11" height="11" fill="#ffd400"/>
<rect x="294" y="68" width="11" height="11" fill="#ffd400"/>
<rect x="304" y="68" width="11" height="11" fill="#ffd400"/>
<rect x="4" y="78" width="11" height="11" fill="#0000f1"/>
<rect x="14" y="78" width="11" height="11" fill="#0000f1"/>
<rect x="24" y="78" width="11" height="11" fill="#0000f1"/>
<rect x="34" y="78" width="11" height="11" fill="#0000f1"/>
<rect x="44" y="78" width="11" height="11" fill="#00d5ff"/>
<rect x="54" y="78" width="11" height="11" fill="#ffd400"/>
<rect x="64" y="78" width="11" height="11" fill="#ff6300"/>
<rect x="74" y="78" width="11" height="11" fill="#ffd400"/>
<rect x="84" y="78" width="11" height="11" fill="#ffd400"/>
<rect x="94" y="78" width="11" height="11" fill="#47ffb8"/>
<rect x="104" y="78" width="11" height="11" fill="none"/>
<rect x="114" y="78" width="11" height="11" fill="#b8ff47"/>
<rect x="124" y="78" width="11" height="11" fill="#b8ff47"/>
<rect x="134" y="78" width="11" height="11" fill="#47ffb8"/>
<rect x="144" y="78" width="11" height="11" fill="#00d5ff"/>
<rect x="154" y="78" width="11" height="11" fill="#00d5ff"/>
<rect x="164" y="78" width="11" height="11" fill="none"/>
<rect x="174" y="78" width="11" height="11" fill="#0063ff"/>
<rect x="184" y="78" width="11" height="11" fill="#0063ff"/>
<rect x="194" y="78" width="11" height="11" fill="#0063ff"/>
<rect x="204" y="78" width="11" height="11" fill="#0063ff"/>
<rect x="214" y="78" width="11" height="11" fill="#0063ff"/>
<rect x="224" y="78" width="11" height="11" fill="none"/>
<rect x="234" y="78" width="11" height="11" fill="none"/>
<rect x="244" y="78" width="11" height="11" fill="#0063ff"/>
<rect x="254" y="78" width="11" height="11" fill="#0063ff"/>
<rect x="264" y="78" width="11" height="11" fill="#ffd400"/>
<rect x="274" y="78" width="11" height="11" fill="#ffd400"/>
<rect x="284" y="78" width="11" height="11" fill="#ffd400"/>
<rect x="294" y="78" width="11" height="11" fill="#ffd400"/>
<rect x="304" y="78" width="11" height="11" fill="#ffd400"/>
<rect x="4" y="88" width="11" height="11" fill="#0000f1"/>
<rect x="14" y="88" width="11" height="11" fill="#0000f1"/>
<rect x="24" y="88" width="11" height="11" fill="#0000f1"/>
<rect x="34" y="88" width="11" height="11" fill="#0000f1"/>
<rect x="44" y="88" width="11" height="11" fill="#00d5ff"/>
<rect x="54" y="88" width="11" height="11" fill="#f10000"/>
<rect x="64" y="88" width="11" height="11" fill="#f10000"/>
<rect x="74" y="88" width="11" height="11" fill="#ff6300"/>
<rect x="84" y="88" width="11" height="11" fill="#ffd400"/>
<rect x="94" y="88" width="11" height="11" fill="#b8ff47"/>
<rect x="104" y="88" width="11" height="11" fill="#ffd400"/>
<rect x="114" y="88" width="11" height="11" fill="#00d5ff"/>
<rect x="124" y="88" width="11" height="11" fill="#ffd400"/>
<rect x="134" y="88" width="11" height="11" fill="#b8ff47"/>
<rect x="144" y="88" width="11" height="11" fill="#00d5ff"/>
<rect x="154" y="88" width="11" height="11" fill="#00d5ff"/>
<rect x="164" y="88" width="11" height="11" fill="none"/>
<rect x="174" y="88" width="11" height="11" fill="none"/>
<rect x="184" y="88" width="11" height="11" fill="#0063ff"/>
<rect x="194" y="88" width="11" height="11" fill="#0063ff"/>
<rect x="204" y="88" width="11" height="11" fill="none"/>
<rect x="214" y="88" width="11" height="11" fill="none"/>
<rect x="224" y="88" width="11" height="11" fill="none"/>
<rect x="234" y="88" width="11" height="11" fill="none"/>
<rect x="244" y="88" width="11" height="11" fill="#0063ff"/>
<rect x="254" y="88" width="11" height="11" fill="#0063ff"/>
<rect x="264" y="88" width="11" height="11" fill="#ffd400"/>
<rect x="274" y="88" width="11" height="11" fill="#ffd400"/>
<rect x="284" y="88" width="11" height="11" fill="#ffd400"/>
<rect x="294" y="88" width="11" height="11" fill="#ffd400"/>
<rect x="304" y="88" width="11" height="11" fill="#ffd400"/>
<rect x="4" y="98" width="11" height="11" fill="#00d5ff"/>
<rect x="14" y="98" width="11" height="11" fill="#00d5ff"/>
<rect x="24" y="98" width="11" height="11" fill="#00d5ff"/>
<rect x="34" y="98" width="11" height="11" fill="#00d5ff"/>
<rect x="44" y="98" width="11" height="11" fill="#00d5ff"/>
<rect x="54" y="98" width="11" height="11" fill="#ff6300"/>
<rect x="64" y="98" width="11" height="11" fill="#f10000"/>
<rect x="74" y="98" width="11" height="11" fill="#ff6300"/>
<rect x="84" y="98" width="11" height="11" fill="#ff6300"/>
<rect x="94" y="98" width="11" height="11" fill="#ff6300"/>
<rect x="104" y="98" width="11" height="11" fill="#ff6300"/>
<rect x="114" y="98" width="11" height="11" fill="#00d5ff"/>
<rect x="124" y="98" width="11" height="11" fill="#ff6300"/>
<rect x="134" y="98" width="11" height="11" fill="#ffd400"/>
<rect x="144" y="98" width="11" height="11" fill="#47ffb8"/>
<rect x="154" y="98" width="11" height="11" fill="#00d5ff"/>
<rect x="164" y="98" width="11" height="11" fill="none"/>
<rect x="174" y="98" width="11" height="11" fill="none"/>
<rect x="184" y="98" width="11" height="11" fill="#0063ff"/>
<rect x="194" y="98" width="11" height="11" fill="none"/>
<rect x="204" y="98" width="11" height="11" fill="none"/>
<rect x="214" y="98" width="11" height="11" fill="none"/>
<rect x="224" y="98" width="11" height="11" fill="none"/>
<rect x="234" y="98" width="11" height="11" fill="#0063ff"/>
<rect x="244" y="98" width="11" height="11" fill="#0000f1"/>
<rect x="254" y="98" width="11" height="11" fill="#0000f1"/>
<rect x="264" y="98" width="11" height="11" fill="#0000f1"/>
<rect x="274" y="98" width="11" height="11" fill="#0000f1"/>
<rect x="284" y="98" width="11" height="11" fill="#0000f1"/>
<rect x="294" y="98" width="11" height="11" fill="#0000f1"/>
<rect x="304" y="98" width="11" height="11" fill="#0000f1"/>
<rect x="4" y="108" width="11" height="11" fill="#00d5ff"/>
<rect x="14" y="108" width="11" height="11" fill="#00d5ff"/>
<rect x="24" y="108" width="11" height="11" fill="#00d5ff"/>
<rect x="34" y="108" width="11" height="11" fill="#00d5ff"/>
<rect x="44" y="108" width="11" height="11" fill="#00d5ff"/>
<rect x="54" y="108" width="11" height="11" fill="#ff6300"/>
<rect x="64" y="108" width="11" height="11" fill="#f10000"/>
<rect x="74" y="108" width="11" height="11" fill="#f10000"/>
<rect x="84" y="108" width="11" height="11" fill="#f10000"/>
<rect x="94" y="108" width="11" height="11" fill="#47ffb8"/>
<rect x="104" y="108" width="11" height="11" fill="#ffd400"/>
<rect x="114" y="108" width="11" height="11" fill="#ffd400"/>
<rect x="124" y="108" width="11" height="11" fill="#ff6300"/>
<rect x="134" y="108" width="11" height="11" fill="#ffd400"/>
<rect x="144" y="108" width="11" height="11" fill="#47ffb8"/>
<rect x="154" y="108" width="11" height="11" fill="#00d5ff"/>
<rect x="164" y="108" width="11" height="11" fill="none"/>
<rect x="174" y="108" width="11" height="11" fill="none"/>
<rect x="184" y="108" width="11" height="11" fill="#0063ff"/>
<rect x="194" y="108" width="11" height="11" fill="none"/>
<rect x="204" y="108" width="11" height="11" fill="none"/>
<rect x="214" y="108" width="11" height="11" fill="#00d5ff"/>
<rect x="224" y="108" width="11" height="11" fill="none"/>
<rect x="234" y="108" width="11" height="11" fill="#0063ff"/>
<rect x="244" y="108" width="11" height="11" fill="#0000f1"/>
<rect x="254" y="108" width="11" height="11" fill="#0000f1"/>
<rect x="264" y="108" width="11" height="11" fill="#0000f1"/>
<rect x="274" y="108" width="11" height="11" fill="#0000f1"/>
<rect x="284" y="108" width="11" height="11" fill="#0000f1"/>
<rect x="294" y="108" width="11" height="11" fill="#0000f1"/>
<rect x="304" y="108" width="11" height="11" fill="#0000f1"/>
<rect x="4" y="118" width="11" height="11" fill="#00d5ff"/>
<rect x="14" y="118" width="11" height="11" fill="#00d5ff"/>
<rect x="24" y="118" width="11" height="11" fill="#00d5ff"/>
<rect x="34" y="118" width="11" height="11" fill="#00d5ff"/>
<rect x="44" y="118" width="11" height="11" fill="#00d5ff"/>
<rect x="54" y="118" width="11" height="11" fill="#ff6300"/>
<rect x="64" y="118" width="11" height="11" fill="#47ffb8"/>
<rect x="74" y="118" width="11" height="11" fill="#ff6300"/>
<rect x="84" y="118" width="11" height="11" fill="#f10000"/>
<rect x="94" y="118" width="11" height="11" fill="#ffd400"/>
<rect x="104" y="118" width="11" height="11" fill="#ffd400"/>
<rect x="114" y="118" width="11" height="11" fill="#ffd400"/>
<rect x="124" y="118" width="11" height="11" fill="#ff6300"/>
<rect x="134" y="118" width="11" height="11" fill="#ff6300"/>
<rect x="144" y="118" width="11" height="11" fill="#b8ff47"/>
<rect x="154" y="118" width="11" height="11" fill="#47ffb8"/>
<rect x="164" y="118" width="11" height="11" fill="none"/>
<rect x="174" y="118" width="11" height="11" fill="none"/>
<rect x="184" y="118" width="11" height="11" fill="#0063ff"/>
<rect x="194" y="118" width="11" height="11" fill="none"/>
<rect x="204" y="118" width="11" height="11" fill="#00d5ff"/>
<rect x="214" y="118" width="11" height="11" fill="#00d5ff"/>
<rect x="224" y="118" width="11" height="11" fill="#00d5ff"/>
<rect x="234" y="118" width="11" height="11" fill="#0063ff"/>
<rect x="244" y="118" width="11" height="11" fill="#0063ff"/>
<rect x="254" y="118" width="11" height="11" fill="#0063ff"/>
<rect x="264" y="118" width="11" height="11" fill="#0063ff"/>
<rect x="274" y="118" width="11" height="11" fill="#0063ff"/>
<rect x="284" y="118" width="11" height="11" fill="#0063ff"/>
<rect x="294" y="118" width="11" height="11" fill="#0063ff"/>
<rect x="304" y="118" width="11" height="11" fill="#0063ff"/>
<rect x="4" y="128" width="11" height="11" fill="#47ffb8"/>
<rect x="14" y="128" width="11" height="11" fill="#47ffb8"/>
<rect x="24" y="128" width="11" height="11" fill="#47ffb8"/>
<rect x="34" y="128" width="11" height="11" fill="#47ffb8"/>
<rect x="44" y="128" width="11" height="11" fill="#47ffb8"/>
<rect x="54" y="128" width="11" height="11" fill="#47ffb8"/>
<rect x="64" y="128" width="11" height="11" fill="#47ffb8"/>
<rect x="74" y="128" width="11" height="11" fill="#47ffb8"/>
<rect x="84" y="128" width="11" height="11" fill="#ff6300"/>
<rect x="94" y="128" width="11" height="11" fill="#b8ff47"/>
<rect x="104" y="128" width="11" height="11" fill="none"/>
<rect x="114" y="128" width="11" height="11" fill="#ff6300"/>
<rect x="124" y="128" width="11" height="11" fill="#ffd400"/>
<rect x="134" y="128" width="11" height="11" fill="#ffd400"/>
<rect x="144" y="128" width="11" height="11" fill="#47ffb8"/>
<rect x="154" y="128" width="11" height="11" fill="#00d5ff"/>
<rect x="164" y="128" width="11" height="11" fill="none"/>
<rect x="174" y="128" width="11" height="11" fill="#0063ff"/>
<rect x="184" y="128" width="11" height="11" fill="#0063ff"/>
<rect x="194" y="128" width="11" height="11" fill="none"/>
<rect x="204" y="128" width="11" height="11" fill="#00d5ff"/>
<rect x="214" y="128" width="11" height="11" fill="#00d5ff"/>
<rect x="224" y="128" width="11" height="11" fill="#0063ff"/>
<rect x="234" y="128" width="11" height="11" fill="#0063ff"/>
<rect x="244" y="128" width="11" height="11" fill="#0063ff"/>
<rect x="254" y="128" width="11" height="11" fill="#0063ff"/>
<rect x="264" y="128" width="11" height="11" fill="#0063ff"/>
<rect x="274" y="128" width="11" height="11" fill="#0063ff"/>
<rect x="284" y="128" width="11" height="11" fill="#0063ff"/>
<rect x="294" y="128" width="11" height="11" fill="#0063ff"/>
<rect x="304" y="128" width="11" height="11" fill="#0063ff"/>
<rect x="4" y="138" width="11" height="11" fill="#47ffb8"/>
<rect x="14" y="138" width="11" height="11" fill="#47ffb8"/>
<rect x="24" y="138" width="11" height="11" fill="#47ffb8"/>
<rect x="34" y="138" width="11" height="11" fill="#47ffb8"/>
<rect x="44" y="138" width="11" height="11" fill="#47ffb8"/>
<rect x="54" y="138" width="11" height="11" fill="#47ffb8"/>
<rect x="64" y="138" width="11" height="11" fill="#47ffb8"/>
<rect x="74" y="138" width="11" height="11" fill="#47ffb8"/>
<rect x="84" y="138" width="11" height="11" fill="#ff6300"/>
<rect x="94" y="138" width="11" height="11" fill="#47ffb8"/>
<rect x="104" y="138" width="11" height="11" fill="none"/>
<rect x="114" y="138" width="11" height="11" fill="#ffd400"/>
<rect x="124" y="138" width="11" height="11" fill="#b8ff47"/>
<rect x="134" y="138" width="11" height="11" fill="#47ffb8"/>
<rect x="144" y="138" width="11" height="11" fill="#47ffb8"/>
<rect x="154" y="138" width="11" height="11" fill="#0063ff"/>
<rect x="164" y="138" width="11" height="11" fill="none"/>
<rect x="174" y="138" width="11" height="11" fill="#0063ff"/>
<rect x="184" y="138" width="11" height="11" fill="#0063ff"/>
<rect x="194" y="138" width="11" height="11" fill="none"/>
<rect x="204" y="138" width="11" height="11" fill="#00d5ff"/>
<rect x="214" y="138" width="11" height="11" fill="#0063ff"/>
<rect x="224" y="138" width="11" height="11" fill="#0063ff"/>
<rect x="234" y="138" width="11" height="11" fill="#0063ff"/>
<rect x="244" y="138" width="11" height="11" fill="#0063ff"/>
<rect x="254" y="138" width="11" height="11" fill="#0063ff"/>
<rect x="264" y="138" width="11" height="11" fill="#0063ff"/>
<rect x="274" y="138" width="11" height="11" fill="#0063ff"/>
<rect x="284" y="138" width="11" height="11" fill="#0063ff"/>
<rect x="294" y="138" width="11" height="11" fill="#0063ff"/>
<rect x="304" y="138" width="11" height="11" fill="#0063ff"/>
<rect x="4" y="148" width="11" height="11" fill="#b8ff47"/>
<rect x="14" y="148" width="11" height="11" fill="#b8ff47"/>
<rect x="24" y="148" width="11" height="11" fill="#b8ff47"/>
<rect x="34" y="148" width="11" height="11" fill="#b8ff47"/>
<rect x="44" y="148" width="11" height="11" fill="#b8ff47"/>
<rect x="54" y="148" width="11" height="11" fill="#b8ff47"/>
<rect x="64" y="148" width="11" height="11" fill="#b8ff47"/>
<rect x="74" y="148" width="11" height="11" fill="#b8ff47"/>
<rect x="84" y="148" width="11" height="11" fill="#0063ff"/>
<rect x="94" y="148" width="11" height="11" fill="#0063ff"/>
<rect x="104" y="148" width="11" height="11" fill="none"/>
<rect x="114" y="148" width="11" height="11" fill="#b8ff47"/>
<rect x="124" y="148" width="11" height="11" fill="#ffd400"/>
<rect x="134" y="148" width="11" height="11" fill="#ffd400"/>
<rect x="144" y="148" width="11" height="11" fill="#47ffb8"/>
<rect x="154" y="148" width="11" height="11" fill="#0063ff"/>
<rect x="164" y="148" width="11" height="11" fill="none"/>
<rect x="174" y="148" width="11" height="11" fill="#0063ff"/>
<rect x="184" y="148" width="11" height="11" fill="#0063ff"/>
<rect x="194" y="148" width="11" height="11" fill="none"/>
<rect x="204" y="148" width="11" height="11" fill="#0063ff"/>
<rect x="214" y="148" width="11" height="11" fill="#0063ff"/>
<rect x="224" y="148" width="11" height="11" fill="#00d5ff"/>
<rect x="234" y="148" width="11" height="11" fill="#00d5ff"/>
<rect x="244" y="148" width="11" height="11" fill="#00d5ff"/>
<rect x="254" y="148" width="11" height="11" fill="#00d5ff"/>
<rect x="264" y="148" width="11" height="11" fill="#00d5ff"/>
<rect x="274" y="148" width="11" height="11" fill="#00d5ff"/>
<rect x="284" y="148" width="11" height="11" fill="#00d5ff"/>
<rect x="294" y="148" width="11" height="11" fill="#00d5ff"/>
<rect x="304" y="148" width="11" height="11" fill="#00d5ff"/>
<rect x="4" y="158" width="11" height="11" fill="#b8ff47"/>
<rect x="14" y="158" width="11" height="11" fill="#b8ff47"/>
<rect x="24" y="158" width="11" height="11" fill="#b8ff47"/>
<rect x="34" y="158" width="11" height="11" fill="#b8ff47"/>
<rect x="44" y="158" width="11" height="11" fill="#b8ff47"/>
<rect x="54" y="158" width="11" height="11" fill="#b8ff47"/>
<rect x="64" y="158" width="11" height="11" fill="#b8ff47"/>
<rect x="74" y="158" width="11" height="11" fill="#b8ff47"/>
<rect x="84" y="158" width="11" height="11" fill="#0000f1"/>
<rect x="94" y="158" width="11" height="11" fill="#0063ff"/>
<rect x="104" y="158" width="11" height="11" fill="#0000f1"/>
<rect x="114" y="158" width="11" height="11" fill="#47ffb8"/>
<rect x="124" y="158" width="11" height="11" fill="#ffd400"/>
<rect x="134" y="158" width="11" height="11" fill="#b8ff47"/>
<rect x="144" y="158" width="11" height="11" fill="#00d5ff"/>
<rect x="154" y="158" width="11" height="11" fill="#00d5ff"/>
<rect x="164" y="158" width="11" height="11" fill="#00d5ff"/>
<rect x="174" y="158" width="11" height="11" fill="#0063ff"/>
<rect x="184" y="158" width="11" height="11" fill="#0000f1"/>
<rect x="194" y="158" width="11" height="11" fill="#0000f1"/>
<rect x="204" y="158" width="11" height="11" fill="#0063ff"/>
<rect x="214" y="158" width="11" height="11" fill="#0063ff"/>
<rect x="224" y="158" width="11" height="11" fill="#00d5ff"/>
<rect x="234" y="158" width="11" height="11" fill="#0000f1"/>
<rect x="244" y="158" width="11" height="11" fill="#0000f1"/>
<rect x="254" y="158" width="11" height="11" fill="#0000f1"/>
<rect x="264" y="158" width="11" height="11" fill="#0000f1"/>
<rect x="274" y="158" width="11" height="11" fill="#0000f1"/>
<rect x="284" y="158" width="11" height="11" fill="#0000f1"/>
<rect x="294" y="158" width="11" height="11" fill="#0000f1"/>
<rect x="304" y="158" width="11" height="11" fill="#0000f1"/>
<rect x="4" y="168" width="11" height="11" fill="#b8ff47"/>
<rect x="14" y="168" width="11" height="11" fill="#b8ff47"/>
<rect x="24" y="168" width="11" height="11" fill="#b8ff47"/>
<rect x="34" y="168" width="11" height="11" fill="#b8ff47"/>
<rect x="44" y="168" width="11" height="11" fill="#b8ff47"/>
<rect x="54" y="168" width="11" height="11" fill="#b8ff47"/>
<rect x="64" y="168" width="11" height="11" fill="#b8ff47"/>
<rect x="74" y="168" width="11" height="11" fill="#b8ff47"/>
<rect x="84" y="168" width="11" height="11" fill="#0000f1"/>
<rect x="94" y="168" width="11" height="11" fill="#0000f1"/>
<rect x="104" y="168" width="11" height="11" fill="#0000f1"/>
<rect x="114" y="168" width="11" height="11" fill="#0000f1"/>
<rect x="124" y="168" width="11" height="11" fill="#47ffb8"/>
<rect x="134" y="168" width="11" height="11" fill="#b8ff47"/>
<rect x="144" y="168" width="11" height="11" fill="#0000f1"/>
<rect x="154" y="168" width="11" height="11" fill="#0000f1"/>
<rect x="164" y="168" width="11" height="11" fill="#0000f1"/>
<rect x="174" y="168" width="11" height="11" fill="#0000f1"/>
<rect x="184" y="168" width="11" height="11" fill="#0000f1"/>
<rect x="194" y="168" width="11" height="11" fill="#0000f1"/>
<rect x="204" y="168" width="11" height="11" fill="#0000f1"/>
<rect x="214" y="168" width="11" height="11" fill="#0000f1"/>
<rect x="224" y="168" width="11" height="11" fill="#0000f1"/>
<rect x="234" y="168" width="11" height="11" fill="#0000f1"/>
<rect x="244" y="168" width="11" height="11" fill="#0000f1"/>
<rect x="254" y="168" width="11" height="11" fill="#0000f1"/>
<rect x="264" y="168" width="11" height="11" fill="#0000f1"/>
<rect x="274" y="168" width="11" height="11" fill="#0000f1"/>
<rect x="284" y="168" width="11" height="11" fill="#0000f1"/>
<rect x="294" y="168" width="11" height="11" fill="#0000f1"/>
<rect x="304" y="168" width="11" height="11" fill="#0000f1"/>
<rect x="4" y="178" width="11" height="11" fill="#b8ff47"/>
<rect x="14" y="178" width="11" height="11" fill="#b8ff47"/>
<rect x="24" y="178" width="11" height="11" fill="#b8ff47"/>
<rect x="34" y="178" width="11" height="11" fill="#b8ff47"/>
<rect x="44" y="178" width="11" height="11" fill="#b8ff47"/>
<rect x="54" y="178" width="11" height="11" fill="#b8ff47"/>
<rect x="64" y="178" width="11" height="11" fill="#b8ff47"/>
<rect x="74" y="178" width="11" height="11" fill="#b8ff47"/>
<rect x="84" y="178" width="11" height="11" fill="#0000f1"/>
<rect x="94" y="178" width="11" height="11" fill="#0000f1"/>
<rect x="104" y="178" width="11" height="11" fill="none"/>
<rect x="114" y="178" width="11" height="11" fill="none"/>
<rect x="124" y="178" width="11" height="11" fill="#47ffb8"/>
<rect x="134" y="178" width="11" height="11" fill="#b8ff47"/>
<rect x="144" y="178" width="11" height="11" fill="#0000f1"/>
<rect x="154" y="178" width="11" height="11" fill="#0000f1"/>
<rect x="164" y="178" width="11" height="11" fill="#0000f1"/>
<rect x="174" y="178" width="11" height="11" fill="#0000f1"/>
<rect x="184" y="178" width="11" height="11" fill="#0000f1"/>
<rect x="194" y="178" width="11" height="11" fill="#0000f1"/>
<rect x="204" y="178" width="11" height="11" fill="#0000f1"/>
<rect x="214" y="178" width="11" height="11" fill="#0000f1"/>
<rect x="224" y="178" width="11" height="11" fill="#0000f1"/>
<rect x="234" y="178" width="11" height="11" fill="#0000f1"/>
<rect x="244" y="178" width="11" height="11" fill="#0000f1"/>
<rect x="254" y="178" width="11" height="11" fill="#0000f1"/>
<rect x="264" y="178" width="11" height="11" fill="#0000f1"/>
<rect x="274" y="178" width="11" height="11" fill="#0000f1"/>
<rect x="284" y="178" width="11" height="11" fill="#0000f1"/>
<rect x="294" y="178" width="11" height="11" fill="#0000f1"/>
<rect x="304" y="178" width="11" height="11" fill="#0000f1"/>
<rect x="4" y="188" width="11" height="11" fill="#b8ff47"/>
<rect x="14" y="188" width="11" height="11" fill="#b8ff47"/>
<rect x="24" y="188" width="11" height="11" fill="#b8ff47"/>
<rect x="34" y="188" width="11" height="11" fill="#b8ff47"/>
<rect x="44" y="188" width="11" height="11" fill="#b8ff47"/>
<rect x="54" y="188" width="11" height="11" fill="#b8ff47"/>
<rect x="64" y="188" width="11" height="11" fill="#b8ff47"/>
<rect x="74" y="188" width="11" height="11" fill="#b8ff47"/>
<rect x="84" y="188" width="11" height="11" fill="#0000f1"/>
<rect x="94" y="188" width="11" height="11" fill="#0000f1"/>
<rect x="104" y="188" width="11" height="11" fill="none"/>
<rect x="114" y="188" width="11" height="11" fill="none"/>
<rect x="124" y="188" width="11" height="11" fill="#47ffb8"/>
<rect x="134" y="188" width="11" height="11" fill="#b8ff47"/>
<rect x="144" y="188" width="11" height="11" fill="#0000f1"/>
<rect x="154" y="188" width="11" height="11" fill="#0000f1"/>
<rect x="164" y="188" width="11" height="11" fill="#0000f1"/>
<rect x="174" y="188" width="11" height="11" fill="#0000f1"/>
<rect x="184" y="188" width="11" height="11" fill="#0000f1"/>
<rect x="194" y="188" width="11" height="11" fill="#0000f1"/>
<rect x="204" y="188" width="11" height="11" fill="#0000f1"/>
<rect x="214" y="188" width="11" height="11" fill="#0000f1"/>
<rect x="224" y="188" width="11" height="11" fill="#0000f1"/>
<rect x="234" y="188" width="11" height="11" fill="#0000f1"/>
<rect x="244" y="188" width="11" height="11" fill="#0000f1"/>
<rect x="254" y="188" width="11" height="11" fill="#0000f1"/>
<rect x="264" y="188" width="11" height="11" fill="#0000f1"/>
<rect x="274" y="188" width="11" height="11" fill="#0000f1"/>
<rect x="284" y="188" width="11" height="11" fill="#0000f1"/>
<rect x="294" y="188" width="11" height="11" fill="#0000f1"/>
<rect x="304" y="188" width="11" height="11" fill="#0000f1"/>
<rect x="4" y="198" width="11" height="11" fill="#b8ff47"/>
<rect x="14" y="198" width="11" height="11" fill="#b8ff47"/>
<rect x="24" y="198" width="11" height="11" fill="#b8ff47"/>
<rect x="34" y="198" width="11" height="11" fill="#b8ff47"/>
<rect x="44" y="198" width="11" height="11" fill="#b8ff47"/>
<rect x="54" y="198" width="11" height="11" fill="#b8ff47"/>
<rect x="64" y="198" width="11" height="11" fill="#b8ff47"/>
<rect x="74" y="198" width="11" height="11" fill="#b8ff47"/>
<rect x="84" y="198" width="11" height="11" fill="#0000f1"/>
<rect x="94" y="198" width="11" height="11" fill="#0000f1"/>
<rect x="104" y="198" width="11" height="11" fill="none"/>
<rect x="114" y="198" width="11" height="11" fill="none"/>
<rect x="124" y="198" width="11" height="11" fill="#47ffb8"/>
<rect x="134" y="198" width="11" height="11" fill="#b8ff47"/>
<rect x="144" y="198" width="11" height="11" fill="#0000f1"/>
<rect x="154" y="198" width="11" height="11" fill="#0000f1"/>
<rect x="164" y="198" width="11" height="11" fill="#0000f1"/>
<rect x="174" y="198" width="11" height="11" fill="#0000f1"/>
<rect x="184" y="198" width="11" height="11" fill="#0000f1"/>
<rect x="194" y="198" width="11" height="11" fill="#0000f1"/>
<rect x="204" y="198" width="11" height="11" fill="#0000f1"/>
<rect x="214" y="198" width="11" height="11" fill="#0000f1"/>
<rect x="224" y="198" width="11" height="11" fill="#0000f1"/>
<rect x="234" y="198" width="11" height="11" fill="#0000f1"/>
<rect x="244" y="198" width="11" height="11" fill="#0000f1"/>
<rect x="254" y="198" width="11" height="11" fill="#0000f1"/>
<rect x="264" y="198" width="11" height="11" fill="#0000f1"/>
<rect x="274" y="198" width="11" height="11" fill="#0000f1"/>
<rect x="284" y="198" width="11" height="11" fill="#0000f1"/>
<rect x="294" y="198" width="11" height="11" fill="#0000f1"/>
<rect x="304" y="198" width="11" height="11" fill="#0000f1"/>
<rect x="4" y="208" width="11" height="11" fill="#b8ff47"/>
<rect x="14" y="208" width="11" height="11" fill="#b8ff47"/>
<rect x="24" y="208" width="11" height="11" fill="#b8ff47"/>
<rect x="34" y="208" width="11" height="11" fill="#b8ff47"/>
<rect x="44" y="208" width="11" height="11" fill="#b8ff47"/>
<rect x="54" y="208" width="11" height="11" fill="#b8ff47"/>
<rect x="64" y="208" width="11" height="11" fill="#b8ff47"/>
<rect x="74" y="208" width="11" height="11" fill="#b8ff47"/>
<rect x="84" y="208" width="11" height="11" fill="#0000f1"/>
<rect x="94" y="208" width="11" height="11" fill="#0000f1"/>
<rect x="104" y="208" width="11" height="11" fill="none"/>
<rect x="114" y="208" width="11" height="11" fill="none"/>
<rect x="124" y="208" width="11" height="11" fill="#47ffb8"/>
<rect x="134" y="208" width="11" height="11" fill="#b8ff47"/>
<rect x="144" y="208" width="11" height="11" fill="#0000f1"/>
<rect x="154" y="208" width="11" height="11" fill="#0000f1"/>
<rect x="164" y="208" width="11" height="11" fill="#0000f1"/>
<rect x="174" y="208" width="11" height="11" fill="#0000f1"/>
<rect x="184" y="208" width="11" height="11" fill="#0000f1"/>
<rect x="194" y="208" width="11" height="11" fill="#0000f1"/>
<rect x="204" y="208" width="11" height="11" fill="#0000f1"/>
<rect x="214" y="208" width="11" height="11" fill="#0000f1"/>
<rect x="224" y="208" width="11" height="11" fill="#0000f1"/>
<rect x="234" y="208" width="11" height="11" fill="#0000f1"/>
<rect x="244" y="208" width="11" height="11" fill="#0000f1"/>
<rect x="254" y="208" width="11" height="11" fill="#0000f1"/>
<rect x="264" y="208" width="11" height="11" fill="#0000f1"/>
<rect x="274" y="208" width="11" height="11" fill="#0000f1"/>
<rect x="284" y="208" width="11" height="11" fill="#0000f1"/>
<rect x="294" y="208" width="11" height="11" fill="#0000f1"/>
<rect x="304" y="208" width="11" height="11" fill="#0000f1"/></g>
<mask id="spA2" maskUnits="userSpaceOnUse" x="0" y="0" width="567" height="240"><g filter="url(#bl)"><rect x="24" y="28" width="10" height="10" fill="#fff"/><rect x="34" y="28" width="10" height="10" fill="#fff"/><rect x="44" y="28" width="10" height="10" fill="#fff"/><rect x="94" y="28" width="10" height="10" fill="#fff"/><rect x="154" y="28" width="10" height="10" fill="#fff"/><rect x="164" y="28" width="10" height="10" fill="#fff"/><rect x="174" y="28" width="10" height="10" fill="#fff"/><rect x="184" y="28" width="10" height="10" fill="#fff"/><rect x="194" y="28" width="10" height="10" fill="#fff"/><rect x="204" y="28" width="10" height="10" fill="#fff"/><rect x="224" y="28" width="10" height="10" fill="#fff"/><rect x="234" y="28" width="10" height="10" fill="#fff"/><rect x="244" y="28" width="10" height="10" fill="#fff"/><rect x="254" y="28" width="10" height="10" fill="#fff"/><rect x="264" y="28" width="10" height="10" fill="#fff"/><rect x="274" y="28" width="10" height="10" fill="#fff"/><rect x="284" y="28" width="10" height="10" fill="#fff"/><rect x="24" y="38" width="10" height="10" fill="#fff"/><rect x="34" y="38" width="10" height="10" fill="#fff"/><rect x="154" y="38" width="10" height="10" fill="#fff"/><rect x="164" y="38" width="10" height="10" fill="#fff"/><rect x="174" y="38" width="10" height="10" fill="#fff"/><rect x="184" y="38" width="10" height="10" fill="#fff"/><rect x="194" y="38" width="10" height="10" fill="#fff"/><rect x="204" y="38" width="10" height="10" fill="#fff"/><rect x="214" y="38" width="10" height="10" fill="#fff"/><rect x="224" y="38" width="10" height="10" fill="#fff"/><rect x="234" y="38" width="10" height="10" fill="#fff"/><rect x="244" y="38" width="10" height="10" fill="#fff"/><rect x="254" y="38" width="10" height="10" fill="#fff"/><rect x="264" y="38" width="10" height="10" fill="#fff"/><rect x="274" y="38" width="10" height="10" fill="#fff"/><rect x="284" y="38" width="10" height="10" fill="#fff"/><rect x="24" y="48" width="10" height="10" fill="#fff"/><rect x="34" y="48" width="10" height="10" fill="#fff"/><rect x="94" y="48" width="10" height="10" fill="#fff"/><rect x="154" y="48" width="10" height="10" fill="#fff"/><rect x="164" y="48" width="10" height="10" fill="#fff"/><rect x="174" y="48" width="10" height="10" fill="#fff"/><rect x="184" y="48" width="10" height="10" fill="#fff"/><rect x="194" y="48" width="10" height="10" fill="#fff"/><rect x="204" y="48" width="10" height="10" fill="#fff"/><rect x="214" y="48" width="10" height="10" fill="#fff"/><rect x="224" y="48" width="10" height="10" fill="#fff"/><rect x="234" y="48" width="10" height="10" fill="#fff"/><rect x="244" y="48" width="10" height="10" fill="#fff"/><rect x="254" y="48" width="10" height="10" fill="#fff"/><rect x="264" y="48" width="10" height="10" fill="#fff"/><rect x="274" y="48" width="10" height="10" fill="#fff"/><rect x="284" y="48" width="10" height="10" fill="#fff"/><rect x="94" y="58" width="10" height="10" fill="#fff"/><rect x="154" y="58" width="10" height="10" fill="#fff"/><rect x="164" y="58" width="10" height="10" fill="#fff"/><rect x="174" y="58" width="10" height="10" fill="#fff"/><rect x="184" y="58" width="10" height="10" fill="#fff"/><rect x="194" y="58" width="10" height="10" fill="#fff"/><rect x="204" y="58" width="10" height="10" fill="#fff"/><rect x="214" y="58" width="10" height="10" fill="#fff"/><rect x="224" y="58" width="10" height="10" fill="#fff"/><rect x="234" y="58" width="10" height="10" fill="#fff"/><rect x="264" y="58" width="10" height="10" fill="#fff"/><rect x="274" y="58" width="10" height="10" fill="#fff"/><rect x="284" y="58" width="10" height="10" fill="#fff"/><rect x="24" y="68" width="10" height="10" fill="#fff"/><rect x="34" y="68" width="10" height="10" fill="#fff"/><rect x="44" y="68" width="10" height="10" fill="#fff"/><rect x="164" y="68" width="10" height="10" fill="#fff"/><rect x="174" y="68" width="10" height="10" fill="#fff"/><rect x="184" y="68" width="10" height="10" fill="#fff"/><rect x="194" y="68" width="10" height="10" fill="#fff"/><rect x="204" y="68" width="10" height="10" fill="#fff"/><rect x="214" y="68" width="10" height="10" fill="#fff"/><rect x="224" y="68" width="10" height="10" fill="#fff"/><rect x="244" y="68" width="10" height="10" fill="#fff"/><rect x="24" y="78" width="10" height="10" fill="#fff"/><rect x="34" y="78" width="10" height="10" fill="#fff"/><rect x="174" y="78" width="10" height="10" fill="#fff"/><rect x="184" y="78" width="10" height="10" fill="#fff"/><rect x="194" y="78" width="10" height="10" fill="#fff"/><rect x="204" y="78" width="10" height="10" fill="#fff"/><rect x="214" y="78" width="10" height="10" fill="#fff"/><rect x="244" y="78" width="10" height="10" fill="#fff"/><rect x="254" y="78" width="10" height="10" fill="#fff"/><rect x="24" y="88" width="10" height="10" fill="#fff"/><rect x="34" y="88" width="10" height="10" fill="#fff"/><rect x="184" y="88" width="10" height="10" fill="#fff"/><rect x="194" y="88" width="10" height="10" fill="#fff"/><rect x="244" y="88" width="10" height="10" fill="#fff"/><rect x="254" y="88" width="10" height="10" fill="#fff"/><rect x="184" y="98" width="10" height="10" fill="#fff"/><rect x="234" y="98" width="10" height="10" fill="#fff"/><rect x="244" y="98" width="10" height="10" fill="#fff"/><rect x="254" y="98" width="10" height="10" fill="#fff"/><rect x="264" y="98" width="10" height="10" fill="#fff"/><rect x="274" y="98" width="10" height="10" fill="#fff"/><rect x="284" y="98" width="10" height="10" fill="#fff"/><rect x="184" y="108" width="10" height="10" fill="#fff"/><rect x="234" y="108" width="10" height="10" fill="#fff"/><rect x="244" y="108" width="10" height="10" fill="#fff"/><rect x="254" y="108" width="10" height="10" fill="#fff"/><rect x="264" y="108" width="10" height="10" fill="#fff"/><rect x="274" y="108" width="10" height="10" fill="#fff"/><rect x="284" y="108" width="10" height="10" fill="#fff"/><rect x="184" y="118" width="10" height="10" fill="#fff"/><rect x="234" y="118" width="10" height="10" fill="#fff"/><rect x="244" y="118" width="10" height="10" fill="#fff"/><rect x="254" y="118" width="10" height="10" fill="#fff"/><rect x="264" y="118" width="10" height="10" fill="#fff"/><rect x="274" y="118" width="10" height="10" fill="#fff"/><rect x="284" y="118" width="10" height="10" fill="#fff"/><rect x="174" y="128" width="10" height="10" fill="#fff"/><rect x="184" y="128" width="10" height="10" fill="#fff"/><rect x="224" y="128" width="10" height="10" fill="#fff"/><rect x="234" y="128" width="10" height="10" fill="#fff"/><rect x="244" y="128" width="10" height="10" fill="#fff"/><rect x="254" y="128" width="10" height="10" fill="#fff"/><rect x="264" y="128" width="10" height="10" fill="#fff"/><rect x="274" y="128" width="10" height="10" fill="#fff"/><rect x="284" y="128" width="10" height="10" fill="#fff"/><rect x="154" y="138" width="10" height="10" fill="#fff"/><rect x="174" y="138" width="10" height="10" fill="#fff"/><rect x="184" y="138" width="10" height="10" fill="#fff"/><rect x="214" y="138" width="10" height="10" fill="#fff"/><rect x="224" y="138" width="10" height="10" fill="#fff"/><rect x="234" y="138" width="10" height="10" fill="#fff"/><rect x="244" y="138" width="10" height="10" fill="#fff"/><rect x="254" y="138" width="10" height="10" fill="#fff"/><rect x="264" y="138" width="10" height="10" fill="#fff"/><rect x="274" y="138" width="10" height="10" fill="#fff"/><rect x="284" y="138" width="10" height="10" fill="#fff"/><rect x="84" y="148" width="10" height="10" fill="#fff"/><rect x="94" y="148" width="10" height="10" fill="#fff"/><rect x="154" y="148" width="10" height="10" fill="#fff"/><rect x="174" y="148" width="10" height="10" fill="#fff"/><rect x="184" y="148" width="10" height="10" fill="#fff"/><rect x="204" y="148" width="10" height="10" fill="#fff"/><rect x="214" y="148" width="10" height="10" fill="#fff"/><rect x="84" y="158" width="10" height="10" fill="#fff"/><rect x="94" y="158" width="10" height="10" fill="#fff"/><rect x="104" y="158" width="10" height="10" fill="#fff"/><rect x="174" y="158" width="10" height="10" fill="#fff"/><rect x="184" y="158" width="10" height="10" fill="#fff"/><rect x="194" y="158" width="10" height="10" fill="#fff"/><rect x="204" y="158" width="10" height="10" fill="#fff"/><rect x="214" y="158" width="10" height="10" fill="#fff"/><rect x="234" y="158" width="10" height="10" fill="#fff"/><rect x="244" y="158" width="10" height="10" fill="#fff"/><rect x="254" y="158" width="10" height="10" fill="#fff"/><rect x="264" y="158" width="10" height="10" fill="#fff"/><rect x="274" y="158" width="10" height="10" fill="#fff"/><rect x="284" y="158" width="10" height="10" fill="#fff"/><rect x="84" y="168" width="10" height="10" fill="#fff"/><rect x="94" y="168" width="10" height="10" fill="#fff"/><rect x="104" y="168" width="10" height="10" fill="#fff"/><rect x="114" y="168" width="10" height="10" fill="#fff"/><rect x="144" y="168" width="10" height="10" fill="#fff"/><rect x="154" y="168" width="10" height="10" fill="#fff"/><rect x="164" y="168" width="10" height="10" fill="#fff"/><rect x="174" y="168" width="10" height="10" fill="#fff"/><rect x="184" y="168" width="10" height="10" fill="#fff"/><rect x="194" y="168" width="10" height="10" fill="#fff"/><rect x="204" y="168" width="10" height="10" fill="#fff"/><rect x="214" y="168" width="10" height="10" fill="#fff"/><rect x="224" y="168" width="10" height="10" fill="#fff"/><rect x="234" y="168" width="10" height="10" fill="#fff"/><rect x="244" y="168" width="10" height="10" fill="#fff"/><rect x="254" y="168" width="10" height="10" fill="#fff"/><rect x="264" y="168" width="10" height="10" fill="#fff"/><rect x="274" y="168" width="10" height="10" fill="#fff"/><rect x="284" y="168" width="10" height="10" fill="#fff"/><rect x="84" y="178" width="10" height="10" fill="#fff"/><rect x="94" y="178" width="10" height="10" fill="#fff"/><rect x="144" y="178" width="10" height="10" fill="#fff"/><rect x="154" y="178" width="10" height="10" fill="#fff"/><rect x="164" y="178" width="10" height="10" fill="#fff"/><rect x="174" y="178" width="10" height="10" fill="#fff"/><rect x="184" y="178" width="10" height="10" fill="#fff"/><rect x="194" y="178" width="10" height="10" fill="#fff"/><rect x="204" y="178" width="10" height="10" fill="#fff"/><rect x="214" y="178" width="10" height="10" fill="#fff"/><rect x="224" y="178" width="10" height="10" fill="#fff"/><rect x="234" y="178" width="10" height="10" fill="#fff"/><rect x="244" y="178" width="10" height="10" fill="#fff"/><rect x="254" y="178" width="10" height="10" fill="#fff"/><rect x="264" y="178" width="10" height="10" fill="#fff"/><rect x="274" y="178" width="10" height="10" fill="#fff"/><rect x="284" y="178" width="10" height="10" fill="#fff"/><rect x="84" y="188" width="10" height="10" fill="#fff"/><rect x="94" y="188" width="10" height="10" fill="#fff"/><rect x="144" y="188" width="10" height="10" fill="#fff"/><rect x="154" y="188" width="10" height="10" fill="#fff"/><rect x="164" y="188" width="10" height="10" fill="#fff"/><rect x="174" y="188" width="10" height="10" fill="#fff"/><rect x="184" y="188" width="10" height="10" fill="#fff"/><rect x="194" y="188" width="10" height="10" fill="#fff"/><rect x="204" y="188" width="10" height="10" fill="#fff"/><rect x="214" y="188" width="10" height="10" fill="#fff"/><rect x="224" y="188" width="10" height="10" fill="#fff"/><rect x="234" y="188" width="10" height="10" fill="#fff"/><rect x="244" y="188" width="10" height="10" fill="#fff"/><rect x="254" y="188" width="10" height="10" fill="#fff"/><rect x="264" y="188" width="10" height="10" fill="#fff"/><rect x="274" y="188" width="10" height="10" fill="#fff"/><rect x="284" y="188" width="10" height="10" fill="#fff"/></g></mask><rect x="4" y="8" width="310" height="210" fill="url(#spk)" mask="url(#spA2)" opacity="0.55"/>
<polygon points="102.7,133.8 106.2,134.5 111.2,146.5 118.2,159.2 122.4,171.9 123.9,180.4 124.5,190.0 121.5,190.0 121.0,180.4 116.0,171.9 106.5,155.0 100.6,138.0" fill="#fff" filter="url(#bl1)"/>
<polygon points="143.6,159.2 147.8,160.6 149.2,183.2 149.5,190.0 144.5,190.0 144.3,183.2" fill="#fff" filter="url(#bl1)"/>
</g></g>
<g clip-path="url(#cfA)" fill="none" stroke="#555" stroke-width="0.6" stroke-linejoin="round">
<polygon points="16.8,25.6 40.4,25.6 41.5,28.7 44.1,30.8 48.1,32.4 49.5,34.5 50.3,38.1 49.7,42.8 47.8,43.9 49.1,40.2 47.2,38.6 43.9,38.1 41.1,37.1 41.0,39.7 42.4,44.9 42.3,48.3 42.2,52.2 41.1,56.9 39.3,63.3 37.8,66.3 38.8,70.7 38.5,76.0 36.9,79.0 39.1,82.4 39.0,86.9 41.7,90.4 43.9,93.0 44.1,96.2 45.7,97.6 46.0,99.4 47.5,102.6 49.9,105.9 50.8,108.5 51.5,110.9 55.0,111.2 58.4,113.1 60.2,113.3 60.6,114.7 62.8,115.5 65.2,117.6 65.7,120.3 66.0,121.4 68.0,124.9 69.1,129.4 70.7,132.6 73.5,136.9 76.6,140.6 78.7,144.9 74.9,147.1 77.6,150.3 80.7,152.4 82.5,154.6 87.0,158.3 87.1,162.6 89.6,165.3 94.2,169.6 97.4,172.8 99.6,171.7 99.4,169.0 95.7,165.8 94.3,163.7 92.6,159.9 91.3,156.2 88.7,151.9 86.9,149.2 84.7,145.5 82.5,141.7 80.8,138.0 77.3,134.8 76.6,130.5 76.4,125.7 80.9,126.7 83.6,127.8 84.8,131.0 86.0,135.3 88.1,140.1 91.3,143.3 93.5,146.0 95.2,148.7 98.4,151.9 100.6,156.7 104.2,160.5 107.4,164.2 111.6,168.0 113.8,171.2 117.1,174.9 119.3,180.3 117.9,184.0 119.0,185.1 117.4,188.3 118.3,191.5 -2.4,191.5"/>
<polygon points="160.7,191.5 158.8,187.2 156.2,182.9 153.9,176.3 154.3,168.0 155.0,163.7 155.5,161.5 157.1,156.4 156.2,151.9 157.4,146.5 160.1,143.3 165.7,140.4 168.2,138.5 172.3,136.4 179.5,137.2 184.1,138.0 187.3,139.6 189.9,139.0 194.0,140.1 192.4,136.9 192.3,134.0 195.0,132.6 198.7,133.4 202.8,132.9 206.1,132.6 209.8,134.0 211.5,136.4 213.5,136.4 216.5,134.5 220.0,136.4 222.2,139.3 223.9,141.7 224.0,146.5 224.3,148.1 225.3,150.3 227.5,153.5 228.5,155.6 230.0,157.2 231.7,159.7 232.0,161.0 235.0,160.2 235.6,158.9 236.4,157.2 236.6,152.4 236.0,149.7 233.9,145.5 233.8,143.1 231.6,139.0 230.1,134.8 229.5,132.6 229.1,129.4 230.3,125.7 231.6,123.8 233.9,120.8 235.9,120.0 238.7,117.6 241.5,114.1 244.2,114.1 245.6,111.2 250.3,110.1 252.2,108.0 254.8,106.7 254.1,103.2 252.7,100.0 252.0,98.1 250.5,97.3 250.2,94.1 249.4,90.4 249.4,84.5 251.0,87.2 251.8,92.0 251.9,96.2 254.3,92.5 255.4,89.8 255.0,87.7 253.0,85.0 255.8,86.6 257.8,84.5 259.0,80.8 259.1,78.9 260.3,78.1 264.2,77.3 268.2,75.6 267.8,74.4 269.7,73.9 270.3,73.4 271.6,73.4 273.1,73.1 275.1,72.8 276.1,72.6 275.0,70.4 273.3,71.0 271.1,68.9 272.6,67.3 271.7,65.4 273.7,62.2 275.3,61.2 278.6,60.1 289.8,191.5"/>
<polygon points="29.4,24.6 39.3,24.6 40.2,28.7 43.1,31.8 45.7,34.5 46.8,37.1 42.9,36.3 39.1,33.9 34.5,30.8 30.6,26.7"/>
<polygon points="188.0,191.5 188.7,188.3 188.9,183.7 190.7,182.1 192.6,181.3 197.8,180.8 202.0,180.0 204.3,180.3 205.8,181.9 204.4,185.1 202.8,188.3 202.6,191.5"/>
<polygon points="214.4,178.4 216.9,176.8 219.2,174.4 222.5,172.5 226.2,171.7 230.4,171.3 234.2,172.0 237.5,172.8 241.2,174.4 244.6,176.0 248.9,178.1 252.7,180.0 256.5,181.9 258.4,182.9 262.7,184.6 265.4,187.2 263.8,188.0 260.5,188.8 254.4,188.8 248.8,189.2 251.0,186.7 250.5,184.6 247.7,184.0 244.7,180.8 242.4,180.0 238.1,179.2 234.8,178.4 233.4,177.1 231.0,176.3 228.7,176.5 228.1,174.4 224.8,173.8 222.1,176.0 219.3,177.6"/>
<polygon points="178.5,45.9 181.4,44.4 185.1,41.2 187.6,39.7 190.4,37.1 194.5,35.0 198.7,35.0 202.1,36.0 208.2,39.7 209.7,42.8 210.8,47.0 207.4,47.0 204.4,45.9 201.5,47.5 198.0,46.5 197.0,43.3 196.5,42.0 194.1,44.9 189.1,45.7 184.8,46.5" fill="#fff" stroke="#666" stroke-width="0.8"/>
<polygon points="209.8,50.7 206.3,49.6 202.5,50.1 198.0,53.8 198.6,57.5 197.2,65.4 198.8,71.2 201.0,72.8 203.5,70.2 204.6,65.4 203.0,60.1 205.0,55.9 207.4,53.3" fill="#fff" stroke="#666" stroke-width="0.8"/>
<polygon points="210.6,50.7 213.6,49.6 219.5,48.6 223.8,49.6 226.8,50.1 229.3,53.3 230.9,56.9 226.9,55.9 225.0,53.8 224.8,56.9 223.7,59.6 221.1,65.4 216.6,62.2 214.3,60.1 216.8,59.1 216.5,55.4 215.5,52.7" fill="#fff" stroke="#666" stroke-width="0.8"/>
<polygon points="217.5,70.7 220.7,72.3 224.7,73.4 228.1,71.2 231.5,70.2 236.4,65.9 232.1,66.7 227.4,67.5 223.5,69.1 219.3,70.7" fill="#fff" stroke="#666" stroke-width="0.8"/>
<polygon points="235.4,64.4 233.9,62.2 239.8,60.7 246.1,59.1 247.8,62.8 241.8,63.8" fill="#fff" stroke="#666" stroke-width="0.8"/>
<polyline points="66.0,121.2 77.0,120.2 93.3,127.6 106.4,127.6 106.5,125.2 114.2,125.2 118.4,128.3 122.4,131.5 123.7,135.8 127.4,138.5 129.2,140.1 131.1,138.5 132.5,136.1 137.5,135.8 139.8,138.2 141.6,141.7 146.2,148.1 148.5,154.0 152.2,155.6 157.1,156.4" stroke="#666" stroke-width="0.5"/>
<polyline points="47.5,33.9 165.3,33.9 171.0,35.5 174.4,36.0 178.6,37.6 188.8,39.2" stroke="#666" stroke-width="0.5"/>
<polyline points="246.6,59.6 250.2,56.9 253.5,54.8 267.2,54.8 268.7,53.3 271.3,50.7 272.2,47.5 275.2,42.3" stroke="#666" stroke-width="0.5"/>
<polyline points="241.9,152.4 244.7,153.0 246.5,152.4" stroke-dasharray="1.5,1"/>
<polyline points="248.8,150.8 250.3,153.5 249.9,156.2" stroke-dasharray="1.5,1"/>
<polyline points="245.9,160.5 247.5,163.7 248.5,165.8" stroke-dasharray="1.5,1"/>
<polyline points="252.4,158.9 254.8,161.0 255.4,163.7" stroke-dasharray="1.5,1"/>
<polyline points="257.8,165.3 259.3,168.5 260.8,171.7" stroke-dasharray="1.5,1"/>
<polyline points="256.0,168.5 257.1,171.2" stroke-dasharray="1.5,1"/>
<polyline points="264.2,174.4 266.1,176.0" stroke-dasharray="1.5,1"/>
<polyline points="267.3,181.9 269.7,182.9" stroke-dasharray="1.5,1"/>
<polyline points="273.7,178.1 276.1,179.2" stroke-dasharray="1.5,1"/>
<polyline points="228.6,194.7 231.9,192.0" stroke-dasharray="1.5,1"/>
</g>
<polygon points="41.1,28.7 269.9,28.7 269.9,28.7 273.7,54.8 277.0,81.3 279.8,108.0 282.1,134.8 283.8,161.5 285.0,188.3 26.0,188.3 26.0,188.3 27.2,161.5 28.9,134.8 31.2,108.0 34.0,81.3 37.3,54.8 41.1,28.7" fill="none" stroke="#111" stroke-width="1.3"/>
<text x="15.99" y="34.01" font-size="9" font-family="Liberation Sans, sans-serif" fill="#111" stroke="#111" stroke-width="0.15">50</text><circle cx="28.25" cy="25.91" r="0.95" fill="none" stroke="#444" stroke-width="0.7"/><text x="32.10" y="34.01" font-size="9" font-family="Liberation Sans, sans-serif" fill="#111" stroke="#111" stroke-width="0.15">N</text>
<text x="8.19" y="86.70" font-size="9" font-family="Liberation Sans, sans-serif" fill="#111" stroke="#111" stroke-width="0.15">40</text><circle cx="20.45" cy="78.60" r="0.95" fill="none" stroke="#444" stroke-width="0.7"/><text x="24.30" y="86.70" font-size="9" font-family="Liberation Sans, sans-serif" fill="#111" stroke="#111" stroke-width="0.15">N</text>
<text x="3.59" y="139.66" font-size="9" font-family="Liberation Sans, sans-serif" fill="#111" stroke="#111" stroke-width="0.15">30</text><circle cx="15.85" cy="131.56" r="0.95" fill="none" stroke="#444" stroke-width="0.7"/><text x="19.70" y="139.66" font-size="9" font-family="Liberation Sans, sans-serif" fill="#111" stroke="#111" stroke-width="0.15">N</text>
<text x="0.39" y="192.60" font-size="9" font-family="Liberation Sans, sans-serif" fill="#111" stroke="#111" stroke-width="0.15">20</text><circle cx="12.65" cy="184.50" r="0.95" fill="none" stroke="#444" stroke-width="0.7"/><text x="16.50" y="192.60" font-size="9" font-family="Liberation Sans, sans-serif" fill="#111" stroke="#111" stroke-width="0.15">N</text>
<text x="35.25" y="199.80" font-size="9" font-family="Liberation Sans, sans-serif" fill="#111" stroke="#111" stroke-width="0.15">120</text><circle cx="52.51" cy="191.70" r="0.95" fill="none" stroke="#444" stroke-width="0.7"/><text x="56.36" y="199.80" font-size="9" font-family="Liberation Sans, sans-serif" fill="#111" stroke="#111" stroke-width="0.15">W</text>
<text x="82.34" y="199.80" font-size="9" font-family="Liberation Sans, sans-serif" fill="#111" stroke="#111" stroke-width="0.15">110</text><circle cx="99.60" cy="191.70" r="0.95" fill="none" stroke="#444" stroke-width="0.7"/><text x="103.45" y="199.80" font-size="9" font-family="Liberation Sans, sans-serif" fill="#111" stroke="#111" stroke-width="0.15">W</text>
<text x="129.42" y="199.80" font-size="9" font-family="Liberation Sans, sans-serif" fill="#111" stroke="#111" stroke-width="0.15">100</text><circle cx="146.69" cy="191.70" r="0.95" fill="none" stroke="#444" stroke-width="0.7"/><text x="150.54" y="199.80" font-size="9" font-family="Liberation Sans, sans-serif" fill="#111" stroke="#111" stroke-width="0.15">W</text>
<text x="179.01" y="199.80" font-size="9" font-family="Liberation Sans, sans-serif" fill="#111" stroke="#111" stroke-width="0.15">90</text><circle cx="191.27" cy="191.70" r="0.95" fill="none" stroke="#444" stroke-width="0.7"/><text x="195.12" y="199.80" font-size="9" font-family="Liberation Sans, sans-serif" fill="#111" stroke="#111" stroke-width="0.15">W</text>
<text x="226.10" y="199.80" font-size="9" font-family="Liberation Sans, sans-serif" fill="#111" stroke="#111" stroke-width="0.15">80</text><circle cx="238.36" cy="191.70" r="0.95" fill="none" stroke="#444" stroke-width="0.7"/><text x="242.21" y="199.80" font-size="9" font-family="Liberation Sans, sans-serif" fill="#111" stroke="#111" stroke-width="0.15">W</text>
<text x="273.19" y="199.80" font-size="9" font-family="Liberation Sans, sans-serif" fill="#111" stroke="#111" stroke-width="0.15">70</text><circle cx="285.44" cy="191.70" r="0.95" fill="none" stroke="#444" stroke-width="0.7"/><text x="289.30" y="199.80" font-size="9" font-family="Liberation Sans, sans-serif" fill="#111" stroke="#111" stroke-width="0.15">W</text>
<defs><linearGradient id="cbA2" x1="0" x2="1" y1="0" y2="0"><stop offset="0.000" stop-color="#800000"/><stop offset="0.031" stop-color="#9f0000"/><stop offset="0.062" stop-color="#bf0000"/><stop offset="0.094" stop-color="#df0000"/><stop offset="0.125" stop-color="#ff0000"/><stop offset="0.156" stop-color="#ff2000"/><stop offset="0.188" stop-color="#ff4000"/><stop offset="0.219" stop-color="#ff6000"/><stop offset="0.250" stop-color="#ff8000"/><stop offset="0.281" stop-color="#ff9f00"/><stop offset="0.312" stop-color="#ffbf00"/><stop offset="0.344" stop-color="#ffdf00"/><stop offset="0.375" stop-color="#ffff00"/><stop offset="0.406" stop-color="#dfff20"/><stop offset="0.438" stop-color="#bfff40"/><stop offset="0.469" stop-color="#9fff60"/><stop offset="0.500" stop-color="#80ff80"/><stop offset="0.531" stop-color="#60ff9f"/><stop offset="0.562" stop-color="#40ffbf"/><stop offset="0.594" stop-color="#20ffdf"/><stop offset="0.625" stop-color="#00ffff"/><stop offset="0.656" stop-color="#00dfff"/><stop offset="0.688" stop-color="#00bfff"/><stop offset="0.719" stop-color="#009fff"/><stop offset="0.750" stop-color="#0080ff"/><stop offset="0.781" stop-color="#0060ff"/><stop offset="0.812" stop-color="#0040ff"/><stop offset="0.844" stop-color="#0020ff"/><stop offset="0.875" stop-color="#0000ff"/><stop offset="0.906" stop-color="#0000df"/><stop offset="0.938" stop-color="#0000bf"/><stop offset="0.969" stop-color="#00009f"/><stop offset="1.000" stop-color="#000080"/></linearGradient></defs>
<rect x="41.4" y="213.0" width="225.6" height="5.3" fill="url(#cbA2)" stroke="#222" stroke-width="0.6"/>
<text x="41.4" y="229.5" text-anchor="middle" font-size="9" font-family="Liberation Sans, sans-serif" fill="#111">0</text>
<line x1="86.5" x2="86.5" y1="213.0" y2="214.6" stroke="#222" stroke-width="0.7"/>
<line x1="86.5" x2="86.5" y1="216.7" y2="218.3" stroke="#222" stroke-width="0.7"/>
<text x="86.5" y="229.5" text-anchor="middle" font-size="9" font-family="Liberation Sans, sans-serif" fill="#111">0.1</text>
<line x1="131.6" x2="131.6" y1="213.0" y2="214.6" stroke="#222" stroke-width="0.7"/>
<line x1="131.6" x2="131.6" y1="216.7" y2="218.3" stroke="#222" stroke-width="0.7"/>
<text x="131.6" y="229.5" text-anchor="middle" font-size="9" font-family="Liberation Sans, sans-serif" fill="#111">0.2</text>
<line x1="176.8" x2="176.8" y1="213.0" y2="214.6" stroke="#222" stroke-width="0.7"/>
<line x1="176.8" x2="176.8" y1="216.7" y2="218.3" stroke="#222" stroke-width="0.7"/>
<text x="176.8" y="229.5" text-anchor="middle" font-size="9" font-family="Liberation Sans, sans-serif" fill="#111">0.3</text>
<line x1="221.9" x2="221.9" y1="213.0" y2="214.6" stroke="#222" stroke-width="0.7"/>
<line x1="221.9" x2="221.9" y1="216.7" y2="218.3" stroke="#222" stroke-width="0.7"/>
<text x="221.9" y="229.5" text-anchor="middle" font-size="9" font-family="Liberation Sans, sans-serif" fill="#111">0.4</text>
<text x="267.0" y="229.5" text-anchor="middle" font-size="9" font-family="Liberation Sans, sans-serif" fill="#111">0.5</text>
</g>
<g transform="translate(0,485.2)">
<text x="322.0" y="11.6" font-size="16" font-weight="bold" font-family="Liberation Serif, serif" fill="#000">(f)</text>
<polyline points="374.4,190.3 374.4,184.6 374.5,178.9 374.5,173.3 374.6,167.6 374.7,161.9 374.9,156.2 375.1,150.5 375.3,144.8 375.5,139.2 375.8,133.5 376.0,127.8 376.3,122.1 376.7,116.4 377.1,110.8 377.5,105.1 378.0,99.4 378.6,93.7 379.2,88.0 379.8,82.4 380.5,76.7 381.3,71.1 382.1,65.5 382.9,59.9 383.8,54.4 384.7,48.8 385.7,43.4 386.7,37.9 387.8,32.6 388.9,27.3 390.1,22.0" fill="none" stroke="#c8c8e0" stroke-width="0.6" stroke-dasharray="2,1"/>
<polyline points="400.4,190.3 400.4,184.6 400.4,178.9 400.5,173.3 400.5,167.6 400.6,161.9 400.7,156.2 400.8,150.5 401.0,144.8 401.1,139.2 401.3,133.5 401.5,127.8 401.7,122.1 401.9,116.4 402.2,110.8 402.4,105.1 402.8,99.4 403.1,93.7 403.5,88.0 404.0,82.4 404.4,76.7 405.0,71.1 405.5,65.5 406.0,59.9 406.6,54.4 407.2,48.8 407.9,43.4 408.6,37.9 409.3,32.6 410.1,27.3 410.8,22.0" fill="none" stroke="#c8c8e0" stroke-width="0.6" stroke-dasharray="2,1"/>
<polyline points="426.3,190.3 426.3,184.6 426.4,178.9 426.4,173.3 426.4,167.6 426.4,161.9 426.5,156.2 426.6,150.5 426.6,144.8 426.7,139.2 426.8,133.5 426.9,127.8 427.0,122.1 427.1,116.4 427.2,110.8 427.4,105.1 427.5,99.4 427.7,93.7 427.9,88.0 428.1,82.4 428.4,76.7 428.6,71.1 428.9,65.5 429.2,59.9 429.5,54.4 429.8,48.8 430.1,43.4 430.4,37.9 430.8,32.6 431.2,27.3 431.6,22.0" fill="none" stroke="#c8c8e0" stroke-width="0.6" stroke-dasharray="2,1"/>
<polyline points="452.3,190.3 452.3,184.6 452.3,178.9 452.3,173.3 452.3,167.6 452.3,161.9 452.3,156.2 452.3,150.5 452.3,144.8 452.3,139.2 452.3,133.5 452.3,127.8 452.3,122.1 452.3,116.4 452.3,110.8 452.3,105.1 452.3,99.4 452.3,93.7 452.3,88.0 452.3,82.4 452.3,76.7 452.3,71.1 452.3,65.5 452.3,59.9 452.3,54.4 452.3,48.8 452.3,43.4 452.3,37.9 452.3,32.6 452.3,27.3 452.3,22.0" fill="none" stroke="#c8c8e0" stroke-width="0.6" stroke-dasharray="2,1"/>
<polyline points="478.3,190.3 478.3,184.6 478.2,178.9 478.2,173.3 478.2,167.6 478.2,161.9 478.1,156.2 478.0,150.5 478.0,144.8 477.9,139.2 477.8,133.5 477.7,127.8 477.6,122.1 477.5,116.4 477.4,110.8 477.2,105.1 477.1,99.4 476.9,93.7 476.7,88.0 476.5,82.4 476.2,76.7 476.0,71.1 475.7,65.5 475.4,59.9 475.1,54.4 474.8,48.8 474.5,43.4 474.2,37.9 473.8,32.6 473.4,27.3 473.0,22.0" fill="none" stroke="#c8c8e0" stroke-width="0.6" stroke-dasharray="2,1"/>
<polyline points="504.2,190.3 504.2,184.6 504.2,178.9 504.1,173.3 504.1,167.6 504.0,161.9 503.9,156.2 503.8,150.5 503.6,144.8 503.5,139.2 503.3,133.5 503.1,127.8 502.9,122.1 502.7,116.4 502.4,110.8 502.2,105.1 501.8,99.4 501.5,93.7 501.1,88.0 500.6,82.4 500.2,76.7 499.6,71.1 499.1,65.5 498.6,59.9 498.0,54.4 497.4,48.8 496.7,43.4 496.0,37.9 495.3,32.6 494.5,27.3 493.8,22.0" fill="none" stroke="#c8c8e0" stroke-width="0.6" stroke-dasharray="2,1"/>
<polyline points="530.2,190.3 530.2,184.6 530.1,178.9 530.1,173.3 530.0,167.6 529.9,161.9 529.7,156.2 529.5,150.5 529.3,144.8 529.1,139.2 528.8,133.5 528.6,127.8 528.3,122.1 527.9,116.4 527.5,110.8 527.1,105.1 526.6,99.4 526.0,93.7 525.4,88.0 524.8,82.4 524.1,76.7 523.3,71.1 522.5,65.5 521.7,59.9 520.8,54.4 519.9,48.8 518.9,43.4 517.9,37.9 516.8,32.6 515.7,27.3 514.5,22.0" fill="none" stroke="#c8c8e0" stroke-width="0.6" stroke-dasharray="2,1"/>
<line x1="348.9" y1="161.9" x2="555.7" y2="161.9" stroke="#c8c8e0" stroke-width="0.6" stroke-dasharray="2,1"/>
<line x1="350.2" y1="133.5" x2="554.4" y2="133.5" stroke="#c8c8e0" stroke-width="0.6" stroke-dasharray="2,1"/>
<line x1="352.6" y1="105.1" x2="552.0" y2="105.1" stroke="#c8c8e0" stroke-width="0.6" stroke-dasharray="2,1"/>
<line x1="356.5" y1="76.7" x2="548.1" y2="76.7" stroke="#c8c8e0" stroke-width="0.6" stroke-dasharray="2,1"/>
<line x1="362.1" y1="48.8" x2="542.5" y2="48.8" stroke="#c8c8e0" stroke-width="0.6" stroke-dasharray="2,1"/>
<g clip-path="url(#cfB)"><g mask="url(#mkB)">
<g filter="url(#bl)"><rect x="326" y="0" width="11" height="11" fill="#0000f1"/>
<rect x="336" y="0" width="11" height="11" fill="#0000f1"/>
<rect x="346" y="0" width="11" height="11" fill="#0000f1"/>
<rect x="356" y="0" width="11" height="11" fill="#0000f1"/>
<rect x="366" y="0" width="11" height="11" fill="#0000f1"/>
<rect x="376" y="0" width="11" height="11" fill="#0000f1"/>
<rect x="386" y="0" width="11" height="11" fill="#0000f1"/>
<rect x="396" y="0" width="11" height="11" fill="#0000f1"/>
<rect x="406" y="0" width="11" height="11" fill="#0000f1"/>
<rect x="416" y="0" width="11" height="11" fill="none"/>
<rect x="426" y="0" width="11" height="11" fill="none"/>
<rect x="436" y="0" width="11" height="11" fill="#0000f1"/>
<rect x="446" y="0" width="11" height="11" fill="none"/>
<rect x="456" y="0" width="11" height="11" fill="none"/>
<rect x="466" y="0" width="11" height="11" fill="#0000f1"/>
<rect x="476" y="0" width="11" height="11" fill="#0000f1"/>
<rect x="486" y="0" width="11" height="11" fill="none"/>
<rect x="496" y="0" width="11" height="11" fill="none"/>
<rect x="506" y="0" width="11" height="11" fill="none"/>
<rect x="516" y="0" width="11" height="11" fill="#00d5ff"/>
<rect x="526" y="0" width="11" height="11" fill="#0063ff"/>
<rect x="536" y="0" width="11" height="11" fill="#0063ff"/>
<rect x="546" y="0" width="11" height="11" fill="#0063ff"/>
<rect x="556" y="0" width="11" height="11" fill="#0063ff"/>
<rect x="566" y="0" width="11" height="11" fill="#0063ff"/>
<rect x="576" y="0" width="11" height="11" fill="#0063ff"/>
<rect x="326" y="10" width="11" height="11" fill="#0000f1"/>
<rect x="336" y="10" width="11" height="11" fill="#0000f1"/>
<rect x="346" y="10" width="11" height="11" fill="#0000f1"/>
<rect x="356" y="10" width="11" height="11" fill="#0000f1"/>
<rect x="366" y="10" width="11" height="11" fill="#0000f1"/>
<rect x="376" y="10" width="11" height="11" fill="#0000f1"/>
<rect x="386" y="10" width="11" height="11" fill="#0000f1"/>
<rect x="396" y="10" width="11" height="11" fill="#0000f1"/>
<rect x="406" y="10" width="11" height="11" fill="#0000f1"/>
<rect x="416" y="10" width="11" height="11" fill="none"/>
<rect x="426" y="10" width="11" height="11" fill="none"/>
<rect x="436" y="10" width="11" height="11" fill="#0000f1"/>
<rect x="446" y="10" width="11" height="11" fill="none"/>
<rect x="456" y="10" width="11" height="11" fill="none"/>
<rect x="466" y="10" width="11" height="11" fill="#0000f1"/>
<rect x="476" y="10" width="11" height="11" fill="#0000f1"/>
<rect x="486" y="10" width="11" height="11" fill="none"/>
<rect x="496" y="10" width="11" height="11" fill="none"/>
<rect x="506" y="10" width="11" height="11" fill="none"/>
<rect x="516" y="10" width="11" height="11" fill="#00d5ff"/>
<rect x="526" y="10" width="11" height="11" fill="#0063ff"/>
<rect x="536" y="10" width="11" height="11" fill="#0063ff"/>
<rect x="546" y="10" width="11" height="11" fill="#0063ff"/>
<rect x="556" y="10" width="11" height="11" fill="#0063ff"/>
<rect x="566" y="10" width="11" height="11" fill="#0063ff"/>
<rect x="576" y="10" width="11" height="11" fill="#0063ff"/>
<rect x="326" y="20" width="11" height="11" fill="#0000f1"/>
<rect x="336" y="20" width="11" height="11" fill="#0000f1"/>
<rect x="346" y="20" width="11" height="11" fill="#0000f1"/>
<rect x="356" y="20" width="11" height="11" fill="#0000f1"/>
<rect x="366" y="20" width="11" height="11" fill="#0000f1"/>
<rect x="376" y="20" width="11" height="11" fill="#0000f1"/>
<rect x="386" y="20" width="11" height="11" fill="#0000f1"/>
<rect x="396" y="20" width="11" height="11" fill="#0000f1"/>
<rect x="406" y="20" width="11" height="11" fill="#0000f1"/>
<rect x="416" y="20" width="11" height="11" fill="none"/>
<rect x="426" y="20" width="11" height="11" fill="none"/>
<rect x="436" y="20" width="11" height="11" fill="#0000f1"/>
<rect x="446" y="20" width="11" height="11" fill="none"/>
<rect x="456" y="20" width="11" height="11" fill="none"/>
<rect x="466" y="20" width="11" height="11" fill="#0000f1"/>
<rect x="476" y="20" width="11" height="11" fill="#0000f1"/>
<rect x="486" y="20" width="11" height="11" fill="none"/>
<rect x="496" y="20" width="11" height="11" fill="none"/>
<rect x="506" y="20" width="11" height="11" fill="none"/>
<rect x="516" y="20" width="11" height="11" fill="#00d5ff"/>
<rect x="526" y="20" width="11" height="11" fill="#0063ff"/>
<rect x="536" y="20" width="11" height="11" fill="#0063ff"/>
<rect x="546" y="20" width="11" height="11" fill="#0063ff"/>
<rect x="556" y="20" width="11" height="11" fill="#0063ff"/>
<rect x="566" y="20" width="11" height="11" fill="#0063ff"/>
<rect x="576" y="20" width="11" height="11" fill="#0063ff"/>
<rect x="326" y="30" width="11" height="11" fill="#0000f1"/>
<rect x="336" y="30" width="11" height="11" fill="#0000f1"/>
<rect x="346" y="30" width="11" height="11" fill="#0000f1"/>
<rect x="356" y="30" width="11" height="11" fill="#0000f1"/>
<rect x="366" y="30" width="11" height="11" fill="#0000f1"/>
<rect x="376" y="30" width="11" height="11" fill="#0000f1"/>
<rect x="386" y="30" width="11" height="11" fill="#0000f1"/>
<rect x="396" y="30" width="11" height="11" fill="#0000f1"/>
<rect x="406" y="30" width="11" height="11" fill="#ff6300"/>
<rect x="416" y="30" width="11" height="11" fill="#ff6300"/>
<rect x="426" y="30" width="11" height="11" fill="#0000f1"/>
<rect x="436" y="30" width="11" height="11" fill="#0000f1"/>
<rect x="446" y="30" width="11" height="11" fill="#0000f1"/>
<rect x="456" y="30" width="11" height="11" fill="#0000f1"/>
<rect x="466" y="30" width="11" height="11" fill="none"/>
<rect x="476" y="30" width="11" height="11" fill="none"/>
<rect x="486" y="30" width="11" height="11" fill="#00d5ff"/>
<rect x="496" y="30" width="11" height="11" fill="#0063ff"/>
<rect x="506" y="30" width="11" height="11" fill="#00d5ff"/>
<rect x="516" y="30" width="11" height="11" fill="#00d5ff"/>
<rect x="526" y="30" width="11" height="11" fill="none"/>
<rect x="536" y="30" width="11" height="11" fill="none"/>
<rect x="546" y="30" width="11" height="11" fill="none"/>
<rect x="556" y="30" width="11" height="11" fill="none"/>
<rect x="566" y="30" width="11" height="11" fill="none"/>
<rect x="576" y="30" width="11" height="11" fill="none"/>
<rect x="326" y="40" width="11" height="11" fill="#0000f1"/>
<rect x="336" y="40" width="11" height="11" fill="#0000f1"/>
<rect x="346" y="40" width="11" height="11" fill="#0000f1"/>
<rect x="356" y="40" width="11" height="11" fill="#0000f1"/>
<rect x="366" y="40" width="11" height="11" fill="#0000f1"/>
<rect x="376" y="40" width="11" height="11" fill="#0000f1"/>
<rect x="386" y="40" width="11" height="11" fill="#0000f1"/>
<rect x="396" y="40" width="11" height="11" fill="#0000f1"/>
<rect x="406" y="40" width="11" height="11" fill="none"/>
<rect x="416" y="40" width="11" height="11" fill="#0000f1"/>
<rect x="426" y="40" width="11" height="11" fill="#0000f1"/>
<rect x="436" y="40" width="11" height="11" fill="#0000f1"/>
<rect x="446" y="40" width="11" height="11" fill="#0000f1"/>
<rect x="456" y="40" width="11" height="11" fill="#0063ff"/>
<rect x="466" y="40" width="11" height="11" fill="#00d5ff"/>
<rect x="476" y="40" width="11" height="11" fill="#00d5ff"/>
<rect x="486" y="40" width="11" height="11" fill="#00d5ff"/>
<rect x="496" y="40" width="11" height="11" fill="#00d5ff"/>
<rect x="506" y="40" width="11" height="11" fill="#47ffb8"/>
<rect x="516" y="40" width="11" height="11" fill="#b8ff47"/>
<rect x="526" y="40" width="11" height="11" fill="#ffd400"/>
<rect x="536" y="40" width="11" height="11" fill="#ff6300"/>
<rect x="546" y="40" width="11" height="11" fill="#ff6300"/>
<rect x="556" y="40" width="11" height="11" fill="#ff6300"/>
<rect x="566" y="40" width="11" height="11" fill="#ff6300"/>
<rect x="576" y="40" width="11" height="11" fill="#ff6300"/>
<rect x="326" y="50" width="11" height="11" fill="#0000f1"/>
<rect x="336" y="50" width="11" height="11" fill="#0000f1"/>
<rect x="346" y="50" width="11" height="11" fill="#0000f1"/>
<rect x="356" y="50" width="11" height="11" fill="#0000f1"/>
<rect x="366" y="50" width="11" height="11" fill="#0000f1"/>
<rect x="376" y="50" width="11" height="11" fill="#0000f1"/>
<rect x="386" y="50" width="11" height="11" fill="#0000f1"/>
<rect x="396" y="50" width="11" height="11" fill="#0000f1"/>
<rect x="406" y="50" width="11" height="11" fill="#0000f1"/>
<rect x="416" y="50" width="11" height="11" fill="none"/>
<rect x="426" y="50" width="11" height="11" fill="none"/>
<rect x="436" y="50" width="11" height="11" fill="#0000f1"/>
<rect x="446" y="50" width="11" height="11" fill="#0000f1"/>
<rect x="456" y="50" width="11" height="11" fill="#0000f1"/>
<rect x="466" y="50" width="11" height="11" fill="#0063ff"/>
<rect x="476" y="50" width="11" height="11" fill="#00d5ff"/>
<rect x="486" y="50" width="11" height="11" fill="#00d5ff"/>
<rect x="496" y="50" width="11" height="11" fill="#47ffb8"/>
<rect x="506" y="50" width="11" height="11" fill="#b8ff47"/>
<rect x="516" y="50" width="11" height="11" fill="#ffd400"/>
<rect x="526" y="50" width="11" height="11" fill="#ff6300"/>
<rect x="536" y="50" width="11" height="11" fill="#ff6300"/>
<rect x="546" y="50" width="11" height="11" fill="#ff6300"/>
<rect x="556" y="50" width="11" height="11" fill="#ff6300"/>
<rect x="566" y="50" width="11" height="11" fill="#ff6300"/>
<rect x="576" y="50" width="11" height="11" fill="#ff6300"/>
<rect x="326" y="60" width="11" height="11" fill="#00d5ff"/>
<rect x="336" y="60" width="11" height="11" fill="#00d5ff"/>
<rect x="346" y="60" width="11" height="11" fill="#00d5ff"/>
<rect x="356" y="60" width="11" height="11" fill="#00d5ff"/>
<rect x="366" y="60" width="11" height="11" fill="#00d5ff"/>
<rect x="376" y="60" width="11" height="11" fill="#00d5ff"/>
<rect x="386" y="60" width="11" height="11" fill="#00d5ff"/>
<rect x="396" y="60" width="11" height="11" fill="none"/>
<rect x="406" y="60" width="11" height="11" fill="#0000f1"/>
<rect x="416" y="60" width="11" height="11" fill="none"/>
<rect x="426" y="60" width="11" height="11" fill="#ff6300"/>
<rect x="436" y="60" width="11" height="11" fill="#ffd400"/>
<rect x="446" y="60" width="11" height="11" fill="#0000f1"/>
<rect x="456" y="60" width="11" height="11" fill="none"/>
<rect x="466" y="60" width="11" height="11" fill="#0063ff"/>
<rect x="476" y="60" width="11" height="11" fill="#00d5ff"/>
<rect x="486" y="60" width="11" height="11" fill="#00d5ff"/>
<rect x="496" y="60" width="11" height="11" fill="#47ffb8"/>
<rect x="506" y="60" width="11" height="11" fill="#47ffb8"/>
<rect x="516" y="60" width="11" height="11" fill="#ffd400"/>
<rect x="526" y="60" width="11" height="11" fill="#ff6300"/>
<rect x="536" y="60" width="11" height="11" fill="#ff6300"/>
<rect x="546" y="60" width="11" height="11" fill="#ff6300"/>
<rect x="556" y="60" width="11" height="11" fill="#ff6300"/>
<rect x="566" y="60" width="11" height="11" fill="#ff6300"/>
<rect x="576" y="60" width="11" height="11" fill="#ff6300"/>
<rect x="326" y="70" width="11" height="11" fill="#00d5ff"/>
<rect x="336" y="70" width="11" height="11" fill="#00d5ff"/>
<rect x="346" y="70" width="11" height="11" fill="#00d5ff"/>
<rect x="356" y="70" width="11" height="11" fill="#00d5ff"/>
<rect x="366" y="70" width="11" height="11" fill="#00d5ff"/>
<rect x="376" y="70" width="11" height="11" fill="#00d5ff"/>
<rect x="386" y="70" width="11" height="11" fill="#00d5ff"/>
<rect x="396" y="70" width="11" height="11" fill="#47ffb8"/>
<rect x="406" y="70" width="11" height="11" fill="#0000f1"/>
<rect x="416" y="70" width="11" height="11" fill="none"/>
<rect x="426" y="70" width="11" height="11" fill="#0063ff"/>
<rect x="436" y="70" width="11" height="11" fill="#ff6300"/>
<rect x="446" y="70" width="11" height="11" fill="#0000f1"/>
<rect x="456" y="70" width="11" height="11" fill="#00d5ff"/>
<rect x="466" y="70" width="11" height="11" fill="#47ffb8"/>
<rect x="476" y="70" width="11" height="11" fill="#00d5ff"/>
<rect x="486" y="70" width="11" height="11" fill="#00d5ff"/>
<rect x="496" y="70" width="11" height="11" fill="none"/>
<rect x="506" y="70" width="11" height="11" fill="#47ffb8"/>
<rect x="516" y="70" width="11" height="11" fill="#47ffb8"/>
<rect x="526" y="70" width="11" height="11" fill="#ff6300"/>
<rect x="536" y="70" width="11" height="11" fill="#ff6300"/>
<rect x="546" y="70" width="11" height="11" fill="#ff6300"/>
<rect x="556" y="70" width="11" height="11" fill="#ff6300"/>
<rect x="566" y="70" width="11" height="11" fill="#ff6300"/>
<rect x="576" y="70" width="11" height="11" fill="#ff6300"/>
<rect x="326" y="80" width="11" height="11" fill="#00d5ff"/>
<rect x="336" y="80" width="11" height="11" fill="#00d5ff"/>
<rect x="346" y="80" width="11" height="11" fill="#00d5ff"/>
<rect x="356" y="80" width="11" height="11" fill="#00d5ff"/>
<rect x="366" y="80" width="11" height="11" fill="#00d5ff"/>
<rect x="376" y="80" width="11" height="11" fill="#00d5ff"/>
<rect x="386" y="80" width="11" height="11" fill="#00d5ff"/>
<rect x="396" y="80" width="11" height="11" fill="#47ffb8"/>
<rect x="406" y="80" width="11" height="11" fill="#47ffb8"/>
<rect x="416" y="80" width="11" height="11" fill="#00d5ff"/>
<rect x="426" y="80" width="11" height="11" fill="#00d5ff"/>
<rect x="436" y="80" width="11" height="11" fill="#ffd400"/>
<rect x="446" y="80" width="11" height="11" fill="#0000f1"/>
<rect x="456" y="80" width="11" height="11" fill="#00d5ff"/>
<rect x="466" y="80" width="11" height="11" fill="#47ffb8"/>
<rect x="476" y="80" width="11" height="11" fill="#47ffb8"/>
<rect x="486" y="80" width="11" height="11" fill="#47ffb8"/>
<rect x="496" y="80" width="11" height="11" fill="#b8ff47"/>
<rect x="506" y="80" width="11" height="11" fill="#47ffb8"/>
<rect x="516" y="80" width="11" height="11" fill="#ff6300"/>
<rect x="526" y="80" width="11" height="11" fill="#f10000"/>
<rect x="536" y="80" width="11" height="11" fill="#ff6300"/>
<rect x="546" y="80" width="11" height="11" fill="#ff6300"/>
<rect x="556" y="80" width="11" height="11" fill="#ff6300"/>
<rect x="566" y="80" width="11" height="11" fill="#ff6300"/>
<rect x="576" y="80" width="11" height="11" fill="#ff6300"/>
<rect x="326" y="90" width="11" height="11" fill="#47ffb8"/>
<rect x="336" y="90" width="11" height="11" fill="#47ffb8"/>
<rect x="346" y="90" width="11" height="11" fill="#47ffb8"/>
<rect x="356" y="90" width="11" height="11" fill="#47ffb8"/>
<rect x="366" y="90" width="11" height="11" fill="#47ffb8"/>
<rect x="376" y="90" width="11" height="11" fill="#47ffb8"/>
<rect x="386" y="90" width="11" height="11" fill="#b8ff47"/>
<rect x="396" y="90" width="11" height="11" fill="#ff6300"/>
<rect x="406" y="90" width="11" height="11" fill="#ff6300"/>
<rect x="416" y="90" width="11" height="11" fill="#f10000"/>
<rect x="426" y="90" width="11" height="11" fill="#f10000"/>
<rect x="436" y="90" width="11" height="11" fill="#ffd400"/>
<rect x="446" y="90" width="11" height="11" fill="#0000f1"/>
<rect x="456" y="90" width="11" height="11" fill="#ff6300"/>
<rect x="466" y="90" width="11" height="11" fill="#47ffb8"/>
<rect x="476" y="90" width="11" height="11" fill="#ffd400"/>
<rect x="486" y="90" width="11" height="11" fill="#ffd400"/>
<rect x="496" y="90" width="11" height="11" fill="#ff6300"/>
<rect x="506" y="90" width="11" height="11" fill="#47ffb8"/>
<rect x="516" y="90" width="11" height="11" fill="#ffd400"/>
<rect x="526" y="90" width="11" height="11" fill="#f10000"/>
<rect x="536" y="90" width="11" height="11" fill="#f10000"/>
<rect x="546" y="90" width="11" height="11" fill="#f10000"/>
<rect x="556" y="90" width="11" height="11" fill="#f10000"/>
<rect x="566" y="90" width="11" height="11" fill="#f10000"/>
<rect x="576" y="90" width="11" height="11" fill="#f10000"/>
<rect x="326" y="100" width="11" height="11" fill="#f10000"/>
<rect x="336" y="100" width="11" height="11" fill="#f10000"/>
<rect x="346" y="100" width="11" height="11" fill="#f10000"/>
<rect x="356" y="100" width="11" height="11" fill="#f10000"/>
<rect x="366" y="100" width="11" height="11" fill="#b8ff47"/>
<rect x="376" y="100" width="11" height="11" fill="#b8ff47"/>
<rect x="386" y="100" width="11" height="11" fill="#f10000"/>
<rect x="396" y="100" width="11" height="11" fill="#f10000"/>
<rect x="406" y="100" width="11" height="11" fill="#f10000"/>
<rect x="416" y="100" width="11" height="11" fill="#f10000"/>
<rect x="426" y="100" width="11" height="11" fill="#f10000"/>
<rect x="436" y="100" width="11" height="11" fill="#f10000"/>
<rect x="446" y="100" width="11" height="11" fill="#f10000"/>
<rect x="456" y="100" width="11" height="11" fill="#ff6300"/>
<rect x="466" y="100" width="11" height="11" fill="#ff6300"/>
<rect x="476" y="100" width="11" height="11" fill="#ffd400"/>
<rect x="486" y="100" width="11" height="11" fill="#ff6300"/>
<rect x="496" y="100" width="11" height="11" fill="#f10000"/>
<rect x="506" y="100" width="11" height="11" fill="#ff6300"/>
<rect x="516" y="100" width="11" height="11" fill="#47ffb8"/>
<rect x="526" y="100" width="11" height="11" fill="#f10000"/>
<rect x="536" y="100" width="11" height="11" fill="#f10000"/>
<rect x="546" y="100" width="11" height="11" fill="#f10000"/>
<rect x="556" y="100" width="11" height="11" fill="#f10000"/>
<rect x="566" y="100" width="11" height="11" fill="#f10000"/>
<rect x="576" y="100" width="11" height="11" fill="#f10000"/>
<rect x="326" y="110" width="11" height="11" fill="#f10000"/>
<rect x="336" y="110" width="11" height="11" fill="#f10000"/>
<rect x="346" y="110" width="11" height="11" fill="#f10000"/>
<rect x="356" y="110" width="11" height="11" fill="#f10000"/>
<rect x="366" y="110" width="11" height="11" fill="#f10000"/>
<rect x="376" y="110" width="11" height="11" fill="#f10000"/>
<rect x="386" y="110" width="11" height="11" fill="#f10000"/>
<rect x="396" y="110" width="11" height="11" fill="#f10000"/>
<rect x="406" y="110" width="11" height="11" fill="#f10000"/>
<rect x="416" y="110" width="11" height="11" fill="#f10000"/>
<rect x="426" y="110" width="11" height="11" fill="#f10000"/>
<rect x="436" y="110" width="11" height="11" fill="#f10000"/>
<rect x="446" y="110" width="11" height="11" fill="#f10000"/>
<rect x="456" y="110" width="11" height="11" fill="#a80000"/>
<rect x="466" y="110" width="11" height="11" fill="#f10000"/>
<rect x="476" y="110" width="11" height="11" fill="#f10000"/>
<rect x="486" y="110" width="11" height="11" fill="#f10000"/>
<rect x="496" y="110" width="11" height="11" fill="#ff6300"/>
<rect x="506" y="110" width="11" height="11" fill="#f10000"/>
<rect x="516" y="110" width="11" height="11" fill="#f10000"/>
<rect x="526" y="110" width="11" height="11" fill="#f10000"/>
<rect x="536" y="110" width="11" height="11" fill="#f10000"/>
<rect x="546" y="110" width="11" height="11" fill="#f10000"/>
<rect x="556" y="110" width="11" height="11" fill="#f10000"/>
<rect x="566" y="110" width="11" height="11" fill="#f10000"/>
<rect x="576" y="110" width="11" height="11" fill="#f10000"/>
<rect x="326" y="120" width="11" height="11" fill="#f10000"/>
<rect x="336" y="120" width="11" height="11" fill="#f10000"/>
<rect x="346" y="120" width="11" height="11" fill="#f10000"/>
<rect x="356" y="120" width="11" height="11" fill="#f10000"/>
<rect x="366" y="120" width="11" height="11" fill="#f10000"/>
<rect x="376" y="120" width="11" height="11" fill="#f10000"/>
<rect x="386" y="120" width="11" height="11" fill="#f10000"/>
<rect x="396" y="120" width="11" height="11" fill="#f10000"/>
<rect x="406" y="120" width="11" height="11" fill="#a80000"/>
<rect x="416" y="120" width="11" height="11" fill="#a80000"/>
<rect x="426" y="120" width="11" height="11" fill="#a80000"/>
<rect x="436" y="120" width="11" height="11" fill="#f10000"/>
<rect x="446" y="120" width="11" height="11" fill="#a80000"/>
<rect x="456" y="120" width="11" height="11" fill="#a80000"/>
<rect x="466" y="120" width="11" height="11" fill="#a80000"/>
<rect x="476" y="120" width="11" height="11" fill="#f10000"/>
<rect x="486" y="120" width="11" height="11" fill="#f10000"/>
<rect x="496" y="120" width="11" height="11" fill="#ffd400"/>
<rect x="506" y="120" width="11" height="11" fill="#f10000"/>
<rect x="516" y="120" width="11" height="11" fill="#f10000"/>
<rect x="526" y="120" width="11" height="11" fill="#f10000"/>
<rect x="536" y="120" width="11" height="11" fill="#f10000"/>
<rect x="546" y="120" width="11" height="11" fill="#f10000"/>
<rect x="556" y="120" width="11" height="11" fill="#f10000"/>
<rect x="566" y="120" width="11" height="11" fill="#f10000"/>
<rect x="576" y="120" width="11" height="11" fill="#f10000"/>
<rect x="326" y="130" width="11" height="11" fill="#f10000"/>
<rect x="336" y="130" width="11" height="11" fill="#f10000"/>
<rect x="346" y="130" width="11" height="11" fill="#f10000"/>
<rect x="356" y="130" width="11" height="11" fill="#f10000"/>
<rect x="366" y="130" width="11" height="11" fill="#f10000"/>
<rect x="376" y="130" width="11" height="11" fill="#f10000"/>
<rect x="386" y="130" width="11" height="11" fill="#f10000"/>
<rect x="396" y="130" width="11" height="11" fill="#a80000"/>
<rect x="406" y="130" width="11" height="11" fill="#a80000"/>
<rect x="416" y="130" width="11" height="11" fill="#a80000"/>
<rect x="426" y="130" width="11" height="11" fill="#a80000"/>
<rect x="436" y="130" width="11" height="11" fill="#a80000"/>
<rect x="446" y="130" width="11" height="11" fill="#a80000"/>
<rect x="456" y="130" width="11" height="11" fill="#a80000"/>
<rect x="466" y="130" width="11" height="11" fill="#a80000"/>
<rect x="476" y="130" width="11" height="11" fill="#f10000"/>
<rect x="486" y="130" width="11" height="11" fill="#f10000"/>
<rect x="496" y="130" width="11" height="11" fill="#ffd400"/>
<rect x="506" y="130" width="11" height="11" fill="#ffd400"/>
<rect x="516" y="130" width="11" height="11" fill="#f10000"/>
<rect x="526" y="130" width="11" height="11" fill="#f10000"/>
<rect x="536" y="130" width="11" height="11" fill="#f10000"/>
<rect x="546" y="130" width="11" height="11" fill="#f10000"/>
<rect x="556" y="130" width="11" height="11" fill="#f10000"/>
<rect x="566" y="130" width="11" height="11" fill="#f10000"/>
<rect x="576" y="130" width="11" height="11" fill="#f10000"/>
<rect x="326" y="140" width="11" height="11" fill="#f10000"/>
<rect x="336" y="140" width="11" height="11" fill="#f10000"/>
<rect x="346" y="140" width="11" height="11" fill="#f10000"/>
<rect x="356" y="140" width="11" height="11" fill="#f10000"/>
<rect x="366" y="140" width="11" height="11" fill="#f10000"/>
<rect x="376" y="140" width="11" height="11" fill="#f10000"/>
<rect x="386" y="140" width="11" height="11" fill="#f10000"/>
<rect x="396" y="140" width="11" height="11" fill="#f10000"/>
<rect x="406" y="140" width="11" height="11" fill="#a80000"/>
<rect x="416" y="140" width="11" height="11" fill="#a80000"/>
<rect x="426" y="140" width="11" height="11" fill="#a80000"/>
<rect x="436" y="140" width="11" height="11" fill="#a80000"/>
<rect x="446" y="140" width="11" height="11" fill="#f10000"/>
<rect x="456" y="140" width="11" height="11" fill="#f10000"/>
<rect x="466" y="140" width="11" height="11" fill="#f10000"/>
<rect x="476" y="140" width="11" height="11" fill="#ff6300"/>
<rect x="486" y="140" width="11" height="11" fill="#ffd400"/>
<rect x="496" y="140" width="11" height="11" fill="#ffd400"/>
<rect x="506" y="140" width="11" height="11" fill="#ffd400"/>
<rect x="516" y="140" width="11" height="11" fill="#ffd400"/>
<rect x="526" y="140" width="11" height="11" fill="#0063ff"/>
<rect x="536" y="140" width="11" height="11" fill="#0063ff"/>
<rect x="546" y="140" width="11" height="11" fill="#0063ff"/>
<rect x="556" y="140" width="11" height="11" fill="#0063ff"/>
<rect x="566" y="140" width="11" height="11" fill="#0063ff"/>
<rect x="576" y="140" width="11" height="11" fill="#0063ff"/>
<rect x="326" y="150" width="11" height="11" fill="#b8ff47"/>
<rect x="336" y="150" width="11" height="11" fill="#b8ff47"/>
<rect x="346" y="150" width="11" height="11" fill="#b8ff47"/>
<rect x="356" y="150" width="11" height="11" fill="#b8ff47"/>
<rect x="366" y="150" width="11" height="11" fill="#ff6300"/>
<rect x="376" y="150" width="11" height="11" fill="#ff6300"/>
<rect x="386" y="150" width="11" height="11" fill="#ff6300"/>
<rect x="396" y="150" width="11" height="11" fill="#ff6300"/>
<rect x="406" y="150" width="11" height="11" fill="#ff6300"/>
<rect x="416" y="150" width="11" height="11" fill="#ffd400"/>
<rect x="426" y="150" width="11" height="11" fill="#ff6300"/>
<rect x="436" y="150" width="11" height="11" fill="#ff6300"/>
<rect x="446" y="150" width="11" height="11" fill="#ff6300"/>
<rect x="456" y="150" width="11" height="11" fill="#f10000"/>
<rect x="466" y="150" width="11" height="11" fill="#f10000"/>
<rect x="476" y="150" width="11" height="11" fill="#ff6300"/>
<rect x="486" y="150" width="11" height="11" fill="#47ffb8"/>
<rect x="496" y="150" width="11" height="11" fill="#00d5ff"/>
<rect x="506" y="150" width="11" height="11" fill="#ffd400"/>
<rect x="516" y="150" width="11" height="11" fill="#ffd400"/>
<rect x="526" y="150" width="11" height="11" fill="#0063ff"/>
<rect x="536" y="150" width="11" height="11" fill="#0063ff"/>
<rect x="546" y="150" width="11" height="11" fill="#0063ff"/>
<rect x="556" y="150" width="11" height="11" fill="#0063ff"/>
<rect x="566" y="150" width="11" height="11" fill="#0063ff"/>
<rect x="576" y="150" width="11" height="11" fill="#0063ff"/>
<rect x="326" y="160" width="11" height="11" fill="#b8ff47"/>
<rect x="336" y="160" width="11" height="11" fill="#b8ff47"/>
<rect x="346" y="160" width="11" height="11" fill="#b8ff47"/>
<rect x="356" y="160" width="11" height="11" fill="#b8ff47"/>
<rect x="366" y="160" width="11" height="11" fill="#0000f1"/>
<rect x="376" y="160" width="11" height="11" fill="none"/>
<rect x="386" y="160" width="11" height="11" fill="none"/>
<rect x="396" y="160" width="11" height="11" fill="#ffd400"/>
<rect x="406" y="160" width="11" height="11" fill="#b8ff47"/>
<rect x="416" y="160" width="11" height="11" fill="#b8ff47"/>
<rect x="426" y="160" width="11" height="11" fill="#b8ff47"/>
<rect x="436" y="160" width="11" height="11" fill="#ff6300"/>
<rect x="446" y="160" width="11" height="11" fill="#ff6300"/>
<rect x="456" y="160" width="11" height="11" fill="#ff6300"/>
<rect x="466" y="160" width="11" height="11" fill="#ffd400"/>
<rect x="476" y="160" width="11" height="11" fill="#47ffb8"/>
<rect x="486" y="160" width="11" height="11" fill="#00d5ff"/>
<rect x="496" y="160" width="11" height="11" fill="#00d5ff"/>
<rect x="506" y="160" width="11" height="11" fill="#ff6300"/>
<rect x="516" y="160" width="11" height="11" fill="#ff6300"/>
<rect x="526" y="160" width="11" height="11" fill="#ff6300"/>
<rect x="536" y="160" width="11" height="11" fill="#ff6300"/>
<rect x="546" y="160" width="11" height="11" fill="#ff6300"/>
<rect x="556" y="160" width="11" height="11" fill="#ff6300"/>
<rect x="566" y="160" width="11" height="11" fill="#ff6300"/>
<rect x="576" y="160" width="11" height="11" fill="#ff6300"/>
<rect x="326" y="170" width="11" height="11" fill="#0000f1"/>
<rect x="336" y="170" width="11" height="11" fill="#0000f1"/>
<rect x="346" y="170" width="11" height="11" fill="#0000f1"/>
<rect x="356" y="170" width="11" height="11" fill="#0000f1"/>
<rect x="366" y="170" width="11" height="11" fill="#0000f1"/>
<rect x="376" y="170" width="11" height="11" fill="none"/>
<rect x="386" y="170" width="11" height="11" fill="none"/>
<rect x="396" y="170" width="11" height="11" fill="none"/>
<rect x="406" y="170" width="11" height="11" fill="#0063ff"/>
<rect x="416" y="170" width="11" height="11" fill="none"/>
<rect x="426" y="170" width="11" height="11" fill="none"/>
<rect x="436" y="170" width="11" height="11" fill="none"/>
<rect x="446" y="170" width="11" height="11" fill="none"/>
<rect x="456" y="170" width="11" height="11" fill="none"/>
<rect x="466" y="170" width="11" height="11" fill="none"/>
<rect x="476" y="170" width="11" height="11" fill="#47ffb8"/>
<rect x="486" y="170" width="11" height="11" fill="#00d5ff"/>
<rect x="496" y="170" width="11" height="11" fill="#0063ff"/>
<rect x="506" y="170" width="11" height="11" fill="#ff6300"/>
<rect x="516" y="170" width="11" height="11" fill="#f10000"/>
<rect x="526" y="170" width="11" height="11" fill="#f10000"/>
<rect x="536" y="170" width="11" height="11" fill="#f10000"/>
<rect x="546" y="170" width="11" height="11" fill="#f10000"/>
<rect x="556" y="170" width="11" height="11" fill="#f10000"/>
<rect x="566" y="170" width="11" height="11" fill="#f10000"/>
<rect x="576" y="170" width="11" height="11" fill="#f10000"/>
<rect x="326" y="180" width="11" height="11" fill="#0000f1"/>
<rect x="336" y="180" width="11" height="11" fill="#0000f1"/>
<rect x="346" y="180" width="11" height="11" fill="#0000f1"/>
<rect x="356" y="180" width="11" height="11" fill="#0000f1"/>
<rect x="366" y="180" width="11" height="11" fill="#0000f1"/>
<rect x="376" y="180" width="11" height="11" fill="none"/>
<rect x="386" y="180" width="11" height="11" fill="none"/>
<rect x="396" y="180" width="11" height="11" fill="none"/>
<rect x="406" y="180" width="11" height="11" fill="none"/>
<rect x="416" y="180" width="11" height="11" fill="none"/>
<rect x="426" y="180" width="11" height="11" fill="none"/>
<rect x="436" y="180" width="11" height="11" fill="none"/>
<rect x="446" y="180" width="11" height="11" fill="none"/>
<rect x="456" y="180" width="11" height="11" fill="none"/>
<rect x="466" y="180" width="11" height="11" fill="none"/>
<rect x="476" y="180" width="11" height="11" fill="#00d5ff"/>
<rect x="486" y="180" width="11" height="11" fill="#00d5ff"/>
<rect x="496" y="180" width="11" height="11" fill="#00d5ff"/>
<rect x="506" y="180" width="11" height="11" fill="#0063ff"/>
<rect x="516" y="180" width="11" height="11" fill="#f10000"/>
<rect x="526" y="180" width="11" height="11" fill="#f10000"/>
<rect x="536" y="180" width="11" height="11" fill="#f10000"/>
<rect x="546" y="180" width="11" height="11" fill="#f10000"/>
<rect x="556" y="180" width="11" height="11" fill="#f10000"/>
<rect x="566" y="180" width="11" height="11" fill="#f10000"/>
<rect x="576" y="180" width="11" height="11" fill="#f10000"/>
<rect x="326" y="190" width="11" height="11" fill="#0000f1"/>
<rect x="336" y="190" width="11" height="11" fill="#0000f1"/>
<rect x="346" y="190" width="11" height="11" fill="#0000f1"/>
<rect x="356" y="190" width="11" height="11" fill="#0000f1"/>
<rect x="366" y="190" width="11" height="11" fill="#0000f1"/>
<rect x="376" y="190" width="11" height="11" fill="none"/>
<rect x="386" y="190" width="11" height="11" fill="none"/>
<rect x="396" y="190" width="11" height="11" fill="none"/>
<rect x="406" y="190" width="11" height="11" fill="none"/>
<rect x="416" y="190" width="11" height="11" fill="none"/>
<rect x="426" y="190" width="11" height="11" fill="none"/>
<rect x="436" y="190" width="11" height="11" fill="none"/>
<rect x="446" y="190" width="11" height="11" fill="none"/>
<rect x="456" y="190" width="11" height="11" fill="none"/>
<rect x="466" y="190" width="11" height="11" fill="none"/>
<rect x="476" y="190" width="11" height="11" fill="#00d5ff"/>
<rect x="486" y="190" width="11" height="11" fill="#00d5ff"/>
<rect x="496" y="190" width="11" height="11" fill="#00d5ff"/>
<rect x="506" y="190" width="11" height="11" fill="#0063ff"/>
<rect x="516" y="190" width="11" height="11" fill="#0063ff"/>
<rect x="526" y="190" width="11" height="11" fill="#0063ff"/>
<rect x="536" y="190" width="11" height="11" fill="#0063ff"/>
<rect x="546" y="190" width="11" height="11" fill="#0063ff"/>
<rect x="556" y="190" width="11" height="11" fill="#0063ff"/>
<rect x="566" y="190" width="11" height="11" fill="#0063ff"/>
<rect x="576" y="190" width="11" height="11" fill="#0063ff"/>
<rect x="326" y="200" width="11" height="11" fill="#0000f1"/>
<rect x="336" y="200" width="11" height="11" fill="#0000f1"/>
<rect x="346" y="200" width="11" height="11" fill="#0000f1"/>
<rect x="356" y="200" width="11" height="11" fill="#0000f1"/>
<rect x="366" y="200" width="11" height="11" fill="#0000f1"/>
<rect x="376" y="200" width="11" height="11" fill="none"/>
<rect x="386" y="200" width="11" height="11" fill="none"/>
<rect x="396" y="200" width="11" height="11" fill="none"/>
<rect x="406" y="200" width="11" height="11" fill="none"/>
<rect x="416" y="200" width="11" height="11" fill="none"/>
<rect x="426" y="200" width="11" height="11" fill="none"/>
<rect x="436" y="200" width="11" height="11" fill="none"/>
<rect x="446" y="200" width="11" height="11" fill="none"/>
<rect x="456" y="200" width="11" height="11" fill="none"/>
<rect x="466" y="200" width="11" height="11" fill="none"/>
<rect x="476" y="200" width="11" height="11" fill="#00d5ff"/>
<rect x="486" y="200" width="11" height="11" fill="#00d5ff"/>
<rect x="496" y="200" width="11" height="11" fill="#00d5ff"/>
<rect x="506" y="200" width="11" height="11" fill="#0063ff"/>
<rect x="516" y="200" width="11" height="11" fill="#0063ff"/>
<rect x="526" y="200" width="11" height="11" fill="#0063ff"/>
<rect x="536" y="200" width="11" height="11" fill="#0063ff"/>
<rect x="546" y="200" width="11" height="11" fill="#0063ff"/>
<rect x="556" y="200" width="11" height="11" fill="#0063ff"/>
<rect x="566" y="200" width="11" height="11" fill="#0063ff"/>
<rect x="576" y="200" width="11" height="11" fill="#0063ff"/>
<rect x="326" y="210" width="11" height="11" fill="#0000f1"/>
<rect x="336" y="210" width="11" height="11" fill="#0000f1"/>
<rect x="346" y="210" width="11" height="11" fill="#0000f1"/>
<rect x="356" y="210" width="11" height="11" fill="#0000f1"/>
<rect x="366" y="210" width="11" height="11" fill="#0000f1"/>
<rect x="376" y="210" width="11" height="11" fill="none"/>
<rect x="386" y="210" width="11" height="11" fill="none"/>
<rect x="396" y="210" width="11" height="11" fill="none"/>
<rect x="406" y="210" width="11" height="11" fill="none"/>
<rect x="416" y="210" width="11" height="11" fill="none"/>
<rect x="426" y="210" width="11" height="11" fill="none"/>
<rect x="436" y="210" width="11" height="11" fill="none"/>
<rect x="446" y="210" width="11" height="11" fill="none"/>
<rect x="456" y="210" width="11" height="11" fill="none"/>
<rect x="466" y="210" width="11" height="11" fill="none"/>
<rect x="476" y="210" width="11" height="11" fill="#00d5ff"/>
<rect x="486" y="210" width="11" height="11" fill="#00d5ff"/>
<rect x="496" y="210" width="11" height="11" fill="#00d5ff"/>
<rect x="506" y="210" width="11" height="11" fill="#0063ff"/>
<rect x="516" y="210" width="11" height="11" fill="#0063ff"/>
<rect x="526" y="210" width="11" height="11" fill="#0063ff"/>
<rect x="536" y="210" width="11" height="11" fill="#0063ff"/>
<rect x="546" y="210" width="11" height="11" fill="#0063ff"/>
<rect x="556" y="210" width="11" height="11" fill="#0063ff"/>
<rect x="566" y="210" width="11" height="11" fill="#0063ff"/>
<rect x="576" y="210" width="11" height="11" fill="#0063ff"/></g>
<mask id="spB2" maskUnits="userSpaceOnUse" x="0" y="0" width="567" height="240"><g filter="url(#bl)"><rect x="346" y="20" width="10" height="10" fill="#fff"/><rect x="356" y="20" width="10" height="10" fill="#fff"/><rect x="366" y="20" width="10" height="10" fill="#fff"/><rect x="376" y="20" width="10" height="10" fill="#fff"/><rect x="386" y="20" width="10" height="10" fill="#fff"/><rect x="396" y="20" width="10" height="10" fill="#fff"/><rect x="406" y="20" width="10" height="10" fill="#fff"/><rect x="436" y="20" width="10" height="10" fill="#fff"/><rect x="466" y="20" width="10" height="10" fill="#fff"/><rect x="476" y="20" width="10" height="10" fill="#fff"/><rect x="526" y="20" width="10" height="10" fill="#fff"/><rect x="536" y="20" width="10" height="10" fill="#fff"/><rect x="546" y="20" width="10" height="10" fill="#fff"/><rect x="556" y="20" width="10" height="10" fill="#fff"/><rect x="346" y="30" width="10" height="10" fill="#fff"/><rect x="356" y="30" width="10" height="10" fill="#fff"/><rect x="366" y="30" width="10" height="10" fill="#fff"/><rect x="376" y="30" width="10" height="10" fill="#fff"/><rect x="386" y="30" width="10" height="10" fill="#fff"/><rect x="396" y="30" width="10" height="10" fill="#fff"/><rect x="426" y="30" width="10" height="10" fill="#fff"/><rect x="436" y="30" width="10" height="10" fill="#fff"/><rect x="446" y="30" width="10" height="10" fill="#fff"/><rect x="456" y="30" width="10" height="10" fill="#fff"/><rect x="496" y="30" width="10" height="10" fill="#fff"/><rect x="346" y="40" width="10" height="10" fill="#fff"/><rect x="356" y="40" width="10" height="10" fill="#fff"/><rect x="366" y="40" width="10" height="10" fill="#fff"/><rect x="376" y="40" width="10" height="10" fill="#fff"/><rect x="386" y="40" width="10" height="10" fill="#fff"/><rect x="396" y="40" width="10" height="10" fill="#fff"/><rect x="416" y="40" width="10" height="10" fill="#fff"/><rect x="426" y="40" width="10" height="10" fill="#fff"/><rect x="436" y="40" width="10" height="10" fill="#fff"/><rect x="446" y="40" width="10" height="10" fill="#fff"/><rect x="456" y="40" width="10" height="10" fill="#fff"/><rect x="346" y="50" width="10" height="10" fill="#fff"/><rect x="356" y="50" width="10" height="10" fill="#fff"/><rect x="366" y="50" width="10" height="10" fill="#fff"/><rect x="376" y="50" width="10" height="10" fill="#fff"/><rect x="386" y="50" width="10" height="10" fill="#fff"/><rect x="396" y="50" width="10" height="10" fill="#fff"/><rect x="406" y="50" width="10" height="10" fill="#fff"/><rect x="436" y="50" width="10" height="10" fill="#fff"/><rect x="446" y="50" width="10" height="10" fill="#fff"/><rect x="456" y="50" width="10" height="10" fill="#fff"/><rect x="466" y="50" width="10" height="10" fill="#fff"/><rect x="406" y="60" width="10" height="10" fill="#fff"/><rect x="446" y="60" width="10" height="10" fill="#fff"/><rect x="466" y="60" width="10" height="10" fill="#fff"/><rect x="406" y="70" width="10" height="10" fill="#fff"/><rect x="426" y="70" width="10" height="10" fill="#fff"/><rect x="446" y="70" width="10" height="10" fill="#fff"/><rect x="446" y="80" width="10" height="10" fill="#fff"/><rect x="446" y="90" width="10" height="10" fill="#fff"/><rect x="526" y="140" width="10" height="10" fill="#fff"/><rect x="536" y="140" width="10" height="10" fill="#fff"/><rect x="546" y="140" width="10" height="10" fill="#fff"/><rect x="556" y="140" width="10" height="10" fill="#fff"/><rect x="526" y="150" width="10" height="10" fill="#fff"/><rect x="536" y="150" width="10" height="10" fill="#fff"/><rect x="546" y="150" width="10" height="10" fill="#fff"/><rect x="556" y="150" width="10" height="10" fill="#fff"/><rect x="366" y="160" width="10" height="10" fill="#fff"/><rect x="346" y="170" width="10" height="10" fill="#fff"/><rect x="356" y="170" width="10" height="10" fill="#fff"/><rect x="366" y="170" width="10" height="10" fill="#fff"/><rect x="406" y="170" width="10" height="10" fill="#fff"/><rect x="496" y="170" width="10" height="10" fill="#fff"/><rect x="346" y="180" width="10" height="10" fill="#fff"/><rect x="356" y="180" width="10" height="10" fill="#fff"/><rect x="366" y="180" width="10" height="10" fill="#fff"/><rect x="506" y="180" width="10" height="10" fill="#fff"/><rect x="346" y="190" width="10" height="10" fill="#fff"/><rect x="356" y="190" width="10" height="10" fill="#fff"/><rect x="366" y="190" width="10" height="10" fill="#fff"/><rect x="506" y="190" width="10" height="10" fill="#fff"/><rect x="516" y="190" width="10" height="10" fill="#fff"/><rect x="526" y="190" width="10" height="10" fill="#fff"/><rect x="536" y="190" width="10" height="10" fill="#fff"/><rect x="546" y="190" width="10" height="10" fill="#fff"/><rect x="556" y="190" width="10" height="10" fill="#fff"/></g></mask><rect x="326" y="0" width="260" height="220" fill="url(#spk)" mask="url(#spB2)" opacity="0.90"/>
<polyline points="355.8,148.4 357.3,150.0 357.8,152.2 357.7,154.5 358.6,156.5 360.9,158.8 362.9,160.5 365.1,163.3 366.2,166.2 368.1,169.0 371.0,170.7 372.5,172.4 377.6,176.1 380.8,177.9 386.2,176.1 390.1,175.4 392.6,175.8 395.0,176.8 399.7,174.7 402.3,173.8 404.6,172.7 406.7,172.3 409.3,172.0 412.6,173.3 414.2,175.0 416.0,178.1 418.6,177.5 421.9,177.5 423.8,178.9 425.3,179.2" fill="none" stroke="#0010e0" stroke-width="1.8" stroke-linejoin="round"/>
</g></g>
<g clip-path="url(#cfB)" fill="none" stroke="#555" stroke-width="0.6" stroke-linejoin="round">
<polygon points="335.4,190.3 359.9,19.5 421.3,19.5 421.3,21.0 421.8,22.5 422.2,24.6 422.4,26.0 424.8,27.3 428.1,26.5 430.3,24.9 432.1,23.6 433.0,22.3 433.5,24.1 433.8,25.7 435.1,28.1 435.7,29.9 437.1,31.3 437.2,33.6 439.8,34.3 440.2,33.4 440.9,32.0 443.5,32.0 444.9,29.1 445.6,26.2 447.3,24.9 449.2,23.6 449.4,22.0 449.0,20.5 447.2,19.5 455.0,19.5 455.4,20.7 456.4,22.0 459.6,21.7 462.7,21.5 466.7,20.7 470.9,21.5 473.5,22.3 470.0,23.1 465.8,23.3 462.1,23.6 459.6,24.6 459.9,26.5 461.4,28.3 461.0,29.9 457.6,28.6 455.7,28.3 454.4,31.3 454.7,33.4 453.6,35.2 452.3,36.0 451.4,36.9 449.5,36.9 448.8,35.8 445.6,36.3 442.5,37.4 439.6,37.9 437.7,37.1 435.0,37.7 432.4,37.9 432.7,36.9 430.6,35.8 430.2,33.9 431.5,32.0 431.6,31.0 432.1,29.9 432.4,28.1 428.0,29.7 426.8,31.3 426.6,33.9 427.6,35.5 428.1,36.6 427.6,38.2 426.2,39.0 423.8,39.3 421.6,39.6 419.3,40.1 418.7,40.9 418.1,42.3 417.0,43.4 415.5,44.7 414.4,45.3 412.9,46.0 411.6,46.2 410.6,48.5 407.6,49.6 406.4,50.5 404.5,50.7 403.5,49.8 403.4,52.0 402.3,52.6 400.0,52.1 396.6,52.7 395.9,53.2 396.8,54.6 398.5,55.2 400.7,56.3 402.0,58.5 403.1,61.0 402.7,63.8 401.8,66.9 398.5,67.2 396.4,67.0 391.5,66.7 387.3,66.3 385.6,67.2 383.4,68.6 384.2,70.5 384.1,73.6 383.1,76.7 381.3,80.4 382.6,81.0 382.7,82.7 382.0,85.2 384.6,85.2 385.9,84.6 388.2,85.8 389.9,88.0 389.6,88.3 389.1,88.6 388.2,90.3 387.0,92.9 384.4,94.8 382.1,96.0 379.8,98.5 378.4,100.8 378.5,103.9 376.6,106.8 374.4,109.3 369.8,111.0 368.3,113.6 365.4,116.2 363.8,119.8 361.2,123.0 360.1,126.4 358.1,129.8 357.9,131.2 359.2,132.9 359.3,135.2 360.0,138.9 358.9,143.4 358.4,145.4 355.8,148.4 357.3,150.0 357.8,152.2 357.7,154.5 358.6,156.5 360.9,158.8 362.9,160.5 365.1,163.3 366.2,166.2 368.1,169.0 371.0,170.7 372.5,172.4 377.6,176.1 380.8,177.9 386.2,176.1 390.1,175.4 392.6,175.8 395.0,176.8 399.7,174.7 402.3,173.8 404.6,172.7 406.7,172.3 409.3,172.0 412.6,173.3 414.2,175.0 416.0,178.1 418.6,177.5 421.9,177.5 423.8,178.9 425.3,179.2 426.1,182.3 425.8,184.6 425.3,187.5 424.8,189.2 424.2,190.3 424.0,190.3"/>
<polygon points="389.9,88.0 393.0,86.1 396.4,85.9 398.6,86.1 401.7,83.5 402.8,81.5 404.6,80.1 403.6,78.1 405.7,75.3 407.6,73.6 410.0,72.8 412.6,70.3 412.5,68.3 414.7,67.2 416.6,67.2 418.0,67.4 419.4,68.0 421.8,66.9 422.5,66.3 426.4,64.4 428.4,65.2 429.5,66.6 430.2,68.6 431.5,70.0 434.0,71.9 435.9,73.3 438.5,74.5 440.8,76.2 442.5,78.1 443.2,79.8 441.8,81.7 442.4,82.4 444.1,81.2 445.3,79.5 445.1,78.4 444.2,76.4 445.6,75.4 447.5,76.7 448.3,77.3 447.4,74.9 444.9,73.6 442.8,71.4 440.7,70.8 437.0,66.6 435.0,65.2 434.6,62.7 434.4,61.6 436.8,60.7 437.8,60.9 437.4,61.8 438.1,63.2 439.3,61.8 441.1,65.2 443.8,66.9 447.8,69.3 450.2,70.8 451.0,73.1 450.9,75.3 452.3,77.8 454.0,79.8 456.6,81.5 455.4,83.5 456.4,85.8 458.1,86.6 459.3,85.2 460.0,83.5 461.2,82.5 462.2,81.2 459.3,78.7 458.5,75.3 461.4,76.7 462.8,74.2 466.4,74.3 468.1,75.6 466.9,78.1 468.9,79.8 467.5,81.2 469.4,81.2 469.7,83.8 472.2,85.8 474.4,86.3 475.7,87.5 478.3,85.5 481.5,86.6 484.0,87.8 485.7,87.5 487.8,85.8 490.7,85.8 491.7,86.3 491.1,88.3 490.9,89.5 491.3,92.3 490.4,94.0 489.5,96.3 489.3,97.1 488.8,99.1 488.0,100.8 486.6,101.9 482.8,101.5 480.6,100.8 478.3,100.8 476.9,101.7 474.7,102.5 470.2,101.2 465.2,100.5 462.2,99.1 458.5,96.8 456.0,97.1 453.0,98.5 452.4,99.1 452.1,102.2 450.6,104.2 448.6,103.7 443.4,101.7 440.4,98.5 437.7,97.1 435.5,96.8 431.8,96.3 430.2,94.3 428.0,94.0 429.7,91.7 430.3,89.2 429.4,88.6 429.4,86.9 430.6,85.1 428.3,84.6 427.6,84.4 424.6,85.5 422.7,85.5 419.3,85.5 416.1,86.3 411.3,85.8 408.5,86.6 404.0,88.3 402.0,88.9 399.5,90.0 398.0,90.6 396.1,90.0 392.9,90.3 390.5,89.2 390.4,88.3"/>
<polygon points="473.9,73.3 471.0,71.9 470.0,69.7 470.9,67.7 472.5,64.9 474.9,62.1 477.0,58.5 478.8,58.2 481.2,59.6 481.3,61.3 482.5,62.1 483.8,64.4 486.1,63.2 488.1,62.7 490.6,61.6 487.5,59.9 488.5,58.2 492.5,56.8 496.4,56.6 494.3,59.3 491.8,61.8 493.1,63.5 498.5,66.6 503.1,69.7 503.6,72.2 499.9,73.9 492.7,73.1 491.0,73.1 488.3,71.1 484.3,71.9 479.6,73.1 476.1,73.3"/>
<polygon points="473.7,73.9 470.2,74.2 468.3,75.3 467.8,75.9 469.7,75.6 473.3,75.6 475.2,74.7"/>
<polygon points="524.7,57.1 521.3,57.7 518.2,59.9 516.3,62.7 516.9,66.9 517.1,68.6 521.3,73.9 524.0,75.6 524.6,75.3 522.6,78.4 522.0,81.2 524.7,84.1 528.8,85.8 532.4,85.5 534.7,84.4 534.2,82.4 532.1,79.5 531.3,77.0 530.7,74.2 529.6,71.9 529.0,69.7 525.7,66.6 523.0,64.1 524.8,62.1 528.4,58.5 525.6,57.1"/>
<polygon points="545.6,58.0 543.7,59.9 541.5,62.7 542.0,65.5 542.9,66.6 544.2,63.8 546.3,61.3"/>
<polygon points="483.6,105.2 485.1,109.3 487.0,113.0 488.3,116.2 491.8,121.8 495.3,127.8 496.1,130.6 496.2,134.6 499.6,139.2 501.6,143.4 502.3,146.0 505.8,149.1 510.8,153.4 512.4,154.8 512.2,157.3 511.7,157.6 513.5,159.1 516.9,160.6 524.6,159.1 527.2,158.2 532.8,156.8 533.2,160.8 532.0,164.7 529.5,170.4 526.2,176.1 522.4,181.8 518.0,184.6 512.0,188.9 509.4,190.3 509.2,190.3 571.8,190.3 568.5,118.4 557.1,118.4 553.3,118.1 548.2,117.6 545.4,114.7 543.5,113.0 541.6,114.7 537.1,114.4 531.3,111.3 529.3,108.2 525.9,105.4 523.4,105.1 522.2,106.8 523.9,109.3 526.7,113.6 528.4,115.6 529.5,116.7 530.9,116.0 532.1,118.4 531.7,120.4 534.8,121.8 539.3,120.7 541.4,118.4 543.7,115.3 543.9,117.6 545.1,120.7 550.1,123.3 553.4,126.4 551.6,130.6 551.2,132.1 548.9,136.6 545.2,139.4 539.7,142.0 535.3,146.3 527.2,149.1 523.1,151.9 516.7,153.9 512.8,154.4 512.2,152.5 511.3,148.3 510.0,142.3 507.6,138.6 504.9,133.8 501.0,129.2 500.3,126.1 497.9,121.8 495.2,117.9 492.0,113.9 489.9,110.8 489.6,106.5 488.4,110.8 488.1,111.6 485.6,109.1"/>
<polygon points="404.0,25.7 399.8,25.7 397.6,28.3 396.3,30.7 397.2,33.1 398.2,34.4 397.8,35.5 401.0,36.0 401.6,37.7 401.6,39.6 398.2,39.8 398.0,41.2 397.3,43.1 396.4,44.2 398.9,44.5 400.6,45.0 398.2,45.5 396.6,47.2 394.4,48.7 397.9,48.0 399.8,47.2 403.0,46.9 405.7,46.6 408.2,46.6 410.7,45.8 410.8,45.0 409.8,43.9 411.5,43.1 411.9,41.5 409.1,40.8 408.6,39.3 408.2,37.7 406.4,36.3 405.6,34.2 403.7,32.6 403.6,31.8 404.4,30.7 406.0,28.6 403.2,28.1 401.6,27.6 404.0,25.7"/>
<polygon points="393.2,34.4 391.0,34.7 390.1,36.3 386.9,37.1 386.2,39.6 386.9,41.7 385.1,43.1 385.9,44.5 387.7,44.7 390.0,43.9 392.4,43.1 394.0,42.8 394.9,39.8 394.8,37.9 396.6,36.0 395.6,34.7"/>
<polygon points="436.4,32.3 436.3,33.4 435.4,34.7 434.3,35.2 433.1,33.9 434.2,32.8"/>
<polygon points="431.6,33.6 432.4,35.0 430.8,35.2 430.3,34.2"/>
<polygon points="450.2,27.6 449.7,29.4 448.5,29.9 449.3,28.1"/>
<polygon points="359.9,109.6 360.3,110.5 361.6,109.9 361.7,109.1"/>
<polygon points="362.8,110.2 363.0,111.3 363.6,110.5"/>
<polygon points="367.2,108.8 366.3,110.5 367.4,109.6"/>
<polygon points="368.6,107.3 367.8,108.2 368.8,107.9"/>
<polygon points="427.3,68.3 427.5,69.4 426.6,72.8 425.7,72.2 425.3,70.8 425.6,69.4"/>
<polygon points="426.6,73.2 427.9,75.3 427.3,79.0 424.9,79.8 424.5,77.0 424.1,75.0 425.6,73.9"/>
<polygon points="441.7,81.5 440.9,82.7 440.9,85.2 440.4,86.1 438.2,84.9 434.1,83.5 434.7,82.1 436.4,81.8 438.3,82.4"/>
<polygon points="461.1,89.2 461.1,90.3 464.1,90.9 467.5,90.9 467.7,90.0 464.5,89.7"/>
<polygon points="488.0,89.2 486.6,90.6 484.2,92.0 482.7,91.7 482.4,90.6 484.1,89.7 486.5,90.0"/>
<polygon points="411.8,77.0 412.5,77.8 411.5,78.7 410.1,77.8"/>
<polygon points="438.1,23.6 439.7,24.6 436.7,26.2 436.6,25.2"/>
<polygon points="441.4,24.9 439.8,27.8 440.7,27.0"/>
<polygon points="485.0,122.4 482.8,126.4 481.3,127.8 483.8,125.5"/>
<polygon points="507.6,79.8 505.9,81.5 509.2,81.0"/>
<polygon points="514.1,81.8 513.6,84.4 515.0,83.8"/>
<polygon points="496.9,155.4 496.7,157.3 497.7,156.8"/>
<polygon points="437.1,151.4 437.6,153.9 439.4,153.1 438.4,151.1"/>
<polygon points="473.9,20.0 475.1,22.0 478.2,21.2 476.9,19.5"/>
</g>
<polygon points="369.3,22.0 535.3,22.0 535.3,22.0 536.8,27.3 538.3,32.6 539.7,37.9 541.1,43.4 542.5,48.8 543.7,54.4 544.8,59.9 545.9,65.5 547.0,71.1 548.1,76.7 548.9,82.4 549.8,88.0 550.6,93.7 551.3,99.4 552.0,105.1 552.6,110.8 553.1,116.4 553.6,122.1 554.0,127.8 554.4,133.5 554.7,139.2 555.0,144.8 555.3,150.5 555.5,156.2 555.7,161.9 555.9,167.6 556.0,173.3 556.1,178.9 556.1,184.6 556.2,190.3 348.4,190.3 348.4,190.3 348.5,184.6 348.5,178.9 348.6,173.3 348.7,167.6 348.9,161.9 349.1,156.2 349.3,150.5 349.6,144.8 349.9,139.2 350.2,133.5 350.6,127.8 351.0,122.1 351.5,116.4 352.0,110.8 352.6,105.1 353.3,99.4 354.0,93.7 354.8,88.0 355.7,82.4 356.5,76.7 357.6,71.1 358.7,65.5 359.8,59.9 360.9,54.4 362.1,48.8 363.5,43.4 364.9,37.9 366.3,32.6 367.8,27.3 369.3,22.0" fill="none" stroke="#111" stroke-width="1.3"/>
<text x="344.12" y="27.00" font-size="9" font-family="Liberation Sans, sans-serif" fill="#111" stroke="#111" stroke-width="0.15">60</text><circle cx="356.38" cy="18.90" r="0.95" fill="none" stroke="#444" stroke-width="0.7"/><text x="360.23" y="27.00" font-size="9" font-family="Liberation Sans, sans-serif" fill="#111" stroke="#111" stroke-width="0.15">N</text>
<text x="336.92" y="53.81" font-size="9" font-family="Liberation Sans, sans-serif" fill="#111" stroke="#111" stroke-width="0.15">50</text><circle cx="349.18" cy="45.71" r="0.95" fill="none" stroke="#444" stroke-width="0.7"/><text x="353.03" y="53.81" font-size="9" font-family="Liberation Sans, sans-serif" fill="#111" stroke="#111" stroke-width="0.15">N</text>
<text x="331.34" y="81.71" font-size="9" font-family="Liberation Sans, sans-serif" fill="#111" stroke="#111" stroke-width="0.15">40</text><circle cx="343.60" cy="73.61" r="0.95" fill="none" stroke="#444" stroke-width="0.7"/><text x="347.45" y="81.71" font-size="9" font-family="Liberation Sans, sans-serif" fill="#111" stroke="#111" stroke-width="0.15">N</text>
<text x="327.35" y="110.07" font-size="9" font-family="Liberation Sans, sans-serif" fill="#111" stroke="#111" stroke-width="0.15">30</text><circle cx="339.61" cy="101.97" r="0.95" fill="none" stroke="#444" stroke-width="0.7"/><text x="343.46" y="110.07" font-size="9" font-family="Liberation Sans, sans-serif" fill="#111" stroke="#111" stroke-width="0.15">N</text>
<text x="325.04" y="138.48" font-size="9" font-family="Liberation Sans, sans-serif" fill="#111" stroke="#111" stroke-width="0.15">20</text><circle cx="337.30" cy="130.38" r="0.95" fill="none" stroke="#444" stroke-width="0.7"/><text x="341.15" y="138.48" font-size="9" font-family="Liberation Sans, sans-serif" fill="#111" stroke="#111" stroke-width="0.15">N</text>
<text x="323.67" y="166.89" font-size="9" font-family="Liberation Sans, sans-serif" fill="#111" stroke="#111" stroke-width="0.15">10</text><circle cx="335.93" cy="158.79" r="0.95" fill="none" stroke="#444" stroke-width="0.7"/><text x="339.78" y="166.89" font-size="9" font-family="Liberation Sans, sans-serif" fill="#111" stroke="#111" stroke-width="0.15">N</text>
<text x="330.00" y="194.60" font-size="9" font-family="Liberation Sans, sans-serif" fill="#111" stroke="#111" stroke-width="0.15">0</text><circle cx="337.25" cy="186.50" r="0.95" fill="none" stroke="#444" stroke-width="0.7"/>
<text x="336.10" y="202.40" font-size="9" font-family="Liberation Sans, sans-serif" fill="#111" stroke="#111" stroke-width="0.15">20</text><circle cx="348.35" cy="194.30" r="0.95" fill="none" stroke="#444" stroke-width="0.7"/><text x="352.21" y="202.40" font-size="9" font-family="Liberation Sans, sans-serif" fill="#111" stroke="#111" stroke-width="0.15">W</text>
<text x="362.07" y="202.40" font-size="9" font-family="Liberation Sans, sans-serif" fill="#111" stroke="#111" stroke-width="0.15">10</text><circle cx="374.33" cy="194.30" r="0.95" fill="none" stroke="#444" stroke-width="0.7"/><text x="378.18" y="202.40" font-size="9" font-family="Liberation Sans, sans-serif" fill="#111" stroke="#111" stroke-width="0.15">W</text>
<text x="396.05" y="202.40" font-size="9" font-family="Liberation Sans, sans-serif" fill="#111" stroke="#111" stroke-width="0.15">0</text><circle cx="403.30" cy="194.30" r="0.95" fill="none" stroke="#444" stroke-width="0.7"/>
<text x="415.27" y="202.40" font-size="9" font-family="Liberation Sans, sans-serif" fill="#111" stroke="#111" stroke-width="0.15">10</text><circle cx="427.53" cy="194.30" r="0.95" fill="none" stroke="#444" stroke-width="0.7"/><text x="431.38" y="202.40" font-size="9" font-family="Liberation Sans, sans-serif" fill="#111" stroke="#111" stroke-width="0.15">E</text>
<text x="441.24" y="202.40" font-size="9" font-family="Liberation Sans, sans-serif" fill="#111" stroke="#111" stroke-width="0.15">20</text><circle cx="453.50" cy="194.30" r="0.95" fill="none" stroke="#444" stroke-width="0.7"/><text x="457.35" y="202.40" font-size="9" font-family="Liberation Sans, sans-serif" fill="#111" stroke="#111" stroke-width="0.15">E</text>
<text x="467.22" y="202.40" font-size="9" font-family="Liberation Sans, sans-serif" fill="#111" stroke="#111" stroke-width="0.15">30</text><circle cx="479.48" cy="194.30" r="0.95" fill="none" stroke="#444" stroke-width="0.7"/><text x="483.33" y="202.40" font-size="9" font-family="Liberation Sans, sans-serif" fill="#111" stroke="#111" stroke-width="0.15">E</text>
<text x="493.19" y="202.40" font-size="9" font-family="Liberation Sans, sans-serif" fill="#111" stroke="#111" stroke-width="0.15">40</text><circle cx="505.45" cy="194.30" r="0.95" fill="none" stroke="#444" stroke-width="0.7"/><text x="509.30" y="202.40" font-size="9" font-family="Liberation Sans, sans-serif" fill="#111" stroke="#111" stroke-width="0.15">E</text>
<text x="519.17" y="202.40" font-size="9" font-family="Liberation Sans, sans-serif" fill="#111" stroke="#111" stroke-width="0.15">50</text><circle cx="531.43" cy="194.30" r="0.95" fill="none" stroke="#444" stroke-width="0.7"/><text x="535.28" y="202.40" font-size="9" font-family="Liberation Sans, sans-serif" fill="#111" stroke="#111" stroke-width="0.15">E</text>
<text x="545.14" y="202.40" font-size="9" font-family="Liberation Sans, sans-serif" fill="#111" stroke="#111" stroke-width="0.15">60</text><circle cx="557.40" cy="194.30" r="0.95" fill="none" stroke="#444" stroke-width="0.7"/><text x="561.25" y="202.40" font-size="9" font-family="Liberation Sans, sans-serif" fill="#111" stroke="#111" stroke-width="0.15">E</text>
<defs><linearGradient id="cbB2" x1="0" x2="1" y1="0" y2="0"><stop offset="0.000" stop-color="#800000"/><stop offset="0.031" stop-color="#9f0000"/><stop offset="0.062" stop-color="#bf0000"/><stop offset="0.094" stop-color="#df0000"/><stop offset="0.125" stop-color="#ff0000"/><stop offset="0.156" stop-color="#ff2000"/><stop offset="0.188" stop-color="#ff4000"/><stop offset="0.219" stop-color="#ff6000"/><stop offset="0.250" stop-color="#ff8000"/><stop offset="0.281" stop-color="#ff9f00"/><stop offset="0.312" stop-color="#ffbf00"/><stop offset="0.344" stop-color="#ffdf00"/><stop offset="0.375" stop-color="#ffff00"/><stop offset="0.406" stop-color="#dfff20"/><stop offset="0.438" stop-color="#bfff40"/><stop offset="0.469" stop-color="#9fff60"/><stop offset="0.500" stop-color="#80ff80"/><stop offset="0.531" stop-color="#60ff9f"/><stop offset="0.562" stop-color="#40ffbf"/><stop offset="0.594" stop-color="#20ffdf"/><stop offset="0.625" stop-color="#00ffff"/><stop offset="0.656" stop-color="#00dfff"/><stop offset="0.688" stop-color="#00bfff"/><stop offset="0.719" stop-color="#009fff"/><stop offset="0.750" stop-color="#0080ff"/><stop offset="0.781" stop-color="#0060ff"/><stop offset="0.812" stop-color="#0040ff"/><stop offset="0.844" stop-color="#0020ff"/><stop offset="0.875" stop-color="#0000ff"/><stop offset="0.906" stop-color="#0000df"/><stop offset="0.938" stop-color="#0000bf"/><stop offset="0.969" stop-color="#00009f"/><stop offset="1.000" stop-color="#000080"/></linearGradient></defs>
<rect x="352.4" y="213.3" width="191.5" height="5.0" fill="url(#cbB2)" stroke="#222" stroke-width="0.6"/>
<text x="352.4" y="229.5" text-anchor="middle" font-size="9" font-family="Liberation Sans, sans-serif" fill="#111">0</text>
<line x1="390.7" x2="390.7" y1="213.3" y2="214.9" stroke="#222" stroke-width="0.7"/>
<line x1="390.7" x2="390.7" y1="216.7" y2="218.3" stroke="#222" stroke-width="0.7"/>
<text x="390.7" y="229.5" text-anchor="middle" font-size="9" font-family="Liberation Sans, sans-serif" fill="#111">0.1</text>
<line x1="429.0" x2="429.0" y1="213.3" y2="214.9" stroke="#222" stroke-width="0.7"/>
<line x1="429.0" x2="429.0" y1="216.7" y2="218.3" stroke="#222" stroke-width="0.7"/>
<text x="429.0" y="229.5" text-anchor="middle" font-size="9" font-family="Liberation Sans, sans-serif" fill="#111">0.2</text>
<line x1="467.3" x2="467.3" y1="213.3" y2="214.9" stroke="#222" stroke-width="0.7"/>
<line x1="467.3" x2="467.3" y1="216.7" y2="218.3" stroke="#222" stroke-width="0.7"/>
<text x="467.3" y="229.5" text-anchor="middle" font-size="9" font-family="Liberation Sans, sans-serif" fill="#111">0.3</text>
<line x1="505.6" x2="505.6" y1="213.3" y2="214.9" stroke="#222" stroke-width="0.7"/>
<line x1="505.6" x2="505.6" y1="216.7" y2="218.3" stroke="#222" stroke-width="0.7"/>
<text x="505.6" y="229.5" text-anchor="middle" font-size="9" font-family="Liberation Sans, sans-serif" fill="#111">0.4</text>
<text x="543.9" y="229.5" text-anchor="middle" font-size="9" font-family="Liberation Sans, sans-serif" fill="#111">0.5</text>
</g></svg></body></html>
